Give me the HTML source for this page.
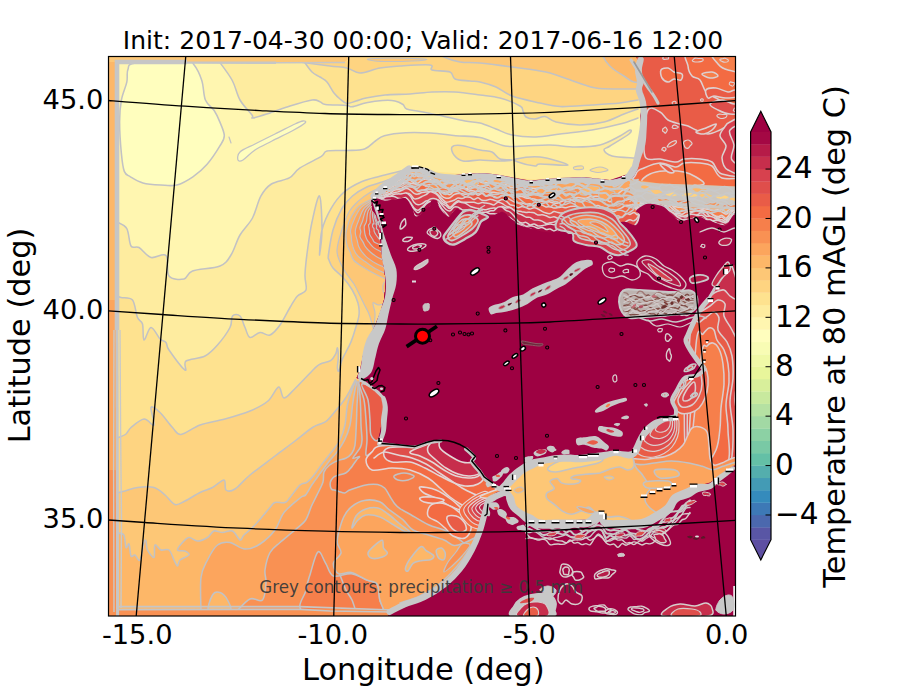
<!DOCTYPE html>
<html><head><meta charset="utf-8"><title>Temperature at 80 mAGL</title>
<style>
html,body{margin:0;padding:0;background:#fff;}
body{width:900px;height:700px;overflow:hidden;}
svg{display:block;}
text{font-family:"DejaVu Sans","Liberation Sans",sans-serif;fill:#000;}
</style></head><body>
<svg width="900" height="700" viewBox="0 0 900 700">
<rect width="900" height="700" fill="#fff"/>
<defs><clipPath id="ax"><rect x="108.5" y="56.5" width="627.0" height="559.5"/></clipPath><clipPath id="inner"><path d="M116.5 62.3 L345 62.3 L352 56 L760 56 L760 609 L116.5 609Z"/></clipPath></defs>
<g clip-path="url(#ax)">
<rect x="100" y="50" width="640" height="570" fill="#fdb768"/>
<rect x="100" y="300" width="20" height="170" fill="#fca55d"/>
<rect x="100" y="470" width="20" height="160" fill="#f99153"/>
<rect x="100" y="605" width="640" height="20" fill="#f99153"/>
<rect x="100" y="50" width="640" height="12" fill="#fdc776"/>
<rect x="116.5" y="62.3" width="640" height="546.7" fill="#fff6b0"/>
<g clip-path="url(#inner)">
<path d="M185.7 60.7C195.3 60.9 190.9 61 193.6 64.3C196.3 67.6 199.8 74.5 201.8 80.4C203.8 86.4 203.3 95 205.4 100C207.5 105 211.9 107.1 214.3 110.7C216.7 114.3 217.9 117.2 219.6 121.4C221.3 125.6 224.3 131.5 224.3 135.7C224.3 139.9 222.5 141.6 219.6 146.4C216.7 151.2 211.5 159.2 207.1 164.3C202.7 169.4 197.9 173.4 192.9 176.8C187.9 180.2 182.2 183.6 176.8 185C171.4 186.4 166.3 185.3 160.7 185C155 184.7 147.9 184.3 142.9 182.9C137.9 181.5 133.5 178.7 130.4 176.8C127.3 174.9 125.8 175.3 124.3 171.4C122.8 167.5 122.2 161.9 121.4 153.6C120.6 145.3 119.6 130.3 119.6 121.4C119.6 112.5 120.2 106.5 121.4 100C122.6 93.5 125.7 87.2 126.8 82.1C127.9 77 126.4 72.8 127.9 69.6C129.4 66.4 126.1 64.4 135.7 62.9C145.3 61.4 176 60.5 185.7 60.7Z" fill="#fffebe" stroke="#c2c2c4" stroke-width="1.55" stroke-linejoin="round" stroke-linecap="round"/>
<path d="M238 160C237.5 158.7 237.2 154.7 240 152C242.8 149.3 249.2 147 255 144C260.8 141 268.3 137.3 275 134C281.7 130.7 290.3 126.2 295 124C299.7 121.8 301.3 121.2 303 121C304.7 120.8 306.8 121.3 305 123C303.2 124.7 297.5 128 292 131C286.5 134 278.2 137.8 272 141C265.8 144.2 259.8 146.8 255 150C250.2 153.2 245.8 158.3 243 160C240.2 161.7 238.5 161.3 238 160Z" fill="#fffebe" stroke="#c2c2c4" stroke-width="1.3" stroke-linejoin="round" stroke-linecap="round"/>
<path d="M229 137 L231 143" fill="none" stroke="#c2c2c4" stroke-width="1.2" stroke-linejoin="round" stroke-linecap="round"/>
<path d="M218 60C220.3 63.3 228.3 73.3 232 80C235.7 86.7 236.7 94.2 240 100C243.3 105.8 249.8 112 252 115C254.2 118 250 118.3 253 118C256 117.7 263.8 115 270 113C276.2 111 283 108.2 290 106C297 103.8 307 100.7 312 100C317 99.3 317.8 101 320 101.8C322.2 102.5 320.9 103.9 325.4 104.5C329.9 105.1 342.4 105 346.8 105.4C351.2 105.8 348.7 107.2 352 106.8C355.3 106.3 361.3 103.8 366.4 102.7C371.5 101.7 377.7 100.8 382.5 100.5C387.3 100.2 391.6 100.2 395 100.9C398.4 101.6 401.1 103.2 403 104.5C404.9 105.8 403.8 107.8 406.6 109C409.4 110.2 414 110.4 420 111.6C426 112.8 435 114.4 442.5 116C450 117.6 458.8 119.8 465 121C471.2 122.2 474.8 121.7 480 123C485.2 124.3 490.7 127 496 129C501.3 131 505.3 133.7 512 135C518.7 136.3 528 137.2 536 137C544 136.8 550.7 135.2 560 134C569.3 132.8 582 131.7 592 130C602 128.3 612.3 126 620 124C627.7 122 635 119 638 118 L660 118 L660 40 L218 40Z" fill="#feec9f"/>
<path d="M218 60C220.3 63.3 228.3 73.3 232 80C235.7 86.7 236.7 94.2 240 100C243.3 105.8 249.8 112 252 115C254.2 118 250 118.3 253 118C256 117.7 263.8 115 270 113C276.2 111 283 108.2 290 106C297 103.8 307 100.7 312 100C317 99.3 317.8 101 320 101.8C322.2 102.5 320.9 103.9 325.4 104.5C329.9 105.1 342.4 105 346.8 105.4C351.2 105.8 348.7 107.2 352 106.8C355.3 106.3 361.3 103.8 366.4 102.7C371.5 101.7 377.7 100.8 382.5 100.5C387.3 100.2 391.6 100.2 395 100.9C398.4 101.6 401.1 103.2 403 104.5C404.9 105.8 403.8 107.8 406.6 109C409.4 110.2 414 110.4 420 111.6C426 112.8 435 114.4 442.5 116C450 117.6 458.8 119.8 465 121C471.2 122.2 474.8 121.7 480 123C485.2 124.3 490.7 127 496 129C501.3 131 505.3 133.7 512 135C518.7 136.3 528 137.2 536 137C544 136.8 550.7 135.2 560 134C569.3 132.8 582 131.7 592 130C602 128.3 612.3 126 620 124C627.7 122 635 119 638 118" fill="none" stroke="#c2c2c4" stroke-width="1.55" stroke-linejoin="round" stroke-linecap="round"/>
<path d="M303 60C304.5 62 309.2 69.2 312 72C314.8 74.8 317.5 75.3 320 77C322.5 78.7 324.7 79.3 327 82C329.3 84.7 331.8 90.2 334 93C336.2 95.8 337.8 97.2 340 99C342.2 100.8 344.3 103.2 347 103.5C349.7 103.8 352.8 101.9 356 101C359.2 100.1 361.2 99 366 98C370.8 97 377.7 95.7 385 95C392.3 94.3 402.2 94.5 410 94C417.8 93.5 424.5 92.3 432 92C439.5 91.7 447 91.5 455 92C463 92.5 472.5 94 480 95C487.5 96 493.3 96.2 500 98C506.7 99.8 516.2 103.8 520 106C523.8 108.2 522 109.2 523 111C524 112.8 524 115.7 526 117C528 118.3 531.8 119.1 535 119C538.2 118.9 541.5 116 545 116.5C548.5 117 550.2 120.6 556 122C561.8 123.4 572 125 580 125C588 125 596.7 123.8 604 122C611.3 120.2 618.3 116.2 624 114C629.7 111.8 635.7 109.8 638 109 L660 109 L660 40 L266 40Z" fill="#fee28f"/>
<path d="M303 60C304.5 62 309.2 69.2 312 72C314.8 74.8 317.5 75.3 320 77C322.5 78.7 324.7 79.3 327 82C329.3 84.7 331.8 90.2 334 93C336.2 95.8 337.8 97.2 340 99C342.2 100.8 344.3 103.2 347 103.5C349.7 103.8 352.8 101.9 356 101C359.2 100.1 361.2 99 366 98C370.8 97 377.7 95.7 385 95C392.3 94.3 402.2 94.5 410 94C417.8 93.5 424.5 92.3 432 92C439.5 91.7 447 91.5 455 92C463 92.5 472.5 94 480 95C487.5 96 493.3 96.2 500 98C506.7 99.8 516.2 103.8 520 106C523.8 108.2 522 109.2 523 111C524 112.8 524 115.7 526 117C528 118.3 531.8 119.1 535 119C538.2 118.9 541.5 116 545 116.5C548.5 117 550.2 120.6 556 122C561.8 123.4 572 125 580 125C588 125 596.7 123.8 604 122C611.3 120.2 618.3 116.2 624 114C629.7 111.8 635.7 109.8 638 109" fill="none" stroke="#c2c2c4" stroke-width="1.55" stroke-linejoin="round" stroke-linecap="round"/>
<path d="M300 62C305 62.7 322.2 65 330 66C337.8 67 342 66.8 347 68C352 69.2 354.5 73 360 73C365.5 73 373.3 69.2 380 68C386.7 66.8 391.7 66.5 400 66C408.3 65.5 424.7 64.3 430 65C435.3 65.7 428.7 68.8 432 70C435.3 71.2 446.2 70.5 450 72C453.8 73.5 451.7 77.5 455 79C458.3 80.5 465.8 80.5 470 81C474.2 81.5 475.7 81 480 82C484.3 83 490.7 84.7 496 87C501.3 89.3 504.7 93.3 512 96C519.3 98.7 532 101.2 540 103C548 104.8 551.3 106.3 560 106.6C568.7 106.9 582 105.6 592 105C602 104.4 612.3 103.8 620 103C627.7 102.2 635 100.5 638 100 L660 100 L660 40 L300 40Z" fill="#fed481"/>
<path d="M300 62C305 62.7 322.2 65 330 66C337.8 67 342 66.8 347 68C352 69.2 354.5 73 360 73C365.5 73 373.3 69.2 380 68C386.7 66.8 391.7 66.5 400 66C408.3 65.5 424.7 64.3 430 65C435.3 65.7 428.7 68.8 432 70C435.3 71.2 446.2 70.5 450 72C453.8 73.5 451.7 77.5 455 79C458.3 80.5 465.8 80.5 470 81C474.2 81.5 475.7 81 480 82C484.3 83 490.7 84.7 496 87C501.3 89.3 504.7 93.3 512 96C519.3 98.7 532 101.2 540 103C548 104.8 551.3 106.3 560 106.6C568.7 106.9 582 105.6 592 105C602 104.4 612.3 103.8 620 103C627.7 102.2 635 100.5 638 100" fill="none" stroke="#c2c2c4" stroke-width="1.55" stroke-linejoin="round" stroke-linecap="round"/>
<path d="M434 50C435.7 51.2 439.7 55 444 57C448.3 59 454 61 460 62C466 63 471.3 62.2 480 63C488.7 63.8 501 65.5 512 67C523 68.5 535.3 69.5 546 72C556.7 74.5 567.7 79.3 576 82C584.3 84.7 588.7 86.8 596 88C603.3 89.2 613.3 88.8 620 89C626.7 89.2 633.3 89 636 89 L660 89 L660 40 L434 40Z" fill="#fdc776"/>
<path d="M434 50C435.7 51.2 439.7 55 444 57C448.3 59 454 61 460 62C466 63 471.3 62.2 480 63C488.7 63.8 501 65.5 512 67C523 68.5 535.3 69.5 546 72C556.7 74.5 567.7 79.3 576 82C584.3 84.7 588.7 86.8 596 88C603.3 89.2 613.3 88.8 620 89C626.7 89.2 633.3 89 636 89" fill="none" stroke="#c2c2c4" stroke-width="1.55" stroke-linejoin="round" stroke-linecap="round"/>
<path d="M604 58C605.3 61 608.7 65 612 68C615.3 71 620.3 73.7 624 76C627.7 78.3 629.7 81.3 634 82C638.3 82.7 647.3 85.3 650 80C652.7 74.7 657.7 55 650 50C642.3 45 611.7 48.7 604 50C596.3 51.3 602.7 55 604 58Z" fill="#fdb768" stroke="#c2c2c4" stroke-width="1.55" stroke-linejoin="round" stroke-linecap="round"/>
<path d="M117 222C118.6 223.1 124.5 224.6 126.8 228.6C129.1 232.6 129 242.8 131 246C133 249.2 135.7 245.6 139 247.5C142.3 249.4 146.5 256.2 151 257.5C155.5 258.8 163 252.4 166 255.5C169 258.6 166 272.1 169 276C172 279.9 180.1 279.8 184 279C187.9 278.2 186.5 273.2 192.5 271C198.5 268.8 213.6 268.7 220 266C226.4 263.3 227.7 260.2 231 255C234.3 249.8 236.4 241.2 240 235C243.6 228.8 249.1 224.4 252.5 218C255.9 211.6 257.6 202.1 260.7 196.4C263.8 190.7 266.6 187.1 271.4 184C276.2 180.9 284.5 180.6 289.3 177.9C294.1 175.2 294.6 171.5 300 167.9C305.4 164.3 316.9 159.2 321.4 156.4C325.9 153.6 322.8 152 327 151C331.2 150 340.5 150.8 346.8 150.5C353.1 150.2 359.8 150.6 364.6 149C369.4 147.4 372.1 143.2 375.4 141C378.7 138.8 379.2 137.1 384.3 135.7C389.4 134.3 398 133.1 405.7 132.7C413.4 132.2 422.4 132.5 430.7 133C439 133.5 447.5 134.9 455.7 135.7C463.9 136.4 471.8 135.8 480 137.5C488.2 139.2 497.5 144.6 505 146C512.5 147.4 517.5 146.2 525 146C532.5 145.8 541.7 144.8 550 145C558.3 145.2 566.7 147 575 147C583.3 147 592.5 146.8 600 145C607.5 143.2 615 138.5 620 136C625 133.5 628.5 130.3 630 130C631.5 129.7 632.3 131.3 629 134C625.7 136.7 614.2 143.3 610 146C605.8 148.7 603.7 148.3 604 150C604.3 151.7 607 154.7 612 156C617 157.3 630.3 157.7 634 158 L660 158 L760 640 L100 640 L100 222Z" fill="#feec9f"/>
<path d="M117 222C118.6 223.1 124.5 224.6 126.8 228.6C129.1 232.6 129 242.8 131 246C133 249.2 135.7 245.6 139 247.5C142.3 249.4 146.5 256.2 151 257.5C155.5 258.8 163 252.4 166 255.5C169 258.6 166 272.1 169 276C172 279.9 180.1 279.8 184 279C187.9 278.2 186.5 273.2 192.5 271C198.5 268.8 213.6 268.7 220 266C226.4 263.3 227.7 260.2 231 255C234.3 249.8 236.4 241.2 240 235C243.6 228.8 249.1 224.4 252.5 218C255.9 211.6 257.6 202.1 260.7 196.4C263.8 190.7 266.6 187.1 271.4 184C276.2 180.9 284.5 180.6 289.3 177.9C294.1 175.2 294.6 171.5 300 167.9C305.4 164.3 316.9 159.2 321.4 156.4C325.9 153.6 322.8 152 327 151C331.2 150 340.5 150.8 346.8 150.5C353.1 150.2 359.8 150.6 364.6 149C369.4 147.4 372.1 143.2 375.4 141C378.7 138.8 379.2 137.1 384.3 135.7C389.4 134.3 398 133.1 405.7 132.7C413.4 132.2 422.4 132.5 430.7 133C439 133.5 447.5 134.9 455.7 135.7C463.9 136.4 471.8 135.8 480 137.5C488.2 139.2 497.5 144.6 505 146C512.5 147.4 517.5 146.2 525 146C532.5 145.8 541.7 144.8 550 145C558.3 145.2 566.7 147 575 147C583.3 147 592.5 146.8 600 145C607.5 143.2 615 138.5 620 136C625 133.5 628.5 130.3 630 130C631.5 129.7 632.3 131.3 629 134C625.7 136.7 614.2 143.3 610 146C605.8 148.7 603.7 148.3 604 150C604.3 151.7 607 154.7 612 156C617 157.3 630.3 157.7 634 158" fill="none" stroke="#c2c2c4" stroke-width="1.55" stroke-linejoin="round" stroke-linecap="round"/>
<path d="M452 147C453.2 145.4 456.3 145 461 145.5C465.7 146 474.8 148.9 480 150C485.2 151.1 488.7 150.5 492 152C495.3 153.5 496.7 157.7 500 159C503.3 160.3 512.7 159.7 512 160C511.3 160.3 501.3 161 496 161C490.7 161 485.5 160 480 160C474.5 160 467.3 161.8 463 161C458.7 160.2 455.8 157.3 454 155C452.2 152.7 450.8 148.6 452 147Z" fill="#fee28f" stroke="#c2c2c4" stroke-width="1.55" stroke-linejoin="round" stroke-linecap="round"/>
<path d="M516 159C519.7 158.2 531.3 156 540 157C548.7 158 568 163.8 568 165C568 166.2 545.5 163.8 540 164C534.5 164.2 538.7 166.3 535 166C531.3 165.7 521.2 163.2 518 162C514.8 160.8 512.3 159.8 516 159Z" fill="#fee28f" stroke="#c2c2c4" stroke-width="1.55" stroke-linejoin="round" stroke-linecap="round"/>
<path d="M574 167C575.2 166.4 580.5 165.7 582 166C583.5 166.3 584.2 168.4 583 169C581.8 169.6 576.5 169.8 575 169.5C573.5 169.2 572.8 167.6 574 167Z" fill="#fee28f" stroke="#c2c2c4" stroke-width="1.1" stroke-linejoin="round" stroke-linecap="round"/>
<path d="M590 170C590.3 169.1 597 167 600 167C603 167 608.3 169.1 608 170C607.7 170.9 601 172.5 598 172.5C595 172.5 589.7 170.9 590 170Z" fill="#fee28f" stroke="#c2c2c4" stroke-width="1.1" stroke-linejoin="round" stroke-linecap="round"/>
<path d="M368 59C370.5 58.5 382.7 58.1 390 58C397.3 57.9 405.8 58.2 412 58.5C418.2 58.8 427 59.1 427 59.5C427 59.9 418.2 60.7 412 61C405.8 61.3 396.2 61.5 390 61.5C383.8 61.5 378.7 61.4 375 61C371.3 60.6 365.5 59.5 368 59Z" fill="#fdc776" stroke="#c2c2c4" stroke-width="1.1" stroke-linejoin="round" stroke-linecap="round"/>
<path d="M117 296C117.7 296.2 118.4 296.8 121 297.5C123.6 298.2 129.8 296.7 132.5 300C135.2 303.3 135.8 313.5 137.5 317.5C139.2 321.5 141.4 320.2 142.5 324C143.6 327.8 142.6 339.4 144 340C145.4 340.6 148.3 327.7 151 327.5C153.7 327.3 157.5 336.5 160 339C162.5 341.5 164.5 340.7 166 342.5C167.5 344.3 165.8 345.4 169 350C172.2 354.6 182.2 368.2 185 370C187.8 371.8 182.7 363.3 186 361C189.3 358.7 199.8 358.7 205 356C210.2 353.3 213.3 349.8 217.5 345C221.7 340.2 227.5 332.3 230 327.5C232.5 322.7 230.8 317.9 232.5 316C234.2 314.1 237.9 314.1 240 316C242.1 317.9 243.3 323.9 245 327.5C246.7 331.1 247.5 336.7 250 337.5C252.5 338.3 256.7 332.9 260 332.5C263.3 332.1 266.7 336.2 270 335C273.3 333.8 276.7 329.6 280 325C283.3 320.4 287.1 312.3 290 307.5C292.9 302.7 294.8 298.9 297.5 296C300.2 293.1 304.8 293.5 306 290C307.2 286.5 304.8 281.7 305 275C305.2 268.3 306.3 258.8 307.5 250C308.7 241.2 310 231 312 222C314 213 317.8 194.7 319.5 196C321.2 197.3 322 220.2 322 230C322 239.8 319.5 255 319.5 255C319.5 255 320.1 237.7 322 230C323.9 222.3 327.4 214.8 331 208.6C334.6 202.3 338.5 197 343.6 192.5C348.7 188 355.5 184.5 361.4 181.8C367.3 179.1 373.1 178 379 176.4C384.9 174.8 392.2 173.1 397 172C401.8 170.9 406.2 170 408 169.6 L700 192 L760 640 L100 640 L100 296Z" fill="#fee28f"/>
<path d="M117 296C117.7 296.2 118.4 296.8 121 297.5C123.6 298.2 129.8 296.7 132.5 300C135.2 303.3 135.8 313.5 137.5 317.5C139.2 321.5 141.4 320.2 142.5 324C143.6 327.8 142.6 339.4 144 340C145.4 340.6 148.3 327.7 151 327.5C153.7 327.3 157.5 336.5 160 339C162.5 341.5 164.5 340.7 166 342.5C167.5 344.3 165.8 345.4 169 350C172.2 354.6 182.2 368.2 185 370C187.8 371.8 182.7 363.3 186 361C189.3 358.7 199.8 358.7 205 356C210.2 353.3 213.3 349.8 217.5 345C221.7 340.2 227.5 332.3 230 327.5C232.5 322.7 230.8 317.9 232.5 316C234.2 314.1 237.9 314.1 240 316C242.1 317.9 243.3 323.9 245 327.5C246.7 331.1 247.5 336.7 250 337.5C252.5 338.3 256.7 332.9 260 332.5C263.3 332.1 266.7 336.2 270 335C273.3 333.8 276.7 329.6 280 325C283.3 320.4 287.1 312.3 290 307.5C292.9 302.7 294.8 298.9 297.5 296C300.2 293.1 304.8 293.5 306 290C307.2 286.5 304.8 281.7 305 275C305.2 268.3 306.3 258.8 307.5 250C308.7 241.2 310 231 312 222C314 213 317.8 194.7 319.5 196C321.2 197.3 322 220.2 322 230C322 239.8 319.5 255 319.5 255C319.5 255 320.1 237.7 322 230C323.9 222.3 327.4 214.8 331 208.6C334.6 202.3 338.5 197 343.6 192.5C348.7 188 355.5 184.5 361.4 181.8C367.3 179.1 373.1 178 379 176.4C384.9 174.8 392.2 173.1 397 172C401.8 170.9 406.2 170 408 169.6" fill="none" stroke="#c2c2c4" stroke-width="1.55" stroke-linejoin="round" stroke-linecap="round"/>
<path d="M117 438C118.5 437.3 123.7 435.8 126 434C128.3 432.2 128 430 131 427.5C134 425 140.2 419.4 144 419C147.8 418.6 152.8 426.9 154 425C155.2 423.1 150 409.6 151 407.5C152 405.4 156.4 409.2 160 412.5C163.6 415.8 169 423.8 172.5 427.5C176 431.2 176.4 434.9 181 434.5C185.6 434.1 192.7 427.6 200 425C207.3 422.4 216.7 421.3 225 419C233.3 416.7 242.8 414 250 411C257.2 408 263.2 405 268 401C272.8 397 275.9 387.5 278.6 387C281.3 386.5 281.3 397.7 284 398C286.7 398.3 289.6 393.8 294.6 389C299.6 384.2 309.7 373.2 314 369C318.3 364.8 317.5 365.4 320.3 364C323.1 362.6 328 362.4 330.6 360.7C333.2 359 334.6 356 335.7 353.9C336.8 351.8 337 347.3 337.4 347.9C337.8 348.5 338.3 354 338.3 357.3C338.3 360.6 337.3 365.3 337.4 367.6C337.5 369.9 338.3 372.1 339 371C339.7 369.9 340.5 363.9 341.7 360.7C342.9 357.5 344.4 355.1 346 352C347.6 348.9 349.5 345.6 351 341.9C352.5 338.2 353.7 334.5 355 330C356.3 325.5 358.5 319.5 359 315C359.5 310.5 359.2 307.2 358 303C356.8 298.8 354.5 293.8 352 289.5C349.5 285.2 346.2 281.1 343 277.5C339.8 273.9 335.3 270.9 333 268C330.7 265.1 329.8 262.2 329 260C328.2 257.8 327.7 260 328.4 255C329.1 250 330.8 237.7 333 230C335.2 222.3 338.6 214.3 341.8 208.6C345.1 202.9 348.3 199.6 352.5 196C356.7 192.4 361.7 189.4 366.8 187C371.9 184.6 378 183.6 383 181.8C388 180 394.7 177.3 397 176.4 L700 196 L760 640 L100 640 L100 438Z" fill="#fed481"/>
<path d="M117 438C118.5 437.3 123.7 435.8 126 434C128.3 432.2 128 430 131 427.5C134 425 140.2 419.4 144 419C147.8 418.6 152.8 426.9 154 425C155.2 423.1 150 409.6 151 407.5C152 405.4 156.4 409.2 160 412.5C163.6 415.8 169 423.8 172.5 427.5C176 431.2 176.4 434.9 181 434.5C185.6 434.1 192.7 427.6 200 425C207.3 422.4 216.7 421.3 225 419C233.3 416.7 242.8 414 250 411C257.2 408 263.2 405 268 401C272.8 397 275.9 387.5 278.6 387C281.3 386.5 281.3 397.7 284 398C286.7 398.3 289.6 393.8 294.6 389C299.6 384.2 309.7 373.2 314 369C318.3 364.8 317.5 365.4 320.3 364C323.1 362.6 328 362.4 330.6 360.7C333.2 359 334.6 356 335.7 353.9C336.8 351.8 337 347.3 337.4 347.9C337.8 348.5 338.3 354 338.3 357.3C338.3 360.6 337.3 365.3 337.4 367.6C337.5 369.9 338.3 372.1 339 371C339.7 369.9 340.5 363.9 341.7 360.7C342.9 357.5 344.4 355.1 346 352C347.6 348.9 349.5 345.6 351 341.9C352.5 338.2 353.7 334.5 355 330C356.3 325.5 358.5 319.5 359 315C359.5 310.5 359.2 307.2 358 303C356.8 298.8 354.5 293.8 352 289.5C349.5 285.2 346.2 281.1 343 277.5C339.8 273.9 335.3 270.9 333 268C330.7 265.1 329.8 262.2 329 260C328.2 257.8 327.7 260 328.4 255C329.1 250 330.8 237.7 333 230C335.2 222.3 338.6 214.3 341.8 208.6C345.1 202.9 348.3 199.6 352.5 196C356.7 192.4 361.7 189.4 366.8 187C371.9 184.6 378 183.6 383 181.8C388 180 394.7 177.3 397 176.4" fill="none" stroke="#c2c2c4" stroke-width="1.55" stroke-linejoin="round" stroke-linecap="round"/>
<path d="M383 187C380.8 187.9 374.2 190.1 370 192.5C365.8 194.9 361.5 198.2 358 201.4C354.5 204.7 351.7 207.2 349 212C346.3 216.8 343.8 223.7 341.8 230C339.8 236.3 337.3 244.7 337 250C336.7 255.3 338.5 258.2 340 262C341.5 265.8 343.7 269.3 346 273C348.3 276.7 351.7 280.2 354 284C356.3 287.8 358.3 292.4 360 295.7C361.7 299 362.6 301.1 364 304C365.4 306.9 367.4 310.1 368.6 313C369.8 315.9 370.6 318.7 371.4 321.4C372.2 324.1 373.1 328.6 373.6 329C374.1 329.4 374.1 326.7 374.3 324C374.5 321.3 375.2 316.5 375 313C374.8 309.5 372.4 304.3 373 303C373.6 301.7 376.1 305 378.6 305C381.1 305 386.4 303.3 388 303 L400 303 L400 187Z" fill="#fdc776"/>
<path d="M383 187C380.8 187.9 374.2 190.1 370 192.5C365.8 194.9 361.5 198.2 358 201.4C354.5 204.7 351.7 207.2 349 212C346.3 216.8 343.8 223.7 341.8 230C339.8 236.3 337.3 244.7 337 250C336.7 255.3 338.5 258.2 340 262C341.5 265.8 343.7 269.3 346 273C348.3 276.7 351.7 280.2 354 284C356.3 287.8 358.3 292.4 360 295.7C361.7 299 362.6 301.1 364 304C365.4 306.9 367.4 310.1 368.6 313C369.8 315.9 370.6 318.7 371.4 321.4C372.2 324.1 373.1 328.6 373.6 329C374.1 329.4 374.1 326.7 374.3 324C374.5 321.3 375.2 316.5 375 313C374.8 309.5 372.4 304.3 373 303C373.6 301.7 376.1 305 378.6 305C381.1 305 386.4 303.3 388 303" fill="none" stroke="#c2c2c4" stroke-width="1.2" stroke-linejoin="round" stroke-linecap="round"/>
<path d="M373 198.5C370.7 199.8 362.9 202.8 359.1 206C355.4 209.2 352.7 213.8 350.6 218C348.4 222.2 347.1 227.6 346.3 231C345.5 234.4 345.9 235.8 346 238.2C346.1 240.6 346.4 243.1 347.1 245.4C347.8 247.7 348.9 249.4 350 251.8C351.1 254.2 351.6 257.6 353.6 260C355.6 262.4 358.3 264 361.8 266.3C365.3 268.6 370.1 271.4 374.8 273.8C379.5 276.2 387.6 279.8 390.1 281 L400 281 L400 198Z" fill="#fdb768"/>
<path d="M373 198.5C370.7 199.8 362.9 202.8 359.1 206C355.4 209.2 352.7 213.8 350.6 218C348.4 222.2 347.1 227.6 346.3 231C345.5 234.4 345.9 235.8 346 238.2C346.1 240.6 346.4 243.1 347.1 245.4C347.8 247.7 348.9 249.4 350 251.8C351.1 254.2 351.6 257.6 353.6 260C355.6 262.4 358.3 264 361.8 266.3C365.3 268.6 370.1 271.4 374.8 273.8C379.5 276.2 387.6 279.8 390.1 281" fill="none" stroke="#c2c2c4" stroke-width="1.2" stroke-linejoin="round" stroke-linecap="round"/>
<path d="M373.4 199.5C371.4 200.8 364.5 204.1 361.3 207.3C358.1 210.5 356.2 215.2 354.4 218.9C352.6 222.7 351.1 226.9 350.6 229.8C350.1 232.7 351.1 234.1 351.3 236.2C351.5 238.3 351.4 239.9 351.8 242.2C352.2 244.4 352.9 247.4 353.9 249.7C354.9 252 356 254 357.9 256C359.8 258 362.2 259.4 365.1 261.5C368.1 263.6 371.5 266.4 375.6 268.7C379.7 270.9 387.2 273.9 389.5 275 L400 275 L400 198Z" fill="#fca55d"/>
<path d="M373.4 199.5C371.4 200.8 364.5 204.1 361.3 207.3C358.1 210.5 356.2 215.2 354.4 218.9C352.6 222.7 351.1 226.9 350.6 229.8C350.1 232.7 351.1 234.1 351.3 236.2C351.5 238.3 351.4 239.9 351.8 242.2C352.2 244.4 352.9 247.4 353.9 249.7C354.9 252 356 254 357.9 256C359.8 258 362.2 259.4 365.1 261.5C368.1 263.6 371.5 266.4 375.6 268.7C379.7 270.9 387.2 273.9 389.5 275" fill="none" stroke="#c2c2c4" stroke-width="1.2" stroke-linejoin="round" stroke-linecap="round"/>
<path d="M373.8 200.5C372.1 201.8 366.3 205.4 363.9 208.6C361.4 211.8 360.2 216.5 358.9 219.8C357.5 223.1 356.3 226.3 355.7 228.6C355.1 230.9 355.2 231.8 355.4 233.7C355.6 235.6 356.6 238 357.1 240.1C357.7 242.2 357.8 244.4 358.7 246.4C359.6 248.4 360.8 250.4 362.3 252.3C363.8 254.2 365.2 256 367.6 257.9C370 259.8 372.9 261.9 376.5 263.8C380.1 265.7 386.8 268.1 388.9 269 L400 269 L400 198Z" fill="#f99153"/>
<path d="M373.8 200.5C372.1 201.8 366.3 205.4 363.9 208.6C361.4 211.8 360.2 216.5 358.9 219.8C357.5 223.1 356.3 226.3 355.7 228.6C355.1 230.9 355.2 231.8 355.4 233.7C355.6 235.6 356.6 238 357.1 240.1C357.7 242.2 357.8 244.4 358.7 246.4C359.6 248.4 360.8 250.4 362.3 252.3C363.8 254.2 365.2 256 367.6 257.9C370 259.8 372.9 261.9 376.5 263.8C380.1 265.7 386.8 268.1 388.9 269" fill="none" stroke="#c2c2c4" stroke-width="1.2" stroke-linejoin="round" stroke-linecap="round"/>
<path d="M374.2 201.5C372.8 202.9 367.9 206.7 366 209.9C364.1 213.1 363.6 217.8 362.6 220.7C361.6 223.6 360.3 225.6 360 227.4C359.7 229.2 360.8 230.2 360.8 231.8C360.8 233.4 359.6 235.2 360 236.9C360.4 238.6 362.2 240.4 363.1 242.1C364 243.8 364.3 245.2 365.5 246.9C366.7 248.6 368.3 250.3 370.3 252C372.3 253.7 374.5 255.5 377.5 257.2C380.5 258.9 386.4 261.2 388.2 262 L400 262 L400 198Z" fill="#f67f4b"/>
<path d="M374.2 201.5C372.8 202.9 367.9 206.7 366 209.9C364.1 213.1 363.6 217.8 362.6 220.7C361.6 223.6 360.3 225.6 360 227.4C359.7 229.2 360.8 230.2 360.8 231.8C360.8 233.4 359.6 235.2 360 236.9C360.4 238.6 362.2 240.4 363.1 242.1C364 243.8 364.3 245.2 365.5 246.9C366.7 248.6 368.3 250.3 370.3 252C372.3 253.7 374.5 255.5 377.5 257.2C380.5 258.9 386.4 261.2 388.2 262" fill="none" stroke="#c2c2c4" stroke-width="1.2" stroke-linejoin="round" stroke-linecap="round"/>
<path d="M374.6 202.5C373.5 203.9 369.5 208 368.1 211.2C366.8 214.4 367.1 219.1 366.4 221.6C365.8 224.1 364.6 224.6 364.3 226.2C364 227.8 364.4 229.4 364.5 230.9C364.6 232.4 364.8 233.6 365.2 235C365.6 236.4 366.2 238 366.8 239.2C367.4 240.4 367.8 240.8 368.9 242.2C370 243.6 371.6 245.9 373.4 247.4C375.2 248.9 377.2 249.7 379.6 251C382 252.3 386.2 254.3 387.5 255 L400 255 L400 198Z" fill="#f36b43"/>
<path d="M374.6 202.5C373.5 203.9 369.5 208 368.1 211.2C366.8 214.4 367.1 219.1 366.4 221.6C365.8 224.1 364.6 224.6 364.3 226.2C364 227.8 364.4 229.4 364.5 230.9C364.6 232.4 364.8 233.6 365.2 235C365.6 236.4 366.2 238 366.8 239.2C367.4 240.4 367.8 240.8 368.9 242.2C370 243.6 371.6 245.9 373.4 247.4C375.2 248.9 377.2 249.7 379.6 251C382 252.3 386.2 254.3 387.5 255" fill="none" stroke="#c2c2c4" stroke-width="1.2" stroke-linejoin="round" stroke-linecap="round"/>
<path d="M375 203.5C374.2 205 371.1 209.3 370.3 212.5C369.5 215.7 370.5 220.4 370.2 222.5C369.9 224.6 368.8 224.1 368.6 225C368.4 225.9 368.8 226.9 369 228C369.2 229.1 369.5 230.7 369.6 231.8C369.7 232.9 369.2 233.3 369.7 234.5C370.2 235.7 371.8 237.9 372.6 239.2C373.4 240.5 373.3 241.4 374.5 242.3C375.7 243.2 377.8 243.6 379.9 244.7C382 245.8 385.7 247.9 386.9 248.6 L400 248.6 L400 198Z" fill="#e95c47"/>
<path d="M375 203.5C374.2 205 371.1 209.3 370.3 212.5C369.5 215.7 370.5 220.4 370.2 222.5C369.9 224.6 368.8 224.1 368.6 225C368.4 225.9 368.8 226.9 369 228C369.2 229.1 369.5 230.7 369.6 231.8C369.7 232.9 369.2 233.3 369.7 234.5C370.2 235.7 371.8 237.9 372.6 239.2C373.4 240.5 373.3 241.4 374.5 242.3C375.7 243.2 377.8 243.6 379.9 244.7C382 245.8 385.7 247.9 386.9 248.6" fill="none" stroke="#c2c2c4" stroke-width="1.2" stroke-linejoin="round" stroke-linecap="round"/>
<path d="M375.4 204.5C374.9 206.1 372.7 210.7 372.4 213.8C372.2 217 373.9 221.7 374 223.4C374.1 225.1 373.1 223.2 372.9 223.8C372.7 224.4 372.4 226.1 372.6 226.9C372.8 227.7 373.6 227.8 373.9 228.6C374.2 229.3 373.9 230.4 374.2 231.4C374.5 232.4 375.1 233.4 375.8 234.5C376.5 235.6 377.6 237.1 378.5 238.2C379.4 239.3 380 240.2 381.3 241C382.6 241.8 385.5 242.7 386.3 243 L400 243 L400 198Z" fill="#df4e4b"/>
<path d="M375.4 204.5C374.9 206.1 372.7 210.7 372.4 213.8C372.2 217 373.9 221.7 374 223.4C374.1 225.1 373.1 223.2 372.9 223.8C372.7 224.4 372.4 226.1 372.6 226.9C372.8 227.7 373.6 227.8 373.9 228.6C374.2 229.3 373.9 230.4 374.2 231.4C374.5 232.4 375.1 233.4 375.8 234.5C376.5 235.6 377.6 237.1 378.5 238.2C379.4 239.3 380 240.2 381.3 241C382.6 241.8 385.5 242.7 386.3 243" fill="none" stroke="#c2c2c4" stroke-width="1.2" stroke-linejoin="round" stroke-linecap="round"/>
<path d="M375.8 205.5C375.5 207.1 374 212 374.1 215.1C374.3 218.2 376.6 223.1 377 224.3C377.3 225.6 376.5 222.6 376.3 222.6C376.1 222.6 375.9 223.5 376 224.1C376.1 224.7 376.6 225.3 376.7 226.1C376.8 226.8 376.2 227.9 376.5 228.6C376.8 229.3 377.9 229.5 378.3 230.3C378.7 231.1 378.3 232.5 378.9 233.4C379.5 234.3 380.8 235 381.9 235.6C383 236.2 385.1 236.8 385.7 237 L400 237 L400 198Z" fill="#d7414e"/>
<path d="M375.8 205.5C375.5 207.1 374 212 374.1 215.1C374.3 218.2 376.6 223.1 377 224.3C377.3 225.6 376.5 222.6 376.3 222.6C376.1 222.6 375.9 223.5 376 224.1C376.1 224.7 376.6 225.3 376.7 226.1C376.8 226.8 376.2 227.9 376.5 228.6C376.8 229.3 377.9 229.5 378.3 230.3C378.7 231.1 378.3 232.5 378.9 233.4C379.5 234.3 380.8 235 381.9 235.6C383 236.2 385.1 236.8 385.7 237" fill="none" stroke="#c2c2c4" stroke-width="1.2" stroke-linejoin="round" stroke-linecap="round"/>
<path d="M376.2 206.5C376.1 208.2 374.8 213.3 375.3 216.4C375.8 219.5 378.5 224.4 379 225.2C379.6 226 378.6 221.8 378.6 221.4C378.6 221 379.3 222.1 379.3 222.6C379.3 223.1 378.7 223.7 378.7 224.2C378.7 224.7 379.2 225.1 379.4 225.6C379.6 226.1 379.5 226.6 379.9 227.1C380.3 227.6 381.4 227.8 381.8 228.3C382.2 228.8 382.1 229.5 382.6 229.9C383.2 230.3 384.7 230.8 385.1 231 L400 231 L400 198Z" fill="#c72e4c"/>
<path d="M376.2 206.5C376.1 208.2 374.8 213.3 375.3 216.4C375.8 219.5 378.5 224.4 379 225.2C379.6 226 378.6 221.8 378.6 221.4C378.6 221 379.3 222.1 379.3 222.6C379.3 223.1 378.7 223.7 378.7 224.2C378.7 224.7 379.2 225.1 379.4 225.6C379.6 226.1 379.5 226.6 379.9 227.1C380.3 227.6 381.4 227.8 381.8 228.3C382.2 228.8 382.1 229.5 382.6 229.9C383.2 230.3 384.7 230.8 385.1 231" fill="none" stroke="#c2c2c4" stroke-width="1.2" stroke-linejoin="round" stroke-linecap="round"/>
<path d="M383.5 283.5C384.1 282.2 385.8 281 386.5 282C387.2 283 388.2 287.5 388 289.5C387.8 291.5 385.9 294 385 294C384.1 294 383 291.2 382.8 289.5C382.5 287.8 382.9 284.8 383.5 283.5Z" fill="#fdb768" stroke="#c2c2c4" stroke-width="1.1" stroke-linejoin="round" stroke-linecap="round"/>
<path d="M117 493C118.3 492.7 121.6 491.9 125 491C128.4 490.1 132.7 488.1 137.5 487.5C142.3 486.9 149.4 486.2 154 487.5C158.6 488.8 161.5 492.2 165 495C168.5 497.8 171.7 503.5 175 504.5C178.3 505.5 180.8 503 185 501C189.2 499 195.4 494.8 200 492.5C204.6 490.2 208.5 489.6 212.5 487.5C216.5 485.4 221.8 479.6 224 480C226.2 480.4 224.2 488.5 226 490C227.8 491.5 231 491.5 235 489C239 486.5 243.3 480.5 250 475C256.7 469.5 267.5 461.7 275 456C282.5 450.3 288.8 445.8 295 441C301.2 436.2 308.3 430.3 312.5 427.5C316.7 424.7 317.9 425.1 320.3 424C322.7 422.9 324.1 423.2 327 420.7C329.9 418.1 334.5 412.1 337.4 408.7C340.3 405.2 342.3 402.9 344.3 400C346.3 397.1 348 394.2 349.4 391.6C350.8 389.1 351.9 386.7 352.9 384.7C353.9 382.7 355 380.5 355.4 379.6 L420 379 L760 640 L100 640 L100 493Z" fill="#fdc776"/>
<path d="M117 493C118.3 492.7 121.6 491.9 125 491C128.4 490.1 132.7 488.1 137.5 487.5C142.3 486.9 149.4 486.2 154 487.5C158.6 488.8 161.5 492.2 165 495C168.5 497.8 171.7 503.5 175 504.5C178.3 505.5 180.8 503 185 501C189.2 499 195.4 494.8 200 492.5C204.6 490.2 208.5 489.6 212.5 487.5C216.5 485.4 221.8 479.6 224 480C226.2 480.4 224.2 488.5 226 490C227.8 491.5 231 491.5 235 489C239 486.5 243.3 480.5 250 475C256.7 469.5 267.5 461.7 275 456C282.5 450.3 288.8 445.8 295 441C301.2 436.2 308.3 430.3 312.5 427.5C316.7 424.7 317.9 425.1 320.3 424C322.7 422.9 324.1 423.2 327 420.7C329.9 418.1 334.5 412.1 337.4 408.7C340.3 405.2 342.3 402.9 344.3 400C346.3 397.1 348 394.2 349.4 391.6C350.8 389.1 351.9 386.7 352.9 384.7C353.9 382.7 355 380.5 355.4 379.6" fill="none" stroke="#c2c2c4" stroke-width="1.55" stroke-linejoin="round" stroke-linecap="round"/>
<path d="M117 533C118.1 533.3 122.2 532.6 123.8 535C125.2 537.4 125.1 546 126 547.5C126.9 549 128.2 542.6 129 544C129.8 545.4 130 554.2 131 556C132 557.8 133.5 554.3 135 555C136.5 555.7 138.5 562.1 140 560C141.5 557.9 143 545.7 144 542.5C145 539.3 145.4 539.8 146 541C146.6 542.2 146.2 547.2 147.5 550C148.8 552.8 152.8 558.3 154 557.5C155.2 556.7 153.8 546.2 155 545C156.2 543.8 158.7 549.2 161 550C163.3 550.8 166.8 548.3 169 550C171.2 551.7 172.6 557.3 174 560C175.4 562.7 176.5 566 177.5 566C178.5 566 178.1 561.8 180 560C181.9 558.2 188.2 556.5 189 555C189.8 553.5 186.9 551.8 185 551C183.1 550.2 177.9 551.4 177.5 550C177.1 548.6 180.6 544.6 182.5 542.5C184.4 540.4 186.5 537.8 189 537.5C191.5 537.2 194.4 541 197.5 541C200.6 541 204.8 539.2 207.5 537.5C210.2 535.8 211.5 531.8 214 531C216.5 530.2 219.4 532.5 222.5 532.5C225.6 532.5 229.6 529.8 232.5 531C235.4 532.2 238.1 539.3 240 540C241.9 540.7 241.5 537.5 244 535C246.5 532.5 250.7 529.6 255 525C259.3 520.4 266.7 511.2 270 507.5C273.3 503.8 272.5 503.3 275 502.5C277.5 501.7 282.5 503.3 285 502.5C287.5 501.7 287.5 500.4 290 497.5C292.5 494.6 297.2 487.5 300 485C302.8 482.5 304.6 483.9 306.9 482.3C309.2 480.7 311 478.6 313.7 475.4C316.4 472.2 319.8 466.9 322.9 462.9C325.9 458.9 329.1 455.2 332 451.4C334.9 447.6 337.8 444.4 340 440C342.2 435.6 343.8 430.8 345 425C346.2 419.2 346.3 410.8 347.5 405C348.7 399.2 350.6 394.1 352 390C353.4 385.9 355.3 382.1 356 380.5 L420 380 L760 640 L100 640 L100 533Z" fill="#fdb768"/>
<path d="M117 533C118.1 533.3 122.2 532.6 123.8 535C125.2 537.4 125.1 546 126 547.5C126.9 549 128.2 542.6 129 544C129.8 545.4 130 554.2 131 556C132 557.8 133.5 554.3 135 555C136.5 555.7 138.5 562.1 140 560C141.5 557.9 143 545.7 144 542.5C145 539.3 145.4 539.8 146 541C146.6 542.2 146.2 547.2 147.5 550C148.8 552.8 152.8 558.3 154 557.5C155.2 556.7 153.8 546.2 155 545C156.2 543.8 158.7 549.2 161 550C163.3 550.8 166.8 548.3 169 550C171.2 551.7 172.6 557.3 174 560C175.4 562.7 176.5 566 177.5 566C178.5 566 178.1 561.8 180 560C181.9 558.2 188.2 556.5 189 555C189.8 553.5 186.9 551.8 185 551C183.1 550.2 177.9 551.4 177.5 550C177.1 548.6 180.6 544.6 182.5 542.5C184.4 540.4 186.5 537.8 189 537.5C191.5 537.2 194.4 541 197.5 541C200.6 541 204.8 539.2 207.5 537.5C210.2 535.8 211.5 531.8 214 531C216.5 530.2 219.4 532.5 222.5 532.5C225.6 532.5 229.6 529.8 232.5 531C235.4 532.2 238.1 539.3 240 540C241.9 540.7 241.5 537.5 244 535C246.5 532.5 250.7 529.6 255 525C259.3 520.4 266.7 511.2 270 507.5C273.3 503.8 272.5 503.3 275 502.5C277.5 501.7 282.5 503.3 285 502.5C287.5 501.7 287.5 500.4 290 497.5C292.5 494.6 297.2 487.5 300 485C302.8 482.5 304.6 483.9 306.9 482.3C309.2 480.7 311 478.6 313.7 475.4C316.4 472.2 319.8 466.9 322.9 462.9C325.9 458.9 329.1 455.2 332 451.4C334.9 447.6 337.8 444.4 340 440C342.2 435.6 343.8 430.8 345 425C346.2 419.2 346.3 410.8 347.5 405C348.7 399.2 350.6 394.1 352 390C353.4 385.9 355.3 382.1 356 380.5" fill="none" stroke="#c2c2c4" stroke-width="1.55" stroke-linejoin="round" stroke-linecap="round"/>
<path d="M201 612C201 606.2 199.9 586.2 201 577.5C202.1 568.8 204.8 565.4 207.5 560C210.2 554.6 213.8 547.9 217.5 545C221.2 542.1 225.4 541.8 230 542.5C234.6 543.2 240 548.8 245 549C250 549.2 255 547.2 260 544C265 540.8 271 535.2 275 530C279 524.8 279.8 517.8 284 512.5C288.2 507.2 296.4 500.9 300 498C303.6 495.1 303.8 496.9 305.7 494.9C307.6 492.8 309.5 488.6 311.4 485.7C313.3 482.8 315.1 480.4 317 477.7C318.9 475 320.8 472.5 322.9 469.7C325 466.9 327.4 463.5 329.7 460.6C332 457.8 334.1 456 336.6 452.6C339.1 449.2 342.4 444.6 344.6 440C346.8 435.4 348.7 430.8 350 425C351.3 419.2 351.7 410.8 352.5 405C353.3 399.2 354.2 393.9 355 390C355.8 386.1 356.7 382.9 357 381.5 L420 381 L760 640 L201 640Z" fill="#fca55d"/>
<path d="M201 612C201 606.2 199.9 586.2 201 577.5C202.1 568.8 204.8 565.4 207.5 560C210.2 554.6 213.8 547.9 217.5 545C221.2 542.1 225.4 541.8 230 542.5C234.6 543.2 240 548.8 245 549C250 549.2 255 547.2 260 544C265 540.8 271 535.2 275 530C279 524.8 279.8 517.8 284 512.5C288.2 507.2 296.4 500.9 300 498C303.6 495.1 303.8 496.9 305.7 494.9C307.6 492.8 309.5 488.6 311.4 485.7C313.3 482.8 315.1 480.4 317 477.7C318.9 475 320.8 472.5 322.9 469.7C325 466.9 327.4 463.5 329.7 460.6C332 457.8 334.1 456 336.6 452.6C339.1 449.2 342.4 444.6 344.6 440C346.8 435.4 348.7 430.8 350 425C351.3 419.2 351.7 410.8 352.5 405C353.3 399.2 354.2 393.9 355 390C355.8 386.1 356.7 382.9 357 381.5" fill="none" stroke="#c2c2c4" stroke-width="1.55" stroke-linejoin="round" stroke-linecap="round"/>
<path d="M209 612C206.1 609.2 210.7 598.2 212.5 595C214.3 591.8 217.5 591.7 220 592.5C222.5 593.3 225.8 596.8 227.5 600C229.2 603.2 233.1 610 230 612C226.9 614 211.9 614.8 209 612Z" fill="#fdb768" stroke="#c2c2c4" stroke-width="1.55" stroke-linejoin="round" stroke-linecap="round"/>
<path d="M236 612C238.3 609.8 245.6 601 250 599C254.4 597 259.8 602.8 262.5 600C265.2 597.2 265.6 587.5 266 582.5C266.4 577.5 264.3 575 265 570C265.7 565 267.5 557.1 270 552.5C272.5 547.9 275.8 546.2 280 542.5C284.2 538.8 290.7 533.8 295 530C299.3 526.2 303 524 305.7 520C308.4 516 309.5 510.5 311.4 506.3C313.3 502.1 315.1 498.9 317 494.9C318.9 490.9 321.7 486.1 322.9 482.3C324.1 478.5 322.9 474.9 324 472C325.1 469.1 327.4 466.9 329.7 465C332 463.1 335 461.7 337.7 460.6C340.4 459.5 343.4 459.5 345.7 458.3C348 457.1 349.9 455.8 351.4 453.7C352.9 451.6 354.1 450.5 354.9 445.7C355.7 440.9 355.9 431.8 356.3 425C356.7 418.2 356.7 410.8 357 405C357.3 399.2 357.8 393.8 358 390C358.2 386.2 358 383.3 358 382 L420 382 L760 640 L236 640Z" fill="#f99153"/>
<path d="M236 612C238.3 609.8 245.6 601 250 599C254.4 597 259.8 602.8 262.5 600C265.2 597.2 265.6 587.5 266 582.5C266.4 577.5 264.3 575 265 570C265.7 565 267.5 557.1 270 552.5C272.5 547.9 275.8 546.2 280 542.5C284.2 538.8 290.7 533.8 295 530C299.3 526.2 303 524 305.7 520C308.4 516 309.5 510.5 311.4 506.3C313.3 502.1 315.1 498.9 317 494.9C318.9 490.9 321.7 486.1 322.9 482.3C324.1 478.5 322.9 474.9 324 472C325.1 469.1 327.4 466.9 329.7 465C332 463.1 335 461.7 337.7 460.6C340.4 459.5 343.4 459.5 345.7 458.3C348 457.1 349.9 455.8 351.4 453.7C352.9 451.6 354.1 450.5 354.9 445.7C355.7 440.9 355.9 431.8 356.3 425C356.7 418.2 356.7 410.8 357 405C357.3 399.2 357.8 393.8 358 390C358.2 386.2 358 383.3 358 382" fill="none" stroke="#c2c2c4" stroke-width="1.55" stroke-linejoin="round" stroke-linecap="round"/>
<path d="M305 612C293.2 608.3 305.1 596.4 306 590C306.9 583.6 308.3 580.1 310.3 573.7C312.3 567.3 315.4 553.5 318 551.8C320.6 550.1 323.1 559.4 325.7 563.4C328.3 567.4 329.1 574.3 333.4 576C337.7 577.7 345.8 573 351.4 573.7C357 574.4 362.5 578.3 366.8 580C371.1 581.7 374.9 580.8 377 584C379.1 587.2 379.7 594.7 379.7 599.4C379.7 604.1 389.4 609.9 377 612C364.6 614.1 316.8 615.7 305 612Z" fill="#f67f4b" stroke="#c2c2c4" stroke-width="1.55" stroke-linejoin="round" stroke-linecap="round"/>
<path d="M359 383C359.2 386.7 360.2 398 360.5 405C360.8 412 360.8 419.2 361 425C361.2 430.8 362.1 436.4 362 440C361.9 443.6 361.6 444.6 360.6 446.9C359.6 449.2 357.3 451.8 356 453.7C354.7 455.6 352.4 457.8 353 458.3C353.6 458.8 358.7 456.4 359.4 456.6C360.1 456.8 357.9 458.2 357 459.4C356.1 460.6 354.8 462.5 353.7 464C352.6 465.5 351.6 467.1 350.3 468.6C349 470.1 347.8 471.9 345.7 473C343.6 474.1 339.8 474.6 337.7 475.4C335.6 476.2 334.2 476.5 333 477.7C331.8 478.9 330.6 480.4 330.3 482.3C330 484.2 330.5 487.7 331.4 489C332.2 490.3 334.1 489.9 335.4 490.3C336.6 490.7 337.4 490.9 338.9 491.4C340.4 491.8 342.9 493.2 344.6 493C346.3 492.8 346.9 491.2 349 490.3C351.1 489.4 353.7 488.3 357 487.4C360.3 486.4 365.2 485.1 368.6 484.6C372.1 484.1 375 484 377.7 484.6C380.4 485.2 382.7 486.3 384.6 488C386.5 489.7 387.3 492.2 389 494.9C390.7 497.6 393.1 501.7 394.9 504C396.7 506.3 397.4 506.9 400 508.6C402.6 510.4 405.8 511.8 410.5 514.5C415.2 517.2 422.9 522.2 428.5 524.8C434.1 527.4 439.3 527.9 444 530C448.7 532.1 452.5 534.7 456.8 537.7C461.1 540.7 467.8 546.3 470 548 L520 548 L520 383Z" fill="#f67f4b"/>
<path d="M359 383C359.2 386.7 360.2 398 360.5 405C360.8 412 360.8 419.2 361 425C361.2 430.8 362.1 436.4 362 440C361.9 443.6 361.6 444.6 360.6 446.9C359.6 449.2 357.3 451.8 356 453.7C354.7 455.6 352.4 457.8 353 458.3C353.6 458.8 358.7 456.4 359.4 456.6C360.1 456.8 357.9 458.2 357 459.4C356.1 460.6 354.8 462.5 353.7 464C352.6 465.5 351.6 467.1 350.3 468.6C349 470.1 347.8 471.9 345.7 473C343.6 474.1 339.8 474.6 337.7 475.4C335.6 476.2 334.2 476.5 333 477.7C331.8 478.9 330.6 480.4 330.3 482.3C330 484.2 330.5 487.7 331.4 489C332.2 490.3 334.1 489.9 335.4 490.3C336.6 490.7 337.4 490.9 338.9 491.4C340.4 491.8 342.9 493.2 344.6 493C346.3 492.8 346.9 491.2 349 490.3C351.1 489.4 353.7 488.3 357 487.4C360.3 486.4 365.2 485.1 368.6 484.6C372.1 484.1 375 484 377.7 484.6C380.4 485.2 382.7 486.3 384.6 488C386.5 489.7 387.3 492.2 389 494.9C390.7 497.6 393.1 501.7 394.9 504C396.7 506.3 397.4 506.9 400 508.6C402.6 510.4 405.8 511.8 410.5 514.5C415.2 517.2 422.9 522.2 428.5 524.8C434.1 527.4 439.3 527.9 444 530C448.7 532.1 452.5 534.7 456.8 537.7C461.1 540.7 467.8 546.3 470 548" fill="none" stroke="#c2c2c4" stroke-width="1.55" stroke-linejoin="round" stroke-linecap="round"/>
<path d="M338.6 532.5C339.7 528.2 341.6 521.3 343.7 517C345.8 512.7 348 509.6 351.4 506.8C354.8 504 359.6 501.2 364.3 500.4C369 499.5 375.6 500.2 379.7 501.7C383.8 503.2 384.8 506.4 388.7 509.4C392.6 512.4 398.8 516.3 402.8 519.7C406.9 523.1 408.7 527.5 413 530C417.3 532.5 423.3 533.3 428.5 535C433.7 536.7 439.8 538.3 444 540C448.2 541.7 450.6 544.9 454 545.4C457.4 545.9 461 544.1 464.5 542.8C468 541.5 471.6 539.4 474.8 537.7C478.1 536 479.8 528.8 484 532.5C488.2 536.2 502.3 548.8 500 560C497.7 571.2 486.7 586.7 470 600C453.3 613.3 414.2 638 400 640C385.8 642 388.2 618.8 384.8 612C381.4 605.2 381 604.1 379.7 599.4C378.4 594.7 379.1 587.2 377 584C374.9 580.8 371.1 581.9 366.8 580C362.5 578.1 356.1 573.4 351.4 572.4C346.7 571.4 341.6 575.2 338.6 573.7C335.6 572.2 333 566.9 333.4 563.4C333.8 559.9 340.4 556.4 341 553C341.6 549.6 337.7 546.2 337.3 542.8C336.9 539.4 337.5 536.8 338.6 532.5Z" fill="#fca55d" stroke="#c2c2c4" stroke-width="1.55" stroke-linejoin="round" stroke-linecap="round"/>
<path d="M352 528C351.7 527.3 353.7 519.2 356 516C358.3 512.8 362.3 510.3 366 509C369.7 507.7 374.3 507.2 378 508C381.7 508.8 384.3 511.3 388 514C391.7 516.7 396.3 521 400 524C403.7 527 409.3 530.8 410 532C410.7 533.2 407 532.3 404 531C401 529.7 396 526.3 392 524C388 521.7 384.3 518.5 380 517C375.7 515.5 369.7 514.5 366 515C362.3 515.5 360.3 517.8 358 520C355.7 522.2 352.3 528.7 352 528Z" fill="#fdb768" stroke="#c2c2c4" stroke-width="1.55" stroke-linejoin="round" stroke-linecap="round"/>
<path d="M368 553C368.4 550.9 372.2 547.5 374.6 545.4C377 543.3 380.8 539.9 382.3 540.3C383.8 540.7 382.6 545.9 383.5 548C384.4 550.1 387.6 551.5 387.4 553C387.2 554.5 384.9 556.1 382.3 557C379.7 557.9 374.4 559 372 558.3C369.6 557.6 367.6 555.1 368 553Z" fill="#fdb768" stroke="#c2c2c4" stroke-width="1.55" stroke-linejoin="round" stroke-linecap="round"/>
<path d="M405.4 568.5C405.8 566.4 407.9 561.9 410.5 558.3C413.1 554.7 418.2 548 420.8 546.7C423.4 545.4 423.9 549 426 550.5C428.1 552 432.9 554.2 433.7 555.7C434.5 557.2 433.1 558.6 431 559.5C428.9 560.4 423.8 560.1 420.8 560.8C417.8 561.4 415.1 561.7 413 563.4C410.9 565.1 409.3 570.1 408 571C406.7 571.9 405 570.6 405.4 568.5Z" fill="#fdb768" stroke="#c2c2c4" stroke-width="1.55" stroke-linejoin="round" stroke-linecap="round"/>
<path d="M436.2 550.5C436.6 548.8 439.9 547.6 441.4 548C442.9 548.4 444.8 551.1 445.2 553C445.6 554.9 445.1 558.6 444 559.5C442.9 560.4 440.1 559.8 438.8 558.3C437.5 556.8 435.8 552.2 436.2 550.5Z" fill="#fdb768" stroke="#c2c2c4" stroke-width="1.55" stroke-linejoin="round" stroke-linecap="round"/>
<path d="M340 575C341 577.5 344 585.8 346 590C348 594.2 350.3 596.3 352 600C353.7 603.7 355.3 610 356 612" fill="none" stroke="#c2c2c4" stroke-width="1.55" stroke-linejoin="round" stroke-linecap="round"/>
<path d="M470 548C468.7 550 465 556 462 560C459 564 456 567.8 452 572C448 576.2 443.3 581 438 585C432.7 589 426.3 593 420 596C413.7 599 403.3 601.8 400 603" fill="none" stroke="#c2c2c4" stroke-width="1.55" stroke-linejoin="round" stroke-linecap="round"/>
<path d="M359 382C358 384.5 362.8 393.7 364 400C365.2 406.3 365.5 413.3 366 420C366.5 426.7 367 434.2 367 440C367 445.8 365.2 453 366 455C366.8 457 369.7 453.5 372 452C374.3 450.5 378 448 380 446C382 444 383 444.3 384 440C385 435.7 385.3 425.8 386 420C386.7 414.2 388.7 409.7 388 405C387.3 400.3 385 395.3 382 392C379 388.7 373.8 386.7 370 385C366.2 383.3 360 379.5 359 382Z" fill="#f36b43" stroke="#c2c2c4" stroke-width="1.55" stroke-linejoin="round" stroke-linecap="round"/>
<path d="M362 384C360 385.3 366.7 394 368 400C369.3 406 369.5 414.2 370 420C370.5 425.8 369.7 431.7 371 435C372.3 438.3 375.8 442.5 378 440C380.2 437.5 382.7 425.8 384 420C385.3 414.2 386.7 409.7 386 405C385.3 400.3 384 395.5 380 392C376 388.5 364 382.7 362 384Z" fill="#e95c47" stroke="#c2c2c4" stroke-width="1.55" stroke-linejoin="round" stroke-linecap="round"/>
<path d="M380 446C373 447.3 374.3 449.7 372 452C369.7 454.3 366 457 366 460C366 463 367.7 468.7 372 470C376.3 471.3 385.7 468 392 468C398.3 468 404 468.3 410 470C416 471.7 423 475 428 478C433 481 436.3 484.8 440 488C443.7 491.2 446.3 494.2 450 497C453.7 499.8 458 502.5 462 505C466 507.5 470.3 510 474 512C477.7 514 481 519 484 517C487 515 490 505.2 492 500C494 494.8 497.3 491 496 486C494.7 481 487.7 476 484 470C480.3 464 481.3 455.3 474 450C466.7 444.7 450 439 440 438C430 437 424 442.7 414 444C404 445.3 387 444.7 380 446Z" fill="#f36b43" stroke="#e4d6d6" stroke-width="1.55" stroke-linejoin="round" stroke-linecap="round"/>
<path d="M388 448C383 449.7 383.3 453.7 384 456C384.7 458.3 387.7 461 392 462C396.3 463 404.5 461 410 462C415.5 463 420 465.7 425 468C430 470.3 435.5 473.7 440 476C444.5 478.3 447.8 480.3 452 482C456.2 483.7 460.7 485.7 465 486C469.3 486.3 474.8 485.7 478 484C481.2 482.3 484.3 480.3 484 476C483.7 471.7 480.3 464 476 458C471.7 452 466.2 443 458 440C449.8 437 434.3 439 427 440C419.7 441 420.5 444.7 414 446C407.5 447.3 393 446.3 388 448Z" fill="#df4e4b" stroke="#e4d6d6" stroke-width="1.55" stroke-linejoin="round" stroke-linecap="round"/>
<path d="M410 452C408.7 454 416.3 454.3 420 456C423.7 457.7 428 459.7 432 462C436 464.3 440 467.7 444 470C448 472.3 451.7 474.7 456 476C460.3 477.3 466 478.3 470 478C474 477.7 479.3 477.7 480 474C480.7 470.3 477.7 461.7 474 456C470.3 450.3 463.5 443 458 440C452.5 437 446 437.3 441 438C436 438.7 433.2 441.7 428 444C422.8 446.3 411.3 450 410 452Z" fill="#d7414e" stroke="#e4d6d6" stroke-width="1.55" stroke-linejoin="round" stroke-linecap="round"/>
<path d="M430 444C427.8 446.3 427 449.3 428 452C429 454.7 433 457.3 436 460C439 462.7 442.3 465.7 446 468C449.7 470.3 454 472.7 458 474C462 475.3 466.3 476.3 470 476C473.7 475.7 479.7 475.3 480 472C480.3 468.7 475.7 461.3 472 456C468.3 450.7 463.2 443 458 440C452.8 437 445.7 437.3 441 438C436.3 438.7 432.2 441.7 430 444Z" fill="#c72e4c" stroke="#e4d6d6" stroke-width="1.55" stroke-linejoin="round" stroke-linecap="round"/>
<path d="M441 440C438.7 441.5 438.5 445.3 440 448C441.5 450.7 446.3 453.7 450 456C453.7 458.3 458.3 461 462 462C465.7 463 469.7 463 472 462C474.3 461 476.7 458.7 476 456C475.3 453.3 471.7 448.8 468 446C464.3 443.2 458.5 440 454 439C449.5 438 443.3 438.5 441 440Z" fill="#a40844" stroke="#e4d6d6" stroke-width="1.55" stroke-linejoin="round" stroke-linecap="round"/>
<path d="M374 458C375.7 457 380 452.5 384 452C388 451.5 393.3 454 398 455C402.7 456 407.3 456.5 412 458C416.7 459.5 421.7 461.7 426 464C430.3 466.3 434 469.3 438 472C442 474.7 446 477.3 450 480C454 482.7 458 485.7 462 488C466 490.3 470.3 492.3 474 494C477.7 495.7 482.3 497.3 484 498" fill="none" stroke="#e4d6d6" stroke-width="1.55" stroke-linejoin="round" stroke-linecap="round"/>
<path d="M394 476C395 474.8 400.7 473 404 473C407.3 473 413.3 474.8 414 476C414.7 477.2 410.7 479.3 408 480C405.3 480.7 400.3 480.7 398 480C395.7 479.3 393 477.2 394 476Z" fill="#f67f4b" stroke="#c2c2c4" stroke-width="1.55" stroke-linejoin="round" stroke-linecap="round"/>
<path d="M420 487C422 486.5 430.7 487.8 436 490C441.3 492.2 447.7 496.7 452 500C456.3 503.3 462.3 509 462 510C461.7 511 454.3 508 450 506C445.7 504 440.3 500.2 436 498C431.7 495.8 426.7 494.8 424 493C421.3 491.2 418 487.5 420 487Z" fill="#f36b43" stroke="#e4d6d6" stroke-width="1.55" stroke-linejoin="round" stroke-linecap="round"/>
<path d="M430 506C432 503.8 436.3 502.8 440 503C443.7 503.2 448.7 505.3 452 507C455.3 508.7 457.3 511 460 513C462.7 515 466.2 516.3 468 519C469.8 521.7 471.5 525.8 471 529C470.5 532.2 468 536.8 465 538C462 539.2 456.2 537.5 453 536C449.8 534.5 448.5 531.3 446 529C443.5 526.7 441 524.2 438 522C435 519.8 429.3 518.7 428 516C426.7 513.3 428 508.2 430 506Z" fill="#f36b43" stroke="#e4d6d6" stroke-width="1.55" stroke-linejoin="round" stroke-linecap="round"/>
<path d="M447 517C448 515.3 453.2 515.2 456 516C458.8 516.8 462.3 519.7 464 522C465.7 524.3 467 528.3 466 530C465 531.7 460.7 532.7 458 532C455.3 531.3 451.8 528.5 450 526C448.2 523.5 446 518.7 447 517Z" fill="#e95c47" stroke="#e4d6d6" stroke-width="1.55" stroke-linejoin="round" stroke-linecap="round"/>
<path d="M420 498C421.3 497.2 428 496.7 432 497C436 497.3 443.3 499 444 500C444.7 501 439.3 502.7 436 503C432.7 503.3 426.7 502.8 424 502C421.3 501.2 418.7 498.8 420 498Z" fill="#f36b43" stroke="#e4d6d6" stroke-width="1.55" stroke-linejoin="round" stroke-linecap="round"/>
<path d="M470 545C470 547 465 552.5 462 556C459 559.5 455 563.3 452 566C449 568.7 444.7 572.7 444 572C443.3 571.3 446 565.3 448 562C450 558.7 453.7 555 456 552C458.3 549 459.7 545.2 462 544C464.3 542.8 470 543 470 545Z" fill="#f99153" stroke="#c2c2c4" stroke-width="1.2" stroke-linejoin="round" stroke-linecap="round"/>
<path d="M489 493.9C486.5 488.8 480.9 492.4 476 495C471.1 497.6 461 504.5 459.5 509.3C458 514.1 463.9 520.3 467.2 523.6C470.5 526.9 475.3 528.7 479.3 529.1C483.3 529.5 489.4 531.7 491 525.8C492.6 519.9 491.5 499 489 493.9Z" fill="#f36b43" stroke="#e4d6d6" stroke-width="1.1" stroke-linejoin="round" stroke-linecap="round"/>
<path d="M489 495.8C486.8 491.5 481.9 494.6 477.8 496.8C473.6 498.9 465.1 504.8 463.9 508.8C462.6 512.8 467.6 518 470.4 520.8C473.1 523.6 477.1 525.1 480.5 525.4C484 525.7 489.6 527.6 491 522.6C492.4 517.7 491.2 500.1 489 495.8Z" fill="#e95c47" stroke="#e4d6d6" stroke-width="1.1" stroke-linejoin="round" stroke-linecap="round"/>
<path d="M489 497.8C487.1 494.2 483 496.8 479.5 498.5C476 500.2 469.2 505 468.2 508.2C467.2 511.5 471.2 515.8 473.5 518C475.8 520.2 478.8 521.5 481.8 521.8C484.7 522 489.8 523.5 491 519.5C492.2 515.5 490.9 501.2 489 497.8Z" fill="#df4e4b" stroke="#e4d6d6" stroke-width="1.1" stroke-linejoin="round" stroke-linecap="round"/>
<path d="M489 499.4C487.3 496.6 483.8 498.6 481 500C478.2 501.4 472.8 505.2 472 507.8C471.2 510.4 474.4 513.8 476.2 515.6C478 517.4 480.3 518.4 482.8 518.6C485.3 518.8 490 520 491 516.8C492 513.6 490.7 502.2 489 499.4Z" fill="#d7414e" stroke="#e4d6d6" stroke-width="1.1" stroke-linejoin="round" stroke-linecap="round"/>
<path d="M489 501.1C487.6 498.9 484.7 500.4 482.5 501.5C480.3 502.6 476.4 505.4 475.8 507.4C475.1 509.3 477.5 511.9 478.9 513.2C480.2 514.6 481.8 515.3 483.9 515.5C485.9 515.6 490.1 516.5 491 514.1C491.9 511.7 490.4 503.2 489 501.1Z" fill="#c72e4c" stroke="#e4d6d6" stroke-width="1.1" stroke-linejoin="round" stroke-linecap="round"/>
<path d="M489 502.7C487.8 501.3 485.6 502.3 484 503C482.4 503.7 479.9 505.6 479.5 506.9C479.1 508.2 480.7 509.9 481.6 510.8C482.5 511.7 483.3 512.2 484.9 512.3C486.5 512.4 490.3 513 491 511.4C491.7 509.8 490.2 504.1 489 502.7Z" fill="#b61b48" stroke="#e4d6d6" stroke-width="1.1" stroke-linejoin="round" stroke-linecap="round"/>
<path d="M480 497C479.7 496 486.7 493.3 490 492C493.3 490.7 496.7 489.7 500 489C503.3 488.3 507.5 487.8 510 488C512.5 488.2 515.8 489 515 490C514.2 491 508.8 492.7 505 494C501.2 495.3 496.2 497.5 492 498C487.8 498.5 480.3 498 480 497Z" fill="#f99153" stroke="#e4d6d6" stroke-width="1.55" stroke-linejoin="round" stroke-linecap="round"/>
</g>
<path d="M117 330 L117 62 L187 62" fill="none" stroke="#c6c6c6" stroke-width="4.6"/>
<path d="M117 328 L117.6 620" fill="none" stroke="#c6c6c6" stroke-width="3"/>
<path d="M114 330 L113.6 470 L114 612 M120 330 L120.6 430 L121.5 520 L121 608" fill="none" stroke="#c9c9c9" stroke-width="1.4"/>
<path d="M186 62.6 L276 62.8" fill="none" stroke="#c6c6c6" stroke-width="2.4"/>
<path d="M275 62.8 L345 62.4" fill="none" stroke="#c6c6c6" stroke-width="1.5"/>
<path d="M117 606.6 L300 606.6 L392 610 M117 609.6 L300 609.4 L330 611 L392 612" fill="none" stroke="#c6c6c6" stroke-width="1.7"/>
<rect x="506" y="255" width="250" height="290" fill="#fdb768"/>
<path d="M625 255 L750 255 L750 545 L625 545Z" fill="#f36b43"/>
<path d="M690 255 L750 255 L750 480 L690 480Z" fill="#c72e4c"/>
<path d="M731 262C731.7 265.3 733.5 270.3 735 275C736.5 279.7 737.5 287.2 740 290C742.5 292.8 748.3 297.8 750 292C751.7 286.2 753.2 261.2 750 255C746.8 248.8 734.2 253.8 731 255C727.8 256.2 730.3 258.7 731 262Z" fill="#b61b48" stroke="#dccccc" stroke-width="1.55" stroke-linejoin="round" stroke-linecap="round"/>
<path d="M690 300C692.7 269.7 701.7 299.3 706 298C710.3 296.7 713 293.3 716 292C719 290.7 721.7 289.3 724 290C726.3 290.7 727.7 294.3 730 296C732.3 297.7 734.7 299.7 738 300C741.3 300.3 748 268 750 298C752 328 760 449.7 750 480C740 510.3 700 510 690 480C680 450 687.3 330.3 690 300Z" fill="#d7414e" stroke="#dccccc" stroke-width="1.55" stroke-linejoin="round" stroke-linecap="round"/>
<path d="M688 318C689.7 290 696.3 314 700 312C703.7 310 707 308 710 306C713 304 715.5 300.3 718 300C720.5 299.7 724 301.3 725 304C726 306.7 722.8 311.7 724 316C725.2 320.3 729.7 325.2 732 330C734.3 334.8 737 337.5 738 345C739 352.5 738.5 365.8 738 375C737.5 384.2 734.7 390.8 735 400C735.3 409.2 739.5 419.7 740 430C740.5 440.3 736.3 453.7 738 462C739.7 470.3 758 477 750 480C742 483 700.3 507 690 480C679.7 453 686.3 346 688 318Z" fill="#df4e4b" stroke="#dccccc" stroke-width="1.55" stroke-linejoin="round" stroke-linecap="round"/>
<path d="M690 335C691.7 308.7 697 325.2 700 322C703 318.8 705.7 317.7 708 316C710.3 314.3 712.2 311.7 714 312C715.8 312.3 718.3 315 719 318C719.7 321 716.7 326 718 330C719.3 334 724.7 337.7 727 342C729.3 346.3 731 350 732 356C733 362 733.3 370.3 733 378C732.7 385.7 730 393.3 730 402C730 410.7 732.8 420 733 430C733.2 440 732.8 453.7 731 462C729.2 470.3 728.8 477 722 480C715.2 483 695.3 504.2 690 480C684.7 455.8 688.3 361.3 690 335Z" fill="#e95c47" stroke="#dccccc" stroke-width="1.55" stroke-linejoin="round" stroke-linecap="round"/>
<path d="M696 345C698.2 320.7 700.8 336.8 703 334C705.2 331.2 707.2 328.7 709 328C710.8 327.3 712.7 328 714 330C715.3 332 715.3 336.7 717 340C718.7 343.3 722.2 346 724 350C725.8 354 727.2 358.7 728 364C728.8 369.3 729.3 375.2 729 382C728.7 388.8 726.2 397 726 405C725.8 413 728 419.8 728 430C728 440.2 732.3 457.7 726 466C719.7 474.3 695 500.2 690 480C685 459.8 693.8 369.3 696 345Z" fill="#f36b43" stroke="#dccccc" stroke-width="1.55" stroke-linejoin="round" stroke-linecap="round"/>
<path d="M701 358C703.8 337.3 705 348.5 707 346C709 343.5 711 342.5 713 343C715 343.5 717.3 345.5 719 349C720.7 352.5 722.2 358.2 723 364C723.8 369.8 724.3 376.7 724 384C723.7 391.3 721.7 400.7 721 408C720.3 415.3 720.8 421 720 428C719.2 435 719 443 716 450C713 457 706.3 466.7 702 470C697.7 473.3 690.2 488.7 690 470C689.8 451.3 698.2 378.7 701 358Z" fill="#f67f4b" stroke="#dccccc" stroke-width="1.55" stroke-linejoin="round" stroke-linecap="round"/>
<path d="M702 364C703.9 363.4 706 368.5 707 372C708 375.5 708.3 380.7 708 385C707.7 389.3 706.5 394.2 705 398C703.5 401.8 701.5 405.5 699 408C696.5 410.5 693.2 412.2 690 413C686.8 413.8 682.8 414.3 680 413C677.2 411.7 673.3 408.2 673 405C672.7 401.8 676.3 397.5 678 394C679.7 390.5 681.2 386.5 683 384C684.8 381.5 686.5 380.4 688.6 379C690.7 377.6 693.2 377.9 695.4 375.4C697.6 372.9 700.1 364.6 702 364Z" fill="#e95c47" stroke="#dccccc" stroke-width="1.55" stroke-linejoin="round" stroke-linecap="round"/>
<path d="M699 372C701 372.3 702 380 702 384C702 388 700.7 392.5 699 396C697.3 399.5 694.8 403.2 692 405C689.2 406.8 684.3 407.8 682 407C679.7 406.2 677.8 402.8 678 400C678.2 397.2 681 393 683 390C685 387 687.3 385 690 382C692.7 379 697 371.7 699 372Z" fill="#df4e4b" stroke="#dccccc" stroke-width="1.55" stroke-linejoin="round" stroke-linecap="round"/>
<path d="M694 382C695.5 382.2 695.8 389 695 392C694.2 395 691 398.7 689 400C687 401.3 683.5 401.5 683 400C682.5 398.5 684.2 394 686 391C687.8 388 692.5 381.8 694 382Z" fill="#d7414e" stroke="#dccccc" stroke-width="1.55" stroke-linejoin="round" stroke-linecap="round"/>
<path d="M596 457C598.3 456.8 606 456 610 456C614 456 616.3 456.6 620 457C623.7 457.4 627.8 458.1 632 458.5C636.2 458.9 641.2 459.6 645 459.5C648.8 459.4 651.7 458.5 655 458C658.3 457.5 661.7 457.5 665 456.5C668.3 455.5 672 453.9 675 452C678 450.1 680.8 447.8 683 445C685.2 442.2 686.5 437.8 688 435C689.5 432.2 690 429.3 692 428C694 426.7 697.5 426.3 700 427C702.5 427.7 705.5 429 707 432C708.5 435 708.5 440.7 709 445C709.5 449.3 709.2 454.7 710 458C710.8 461.3 712 464.2 714 465C716 465.8 718.8 464.2 722 463C725.2 461.8 728.3 459.3 733 458C737.7 456.7 747.2 455.5 750 455 L750 545 L596 545Z" fill="#f99153"/>
<path d="M596 457C598.3 456.8 606 456 610 456C614 456 616.3 456.6 620 457C623.7 457.4 627.8 458.1 632 458.5C636.2 458.9 641.2 459.6 645 459.5C648.8 459.4 651.7 458.5 655 458C658.3 457.5 661.7 457.5 665 456.5C668.3 455.5 672 453.9 675 452C678 450.1 680.8 447.8 683 445C685.2 442.2 686.5 437.8 688 435C689.5 432.2 690 429.3 692 428C694 426.7 697.5 426.3 700 427C702.5 427.7 705.5 429 707 432C708.5 435 708.5 440.7 709 445C709.5 449.3 709.2 454.7 710 458C710.8 461.3 712 464.2 714 465C716 465.8 718.8 464.2 722 463C725.2 461.8 728.3 459.3 733 458C737.7 456.7 747.2 455.5 750 455" fill="none" stroke="#dccccc" stroke-width="1.55" stroke-linejoin="round" stroke-linecap="round"/>
<path d="M590 460C591.7 459.8 595 458.8 600 459C605 459.2 615 460.3 620 461C625 461.7 626.6 462.4 630 463C633.4 463.6 636.6 464.6 640.6 464.6C644.6 464.6 649.2 463.6 654.3 463C659.4 462.4 665.7 461 671.4 461C677.1 461 683.5 462.1 688.6 463C693.8 463.9 698.3 465.2 702.3 466.3C706.3 467.4 709.2 469.7 712.6 469.7C716 469.7 719.5 467.4 722.9 466.3C726.3 465.2 728.5 464.1 733 463C737.5 461.9 747.2 460.5 750 460 L750 545 L590 545Z" fill="#fca55d"/>
<path d="M590 460C591.7 459.8 595 458.8 600 459C605 459.2 615 460.3 620 461C625 461.7 626.6 462.4 630 463C633.4 463.6 636.6 464.6 640.6 464.6C644.6 464.6 649.2 463.6 654.3 463C659.4 462.4 665.7 461 671.4 461C677.1 461 683.5 462.1 688.6 463C693.8 463.9 698.3 465.2 702.3 466.3C706.3 467.4 709.2 469.7 712.6 469.7C716 469.7 719.5 467.4 722.9 466.3C726.3 465.2 728.5 464.1 733 463C737.5 461.9 747.2 460.5 750 460" fill="none" stroke="#c2c2c4" stroke-width="1.55" stroke-linejoin="round" stroke-linecap="round"/>
<path d="M631 452C631.3 453.3 632.2 457.4 633 460C633.8 462.6 634.4 465 636 467.5C637.6 470 640.2 471.7 642.5 475C644.8 478.3 649.2 484.6 650 487.5C650.8 490.4 648.3 490.4 647.5 492.5C646.7 494.6 644.6 497.4 645 500C645.4 502.6 647.5 505.5 650 508C652.5 510.5 658.3 513.8 660 515 L660 545 L506 545 L506 440 L631 440Z" fill="#fdb768"/>
<path d="M631 452C631.3 453.3 632.2 457.4 633 460C633.8 462.6 634.4 465 636 467.5C637.6 470 640.2 471.7 642.5 475C644.8 478.3 649.2 484.6 650 487.5C650.8 490.4 648.3 490.4 647.5 492.5C646.7 494.6 644.6 497.4 645 500C645.4 502.6 647.5 505.5 650 508C652.5 510.5 658.3 513.8 660 515" fill="none" stroke="#c2c2c4" stroke-width="1.55" stroke-linejoin="round" stroke-linecap="round"/>
<path d="M655 470C657.5 468.7 671.2 469 675 470C678.8 471 680.5 474.7 678 476C675.5 477.3 663.8 479 660 478C656.2 477 652.5 471.3 655 470Z" fill="#fdb768" stroke="#c2c2c4" stroke-width="1.55" stroke-linejoin="round" stroke-linecap="round"/>
<path d="M645 482C648.3 480.8 663.8 480.2 668 481C672.2 481.8 673.3 485.8 670 487C666.7 488.2 652.2 488.8 648 488C643.8 487.2 641.7 483.2 645 482Z" fill="#fdb768" stroke="#c2c2c4" stroke-width="1.55" stroke-linejoin="round" stroke-linecap="round"/>
<path d="M506 470C508.3 462.8 514.3 464 520 462C525.7 460 533.3 459 540 458C546.7 457 550 456.7 560 456C570 455.3 589.2 454.7 600 454C610.8 453.3 619.7 451.7 625 452C630.3 452.3 630.5 453.7 632 456C633.5 458.3 634.7 463.7 634 466C633.3 468.3 630.3 469.8 628 470C625.7 470.2 622.8 467.2 620 467C617.2 466.8 614.7 467.6 611.4 468.6C608.1 469.6 604.3 471.9 600 472.9C595.7 473.8 590 473.8 585.7 474.3C581.4 474.8 576.7 475 574.3 475.7C571.9 476.4 570.4 477.9 571.4 478.6C572.4 479.3 578.8 479.3 580 480C581.2 480.7 580.5 482.2 578.6 482.9C576.7 483.6 571.5 484.3 568.6 484.3C565.7 484.3 563.3 483.8 561.4 482.9C559.5 481.9 558.9 478.9 557 478.6C555.1 478.4 550.5 479.7 550 481.4C549.5 483.1 554.8 486.7 554.3 488.6C553.8 490.5 548.2 491.2 547 492.9C545.8 494.6 545.8 496.7 547 498.6C548.2 500.5 551.6 502.2 554.3 504.3C556.9 506.4 560 509.7 562.9 511.4C565.8 513.1 568.5 514.3 571.4 514.3C574.2 514.3 577.1 512.6 580 511.4C582.9 510.2 586.2 507 588.6 507C591 507 592.4 510.2 594.3 511.4C596.2 512.6 597.6 513.4 600 514.3C602.4 515.2 605.3 516.6 608.6 517C611.9 517.4 616.4 515.6 620 516.4C623.6 517.2 633.3 519.7 630 522C626.7 524.3 611.7 528.7 600 530C588.3 531.3 573.3 531 560 530C546.7 529 529 528.2 520 524C511 519.8 508.3 514 506 505C503.7 496 503.7 477.2 506 470Z" fill="#fdc776" stroke="#c2c2c4" stroke-width="1.55" stroke-linejoin="round" stroke-linecap="round"/>
<path d="M550 466C552 464.5 555.8 462.2 560 461C564.2 459.8 569.2 459.1 575 458.5C580.8 457.9 590.3 457.3 595 457.5C599.7 457.7 602.5 458.6 603 459.5C603.5 460.4 601 461.9 598 463C595 464.1 589.7 465 585 466C580.3 467 574.8 468 570 469C565.2 470 559.7 471.8 556 472C552.3 472.2 549 471 548 470C547 469 548 467.5 550 466Z" fill="#fed481" stroke="#c2c2c4" stroke-width="1.55" stroke-linejoin="round" stroke-linecap="round"/>
<path d="M514 490C514.3 489 518.3 487 520 487C521.7 487 524.3 489 524 490C523.7 491 519.7 493 518 493C516.3 493 513.7 491 514 490Z" fill="#fdb768" stroke="#c2c2c4" stroke-width="1.1" stroke-linejoin="round" stroke-linecap="round"/>
<path d="M577 507C577.7 506.5 583 507.2 586 508C589 508.8 594.3 511.1 595 512C595.7 512.9 592.2 513.7 590 513.5C587.8 513.3 584.2 512.1 582 511C579.8 509.9 576.3 507.5 577 507Z" fill="#fca55d" stroke="#c2c2c4" stroke-width="1.2" stroke-linejoin="round" stroke-linecap="round"/>
<path d="M604 477C604.2 476.3 608.3 475.8 610 476C611.7 476.2 614.2 477.3 614 478C613.8 478.7 610.7 480.2 609 480C607.3 479.8 603.8 477.7 604 477Z" fill="#fdc776" stroke="#c2c2c4" stroke-width="1.1" stroke-linejoin="round" stroke-linecap="round"/>
<path d="M676.6 417C679.8 418.3 678.9 422.7 679 426C679.1 429.3 678.7 433.5 677.5 437C676.3 440.5 674.2 444.2 672 447C669.8 449.8 667 451.8 664 453.5C661 455.2 657.3 456.5 654 457C650.7 457.5 646.8 457.2 644 456.5C641.2 455.8 638.7 454.2 637 453C635.3 451.8 633.8 451.2 634 449C634.2 446.8 636.3 443.3 638 440C639.7 436.7 641.5 432.2 644 429C646.5 425.8 650.3 422.8 653 421C655.7 419.2 656.1 418.7 660 418C663.9 417.3 673.4 415.7 676.6 417Z" fill="#e95c47" stroke="#dccccc" stroke-width="1.2" stroke-linejoin="round" stroke-linecap="round"/>
<path d="M674.9 417.5C677.5 418.6 676.8 422.2 676.9 425C677 427.8 676.7 431.4 675.7 434.3C674.7 437.2 672.9 440.4 671 442.7C669.1 445 666.8 446.7 664.3 448.1C661.8 449.5 658.7 450.7 655.9 451.1C653.1 451.5 649.9 451.3 647.5 450.7C645.1 450.1 643 448.8 641.6 447.7C640.2 446.6 639 446.2 639.1 444.4C639.2 442.6 641.1 439.6 642.5 436.8C643.9 434 645.4 430.3 647.5 427.6C649.6 424.9 652.9 422.4 655.1 420.8C657.4 419.2 657.7 418.9 661 418.3C664.3 417.8 672.2 416.4 674.9 417.5Z" fill="#df4e4b" stroke="#dccccc" stroke-width="1.2" stroke-linejoin="round" stroke-linecap="round"/>
<path d="M673.2 418C675.4 418.9 674.7 421.8 674.8 424.1C674.9 426.4 674.6 429.2 673.8 431.6C673 434 671.6 436.5 670.1 438.4C668.6 440.3 666.7 441.7 664.6 442.8C662.5 443.9 660.1 444.9 657.8 445.2C655.5 445.5 652.9 445.3 651 444.8C649.1 444.3 647.4 443.2 646.3 442.4C645.2 441.5 644.1 441.2 644.2 439.7C644.3 438.2 645.9 435.9 647 433.6C648.1 431.3 649.3 428.2 651 426.1C652.7 424 655.4 421.9 657.2 420.7C659 419.4 659.2 419.1 661.9 418.6C664.6 418.2 671.1 417.1 673.2 418Z" fill="#d7414e" stroke="#dccccc" stroke-width="1.2" stroke-linejoin="round" stroke-linecap="round"/>
<path d="M671.3 418.5C672.9 419.2 672.4 421.3 672.5 423C672.6 424.7 672.4 426.8 671.8 428.5C671.2 430.2 670.1 432.1 669 433.5C667.9 434.9 666.5 436 665 436.8C663.5 437.6 661.7 438.3 660 438.5C658.3 438.7 656.4 438.5 655 438.2C653.6 437.9 652.3 437.1 651.5 436.5C650.7 435.9 649.9 435.6 650 434.5C650.1 433.4 651.2 431.7 652 430C652.8 428.3 653.8 426.1 655 424.5C656.2 422.9 658.2 421.4 659.5 420.5C660.8 419.6 661 419.3 663 419C665 418.7 669.7 417.8 671.3 418.5Z" fill="#df4e4b" stroke="#dccccc" stroke-width="1.2" stroke-linejoin="round" stroke-linecap="round"/>
<path d="M669.5 419C670.5 419.4 670.2 420.9 670.3 422C670.3 423.1 670.2 424.5 669.8 425.6C669.4 426.8 668.8 428 668 428.9C667.2 429.8 666.3 430.6 665.3 431.1C664.3 431.7 663.1 432.1 662 432.2C660.9 432.3 659.6 432.2 658.7 432C657.8 431.8 657 431.3 656.4 430.9C655.8 430.5 655.3 430.3 655.4 429.6C655.5 428.9 656.2 427.7 656.8 426.6C657.3 425.5 657.9 424.1 658.7 423C659.5 421.9 660.8 420.9 661.7 420.3C662.6 419.7 662.7 419.5 664 419.3C665.3 419.1 668.5 418.6 669.5 419Z" fill="#d7414e" stroke="#dccccc" stroke-width="1.2" stroke-linejoin="round" stroke-linecap="round"/>
<path d="M400 172.5 L411 167 L425 168 L435 172.5 L440 175 L455 175 L465 173.8 L485 173 L500 175 L515 178 L530 180.5 L550 178.8 L560 178 L584 177 L610 180 L628 174 L636 166 L638 154 L642 134 L640 116 L644 100 L640 86 L642 70 L634 52 L745 50 L745 262 L733.8 265 L731.4 265.3 L722.9 277.3 L716 287.6 L709 299.6 L700.6 309.9 L693.7 323.6 L688.6 335.6 L686.9 340.7 L692 351 L698.9 361.3 L705.7 368 L697.5 375 L685 377.5 L677.5 390 L672.5 400 L677 410 L675 417.5 L665 418.8 L655 422.5 L645 430 L640 440 L635 450 L630 453.8 L615 452.5 L600 456 L580 458 L555 458.8 L540 461 L525 468 L515 475 L510 482.5 L500 487 L493 483 L484.3 476.8 L480.7 471.4 L471.8 460.7 L475.4 456 L466.4 448 L454 442 L441.4 440 L427 442 L414.6 446.4 L380.7 442.9 L378 440 L380.5 430 L382 420 L383.5 407 L382 397 L377 391 L369 385 L360 379.5 L356.5 378 L360 370 L362.9 355.7 L367 341.4 L374.3 327 L380 313 L384.3 298.6 L385.7 284 L384.5 270 L382 255 L380.5 240 L380 225 L378 217.5 L372.5 210 L371 200 L377.5 188.8 L387.5 182.5Z" fill="#9e0142"/>
<defs><clipPath id="ibclip"><path d="M400 172.5 L411 167 L425 168 L435 172.5 L440 175 L455 175 L465 173.8 L485 173 L500 175 L515 178 L530 180.5 L550 178.8 L560 178 L584 177 L610 180 L628 174 L636 166 L638 154 L642 134 L640 116 L644 100 L640 86 L642 70 L634 52 L745 50 L745 262 L733.8 265 L731.4 265.3 L722.9 277.3 L716 287.6 L709 299.6 L700.6 309.9 L693.7 323.6 L688.6 335.6 L686.9 340.7 L692 351 L698.9 361.3 L705.7 368 L697.5 375 L685 377.5 L677.5 390 L672.5 400 L677 410 L675 417.5 L665 418.8 L655 422.5 L645 430 L640 440 L635 450 L630 453.8 L615 452.5 L600 456 L580 458 L555 458.8 L540 461 L525 468 L515 475 L510 482.5 L500 487 L493 483 L484.3 476.8 L480.7 471.4 L471.8 460.7 L475.4 456 L466.4 448 L454 442 L441.4 440 L427 442 L414.6 446.4 L380.7 442.9 L378 440 L380.5 430 L382 420 L383.5 407 L382 397 L377 391 L369 385 L360 379.5 L356.5 378 L360 370 L362.9 355.7 L367 341.4 L374.3 327 L380 313 L384.3 298.6 L385.7 284 L384.5 270 L382 255 L380.5 240 L380 225 L378 217.5 L372.5 210 L371 200 L377.5 188.8 L387.5 182.5Z"/></clipPath></defs>
<path d="M634 52 L745 50 L745 200 L640 185 L636.5 166 L638.5 154 L642.5 134 L640.5 116 L644.5 100 L640.5 86 L642 70Z" fill="#e95c47"/>
<path d="M690 50C700.3 47.3 740 41.7 750 50C760 58.3 753.3 91 750 100C746.7 109 735.7 104.3 730 104C724.3 103.7 720 100 716 98C712 96 708.7 95 706 92C703.3 89 702.3 82.7 700 80C697.7 77.3 694 78.3 692 76C690 73.7 688.3 70.3 688 66C687.7 61.7 679.7 52.7 690 50Z" fill="#f36b43" stroke="#ddd0d0" stroke-width="1.55" stroke-linejoin="round" stroke-linecap="round"/>
<path d="M712 50C717.3 47.7 743.7 46.3 750 50C756.3 53.7 753.7 68.7 750 72C746.3 75.3 733.3 71.3 728 70C722.7 68.7 720.7 67.3 718 64C715.3 60.7 706.7 52.3 712 50Z" fill="#f67f4b" stroke="#ddd0d0" stroke-width="1.55" stroke-linejoin="round" stroke-linecap="round"/>
<path d="M661 70C662 68.3 665.8 67.7 668 68C670.2 68.3 671.7 71 674 72C676.3 73 680.8 72.7 682 74C683.2 75.3 682.3 79.2 681 80C679.7 80.8 676.2 78.7 674 79C671.8 79.3 670 82.2 668 82C666 81.8 663.2 80 662 78C660.8 76 660 71.7 661 70Z" fill="#f36b43" stroke="#ddd0d0" stroke-width="1.55" stroke-linejoin="round" stroke-linecap="round"/>
<path d="M702 74C702.3 73 709.3 71.7 712 72C714.7 72.3 718.3 75 718 76C717.7 77 712.7 78.3 710 78C707.3 77.7 701.7 75 702 74Z" fill="#f67f4b" stroke="#ddd0d0" stroke-width="1.55" stroke-linejoin="round" stroke-linecap="round"/>
<path d="M706 90C707.3 88.3 712.3 87.7 716 88C719.7 88.3 724.8 91.7 728 92C731.2 92.3 733.3 89.3 735 90C736.7 90.7 739.5 94.7 738 96C736.5 97.3 730 98 726 98C722 98 717 96 714 96C711 96 709.3 99 708 98C706.7 97 704.7 91.7 706 90Z" fill="#e95c47" stroke="#ddd0d0" stroke-width="1.55" stroke-linejoin="round" stroke-linecap="round"/>
<path d="M710 104C710.7 102.3 718 100 722 100C726 100 730.2 103.7 734 104C737.8 104.3 743.2 100.7 745 102C746.8 103.3 747.5 110 745 112C742.5 114 734.5 114.3 730 114C725.5 113.7 721.3 111.7 718 110C714.7 108.3 709.3 105.7 710 104Z" fill="#df4e4b" stroke="#ddd0d0" stroke-width="1.55" stroke-linejoin="round" stroke-linecap="round"/>
<path d="M648 110C650.7 105.3 656.7 110.3 660 112C663.3 113.7 664.7 118 668 120C671.3 122 676.7 123 680 124C683.3 125 685.3 125 688 126C690.7 127 692.7 128.7 696 130C699.3 131.3 704 134 708 134C712 134 716.7 131.3 720 130C723.3 128.7 725.3 126.3 728 126C730.7 125.7 732.3 128 736 128C739.7 128 747.7 118.7 750 126C752.3 133.3 754.7 164 750 172C745.3 180 728.3 175.7 722 174C715.7 172.3 715.7 164.5 712 162C708.3 159.5 704.7 159.5 700 159C695.3 158.5 688 158.5 684 159C680 159.5 680 162 676 162C672 162 665 159.7 660 159C655 158.3 648.7 161.2 646 158C643.3 154.8 643.7 148 644 140C644.3 132 645.3 114.7 648 110Z" fill="#df4e4b" stroke="#ddd0d0" stroke-width="1.55" stroke-linejoin="round" stroke-linecap="round"/>
<path d="M724 128C725.7 125.7 725.7 123.7 730 122C734.3 120.3 746.7 109.7 750 118C753.3 126.3 753.7 163.3 750 172C746.3 180.7 732.7 172.3 728 170C723.3 167.7 722.3 162 722 158C721.7 154 726.3 149.7 726 146C725.7 142.3 720.3 139 720 136C719.7 133 722.3 130.3 724 128Z" fill="#d7414e" stroke="#ddd0d0" stroke-width="1.55" stroke-linejoin="round" stroke-linecap="round"/>
<path d="M730 130C732.7 126.8 746.7 120 750 126C753.3 132 753 160.3 750 166C747 171.7 734.7 163.5 732 160C729.3 156.5 734.3 150 734 145C733.7 140 727.3 133.2 730 130Z" fill="#c72e4c" stroke="#ddd0d0" stroke-width="1.55" stroke-linejoin="round" stroke-linecap="round"/>
<path d="M667.3 130C667.3 130.5 666.9 131.1 666.6 131.6C666.3 132.1 665.9 133.1 665.5 133.2C665 133.3 664.5 132.4 664 132C663.5 131.7 662.8 131.5 662.6 131C662.4 130.5 662.6 129.6 662.8 129C663 128.5 663.6 128.3 664 128C664.5 127.6 665 126.9 665.4 127C665.8 127.1 666.2 128 666.5 128.5C666.8 129 667.3 129.5 667.3 130Z" fill="#e95c47" stroke="#ddd0d0" stroke-width="1.2" stroke-linejoin="round" stroke-linecap="round"/>
<path d="M676.5 142.1C676.4 142.6 675.7 143.2 675.2 143.8C674.6 144.3 674 144.7 673.2 145.2C672.5 145.6 671.4 146.2 670.4 146.5C669.4 146.8 667.6 147.1 667.3 146.9C666.9 146.6 667.9 145.5 668.3 145C668.6 144.4 668.8 144 669.4 143.5C670.1 142.9 671 142.2 672 141.7C673.1 141.3 675 140.7 675.7 140.7C676.4 140.8 676.5 141.6 676.5 142.1Z" fill="#e95c47" stroke="#ddd0d0" stroke-width="1.2" stroke-linejoin="round" stroke-linecap="round"/>
<path d="M666.1 149C666.1 149.4 665.7 149.8 665.5 150.2C665.2 150.6 664.8 151.4 664.4 151.4C664.1 151.5 663.7 150.6 663.2 150.3C662.8 150.1 661.9 150.1 661.8 149.8C661.6 149.5 662.1 148.8 662.3 148.4C662.6 148 662.9 147.7 663.2 147.6C663.5 147.4 663.9 147.4 664.3 147.4C664.6 147.5 665.1 147.6 665.4 147.8C665.7 148.1 666.1 148.6 666.1 149Z" fill="#e95c47" stroke="#ddd0d0" stroke-width="1.2" stroke-linejoin="round" stroke-linecap="round"/>
<path d="M692.1 143.5C692.1 144.3 690.7 145.2 690.1 145.9C689.4 146.7 689 147.8 688.2 148.1C687.4 148.4 686.1 148.2 685.4 147.7C684.7 147.1 684.3 145.9 684 144.9C683.7 144 683.3 142.7 683.7 141.9C684 141.2 685.2 140.8 685.9 140.5C686.7 140.1 687.3 139.9 688 140C688.7 140.1 689.4 140.5 690.1 141C690.8 141.6 692.1 142.7 692.1 143.5Z" fill="#e95c47" stroke="#ddd0d0" stroke-width="1.2" stroke-linejoin="round" stroke-linecap="round"/>
<path d="M678.3 127C678.3 127.3 677.7 127.8 677.2 128C676.7 128.2 676.1 128.4 675.5 128.4C674.8 128.5 674 128.6 673.4 128.4C672.9 128.3 672.4 127.9 672.2 127.5C672.1 127.2 672.3 126.9 672.5 126.5C672.6 126.2 672.8 125.6 673.3 125.4C673.8 125.2 675 125.2 675.6 125.3C676.2 125.4 676.6 125.8 677 126.1C677.5 126.4 678.2 126.7 678.3 127Z" fill="none" stroke="#ddd0d0" stroke-width="1.2" stroke-linejoin="round" stroke-linecap="round"/>
<path d="M696 132C696.3 131 702.7 129.3 706 128C709.3 126.7 715 123.7 716 124C717 124.3 714 128.3 712 130C710 131.7 706.7 133.7 704 134C701.3 134.3 695.7 133 696 132Z" fill="#e95c47" stroke="#ddd0d0" stroke-width="1.55" stroke-linejoin="round" stroke-linecap="round"/>
<path d="M636 174C637.3 169.3 640 169.8 644 168C648 166.2 654.7 163.2 660 163C665.3 162.8 672 167 676 167C680 167 680 163.7 684 163C688 162.3 695.3 162.5 700 163C704.7 163.5 708.3 163.5 712 166C715.7 168.5 715.7 175.7 722 178C728.3 180.3 745.3 176.3 750 180C754.7 183.7 769 197.3 750 200C731 202.7 655 200.3 636 196C617 191.7 634.7 178.7 636 174Z" fill="#f36b43" stroke="#ddd0d0" stroke-width="1.55" stroke-linejoin="round" stroke-linecap="round"/>
<path d="M642 182C640.3 180 646.3 175.8 650 174C653.7 172.2 658.3 171.3 664 171C669.7 170.7 678.7 171 684 172C689.3 173 692.7 175 696 177C699.3 179 705 182.5 704 184C703 185.5 697.3 185.7 690 186C682.7 186.3 668 186.7 660 186C652 185.3 643.7 184 642 182Z" fill="#f67f4b" stroke="#ddd0d0" stroke-width="1.55" stroke-linejoin="round" stroke-linecap="round"/>
<path d="M660 164C660 163 665.7 164.7 668 166C670.3 167.3 674 171 674 172C674 173 670.3 173.3 668 172C665.7 170.7 660 165 660 164Z" fill="#e95c47" stroke="#ddd0d0" stroke-width="1.55" stroke-linejoin="round" stroke-linecap="round"/>
<path d="M689.1 54C689.1 54.3 688.7 54.7 688.3 55C687.9 55.3 687.3 55.7 686.6 55.8C686 55.8 684.9 55.7 684.3 55.4C683.8 55.2 683.8 54.8 683.5 54.5C683.2 54.1 682.3 53.6 682.5 53.4C682.7 53.1 684.1 53.1 684.8 52.9C685.5 52.8 685.9 52.6 686.5 52.6C687.1 52.6 688.2 52.7 688.6 52.9C689 53.1 689.2 53.7 689.1 54Z" fill="none" stroke="#ddd0d0" stroke-width="1.1" stroke-linejoin="round" stroke-linecap="round"/>
<path d="M668.5 58C668.4 58.3 668.6 58.8 668.3 59C667.9 59.1 667.1 59.1 666.4 59.1C665.7 59.2 665 59.5 664.4 59.4C663.8 59.3 663 58.9 662.8 58.6C662.6 58.3 662.8 57.8 663.1 57.5C663.3 57.1 663.7 56.6 664.2 56.5C664.8 56.3 665.8 56.6 666.5 56.7C667.2 56.7 668.2 56.7 668.5 56.9C668.9 57.2 668.5 57.7 668.5 58Z" fill="none" stroke="#ddd0d0" stroke-width="1.1" stroke-linejoin="round" stroke-linecap="round"/>
<path d="M703.2 60C703.2 60.5 702.7 61 702 61.3C701.3 61.7 700 61.8 698.8 61.9C697.7 62 696.2 62.2 695.1 62C694 61.8 692.5 61.3 692.3 60.8C692 60.4 692.9 59.8 693.4 59.3C693.9 58.9 694.4 58.3 695.3 58.1C696.2 58 697.5 58.4 698.7 58.5C699.8 58.5 701.5 58.3 702.2 58.6C703 58.8 703.3 59.5 703.2 60Z" fill="none" stroke="#ddd0d0" stroke-width="1.1" stroke-linejoin="round" stroke-linecap="round"/>
<path d="M728.3 60C728.5 60.4 728.4 61.2 727.8 61.6C727.2 62 725.7 62.3 724.8 62.3C723.9 62.3 722.9 61.8 722.2 61.5C721.5 61.3 720.8 61 720.5 60.6C720.1 60.3 719.6 59.6 719.9 59.3C720.3 58.9 721.7 58.9 722.5 58.7C723.3 58.5 724 58 724.7 58.1C725.4 58.1 726 58.6 726.6 58.9C727.2 59.2 728.1 59.6 728.3 60Z" fill="none" stroke="#ddd0d0" stroke-width="1.1" stroke-linejoin="round" stroke-linecap="round"/>
<path d="M734.4 84C734.4 84.4 734.1 84.6 733.8 85C733.5 85.4 733.1 86.2 732.6 86.2C732.1 86.3 731.3 85.7 730.8 85.4C730.3 85.1 729.8 84.9 729.5 84.6C729.3 84.3 729.2 83.8 729.3 83.4C729.4 82.9 729.7 82.1 730.2 81.9C730.7 81.8 731.7 82.3 732.4 82.4C733.1 82.6 733.9 82.5 734.2 82.7C734.6 83 734.5 83.6 734.4 84Z" fill="none" stroke="#ddd0d0" stroke-width="1.1" stroke-linejoin="round" stroke-linecap="round"/>
<path d="M676 103C676 103.4 676.1 103.9 675.8 104.1C675.6 104.4 674.9 104.6 674.4 104.7C673.9 104.8 673.2 104.7 672.8 104.5C672.5 104.3 672.4 103.8 672.3 103.5C672.2 103.1 672.1 102.8 672.2 102.5C672.3 102.2 672.7 102 673.1 101.8C673.4 101.6 673.9 101.2 674.4 101.2C674.9 101.2 675.6 101.5 675.9 101.8C676.2 102.1 676.1 102.6 676 103Z" fill="none" stroke="#ddd0d0" stroke-width="1.1" stroke-linejoin="round" stroke-linecap="round"/>
<path d="M703.2 100C703.2 100.3 703.1 100.6 703 100.8C702.8 101 702.5 101.2 702.2 101.3C702 101.3 701.6 101.3 701.3 101.1C701.1 101 700.7 100.8 700.6 100.5C700.5 100.2 700.4 99.7 700.5 99.5C700.7 99.2 701.1 99 701.3 98.9C701.6 98.8 701.9 98.9 702.2 98.9C702.5 98.9 702.9 98.9 703.1 99.1C703.3 99.3 703.3 99.7 703.2 100Z" fill="none" stroke="#ddd0d0" stroke-width="1.1" stroke-linejoin="round" stroke-linecap="round"/>
<path d="M726.7 116C726.6 116.5 726.6 116.9 726 117.3C725.4 117.7 724.2 118.3 723.1 118.4C721.9 118.5 720.2 118.2 719.3 117.9C718.3 117.6 717.6 117.1 717.3 116.7C716.9 116.3 716.7 115.7 717 115.3C717.4 114.8 718.3 114.2 719.3 114.1C720.2 114 721.5 114.4 722.7 114.5C723.9 114.5 725.9 114.2 726.6 114.5C727.3 114.7 726.8 115.5 726.7 116Z" fill="none" stroke="#ddd0d0" stroke-width="1.1" stroke-linejoin="round" stroke-linecap="round"/>
<path d="M739.4 110C739.6 110.4 739.2 111.1 738.7 111.5C738.3 111.9 737.3 112.2 736.6 112.3C735.9 112.3 735.1 111.9 734.6 111.6C734 111.4 733.5 111 733.3 110.6C733.2 110.3 733.6 109.9 733.7 109.5C733.9 109 734 108.3 734.4 108.2C734.8 108 735.8 108.3 736.4 108.5C737 108.6 737.3 108.7 737.8 109C738.3 109.2 739.3 109.6 739.4 110Z" fill="none" stroke="#ddd0d0" stroke-width="1.1" stroke-linejoin="round" stroke-linecap="round"/>
<g clip-path="url(#ibclip)">
<path d="M370 201 L377.5 190 L387.5 184 L400 175 L411 169 L425 170 L435 174.5 L440 177 L455 177 L465 175.8 L485 175 L500 177 L515 180 L530 182.5 L550 180.8 L560 180 L584 179 L610 182 L628 177 L636 180 L660 183.5 L700 185 L745 187 L745 270 L365 270Z" fill="#fca55d"/>
<path d="M370 201.4C370.7 200.8 372.7 199.4 374 198C375.3 196.6 376.7 193.8 378 192.7C379.3 191.5 380.7 191.7 382 191.1C383.3 190.5 384.7 190.2 386 189.3C387.3 188.4 388.7 186.6 390 185.7C391.3 184.8 392.7 184.4 394 183.6C395.3 182.8 396.7 181.7 398 180.8C399.3 180 400.7 179.6 402 178.5C403.3 177.4 404.7 175.2 406 174.3C407.3 173.5 408.7 173.5 410 173.4C411.3 173.3 412.7 173.1 414 173.6C415.3 174.1 416.7 176.1 418 176.5C419.3 176.9 420.7 176.5 422 176.3C423.3 176.1 424.7 174.8 426 175.3C427.3 175.8 428.7 178.3 430 179.3C431.3 180.3 432.7 180.6 434 181.1C435.3 181.6 436.7 182 438 182.6C439.3 183.2 440.7 184.2 442 184.4C443.3 184.6 444.7 183.9 446 183.7C447.3 183.5 448.7 183.3 450 183.2C451.3 183.1 452.7 183.6 454 183.2C455.3 182.8 456.7 181.1 458 180.6C459.3 180.1 460.7 180.3 462 180.2C463.3 180.1 464.7 180 466 179.8C467.3 179.7 468.7 179.2 470 179.3C471.3 179.5 472.7 180.4 474 180.7C475.3 181 476.7 180.7 478 181C479.3 181.3 480.7 182.3 482 182.6C483.3 182.8 484.7 182.3 486 182.5C487.3 182.7 488.7 183.5 490 183.8C491.3 184.1 492.7 184 494 184.2C495.3 184.4 496.7 184.9 498 185C499.3 185.1 500.7 184.7 502 184.6C503.3 184.5 504.7 184.3 506 184.7C507.3 185.1 508.7 186.6 510 187.1C511.3 187.6 512.7 187.6 514 187.7C515.3 187.8 516.7 187.7 518 187.7C519.3 187.7 520.7 187.8 522 187.7C523.3 187.6 524.7 187.2 526 187.3C527.3 187.4 528.7 187.8 530 188C531.3 188.2 532.7 188.4 534 188.5C535.3 188.6 536.7 188 538 188.4C539.3 188.8 540.7 190.5 542 190.8C543.3 191.1 544.7 190.2 546 190.3C547.3 190.4 548.7 191.6 550 191.6C551.3 191.6 552.7 190.4 554 190.3C555.3 190.2 556.7 191.3 558 191.3C559.3 191.3 560.7 191 562 190.4C563.3 189.8 564.7 188 566 187.5C567.3 187 568.7 187.1 570 187.3C571.3 187.5 572.7 188.7 574 188.7C575.3 188.7 576.7 187.4 578 187.5C579.3 187.6 580.7 189 582 189.1C583.3 189.2 584.7 188.4 586 188.3C587.3 188.2 588.7 188 590 188.4C591.3 188.8 592.7 190.2 594 190.9C595.3 191.6 596.7 192.2 598 192.5C599.3 192.8 600.7 192.4 602 192.5C603.3 192.6 604.7 192.8 606 193.2C607.3 193.6 608.7 194.4 610 194.8C611.3 195.2 612.7 195.8 614 195.6C615.3 195.4 616.7 194.7 618 193.8C619.3 193 620.7 191.3 622 190.5C623.3 189.7 624.7 189.4 626 188.9C627.3 188.4 628.7 187.8 630 187.7C631.3 187.6 632.7 184.6 634 188.1C635.3 191.6 636.7 206.9 638 208.5C639.3 210.1 640.7 200 642 197.9C643.3 195.8 644.7 196.4 646 196.2C647.3 195.9 648.7 196.3 650 196.4C651.3 196.5 652.7 196.2 654 196.8C655.3 197.4 656.7 199.4 658 199.8C659.3 200.2 660.7 199 662 199.5C663.3 200 664.7 202 666 202.7C667.3 203.4 668.7 203.2 670 203.8C671.3 204.4 672.7 205.8 674 206.4C675.3 207 676.7 207 678 207.2C679.3 207.4 680.7 207.2 682 207.4C683.3 207.6 684.7 208.2 686 208.1C687.3 208 688.7 207.3 690 206.7C691.3 206.1 692.7 204.8 694 204.7C695.3 204.5 696.7 205.8 698 205.8C699.3 205.8 700.7 204.7 702 204.9C703.3 205.1 704.7 206.3 706 207.2C707.3 208.1 708.7 209.5 710 210.1C711.3 210.7 712.7 210.8 714 210.9C715.3 211 716.7 210.2 718 210.7C719.3 211.2 720.7 213.5 722 213.8C723.3 214.1 724.7 213.2 726 212.4C727.3 211.6 728.7 210 730 209.1C731.3 208.2 732.7 207.6 734 206.8C735.3 206 736.7 205 738 204.4C739.3 203.8 740.7 203.5 742 203C743.3 202.5 745.3 201.7 746 201.4 L750 300 L360 300Z" fill="#f99153"/>
<path d="M370 201.4C370.7 200.8 372.7 199.4 374 198C375.3 196.6 376.7 193.8 378 192.7C379.3 191.5 380.7 191.7 382 191.1C383.3 190.5 384.7 190.2 386 189.3C387.3 188.4 388.7 186.6 390 185.7C391.3 184.8 392.7 184.4 394 183.6C395.3 182.8 396.7 181.7 398 180.8C399.3 180 400.7 179.6 402 178.5C403.3 177.4 404.7 175.2 406 174.3C407.3 173.5 408.7 173.5 410 173.4C411.3 173.3 412.7 173.1 414 173.6C415.3 174.1 416.7 176.1 418 176.5C419.3 176.9 420.7 176.5 422 176.3C423.3 176.1 424.7 174.8 426 175.3C427.3 175.8 428.7 178.3 430 179.3C431.3 180.3 432.7 180.6 434 181.1C435.3 181.6 436.7 182 438 182.6C439.3 183.2 440.7 184.2 442 184.4C443.3 184.6 444.7 183.9 446 183.7C447.3 183.5 448.7 183.3 450 183.2C451.3 183.1 452.7 183.6 454 183.2C455.3 182.8 456.7 181.1 458 180.6C459.3 180.1 460.7 180.3 462 180.2C463.3 180.1 464.7 180 466 179.8C467.3 179.7 468.7 179.2 470 179.3C471.3 179.5 472.7 180.4 474 180.7C475.3 181 476.7 180.7 478 181C479.3 181.3 480.7 182.3 482 182.6C483.3 182.8 484.7 182.3 486 182.5C487.3 182.7 488.7 183.5 490 183.8C491.3 184.1 492.7 184 494 184.2C495.3 184.4 496.7 184.9 498 185C499.3 185.1 500.7 184.7 502 184.6C503.3 184.5 504.7 184.3 506 184.7C507.3 185.1 508.7 186.6 510 187.1C511.3 187.6 512.7 187.6 514 187.7C515.3 187.8 516.7 187.7 518 187.7C519.3 187.7 520.7 187.8 522 187.7C523.3 187.6 524.7 187.2 526 187.3C527.3 187.4 528.7 187.8 530 188C531.3 188.2 532.7 188.4 534 188.5C535.3 188.6 536.7 188 538 188.4C539.3 188.8 540.7 190.5 542 190.8C543.3 191.1 544.7 190.2 546 190.3C547.3 190.4 548.7 191.6 550 191.6C551.3 191.6 552.7 190.4 554 190.3C555.3 190.2 556.7 191.3 558 191.3C559.3 191.3 560.7 191 562 190.4C563.3 189.8 564.7 188 566 187.5C567.3 187 568.7 187.1 570 187.3C571.3 187.5 572.7 188.7 574 188.7C575.3 188.7 576.7 187.4 578 187.5C579.3 187.6 580.7 189 582 189.1C583.3 189.2 584.7 188.4 586 188.3C587.3 188.2 588.7 188 590 188.4C591.3 188.8 592.7 190.2 594 190.9C595.3 191.6 596.7 192.2 598 192.5C599.3 192.8 600.7 192.4 602 192.5C603.3 192.6 604.7 192.8 606 193.2C607.3 193.6 608.7 194.4 610 194.8C611.3 195.2 612.7 195.8 614 195.6C615.3 195.4 616.7 194.7 618 193.8C619.3 193 620.7 191.3 622 190.5C623.3 189.7 624.7 189.4 626 188.9C627.3 188.4 628.7 187.8 630 187.7C631.3 187.6 632.7 184.6 634 188.1C635.3 191.6 636.7 206.9 638 208.5C639.3 210.1 640.7 200 642 197.9C643.3 195.8 644.7 196.4 646 196.2C647.3 195.9 648.7 196.3 650 196.4C651.3 196.5 652.7 196.2 654 196.8C655.3 197.4 656.7 199.4 658 199.8C659.3 200.2 660.7 199 662 199.5C663.3 200 664.7 202 666 202.7C667.3 203.4 668.7 203.2 670 203.8C671.3 204.4 672.7 205.8 674 206.4C675.3 207 676.7 207 678 207.2C679.3 207.4 680.7 207.2 682 207.4C683.3 207.6 684.7 208.2 686 208.1C687.3 208 688.7 207.3 690 206.7C691.3 206.1 692.7 204.8 694 204.7C695.3 204.5 696.7 205.8 698 205.8C699.3 205.8 700.7 204.7 702 204.9C703.3 205.1 704.7 206.3 706 207.2C707.3 208.1 708.7 209.5 710 210.1C711.3 210.7 712.7 210.8 714 210.9C715.3 211 716.7 210.2 718 210.7C719.3 211.2 720.7 213.5 722 213.8C723.3 214.1 724.7 213.2 726 212.4C727.3 211.6 728.7 210 730 209.1C731.3 208.2 732.7 207.6 734 206.8C735.3 206 736.7 205 738 204.4C739.3 203.8 740.7 203.5 742 203C743.3 202.5 745.3 201.7 746 201.4" fill="none" stroke="#dcd2d2" stroke-width="1.5" stroke-linejoin="round" stroke-linecap="round"/>
<path d="M370 200.6C370.7 199.6 372.7 196.3 374 194.8C375.3 193.3 376.7 192.5 378 191.6C379.3 190.7 380.7 190 382 189.5C383.3 189 384.7 188.6 386 188.4C387.3 188.2 388.7 188.9 390 188.4C391.3 187.9 392.7 186.3 394 185.7C395.3 185 396.7 184.8 398 184.5C399.3 184.2 400.7 184.6 402 183.9C403.3 183.2 404.7 181.2 406 180.6C407.3 179.9 408.7 179.6 410 180C411.3 180.4 412.7 182.5 414 183C415.3 183.5 416.7 183.6 418 183.1C419.3 182.6 420.7 180.9 422 180.2C423.3 179.5 424.7 178.9 426 178.9C427.3 178.9 428.7 179.8 430 180.2C431.3 180.6 432.7 181.3 434 181.6C435.3 181.8 436.7 180.9 438 181.7C439.3 182.5 440.7 185.5 442 186.6C443.3 187.7 444.7 187.9 446 188.3C447.3 188.7 448.7 188.9 450 188.8C451.3 188.7 452.7 188.3 454 187.9C455.3 187.5 456.7 186.7 458 186.5C459.3 186.3 460.7 186.2 462 186.6C463.3 187 464.7 188.9 466 188.9C467.3 188.9 468.7 187 470 186.8C471.3 186.6 472.7 187.8 474 187.6C475.3 187.4 476.7 185.9 478 185.7C479.3 185.5 480.7 186.5 482 186.5C483.3 186.5 484.7 185.8 486 185.5C487.3 185.2 488.7 185 490 184.9C491.3 184.8 492.7 184.7 494 185C495.3 185.3 496.7 186.7 498 186.8C499.3 186.9 500.7 185.6 502 185.8C503.3 186 504.7 187.3 506 188.2C507.3 189.1 508.7 190.2 510 191.2C511.3 192.2 512.7 193.4 514 194C515.3 194.6 516.7 194.7 518 194.8C519.3 194.9 520.7 194.3 522 194.6C523.3 194.9 524.7 196.6 526 196.7C527.3 196.8 528.7 195.5 530 195C531.3 194.5 532.7 194 534 193.8C535.3 193.6 536.7 193.8 538 193.8C539.3 193.8 540.7 194 542 193.8C543.3 193.6 544.7 192.9 546 192.7C547.3 192.5 548.7 192.7 550 192.8C551.3 192.9 552.7 193.2 554 193.4C555.3 193.6 556.7 194.1 558 194.2C559.3 194.2 560.7 193.6 562 193.7C563.3 193.8 564.7 194.5 566 195C567.3 195.5 568.7 196.5 570 196.9C571.3 197.3 572.7 197.6 574 197.7C575.3 197.8 576.7 197.5 578 197.6C579.3 197.7 580.7 198 582 198.1C583.3 198.2 584.7 198.4 586 198.2C587.3 198 588.7 197.1 590 196.8C591.3 196.5 592.7 196.5 594 196.4C595.3 196.3 596.7 195.9 598 196.4C599.3 196.9 600.7 198.6 602 199.2C603.3 199.8 604.7 199.3 606 199.7C607.3 200.1 608.7 201.9 610 201.8C611.3 201.8 612.7 199.5 614 199.4C615.3 199.3 616.7 200.9 618 201.1C619.3 201.3 620.7 200.6 622 200.4C623.3 200.2 624.7 200.3 626 200.1C627.3 199.8 628.7 198.7 630 198.9C631.3 199.1 632.7 199.1 634 201.2C635.3 203.3 636.7 211.5 638 211.7C639.3 211.9 640.7 204.6 642 202.5C643.3 200.4 644.7 199.6 646 198.9C647.3 198.2 648.7 198.7 650 198.5C651.3 198.3 652.7 197.9 654 197.9C655.3 197.9 656.7 198.2 658 198.5C659.3 198.8 660.7 198.9 662 199.5C663.3 200.1 664.7 201.2 666 201.9C667.3 202.6 668.7 202.8 670 203.8C671.3 204.8 672.7 206.5 674 207.7C675.3 208.9 676.7 210.2 678 211C679.3 211.8 680.7 212.3 682 212.3C683.3 212.3 684.7 211.1 686 210.9C687.3 210.8 688.7 211.4 690 211.4C691.3 211.4 692.7 211.1 694 210.7C695.3 210.3 696.7 209.2 698 208.9C699.3 208.6 700.7 208.8 702 208.8C703.3 208.8 704.7 208.7 706 208.9C707.3 209.1 708.7 209.7 710 209.9C711.3 210.2 712.7 210.4 714 210.4C715.3 210.4 716.7 209.4 718 209.7C719.3 210 720.7 211.3 722 212.1C723.3 212.8 724.7 214.3 726 214.2C727.3 214.1 728.7 212.3 730 211.3C731.3 210.3 732.7 209 734 208.3C735.3 207.6 736.7 207.4 738 207.3C739.3 207.2 740.7 207.9 742 207.8C743.3 207.7 745.3 207.1 746 206.9 L750 300 L360 300Z" fill="#f67f4b"/>
<path d="M370 200.6C370.7 199.6 372.7 196.3 374 194.8C375.3 193.3 376.7 192.5 378 191.6C379.3 190.7 380.7 190 382 189.5C383.3 189 384.7 188.6 386 188.4C387.3 188.2 388.7 188.9 390 188.4C391.3 187.9 392.7 186.3 394 185.7C395.3 185 396.7 184.8 398 184.5C399.3 184.2 400.7 184.6 402 183.9C403.3 183.2 404.7 181.2 406 180.6C407.3 179.9 408.7 179.6 410 180C411.3 180.4 412.7 182.5 414 183C415.3 183.5 416.7 183.6 418 183.1C419.3 182.6 420.7 180.9 422 180.2C423.3 179.5 424.7 178.9 426 178.9C427.3 178.9 428.7 179.8 430 180.2C431.3 180.6 432.7 181.3 434 181.6C435.3 181.8 436.7 180.9 438 181.7C439.3 182.5 440.7 185.5 442 186.6C443.3 187.7 444.7 187.9 446 188.3C447.3 188.7 448.7 188.9 450 188.8C451.3 188.7 452.7 188.3 454 187.9C455.3 187.5 456.7 186.7 458 186.5C459.3 186.3 460.7 186.2 462 186.6C463.3 187 464.7 188.9 466 188.9C467.3 188.9 468.7 187 470 186.8C471.3 186.6 472.7 187.8 474 187.6C475.3 187.4 476.7 185.9 478 185.7C479.3 185.5 480.7 186.5 482 186.5C483.3 186.5 484.7 185.8 486 185.5C487.3 185.2 488.7 185 490 184.9C491.3 184.8 492.7 184.7 494 185C495.3 185.3 496.7 186.7 498 186.8C499.3 186.9 500.7 185.6 502 185.8C503.3 186 504.7 187.3 506 188.2C507.3 189.1 508.7 190.2 510 191.2C511.3 192.2 512.7 193.4 514 194C515.3 194.6 516.7 194.7 518 194.8C519.3 194.9 520.7 194.3 522 194.6C523.3 194.9 524.7 196.6 526 196.7C527.3 196.8 528.7 195.5 530 195C531.3 194.5 532.7 194 534 193.8C535.3 193.6 536.7 193.8 538 193.8C539.3 193.8 540.7 194 542 193.8C543.3 193.6 544.7 192.9 546 192.7C547.3 192.5 548.7 192.7 550 192.8C551.3 192.9 552.7 193.2 554 193.4C555.3 193.6 556.7 194.1 558 194.2C559.3 194.2 560.7 193.6 562 193.7C563.3 193.8 564.7 194.5 566 195C567.3 195.5 568.7 196.5 570 196.9C571.3 197.3 572.7 197.6 574 197.7C575.3 197.8 576.7 197.5 578 197.6C579.3 197.7 580.7 198 582 198.1C583.3 198.2 584.7 198.4 586 198.2C587.3 198 588.7 197.1 590 196.8C591.3 196.5 592.7 196.5 594 196.4C595.3 196.3 596.7 195.9 598 196.4C599.3 196.9 600.7 198.6 602 199.2C603.3 199.8 604.7 199.3 606 199.7C607.3 200.1 608.7 201.9 610 201.8C611.3 201.8 612.7 199.5 614 199.4C615.3 199.3 616.7 200.9 618 201.1C619.3 201.3 620.7 200.6 622 200.4C623.3 200.2 624.7 200.3 626 200.1C627.3 199.8 628.7 198.7 630 198.9C631.3 199.1 632.7 199.1 634 201.2C635.3 203.3 636.7 211.5 638 211.7C639.3 211.9 640.7 204.6 642 202.5C643.3 200.4 644.7 199.6 646 198.9C647.3 198.2 648.7 198.7 650 198.5C651.3 198.3 652.7 197.9 654 197.9C655.3 197.9 656.7 198.2 658 198.5C659.3 198.8 660.7 198.9 662 199.5C663.3 200.1 664.7 201.2 666 201.9C667.3 202.6 668.7 202.8 670 203.8C671.3 204.8 672.7 206.5 674 207.7C675.3 208.9 676.7 210.2 678 211C679.3 211.8 680.7 212.3 682 212.3C683.3 212.3 684.7 211.1 686 210.9C687.3 210.8 688.7 211.4 690 211.4C691.3 211.4 692.7 211.1 694 210.7C695.3 210.3 696.7 209.2 698 208.9C699.3 208.6 700.7 208.8 702 208.8C703.3 208.8 704.7 208.7 706 208.9C707.3 209.1 708.7 209.7 710 209.9C711.3 210.2 712.7 210.4 714 210.4C715.3 210.4 716.7 209.4 718 209.7C719.3 210 720.7 211.3 722 212.1C723.3 212.8 724.7 214.3 726 214.2C727.3 214.1 728.7 212.3 730 211.3C731.3 210.3 732.7 209 734 208.3C735.3 207.6 736.7 207.4 738 207.3C739.3 207.2 740.7 207.9 742 207.8C743.3 207.7 745.3 207.1 746 206.9" fill="none" stroke="#dcd2d2" stroke-width="1.5" stroke-linejoin="round" stroke-linecap="round"/>
<path d="M370 202.5C370.7 201.6 372.7 198.3 374 197.2C375.3 196.1 376.7 196.8 378 196.1C379.3 195.4 380.7 193.5 382 193C383.3 192.5 384.7 193.4 386 193C387.3 192.6 388.7 191.6 390 190.7C391.3 189.8 392.7 188.4 394 187.7C395.3 187 396.7 187.2 398 186.6C399.3 186 400.7 184.6 402 183.9C403.3 183.2 404.7 182.5 406 182.4C407.3 182.3 408.7 183 410 183.2C411.3 183.4 412.7 183.5 414 183.7C415.3 183.9 416.7 184.4 418 184.6C419.3 184.8 420.7 184.5 422 184.6C423.3 184.7 424.7 185.3 426 185.3C427.3 185.3 428.7 184.4 430 184.4C431.3 184.4 432.7 184.7 434 185.5C435.3 186.3 436.7 188.4 438 189.5C439.3 190.6 440.7 191.6 442 192.2C443.3 192.8 444.7 192.7 446 193.1C447.3 193.5 448.7 195 450 194.6C451.3 194.2 452.7 191.7 454 190.9C455.3 190.1 456.7 190.3 458 189.9C459.3 189.5 460.7 188.7 462 188.5C463.3 188.3 464.7 188.7 466 189C467.3 189.3 468.7 190 470 190.3C471.3 190.7 472.7 190.9 474 191.1C475.3 191.3 476.7 191.6 478 191.5C479.3 191.4 480.7 190.6 482 190.7C483.3 190.8 484.7 191.8 486 192C487.3 192.2 488.7 192 490 192.1C491.3 192.2 492.7 192.1 494 192.3C495.3 192.5 496.7 192.9 498 193.1C499.3 193.3 500.7 193.3 502 193.6C503.3 193.9 504.7 194.4 506 194.7C507.3 195 508.7 195.1 510 195.5C511.3 195.9 512.7 197.1 514 197.3C515.3 197.5 516.7 196.6 518 196.5C519.3 196.4 520.7 196.3 522 196.6C523.3 196.8 524.7 197.7 526 198C527.3 198.3 528.7 198.3 530 198.5C531.3 198.7 532.7 198.6 534 198.9C535.3 199.2 536.7 199.8 538 200.2C539.3 200.6 540.7 201.3 542 201.6C543.3 201.9 544.7 202 546 202.1C547.3 202.2 548.7 201.7 550 201.9C551.3 202.1 552.7 202.9 554 203.1C555.3 203.3 556.7 203.4 558 203.1C559.3 202.8 560.7 201.8 562 201.2C563.3 200.6 564.7 200.2 566 199.8C567.3 199.5 568.7 198.8 570 199.1C571.3 199.3 572.7 201.2 574 201.3C575.3 201.4 576.7 199.6 578 199.8C579.3 200 580.7 201.8 582 202.5C583.3 203.2 584.7 203.5 586 203.7C587.3 203.9 588.7 203.4 590 203.8C591.3 204.2 592.7 205.9 594 206.2C595.3 206.5 596.7 205.2 598 205.4C599.3 205.6 600.7 206.5 602 207.2C603.3 207.9 604.7 209.3 606 209.8C607.3 210.3 608.7 209.8 610 210.1C611.3 210.4 612.7 211.8 614 211.7C615.3 211.6 616.7 210.2 618 209.5C619.3 208.8 620.7 208.4 622 207.7C623.3 207 624.7 205.7 626 205.3C627.3 204.9 628.7 205.6 630 205.5C631.3 205.4 632.7 203.5 634 204.7C635.3 205.9 636.7 213.1 638 212.7C639.3 212.3 640.7 204.4 642 202.2C643.3 200 644.7 199.7 646 199.3C647.3 199 648.7 199.9 650 200.1C651.3 200.3 652.7 200.3 654 200.4C655.3 200.5 656.7 200.3 658 200.7C659.3 201.1 660.7 202.2 662 202.8C663.3 203.4 664.7 203.5 666 204.1C667.3 204.7 668.7 205.6 670 206.6C671.3 207.6 672.7 209.1 674 210C675.3 210.9 676.7 212.1 678 212.3C679.3 212.5 680.7 211.5 682 211.1C683.3 210.7 684.7 210.4 686 210.1C687.3 209.8 688.7 209.3 690 209.2C691.3 209.1 692.7 209.5 694 209.3C695.3 209.2 696.7 208.3 698 208.3C699.3 208.3 700.7 208.7 702 209.3C703.3 209.9 704.7 211.1 706 211.7C707.3 212.2 708.7 212 710 212.6C711.3 213.2 712.7 214.4 714 215.1C715.3 215.8 716.7 216.5 718 216.6C719.3 216.7 720.7 215.1 722 215.4C723.3 215.7 724.7 218.6 726 218.3C727.3 218.1 728.7 215.6 730 213.9C731.3 212.2 732.7 209.3 734 208.3C735.3 207.3 736.7 208 738 207.7C739.3 207.4 740.7 206.9 742 206.7C743.3 206.5 745.3 206.4 746 206.3 L750 300 L360 300Z" fill="#f36b43"/>
<path d="M370 202.5C370.7 201.6 372.7 198.3 374 197.2C375.3 196.1 376.7 196.8 378 196.1C379.3 195.4 380.7 193.5 382 193C383.3 192.5 384.7 193.4 386 193C387.3 192.6 388.7 191.6 390 190.7C391.3 189.8 392.7 188.4 394 187.7C395.3 187 396.7 187.2 398 186.6C399.3 186 400.7 184.6 402 183.9C403.3 183.2 404.7 182.5 406 182.4C407.3 182.3 408.7 183 410 183.2C411.3 183.4 412.7 183.5 414 183.7C415.3 183.9 416.7 184.4 418 184.6C419.3 184.8 420.7 184.5 422 184.6C423.3 184.7 424.7 185.3 426 185.3C427.3 185.3 428.7 184.4 430 184.4C431.3 184.4 432.7 184.7 434 185.5C435.3 186.3 436.7 188.4 438 189.5C439.3 190.6 440.7 191.6 442 192.2C443.3 192.8 444.7 192.7 446 193.1C447.3 193.5 448.7 195 450 194.6C451.3 194.2 452.7 191.7 454 190.9C455.3 190.1 456.7 190.3 458 189.9C459.3 189.5 460.7 188.7 462 188.5C463.3 188.3 464.7 188.7 466 189C467.3 189.3 468.7 190 470 190.3C471.3 190.7 472.7 190.9 474 191.1C475.3 191.3 476.7 191.6 478 191.5C479.3 191.4 480.7 190.6 482 190.7C483.3 190.8 484.7 191.8 486 192C487.3 192.2 488.7 192 490 192.1C491.3 192.2 492.7 192.1 494 192.3C495.3 192.5 496.7 192.9 498 193.1C499.3 193.3 500.7 193.3 502 193.6C503.3 193.9 504.7 194.4 506 194.7C507.3 195 508.7 195.1 510 195.5C511.3 195.9 512.7 197.1 514 197.3C515.3 197.5 516.7 196.6 518 196.5C519.3 196.4 520.7 196.3 522 196.6C523.3 196.8 524.7 197.7 526 198C527.3 198.3 528.7 198.3 530 198.5C531.3 198.7 532.7 198.6 534 198.9C535.3 199.2 536.7 199.8 538 200.2C539.3 200.6 540.7 201.3 542 201.6C543.3 201.9 544.7 202 546 202.1C547.3 202.2 548.7 201.7 550 201.9C551.3 202.1 552.7 202.9 554 203.1C555.3 203.3 556.7 203.4 558 203.1C559.3 202.8 560.7 201.8 562 201.2C563.3 200.6 564.7 200.2 566 199.8C567.3 199.5 568.7 198.8 570 199.1C571.3 199.3 572.7 201.2 574 201.3C575.3 201.4 576.7 199.6 578 199.8C579.3 200 580.7 201.8 582 202.5C583.3 203.2 584.7 203.5 586 203.7C587.3 203.9 588.7 203.4 590 203.8C591.3 204.2 592.7 205.9 594 206.2C595.3 206.5 596.7 205.2 598 205.4C599.3 205.6 600.7 206.5 602 207.2C603.3 207.9 604.7 209.3 606 209.8C607.3 210.3 608.7 209.8 610 210.1C611.3 210.4 612.7 211.8 614 211.7C615.3 211.6 616.7 210.2 618 209.5C619.3 208.8 620.7 208.4 622 207.7C623.3 207 624.7 205.7 626 205.3C627.3 204.9 628.7 205.6 630 205.5C631.3 205.4 632.7 203.5 634 204.7C635.3 205.9 636.7 213.1 638 212.7C639.3 212.3 640.7 204.4 642 202.2C643.3 200 644.7 199.7 646 199.3C647.3 199 648.7 199.9 650 200.1C651.3 200.3 652.7 200.3 654 200.4C655.3 200.5 656.7 200.3 658 200.7C659.3 201.1 660.7 202.2 662 202.8C663.3 203.4 664.7 203.5 666 204.1C667.3 204.7 668.7 205.6 670 206.6C671.3 207.6 672.7 209.1 674 210C675.3 210.9 676.7 212.1 678 212.3C679.3 212.5 680.7 211.5 682 211.1C683.3 210.7 684.7 210.4 686 210.1C687.3 209.8 688.7 209.3 690 209.2C691.3 209.1 692.7 209.5 694 209.3C695.3 209.2 696.7 208.3 698 208.3C699.3 208.3 700.7 208.7 702 209.3C703.3 209.9 704.7 211.1 706 211.7C707.3 212.2 708.7 212 710 212.6C711.3 213.2 712.7 214.4 714 215.1C715.3 215.8 716.7 216.5 718 216.6C719.3 216.7 720.7 215.1 722 215.4C723.3 215.7 724.7 218.6 726 218.3C727.3 218.1 728.7 215.6 730 213.9C731.3 212.2 732.7 209.3 734 208.3C735.3 207.3 736.7 208 738 207.7C739.3 207.4 740.7 206.9 742 206.7C743.3 206.5 745.3 206.4 746 206.3" fill="none" stroke="#dcd2d2" stroke-width="1.5" stroke-linejoin="round" stroke-linecap="round"/>
<path d="M370 201.4C370.7 201.1 372.7 200.1 374 199.3C375.3 198.5 376.7 197.3 378 196.8C379.3 196.3 380.7 196.9 382 196.5C383.3 196.1 384.7 194.8 386 194.3C387.3 193.8 388.7 194 390 193.3C391.3 192.6 392.7 190.9 394 190.3C395.3 189.7 396.7 190 398 189.7C399.3 189.3 400.7 188.8 402 188.2C403.3 187.6 404.7 186.2 406 186C407.3 185.8 408.7 186.3 410 186.7C411.3 187 412.7 187.3 414 188.1C415.3 188.9 416.7 191 418 191.4C419.3 191.8 420.7 190.7 422 190.3C423.3 190 424.7 189.7 426 189.3C427.3 188.9 428.7 187.9 430 187.9C431.3 187.9 432.7 189.1 434 189.5C435.3 189.9 436.7 189.5 438 190.6C439.3 191.7 440.7 194.9 442 196.2C443.3 197.5 444.7 197.9 446 198.2C447.3 198.4 448.7 198.3 450 197.7C451.3 197.1 452.7 195.3 454 194.6C455.3 193.9 456.7 193.7 458 193.5C459.3 193.3 460.7 193.6 462 193.7C463.3 193.8 464.7 194.2 466 194.2C467.3 194.2 468.7 193.8 470 193.6C471.3 193.4 472.7 192.6 474 192.9C475.3 193.2 476.7 195.1 478 195.2C479.3 195.3 480.7 193.4 482 193.6C483.3 193.8 484.7 195.9 486 196.2C487.3 196.5 488.7 195.3 490 195.4C491.3 195.5 492.7 196.1 494 196.5C495.3 196.9 496.7 197.8 498 197.6C499.3 197.4 500.7 195.7 502 195.6C503.3 195.5 504.7 196.5 506 197.2C507.3 197.9 508.7 198.8 510 199.6C511.3 200.3 512.7 201.1 514 201.7C515.3 202.3 516.7 202.9 518 203.1C519.3 203.3 520.7 202.8 522 203C523.3 203.2 524.7 204.1 526 204.2C527.3 204.3 528.7 203.6 530 203.8C531.3 204 532.7 205.4 534 205.4C535.3 205.4 536.7 204 538 203.9C539.3 203.8 540.7 204.6 542 205.1C543.3 205.6 544.7 206.6 546 206.9C547.3 207.2 548.7 206.5 550 206.7C551.3 206.9 552.7 207.8 554 208C555.3 208.2 556.7 207.8 558 207.6C559.3 207.4 560.7 207.1 562 207.1C563.3 207.1 564.7 207.8 566 207.7C567.3 207.6 568.7 206.8 570 206.6C571.3 206.3 572.7 206.1 574 206.2C575.3 206.3 576.7 206.6 578 207.2C579.3 207.8 580.7 208.8 582 209.5C583.3 210.2 584.7 211.1 586 211.2C587.3 211.3 588.7 209.8 590 210C591.3 210.2 592.7 211.9 594 212.6C595.3 213.3 596.7 213.7 598 214C599.3 214.3 600.7 214.1 602 214.5C603.3 214.9 604.7 216.2 606 216.7C607.3 217.2 608.7 217.3 610 217.6C611.3 217.9 612.7 218.4 614 218.5C615.3 218.6 616.7 218.4 618 218.2C619.3 218 620.7 218 622 217.2C623.3 216.4 624.7 214 626 213.5C627.3 213 628.7 214.6 630 214.4C631.3 214.2 632.7 212.4 634 212.4C635.3 212.4 636.7 215.9 638 214.5C639.3 213.1 640.7 206.4 642 203.9C643.3 201.4 644.7 200.2 646 199.5C647.3 198.8 648.7 199.2 650 199.4C651.3 199.6 652.7 200.6 654 200.8C655.3 201 656.7 200.3 658 200.8C659.3 201.3 660.7 202.8 662 203.6C663.3 204.4 664.7 204.5 666 205.7C667.3 206.8 668.7 209.3 670 210.5C671.3 211.7 672.7 212.6 674 213.1C675.3 213.6 676.7 213.2 678 213.4C679.3 213.6 680.7 214.4 682 214.2C683.3 214 684.7 212.4 686 212C687.3 211.6 688.7 211.7 690 211.6C691.3 211.5 692.7 211.5 694 211.4C695.3 211.3 696.7 211 698 210.8C699.3 210.6 700.7 210 702 210.2C703.3 210.3 704.7 211.2 706 211.7C707.3 212.2 708.7 212.4 710 213.1C711.3 213.8 712.7 214.9 714 215.7C715.3 216.5 716.7 217.8 718 218C719.3 218.2 720.7 216.8 722 217.1C723.3 217.4 724.7 220.2 726 219.7C727.3 219.2 728.7 215.6 730 214C731.3 212.4 732.7 211.1 734 210.3C735.3 209.5 736.7 209.3 738 209.1C739.3 208.8 740.7 209.2 742 208.8C743.3 208.4 745.3 206.9 746 206.5 L750 300 L360 300Z" fill="#e95c47"/>
<path d="M370 201.4C370.7 201.1 372.7 200.1 374 199.3C375.3 198.5 376.7 197.3 378 196.8C379.3 196.3 380.7 196.9 382 196.5C383.3 196.1 384.7 194.8 386 194.3C387.3 193.8 388.7 194 390 193.3C391.3 192.6 392.7 190.9 394 190.3C395.3 189.7 396.7 190 398 189.7C399.3 189.3 400.7 188.8 402 188.2C403.3 187.6 404.7 186.2 406 186C407.3 185.8 408.7 186.3 410 186.7C411.3 187 412.7 187.3 414 188.1C415.3 188.9 416.7 191 418 191.4C419.3 191.8 420.7 190.7 422 190.3C423.3 190 424.7 189.7 426 189.3C427.3 188.9 428.7 187.9 430 187.9C431.3 187.9 432.7 189.1 434 189.5C435.3 189.9 436.7 189.5 438 190.6C439.3 191.7 440.7 194.9 442 196.2C443.3 197.5 444.7 197.9 446 198.2C447.3 198.4 448.7 198.3 450 197.7C451.3 197.1 452.7 195.3 454 194.6C455.3 193.9 456.7 193.7 458 193.5C459.3 193.3 460.7 193.6 462 193.7C463.3 193.8 464.7 194.2 466 194.2C467.3 194.2 468.7 193.8 470 193.6C471.3 193.4 472.7 192.6 474 192.9C475.3 193.2 476.7 195.1 478 195.2C479.3 195.3 480.7 193.4 482 193.6C483.3 193.8 484.7 195.9 486 196.2C487.3 196.5 488.7 195.3 490 195.4C491.3 195.5 492.7 196.1 494 196.5C495.3 196.9 496.7 197.8 498 197.6C499.3 197.4 500.7 195.7 502 195.6C503.3 195.5 504.7 196.5 506 197.2C507.3 197.9 508.7 198.8 510 199.6C511.3 200.3 512.7 201.1 514 201.7C515.3 202.3 516.7 202.9 518 203.1C519.3 203.3 520.7 202.8 522 203C523.3 203.2 524.7 204.1 526 204.2C527.3 204.3 528.7 203.6 530 203.8C531.3 204 532.7 205.4 534 205.4C535.3 205.4 536.7 204 538 203.9C539.3 203.8 540.7 204.6 542 205.1C543.3 205.6 544.7 206.6 546 206.9C547.3 207.2 548.7 206.5 550 206.7C551.3 206.9 552.7 207.8 554 208C555.3 208.2 556.7 207.8 558 207.6C559.3 207.4 560.7 207.1 562 207.1C563.3 207.1 564.7 207.8 566 207.7C567.3 207.6 568.7 206.8 570 206.6C571.3 206.3 572.7 206.1 574 206.2C575.3 206.3 576.7 206.6 578 207.2C579.3 207.8 580.7 208.8 582 209.5C583.3 210.2 584.7 211.1 586 211.2C587.3 211.3 588.7 209.8 590 210C591.3 210.2 592.7 211.9 594 212.6C595.3 213.3 596.7 213.7 598 214C599.3 214.3 600.7 214.1 602 214.5C603.3 214.9 604.7 216.2 606 216.7C607.3 217.2 608.7 217.3 610 217.6C611.3 217.9 612.7 218.4 614 218.5C615.3 218.6 616.7 218.4 618 218.2C619.3 218 620.7 218 622 217.2C623.3 216.4 624.7 214 626 213.5C627.3 213 628.7 214.6 630 214.4C631.3 214.2 632.7 212.4 634 212.4C635.3 212.4 636.7 215.9 638 214.5C639.3 213.1 640.7 206.4 642 203.9C643.3 201.4 644.7 200.2 646 199.5C647.3 198.8 648.7 199.2 650 199.4C651.3 199.6 652.7 200.6 654 200.8C655.3 201 656.7 200.3 658 200.8C659.3 201.3 660.7 202.8 662 203.6C663.3 204.4 664.7 204.5 666 205.7C667.3 206.8 668.7 209.3 670 210.5C671.3 211.7 672.7 212.6 674 213.1C675.3 213.6 676.7 213.2 678 213.4C679.3 213.6 680.7 214.4 682 214.2C683.3 214 684.7 212.4 686 212C687.3 211.6 688.7 211.7 690 211.6C691.3 211.5 692.7 211.5 694 211.4C695.3 211.3 696.7 211 698 210.8C699.3 210.6 700.7 210 702 210.2C703.3 210.3 704.7 211.2 706 211.7C707.3 212.2 708.7 212.4 710 213.1C711.3 213.8 712.7 214.9 714 215.7C715.3 216.5 716.7 217.8 718 218C719.3 218.2 720.7 216.8 722 217.1C723.3 217.4 724.7 220.2 726 219.7C727.3 219.2 728.7 215.6 730 214C731.3 212.4 732.7 211.1 734 210.3C735.3 209.5 736.7 209.3 738 209.1C739.3 208.8 740.7 209.2 742 208.8C743.3 208.4 745.3 206.9 746 206.5" fill="none" stroke="#dcd2d2" stroke-width="1.5" stroke-linejoin="round" stroke-linecap="round"/>
<path d="M370 201.5C370.7 200.9 372.7 198.3 374 197.7C375.3 197.1 376.7 198 378 197.7C379.3 197.3 380.7 195.9 382 195.6C383.3 195.3 384.7 196.1 386 195.9C387.3 195.7 388.7 194.8 390 194.2C391.3 193.6 392.7 193 394 192.6C395.3 192.2 396.7 192.3 398 191.9C399.3 191.5 400.7 190.8 402 190.2C403.3 189.6 404.7 188.7 406 188.6C407.3 188.5 408.7 189 410 189.8C411.3 190.6 412.7 192.7 414 193.4C415.3 194.1 416.7 194.3 418 194.1C419.3 193.9 420.7 192.7 422 192.4C423.3 192.1 424.7 192.3 426 192.1C427.3 191.9 428.7 191.3 430 191.2C431.3 191.1 432.7 191 434 191.6C435.3 192.2 436.7 193.5 438 194.7C439.3 195.9 440.7 197.6 442 198.8C443.3 200 444.7 201.6 446 202.1C447.3 202.6 448.7 201.9 450 201.6C451.3 201.3 452.7 200.8 454 200.2C455.3 199.6 456.7 198.4 458 198.1C459.3 197.8 460.7 198.8 462 198.6C463.3 198.4 464.7 197.3 466 197.1C467.3 196.9 468.7 196.9 470 197.3C471.3 197.7 472.7 199.3 474 199.4C475.3 199.5 476.7 197.7 478 197.8C479.3 197.9 480.7 199.8 482 200.2C483.3 200.6 484.7 200.7 486 200.5C487.3 200.3 488.7 199.4 490 199.3C491.3 199.2 492.7 199.9 494 200.2C495.3 200.5 496.7 201.3 498 201.2C499.3 201.1 500.7 199.6 502 199.6C503.3 199.6 504.7 200.2 506 201C507.3 201.8 508.7 203.9 510 204.7C511.3 205.4 512.7 205 514 205.5C515.3 206 516.7 207.7 518 207.8C519.3 208 520.7 206.4 522 206.4C523.3 206.4 524.7 207.2 526 207.6C527.3 208 528.7 209 530 209C531.3 209 532.7 207.8 534 207.8C535.3 207.8 536.7 208.4 538 209C539.3 209.6 540.7 210.6 542 211.3C543.3 212 544.7 212.6 546 213C547.3 213.4 548.7 213.8 550 213.6C551.3 213.4 552.7 211.8 554 211.6C555.3 211.4 556.7 212.2 558 212.5C559.3 212.8 560.7 213.1 562 213.1C563.3 213.1 564.7 212.5 566 212.4C567.3 212.3 568.7 212.8 570 212.7C571.3 212.6 572.7 211.8 574 211.8C575.3 211.8 576.7 212.3 578 212.7C579.3 213.1 580.7 213.7 582 214.2C583.3 214.7 584.7 215.2 586 215.8C587.3 216.4 588.7 217.2 590 217.6C591.3 218 592.7 218.1 594 218.4C595.3 218.7 596.7 219.3 598 219.6C599.3 219.9 600.7 219.8 602 220.3C603.3 220.8 604.7 221.8 606 222.6C607.3 223.3 608.7 224.1 610 224.8C611.3 225.5 612.7 226.4 614 226.8C615.3 227.2 616.7 227.3 618 227.2C619.3 227 620.7 226.8 622 225.9C623.3 225 624.7 222.6 626 221.6C627.3 220.6 628.7 219.8 630 219.7C631.3 219.6 632.7 221.3 634 220.8C635.3 220.3 636.7 219.5 638 216.9C639.3 214.3 640.7 208.1 642 205.3C643.3 202.5 644.7 200.7 646 199.9C647.3 199.1 648.7 200.1 650 200.3C651.3 200.5 652.7 200.9 654 201.3C655.3 201.7 656.7 202 658 202.6C659.3 203.2 660.7 204.2 662 204.7C663.3 205.2 664.7 204.7 666 205.8C667.3 206.9 668.7 209.8 670 211.2C671.3 212.6 672.7 213.9 674 214.5C675.3 215.1 676.7 214.6 678 214.9C679.3 215.2 680.7 216 682 216.1C683.3 216.2 684.7 216 686 215.5C687.3 215 688.7 214 690 213.3C691.3 212.7 692.7 212.1 694 211.6C695.3 211.1 696.7 210.5 698 210.5C699.3 210.5 700.7 211.5 702 211.8C703.3 212.1 704.7 211.6 706 212.4C707.3 213.2 708.7 215.6 710 216.5C711.3 217.4 712.7 217.4 714 217.8C715.3 218.2 716.7 218.5 718 219C719.3 219.5 720.7 220.3 722 220.7C723.3 221 724.7 221.8 726 221.1C727.3 220.4 728.7 218 730 216.6C731.3 215.2 732.7 213.8 734 212.9C735.3 212 736.7 211.6 738 211.3C739.3 211 740.7 211.3 742 211C743.3 210.7 745.3 209.5 746 209.2 L750 300 L360 300Z" fill="#df4e4b"/>
<path d="M370 201.5C370.7 200.9 372.7 198.3 374 197.7C375.3 197.1 376.7 198 378 197.7C379.3 197.3 380.7 195.9 382 195.6C383.3 195.3 384.7 196.1 386 195.9C387.3 195.7 388.7 194.8 390 194.2C391.3 193.6 392.7 193 394 192.6C395.3 192.2 396.7 192.3 398 191.9C399.3 191.5 400.7 190.8 402 190.2C403.3 189.6 404.7 188.7 406 188.6C407.3 188.5 408.7 189 410 189.8C411.3 190.6 412.7 192.7 414 193.4C415.3 194.1 416.7 194.3 418 194.1C419.3 193.9 420.7 192.7 422 192.4C423.3 192.1 424.7 192.3 426 192.1C427.3 191.9 428.7 191.3 430 191.2C431.3 191.1 432.7 191 434 191.6C435.3 192.2 436.7 193.5 438 194.7C439.3 195.9 440.7 197.6 442 198.8C443.3 200 444.7 201.6 446 202.1C447.3 202.6 448.7 201.9 450 201.6C451.3 201.3 452.7 200.8 454 200.2C455.3 199.6 456.7 198.4 458 198.1C459.3 197.8 460.7 198.8 462 198.6C463.3 198.4 464.7 197.3 466 197.1C467.3 196.9 468.7 196.9 470 197.3C471.3 197.7 472.7 199.3 474 199.4C475.3 199.5 476.7 197.7 478 197.8C479.3 197.9 480.7 199.8 482 200.2C483.3 200.6 484.7 200.7 486 200.5C487.3 200.3 488.7 199.4 490 199.3C491.3 199.2 492.7 199.9 494 200.2C495.3 200.5 496.7 201.3 498 201.2C499.3 201.1 500.7 199.6 502 199.6C503.3 199.6 504.7 200.2 506 201C507.3 201.8 508.7 203.9 510 204.7C511.3 205.4 512.7 205 514 205.5C515.3 206 516.7 207.7 518 207.8C519.3 208 520.7 206.4 522 206.4C523.3 206.4 524.7 207.2 526 207.6C527.3 208 528.7 209 530 209C531.3 209 532.7 207.8 534 207.8C535.3 207.8 536.7 208.4 538 209C539.3 209.6 540.7 210.6 542 211.3C543.3 212 544.7 212.6 546 213C547.3 213.4 548.7 213.8 550 213.6C551.3 213.4 552.7 211.8 554 211.6C555.3 211.4 556.7 212.2 558 212.5C559.3 212.8 560.7 213.1 562 213.1C563.3 213.1 564.7 212.5 566 212.4C567.3 212.3 568.7 212.8 570 212.7C571.3 212.6 572.7 211.8 574 211.8C575.3 211.8 576.7 212.3 578 212.7C579.3 213.1 580.7 213.7 582 214.2C583.3 214.7 584.7 215.2 586 215.8C587.3 216.4 588.7 217.2 590 217.6C591.3 218 592.7 218.1 594 218.4C595.3 218.7 596.7 219.3 598 219.6C599.3 219.9 600.7 219.8 602 220.3C603.3 220.8 604.7 221.8 606 222.6C607.3 223.3 608.7 224.1 610 224.8C611.3 225.5 612.7 226.4 614 226.8C615.3 227.2 616.7 227.3 618 227.2C619.3 227 620.7 226.8 622 225.9C623.3 225 624.7 222.6 626 221.6C627.3 220.6 628.7 219.8 630 219.7C631.3 219.6 632.7 221.3 634 220.8C635.3 220.3 636.7 219.5 638 216.9C639.3 214.3 640.7 208.1 642 205.3C643.3 202.5 644.7 200.7 646 199.9C647.3 199.1 648.7 200.1 650 200.3C651.3 200.5 652.7 200.9 654 201.3C655.3 201.7 656.7 202 658 202.6C659.3 203.2 660.7 204.2 662 204.7C663.3 205.2 664.7 204.7 666 205.8C667.3 206.9 668.7 209.8 670 211.2C671.3 212.6 672.7 213.9 674 214.5C675.3 215.1 676.7 214.6 678 214.9C679.3 215.2 680.7 216 682 216.1C683.3 216.2 684.7 216 686 215.5C687.3 215 688.7 214 690 213.3C691.3 212.7 692.7 212.1 694 211.6C695.3 211.1 696.7 210.5 698 210.5C699.3 210.5 700.7 211.5 702 211.8C703.3 212.1 704.7 211.6 706 212.4C707.3 213.2 708.7 215.6 710 216.5C711.3 217.4 712.7 217.4 714 217.8C715.3 218.2 716.7 218.5 718 219C719.3 219.5 720.7 220.3 722 220.7C723.3 221 724.7 221.8 726 221.1C727.3 220.4 728.7 218 730 216.6C731.3 215.2 732.7 213.8 734 212.9C735.3 212 736.7 211.6 738 211.3C739.3 211 740.7 211.3 742 211C743.3 210.7 745.3 209.5 746 209.2" fill="none" stroke="#dcd2d2" stroke-width="1.5" stroke-linejoin="round" stroke-linecap="round"/>
<path d="M370 201.9C370.7 201.4 372.7 199.9 374 199.2C375.3 198.5 376.7 198.1 378 197.9C379.3 197.7 380.7 198 382 197.8C383.3 197.6 384.7 196.6 386 196.5C387.3 196.4 388.7 197.3 390 197.3C391.3 197.3 392.7 196.8 394 196.4C395.3 196 396.7 195.4 398 195.1C399.3 194.8 400.7 194.6 402 194.3C403.3 194 404.7 193.4 406 193.3C407.3 193.2 408.7 193.1 410 194C411.3 194.9 412.7 197.9 414 198.6C415.3 199.3 416.7 198.8 418 198.4C419.3 198.1 420.7 197.1 422 196.5C423.3 195.9 424.7 195.5 426 194.7C427.3 193.9 428.7 192 430 191.7C431.3 191.4 432.7 192.2 434 192.9C435.3 193.6 436.7 194.4 438 195.8C439.3 197.2 440.7 200 442 201.3C443.3 202.6 444.7 202.7 446 203.7C447.3 204.7 448.7 207.2 450 207.2C451.3 207.2 452.7 204.9 454 203.8C455.3 202.7 456.7 201.1 458 200.8C459.3 200.6 460.7 202.1 462 202.3C463.3 202.5 464.7 202.2 466 202.2C467.3 202.2 468.7 202.3 470 202.3C471.3 202.3 472.7 202 474 202.2C475.3 202.4 476.7 203.5 478 203.6C479.3 203.7 480.7 202.7 482 202.6C483.3 202.5 484.7 202.9 486 203.1C487.3 203.3 488.7 203.4 490 203.7C491.3 204 492.7 205.2 494 204.9C495.3 204.7 496.7 202.4 498 202.2C499.3 201.9 500.7 202.8 502 203.4C503.3 204.1 504.7 205.4 506 206.1C507.3 206.8 508.7 206.6 510 207.3C511.3 208 512.7 209.5 514 210.1C515.3 210.7 516.7 210.7 518 211C519.3 211.3 520.7 211.4 522 211.7C523.3 211.9 524.7 212.4 526 212.5C527.3 212.6 528.7 212.1 530 212.2C531.3 212.2 532.7 212.3 534 212.8C535.3 213.3 536.7 214.7 538 215C539.3 215.3 540.7 214.7 542 214.8C543.3 214.9 544.7 215.4 546 215.8C547.3 216.2 548.7 217.3 550 217.5C551.3 217.7 552.7 216.7 554 216.8C555.3 216.9 556.7 218 558 218.1C559.3 218.2 560.7 217.5 562 217.6C563.3 217.7 564.7 218.7 566 218.5C567.3 218.3 568.7 216.6 570 216.7C571.3 216.8 572.7 218.2 574 218.9C575.3 219.6 576.7 220.6 578 220.9C579.3 221.2 580.7 220 582 220.6C583.3 221.2 584.7 224.3 586 224.7C587.3 225.1 588.7 222.9 590 222.8C591.3 222.7 592.7 223.8 594 224C595.3 224.2 596.7 223.6 598 224C599.3 224.4 600.7 225.6 602 226.5C603.3 227.4 604.7 228.6 606 229.2C607.3 229.8 608.7 229.5 610 230.2C611.3 230.9 612.7 232.9 614 233.3C615.3 233.7 616.7 232.7 618 232.5C619.3 232.3 620.7 232.4 622 232.1C623.3 231.8 624.7 231.1 626 230.4C627.3 229.7 628.7 228.8 630 228.1C631.3 227.4 632.7 227.7 634 226.4C635.3 225.1 636.7 223.4 638 220.1C639.3 216.8 640.7 209.7 642 206.5C643.3 203.3 644.7 201.8 646 201C647.3 200.2 648.7 201.6 650 201.6C651.3 201.6 652.7 201 654 201C655.3 201 656.7 201.1 658 201.6C659.3 202.1 660.7 203.1 662 203.8C663.3 204.6 664.7 205 666 206.1C667.3 207.2 668.7 208.9 670 210.5C671.3 212.1 672.7 214.4 674 215.5C675.3 216.6 676.7 216.7 678 217.3C679.3 218 680.7 219.3 682 219.4C683.3 219.5 684.7 218.7 686 217.9C687.3 217.1 688.7 215.1 690 214.8C691.3 214.5 692.7 216 694 215.9C695.3 215.8 696.7 215.1 698 214.5C699.3 213.9 700.7 212.1 702 212.3C703.3 212.6 704.7 215.3 706 216C707.3 216.7 708.7 215.9 710 216.2C711.3 216.5 712.7 216.9 714 217.6C715.3 218.3 716.7 219.9 718 220.3C719.3 220.7 720.7 219.5 722 219.8C723.3 220.1 724.7 222 726 221.9C727.3 221.8 728.7 220.4 730 219.2C731.3 218 732.7 215.6 734 214.6C735.3 213.6 736.7 213.3 738 213C739.3 212.7 740.7 213.3 742 213C743.3 212.7 745.3 211.6 746 211.3 L750 300 L360 300Z" fill="#d7414e"/>
<path d="M370 201.9C370.7 201.4 372.7 199.9 374 199.2C375.3 198.5 376.7 198.1 378 197.9C379.3 197.7 380.7 198 382 197.8C383.3 197.6 384.7 196.6 386 196.5C387.3 196.4 388.7 197.3 390 197.3C391.3 197.3 392.7 196.8 394 196.4C395.3 196 396.7 195.4 398 195.1C399.3 194.8 400.7 194.6 402 194.3C403.3 194 404.7 193.4 406 193.3C407.3 193.2 408.7 193.1 410 194C411.3 194.9 412.7 197.9 414 198.6C415.3 199.3 416.7 198.8 418 198.4C419.3 198.1 420.7 197.1 422 196.5C423.3 195.9 424.7 195.5 426 194.7C427.3 193.9 428.7 192 430 191.7C431.3 191.4 432.7 192.2 434 192.9C435.3 193.6 436.7 194.4 438 195.8C439.3 197.2 440.7 200 442 201.3C443.3 202.6 444.7 202.7 446 203.7C447.3 204.7 448.7 207.2 450 207.2C451.3 207.2 452.7 204.9 454 203.8C455.3 202.7 456.7 201.1 458 200.8C459.3 200.6 460.7 202.1 462 202.3C463.3 202.5 464.7 202.2 466 202.2C467.3 202.2 468.7 202.3 470 202.3C471.3 202.3 472.7 202 474 202.2C475.3 202.4 476.7 203.5 478 203.6C479.3 203.7 480.7 202.7 482 202.6C483.3 202.5 484.7 202.9 486 203.1C487.3 203.3 488.7 203.4 490 203.7C491.3 204 492.7 205.2 494 204.9C495.3 204.7 496.7 202.4 498 202.2C499.3 201.9 500.7 202.8 502 203.4C503.3 204.1 504.7 205.4 506 206.1C507.3 206.8 508.7 206.6 510 207.3C511.3 208 512.7 209.5 514 210.1C515.3 210.7 516.7 210.7 518 211C519.3 211.3 520.7 211.4 522 211.7C523.3 211.9 524.7 212.4 526 212.5C527.3 212.6 528.7 212.1 530 212.2C531.3 212.2 532.7 212.3 534 212.8C535.3 213.3 536.7 214.7 538 215C539.3 215.3 540.7 214.7 542 214.8C543.3 214.9 544.7 215.4 546 215.8C547.3 216.2 548.7 217.3 550 217.5C551.3 217.7 552.7 216.7 554 216.8C555.3 216.9 556.7 218 558 218.1C559.3 218.2 560.7 217.5 562 217.6C563.3 217.7 564.7 218.7 566 218.5C567.3 218.3 568.7 216.6 570 216.7C571.3 216.8 572.7 218.2 574 218.9C575.3 219.6 576.7 220.6 578 220.9C579.3 221.2 580.7 220 582 220.6C583.3 221.2 584.7 224.3 586 224.7C587.3 225.1 588.7 222.9 590 222.8C591.3 222.7 592.7 223.8 594 224C595.3 224.2 596.7 223.6 598 224C599.3 224.4 600.7 225.6 602 226.5C603.3 227.4 604.7 228.6 606 229.2C607.3 229.8 608.7 229.5 610 230.2C611.3 230.9 612.7 232.9 614 233.3C615.3 233.7 616.7 232.7 618 232.5C619.3 232.3 620.7 232.4 622 232.1C623.3 231.8 624.7 231.1 626 230.4C627.3 229.7 628.7 228.8 630 228.1C631.3 227.4 632.7 227.7 634 226.4C635.3 225.1 636.7 223.4 638 220.1C639.3 216.8 640.7 209.7 642 206.5C643.3 203.3 644.7 201.8 646 201C647.3 200.2 648.7 201.6 650 201.6C651.3 201.6 652.7 201 654 201C655.3 201 656.7 201.1 658 201.6C659.3 202.1 660.7 203.1 662 203.8C663.3 204.6 664.7 205 666 206.1C667.3 207.2 668.7 208.9 670 210.5C671.3 212.1 672.7 214.4 674 215.5C675.3 216.6 676.7 216.7 678 217.3C679.3 218 680.7 219.3 682 219.4C683.3 219.5 684.7 218.7 686 217.9C687.3 217.1 688.7 215.1 690 214.8C691.3 214.5 692.7 216 694 215.9C695.3 215.8 696.7 215.1 698 214.5C699.3 213.9 700.7 212.1 702 212.3C703.3 212.6 704.7 215.3 706 216C707.3 216.7 708.7 215.9 710 216.2C711.3 216.5 712.7 216.9 714 217.6C715.3 218.3 716.7 219.9 718 220.3C719.3 220.7 720.7 219.5 722 219.8C723.3 220.1 724.7 222 726 221.9C727.3 221.8 728.7 220.4 730 219.2C731.3 218 732.7 215.6 734 214.6C735.3 213.6 736.7 213.3 738 213C739.3 212.7 740.7 213.3 742 213C743.3 212.7 745.3 211.6 746 211.3" fill="none" stroke="#dcd2d2" stroke-width="1.5" stroke-linejoin="round" stroke-linecap="round"/>
<path d="M370 202.8C370.7 202.7 372.7 202.6 374 202.2C375.3 201.8 376.7 200.9 378 200.3C379.3 199.7 380.7 199.2 382 198.6C383.3 198 384.7 197.3 386 197C387.3 196.7 388.7 197.2 390 196.7C391.3 196.2 392.7 194.7 394 194.2C395.3 193.7 396.7 194 398 193.9C399.3 193.8 400.7 194 402 193.8C403.3 193.7 404.7 192.7 406 193C407.3 193.3 408.7 194.2 410 195.7C411.3 197.2 412.7 200.7 414 202.2C415.3 203.7 416.7 204.6 418 204.8C419.3 205.1 420.7 204.3 422 203.7C423.3 203.1 424.7 201.6 426 201C427.3 200.4 428.7 200.3 430 200C431.3 199.7 432.7 199.3 434 199.3C435.3 199.3 436.7 199.3 438 200C439.3 200.7 440.7 202.5 442 203.4C443.3 204.3 444.7 204.8 446 205.7C447.3 206.6 448.7 208.8 450 208.6C451.3 208.4 452.7 205.8 454 204.7C455.3 203.6 456.7 202.2 458 201.9C459.3 201.6 460.7 202.3 462 202.6C463.3 202.9 464.7 203 466 203.6C467.3 204.2 468.7 205.5 470 206.2C471.3 206.8 472.7 207.1 474 207.5C475.3 207.9 476.7 208.2 478 208.5C479.3 208.8 480.7 209 482 209.2C483.3 209.4 484.7 209.9 486 209.8C487.3 209.7 488.7 208.7 490 208.4C491.3 208.1 492.7 208.1 494 208.1C495.3 208.1 496.7 208.7 498 208.4C499.3 208.1 500.7 206.6 502 206.5C503.3 206.4 504.7 207.7 506 207.9C507.3 208.1 508.7 207.4 510 207.8C511.3 208.2 512.7 209.4 514 210.3C515.3 211.2 516.7 212.5 518 213.3C519.3 214.1 520.7 214.4 522 215C523.3 215.6 524.7 216.7 526 217.1C527.3 217.5 528.7 216.9 530 217.4C531.3 217.9 532.7 219.5 534 219.9C535.3 220.3 536.7 219.8 538 220C539.3 220.2 540.7 220.5 542 221.1C543.3 221.7 544.7 223.1 546 223.4C547.3 223.7 548.7 223 550 222.8C551.3 222.6 552.7 222.5 554 222.1C555.3 221.7 556.7 220.8 558 220.4C559.3 220.1 560.7 220.2 562 220C563.3 219.8 564.7 219.3 566 219.2C567.3 219.1 568.7 219.1 570 219.6C571.3 220.1 572.7 221.1 574 222C575.3 222.9 576.7 224.3 578 225C579.3 225.7 580.7 225.3 582 226C583.3 226.7 584.7 228.3 586 229.4C587.3 230.5 588.7 231.9 590 232.5C591.3 233.1 592.7 232.8 594 233.1C595.3 233.4 596.7 234.3 598 234.5C599.3 234.7 600.7 234.1 602 234.5C603.3 234.9 604.7 236.2 606 236.8C607.3 237.4 608.7 237.5 610 237.9C611.3 238.3 612.7 239.1 614 239C615.3 238.9 616.7 237.8 618 237.5C619.3 237.2 620.7 237.2 622 236.9C623.3 236.6 624.7 236.3 626 235.5C627.3 234.7 628.7 232.7 630 232.1C631.3 231.5 632.7 233.5 634 231.7C635.3 229.9 636.7 225.2 638 221.5C639.3 217.8 640.7 212.2 642 209.3C643.3 206.4 644.7 204.9 646 204.1C647.3 203.2 648.7 204.2 650 204.2C651.3 204.2 652.7 203.8 654 204.3C655.3 204.8 656.7 207.1 658 207.4C659.3 207.7 660.7 206.1 662 206.2C663.3 206.3 664.7 207.1 666 208.1C667.3 209.1 668.7 211.2 670 212.3C671.3 213.4 672.7 213.7 674 214.5C675.3 215.3 676.7 216.8 678 217.1C679.3 217.4 680.7 216.6 682 216.6C683.3 216.6 684.7 217.2 686 216.9C687.3 216.6 688.7 214.9 690 214.5C691.3 214.1 692.7 214.3 694 214.5C695.3 214.7 696.7 215.5 698 215.6C699.3 215.7 700.7 214.8 702 215.3C703.3 215.8 704.7 217.4 706 218.4C707.3 219.4 708.7 220.6 710 221.3C711.3 222 712.7 222.3 714 222.4C715.3 222.5 716.7 222.2 718 222.1C719.3 222 720.7 222 722 222.1C723.3 222.2 724.7 223.4 726 222.8C727.3 222.2 728.7 220.3 730 218.6C731.3 216.9 732.7 214 734 212.6C735.3 211.2 736.7 210.7 738 210.4C739.3 210.1 740.7 210.9 742 210.8C743.3 210.7 745.3 209.9 746 209.7 L750 300 L360 300Z" fill="#c72e4c"/>
<path d="M370 202.8C370.7 202.7 372.7 202.6 374 202.2C375.3 201.8 376.7 200.9 378 200.3C379.3 199.7 380.7 199.2 382 198.6C383.3 198 384.7 197.3 386 197C387.3 196.7 388.7 197.2 390 196.7C391.3 196.2 392.7 194.7 394 194.2C395.3 193.7 396.7 194 398 193.9C399.3 193.8 400.7 194 402 193.8C403.3 193.7 404.7 192.7 406 193C407.3 193.3 408.7 194.2 410 195.7C411.3 197.2 412.7 200.7 414 202.2C415.3 203.7 416.7 204.6 418 204.8C419.3 205.1 420.7 204.3 422 203.7C423.3 203.1 424.7 201.6 426 201C427.3 200.4 428.7 200.3 430 200C431.3 199.7 432.7 199.3 434 199.3C435.3 199.3 436.7 199.3 438 200C439.3 200.7 440.7 202.5 442 203.4C443.3 204.3 444.7 204.8 446 205.7C447.3 206.6 448.7 208.8 450 208.6C451.3 208.4 452.7 205.8 454 204.7C455.3 203.6 456.7 202.2 458 201.9C459.3 201.6 460.7 202.3 462 202.6C463.3 202.9 464.7 203 466 203.6C467.3 204.2 468.7 205.5 470 206.2C471.3 206.8 472.7 207.1 474 207.5C475.3 207.9 476.7 208.2 478 208.5C479.3 208.8 480.7 209 482 209.2C483.3 209.4 484.7 209.9 486 209.8C487.3 209.7 488.7 208.7 490 208.4C491.3 208.1 492.7 208.1 494 208.1C495.3 208.1 496.7 208.7 498 208.4C499.3 208.1 500.7 206.6 502 206.5C503.3 206.4 504.7 207.7 506 207.9C507.3 208.1 508.7 207.4 510 207.8C511.3 208.2 512.7 209.4 514 210.3C515.3 211.2 516.7 212.5 518 213.3C519.3 214.1 520.7 214.4 522 215C523.3 215.6 524.7 216.7 526 217.1C527.3 217.5 528.7 216.9 530 217.4C531.3 217.9 532.7 219.5 534 219.9C535.3 220.3 536.7 219.8 538 220C539.3 220.2 540.7 220.5 542 221.1C543.3 221.7 544.7 223.1 546 223.4C547.3 223.7 548.7 223 550 222.8C551.3 222.6 552.7 222.5 554 222.1C555.3 221.7 556.7 220.8 558 220.4C559.3 220.1 560.7 220.2 562 220C563.3 219.8 564.7 219.3 566 219.2C567.3 219.1 568.7 219.1 570 219.6C571.3 220.1 572.7 221.1 574 222C575.3 222.9 576.7 224.3 578 225C579.3 225.7 580.7 225.3 582 226C583.3 226.7 584.7 228.3 586 229.4C587.3 230.5 588.7 231.9 590 232.5C591.3 233.1 592.7 232.8 594 233.1C595.3 233.4 596.7 234.3 598 234.5C599.3 234.7 600.7 234.1 602 234.5C603.3 234.9 604.7 236.2 606 236.8C607.3 237.4 608.7 237.5 610 237.9C611.3 238.3 612.7 239.1 614 239C615.3 238.9 616.7 237.8 618 237.5C619.3 237.2 620.7 237.2 622 236.9C623.3 236.6 624.7 236.3 626 235.5C627.3 234.7 628.7 232.7 630 232.1C631.3 231.5 632.7 233.5 634 231.7C635.3 229.9 636.7 225.2 638 221.5C639.3 217.8 640.7 212.2 642 209.3C643.3 206.4 644.7 204.9 646 204.1C647.3 203.2 648.7 204.2 650 204.2C651.3 204.2 652.7 203.8 654 204.3C655.3 204.8 656.7 207.1 658 207.4C659.3 207.7 660.7 206.1 662 206.2C663.3 206.3 664.7 207.1 666 208.1C667.3 209.1 668.7 211.2 670 212.3C671.3 213.4 672.7 213.7 674 214.5C675.3 215.3 676.7 216.8 678 217.1C679.3 217.4 680.7 216.6 682 216.6C683.3 216.6 684.7 217.2 686 216.9C687.3 216.6 688.7 214.9 690 214.5C691.3 214.1 692.7 214.3 694 214.5C695.3 214.7 696.7 215.5 698 215.6C699.3 215.7 700.7 214.8 702 215.3C703.3 215.8 704.7 217.4 706 218.4C707.3 219.4 708.7 220.6 710 221.3C711.3 222 712.7 222.3 714 222.4C715.3 222.5 716.7 222.2 718 222.1C719.3 222 720.7 222 722 222.1C723.3 222.2 724.7 223.4 726 222.8C727.3 222.2 728.7 220.3 730 218.6C731.3 216.9 732.7 214 734 212.6C735.3 211.2 736.7 210.7 738 210.4C739.3 210.1 740.7 210.9 742 210.8C743.3 210.7 745.3 209.9 746 209.7" fill="none" stroke="#dcd2d2" stroke-width="1.5" stroke-linejoin="round" stroke-linecap="round"/>
<path d="M370 204.2C370.7 203.8 372.7 202.6 374 201.7C375.3 200.8 376.7 199.3 378 198.8C379.3 198.3 380.7 199.1 382 198.8C383.3 198.5 384.7 197.2 386 196.8C387.3 196.4 388.7 196.5 390 196.4C391.3 196.3 392.7 196.2 394 196.5C395.3 196.8 396.7 197.8 398 198.2C399.3 198.6 400.7 198.8 402 198.7C403.3 198.6 404.7 197.1 406 197.7C407.3 198.2 408.7 200.3 410 202C411.3 203.7 412.7 206.6 414 208C415.3 209.4 416.7 210.5 418 210.3C419.3 210.2 420.7 208.2 422 207.1C423.3 205.9 424.7 204.7 426 203.4C427.3 202.1 428.7 199.9 430 199.1C431.3 198.3 432.7 198.3 434 198.5C435.3 198.7 436.7 199 438 200.1C439.3 201.2 440.7 203.4 442 205C443.3 206.6 444.7 208.5 446 209.5C447.3 210.5 448.7 211.3 450 210.9C451.3 210.5 452.7 207.7 454 207.1C455.3 206.5 456.7 206.7 458 207.1C459.3 207.5 460.7 209.2 462 209.7C463.3 210.2 464.7 209.8 466 209.9C467.3 210.1 468.7 210.1 470 210.6C471.3 211.1 472.7 212.5 474 212.9C475.3 213.3 476.7 213 478 212.9C479.3 212.8 480.7 212.4 482 212.3C483.3 212.2 484.7 212.8 486 212.6C487.3 212.4 488.7 211.2 490 210.9C491.3 210.6 492.7 211.2 494 210.6C495.3 210 496.7 207.7 498 207.1C499.3 206.5 500.7 206.5 502 207.1C503.3 207.7 504.7 209.6 506 210.4C507.3 211.2 508.7 211.1 510 212C511.3 212.9 512.7 214.4 514 215.9C515.3 217.4 516.7 219.9 518 221.1C519.3 222.3 520.7 222.9 522 223.1C523.3 223.3 524.7 222.1 526 222.4C527.3 222.7 528.7 224.6 530 224.9C531.3 225.2 532.7 223.9 534 224.1C535.3 224.3 536.7 225.6 538 225.9C539.3 226.2 540.7 225.9 542 225.7C543.3 225.5 544.7 225 546 224.7C547.3 224.4 548.7 224 550 224C551.3 224 552.7 224.9 554 224.8C555.3 224.8 556.7 223.7 558 223.7C559.3 223.7 560.7 224.6 562 224.8C563.3 225 564.7 224.7 566 224.9C567.3 225.1 568.7 225.2 570 226C571.3 226.8 572.7 228.9 574 230C575.3 231.1 576.7 231.8 578 232.7C579.3 233.6 580.7 234.4 582 235.4C583.3 236.4 584.7 237.9 586 238.5C587.3 239.1 588.7 239.1 590 239.2C591.3 239.3 592.7 239.1 594 239.2C595.3 239.3 596.7 239.6 598 239.6C599.3 239.6 600.7 238.7 602 239C603.3 239.3 604.7 240.9 606 241.6C607.3 242.2 608.7 242.5 610 242.9C611.3 243.3 612.7 243.6 614 243.9C615.3 244.2 616.7 244.5 618 244.6C619.3 244.7 620.7 244.7 622 244.5C623.3 244.3 624.7 243.7 626 243.4C627.3 243.1 628.7 243 630 242.6C631.3 242.2 632.7 243.8 634 240.9C635.3 238 636.7 230.2 638 225.4C639.3 220.6 640.7 215 642 212C643.3 209 644.7 208.3 646 207.2C647.3 206.1 648.7 205.6 650 205.2C651.3 204.8 652.7 204.9 654 204.8C655.3 204.7 656.7 204.2 658 204.4C659.3 204.7 660.7 205.6 662 206.3C663.3 207.1 664.7 208.1 666 208.9C667.3 209.7 668.7 210.2 670 211C671.3 211.8 672.7 212.8 674 213.9C675.3 215 676.7 216.4 678 217.3C679.3 218.2 680.7 219.3 682 219.6C683.3 219.9 684.7 219 686 219.2C687.3 219.4 688.7 221.1 690 220.9C691.3 220.7 692.7 218.6 694 218.2C695.3 217.8 696.7 218.2 698 218.2C699.3 218.2 700.7 217.6 702 218C703.3 218.4 704.7 220.2 706 220.8C707.3 221.5 708.7 221.9 710 221.9C711.3 221.9 712.7 220.8 714 220.6C715.3 220.4 716.7 220.3 718 220.5C719.3 220.7 720.7 221.5 722 221.9C723.3 222.3 724.7 223.4 726 222.9C727.3 222.4 728.7 220.9 730 219.2C731.3 217.5 732.7 213.9 734 212.8C735.3 211.7 736.7 212.7 738 212.6C739.3 212.5 740.7 212.5 742 212.5C743.3 212.5 745.3 212.5 746 212.5 L750 300 L360 300Z" fill="#b61b48"/>
<path d="M370 204.2C370.7 203.8 372.7 202.6 374 201.7C375.3 200.8 376.7 199.3 378 198.8C379.3 198.3 380.7 199.1 382 198.8C383.3 198.5 384.7 197.2 386 196.8C387.3 196.4 388.7 196.5 390 196.4C391.3 196.3 392.7 196.2 394 196.5C395.3 196.8 396.7 197.8 398 198.2C399.3 198.6 400.7 198.8 402 198.7C403.3 198.6 404.7 197.1 406 197.7C407.3 198.2 408.7 200.3 410 202C411.3 203.7 412.7 206.6 414 208C415.3 209.4 416.7 210.5 418 210.3C419.3 210.2 420.7 208.2 422 207.1C423.3 205.9 424.7 204.7 426 203.4C427.3 202.1 428.7 199.9 430 199.1C431.3 198.3 432.7 198.3 434 198.5C435.3 198.7 436.7 199 438 200.1C439.3 201.2 440.7 203.4 442 205C443.3 206.6 444.7 208.5 446 209.5C447.3 210.5 448.7 211.3 450 210.9C451.3 210.5 452.7 207.7 454 207.1C455.3 206.5 456.7 206.7 458 207.1C459.3 207.5 460.7 209.2 462 209.7C463.3 210.2 464.7 209.8 466 209.9C467.3 210.1 468.7 210.1 470 210.6C471.3 211.1 472.7 212.5 474 212.9C475.3 213.3 476.7 213 478 212.9C479.3 212.8 480.7 212.4 482 212.3C483.3 212.2 484.7 212.8 486 212.6C487.3 212.4 488.7 211.2 490 210.9C491.3 210.6 492.7 211.2 494 210.6C495.3 210 496.7 207.7 498 207.1C499.3 206.5 500.7 206.5 502 207.1C503.3 207.7 504.7 209.6 506 210.4C507.3 211.2 508.7 211.1 510 212C511.3 212.9 512.7 214.4 514 215.9C515.3 217.4 516.7 219.9 518 221.1C519.3 222.3 520.7 222.9 522 223.1C523.3 223.3 524.7 222.1 526 222.4C527.3 222.7 528.7 224.6 530 224.9C531.3 225.2 532.7 223.9 534 224.1C535.3 224.3 536.7 225.6 538 225.9C539.3 226.2 540.7 225.9 542 225.7C543.3 225.5 544.7 225 546 224.7C547.3 224.4 548.7 224 550 224C551.3 224 552.7 224.9 554 224.8C555.3 224.8 556.7 223.7 558 223.7C559.3 223.7 560.7 224.6 562 224.8C563.3 225 564.7 224.7 566 224.9C567.3 225.1 568.7 225.2 570 226C571.3 226.8 572.7 228.9 574 230C575.3 231.1 576.7 231.8 578 232.7C579.3 233.6 580.7 234.4 582 235.4C583.3 236.4 584.7 237.9 586 238.5C587.3 239.1 588.7 239.1 590 239.2C591.3 239.3 592.7 239.1 594 239.2C595.3 239.3 596.7 239.6 598 239.6C599.3 239.6 600.7 238.7 602 239C603.3 239.3 604.7 240.9 606 241.6C607.3 242.2 608.7 242.5 610 242.9C611.3 243.3 612.7 243.6 614 243.9C615.3 244.2 616.7 244.5 618 244.6C619.3 244.7 620.7 244.7 622 244.5C623.3 244.3 624.7 243.7 626 243.4C627.3 243.1 628.7 243 630 242.6C631.3 242.2 632.7 243.8 634 240.9C635.3 238 636.7 230.2 638 225.4C639.3 220.6 640.7 215 642 212C643.3 209 644.7 208.3 646 207.2C647.3 206.1 648.7 205.6 650 205.2C651.3 204.8 652.7 204.9 654 204.8C655.3 204.7 656.7 204.2 658 204.4C659.3 204.7 660.7 205.6 662 206.3C663.3 207.1 664.7 208.1 666 208.9C667.3 209.7 668.7 210.2 670 211C671.3 211.8 672.7 212.8 674 213.9C675.3 215 676.7 216.4 678 217.3C679.3 218.2 680.7 219.3 682 219.6C683.3 219.9 684.7 219 686 219.2C687.3 219.4 688.7 221.1 690 220.9C691.3 220.7 692.7 218.6 694 218.2C695.3 217.8 696.7 218.2 698 218.2C699.3 218.2 700.7 217.6 702 218C703.3 218.4 704.7 220.2 706 220.8C707.3 221.5 708.7 221.9 710 221.9C711.3 221.9 712.7 220.8 714 220.6C715.3 220.4 716.7 220.3 718 220.5C719.3 220.7 720.7 221.5 722 221.9C723.3 222.3 724.7 223.4 726 222.9C727.3 222.4 728.7 220.9 730 219.2C731.3 217.5 732.7 213.9 734 212.8C735.3 211.7 736.7 212.7 738 212.6C739.3 212.5 740.7 212.5 742 212.5C743.3 212.5 745.3 212.5 746 212.5" fill="none" stroke="#dcd2d2" stroke-width="1.5" stroke-linejoin="round" stroke-linecap="round"/>
<path d="M370 201.9C370.7 201.7 372.7 200.8 374 200.4C375.3 200 376.7 199.5 378 199.4C379.3 199.3 380.7 199.5 382 199.7C383.3 199.8 384.7 200.2 386 200.3C387.3 200.4 388.7 200 390 200.2C391.3 200.4 392.7 201.6 394 201.7C395.3 201.8 396.7 200.7 398 200.6C399.3 200.5 400.7 201 402 201.1C403.3 201.2 404.7 200.9 406 201.4C407.3 201.9 408.7 202.7 410 204C411.3 205.3 412.7 207.6 414 209.1C415.3 210.6 416.7 212.8 418 212.8C419.3 212.8 420.7 210.6 422 209.2C423.3 207.8 424.7 205.6 426 204.3C427.3 203 428.7 201.9 430 201.5C431.3 201.1 432.7 201.7 434 201.9C435.3 202.1 436.7 201.5 438 202.7C439.3 203.9 440.7 207.2 442 209C443.3 210.8 444.7 211.7 446 213.2C447.3 214.7 448.7 217.7 450 217.8C451.3 217.9 452.7 215.1 454 213.8C455.3 212.5 456.7 210.4 458 210.1C459.3 209.8 460.7 211.5 462 211.9C463.3 212.3 464.7 212.4 466 212.5C467.3 212.6 468.7 212 470 212.4C471.3 212.8 472.7 214.7 474 214.9C475.3 215.2 476.7 214.3 478 213.9C479.3 213.5 480.7 213 482 212.7C483.3 212.4 484.7 212.1 486 212.3C487.3 212.5 488.7 213.5 490 213.7C491.3 213.9 492.7 213.6 494 213.7C495.3 213.8 496.7 214.2 498 214.1C499.3 214 500.7 212.7 502 213C503.3 213.3 504.7 214.9 506 215.7C507.3 216.5 508.7 216.8 510 217.7C511.3 218.6 512.7 219.9 514 220.9C515.3 221.9 516.7 223.4 518 223.9C519.3 224.4 520.7 223.8 522 224.2C523.3 224.6 524.7 226 526 226.3C527.3 226.6 528.7 225.8 530 225.8C531.3 225.9 532.7 226.2 534 226.6C535.3 227 536.7 228.2 538 228.3C539.3 228.4 540.7 227.2 542 227.4C543.3 227.6 544.7 229.1 546 229.4C547.3 229.7 548.7 228.8 550 229C551.3 229.2 552.7 230.9 554 230.9C555.3 230.9 556.7 229 558 229.2C559.3 229.3 560.7 231.2 562 231.8C563.3 232.4 564.7 232.5 566 232.7C567.3 232.9 568.7 233.1 570 233.1C571.3 233.1 572.7 232.3 574 232.7C575.3 233.1 576.7 234.6 578 235.7C579.3 236.8 580.7 238.5 582 239.3C583.3 240.1 584.7 240 586 240.3C587.3 240.7 588.7 241.2 590 241.4C591.3 241.6 592.7 241.3 594 241.7C595.3 242.1 596.7 243.1 598 243.6C599.3 244.1 600.7 243.8 602 244.5C603.3 245.2 604.7 247.2 606 248.1C607.3 248.9 608.7 248.9 610 249.6C611.3 250.3 612.7 251.7 614 252.2C615.3 252.7 616.7 252.2 618 252.4C619.3 252.6 620.7 253.9 622 253.3C623.3 252.8 624.7 249.8 626 249.1C627.3 248.3 628.7 249.5 630 248.8C631.3 248.1 632.7 248.7 634 244.8C635.3 240.9 636.7 231.3 638 225.5C639.3 219.7 640.7 213.8 642 210.2C643.3 206.6 644.7 204.6 646 203.7C647.3 202.8 648.7 204.8 650 204.8C651.3 204.8 652.7 203.6 654 203.7C655.3 203.8 656.7 204.7 658 205.1C659.3 205.5 660.7 205.2 662 206C663.3 206.8 664.7 208.4 666 209.8C667.3 211.2 668.7 213.1 670 214.7C671.3 216.3 672.7 218.2 674 219.3C675.3 220.4 676.7 220.8 678 221.5C679.3 222.2 680.7 223.5 682 223.4C683.3 223.3 684.7 221.3 686 220.8C687.3 220.3 688.7 220.5 690 220.2C691.3 219.9 692.7 219.1 694 218.9C695.3 218.7 696.7 218.9 698 218.8C699.3 218.7 700.7 218.3 702 218.5C703.3 218.7 704.7 219.5 706 219.7C707.3 219.9 708.7 219.2 710 219.5C711.3 219.8 712.7 220.9 714 221.7C715.3 222.4 716.7 223.6 718 224C719.3 224.4 720.7 223.9 722 224.3C723.3 224.7 724.7 227 726 226.6C727.3 226.2 728.7 223.7 730 222C731.3 220.3 732.7 217 734 216.3C735.3 215.6 736.7 217.9 738 217.8C739.3 217.8 740.7 216.8 742 216C743.3 215.2 745.3 213.6 746 213.1 L750 300 L360 300Z" fill="#a40844"/>
<path d="M370 201.9C370.7 201.7 372.7 200.8 374 200.4C375.3 200 376.7 199.5 378 199.4C379.3 199.3 380.7 199.5 382 199.7C383.3 199.8 384.7 200.2 386 200.3C387.3 200.4 388.7 200 390 200.2C391.3 200.4 392.7 201.6 394 201.7C395.3 201.8 396.7 200.7 398 200.6C399.3 200.5 400.7 201 402 201.1C403.3 201.2 404.7 200.9 406 201.4C407.3 201.9 408.7 202.7 410 204C411.3 205.3 412.7 207.6 414 209.1C415.3 210.6 416.7 212.8 418 212.8C419.3 212.8 420.7 210.6 422 209.2C423.3 207.8 424.7 205.6 426 204.3C427.3 203 428.7 201.9 430 201.5C431.3 201.1 432.7 201.7 434 201.9C435.3 202.1 436.7 201.5 438 202.7C439.3 203.9 440.7 207.2 442 209C443.3 210.8 444.7 211.7 446 213.2C447.3 214.7 448.7 217.7 450 217.8C451.3 217.9 452.7 215.1 454 213.8C455.3 212.5 456.7 210.4 458 210.1C459.3 209.8 460.7 211.5 462 211.9C463.3 212.3 464.7 212.4 466 212.5C467.3 212.6 468.7 212 470 212.4C471.3 212.8 472.7 214.7 474 214.9C475.3 215.2 476.7 214.3 478 213.9C479.3 213.5 480.7 213 482 212.7C483.3 212.4 484.7 212.1 486 212.3C487.3 212.5 488.7 213.5 490 213.7C491.3 213.9 492.7 213.6 494 213.7C495.3 213.8 496.7 214.2 498 214.1C499.3 214 500.7 212.7 502 213C503.3 213.3 504.7 214.9 506 215.7C507.3 216.5 508.7 216.8 510 217.7C511.3 218.6 512.7 219.9 514 220.9C515.3 221.9 516.7 223.4 518 223.9C519.3 224.4 520.7 223.8 522 224.2C523.3 224.6 524.7 226 526 226.3C527.3 226.6 528.7 225.8 530 225.8C531.3 225.9 532.7 226.2 534 226.6C535.3 227 536.7 228.2 538 228.3C539.3 228.4 540.7 227.2 542 227.4C543.3 227.6 544.7 229.1 546 229.4C547.3 229.7 548.7 228.8 550 229C551.3 229.2 552.7 230.9 554 230.9C555.3 230.9 556.7 229 558 229.2C559.3 229.3 560.7 231.2 562 231.8C563.3 232.4 564.7 232.5 566 232.7C567.3 232.9 568.7 233.1 570 233.1C571.3 233.1 572.7 232.3 574 232.7C575.3 233.1 576.7 234.6 578 235.7C579.3 236.8 580.7 238.5 582 239.3C583.3 240.1 584.7 240 586 240.3C587.3 240.7 588.7 241.2 590 241.4C591.3 241.6 592.7 241.3 594 241.7C595.3 242.1 596.7 243.1 598 243.6C599.3 244.1 600.7 243.8 602 244.5C603.3 245.2 604.7 247.2 606 248.1C607.3 248.9 608.7 248.9 610 249.6C611.3 250.3 612.7 251.7 614 252.2C615.3 252.7 616.7 252.2 618 252.4C619.3 252.6 620.7 253.9 622 253.3C623.3 252.8 624.7 249.8 626 249.1C627.3 248.3 628.7 249.5 630 248.8C631.3 248.1 632.7 248.7 634 244.8C635.3 240.9 636.7 231.3 638 225.5C639.3 219.7 640.7 213.8 642 210.2C643.3 206.6 644.7 204.6 646 203.7C647.3 202.8 648.7 204.8 650 204.8C651.3 204.8 652.7 203.6 654 203.7C655.3 203.8 656.7 204.7 658 205.1C659.3 205.5 660.7 205.2 662 206C663.3 206.8 664.7 208.4 666 209.8C667.3 211.2 668.7 213.1 670 214.7C671.3 216.3 672.7 218.2 674 219.3C675.3 220.4 676.7 220.8 678 221.5C679.3 222.2 680.7 223.5 682 223.4C683.3 223.3 684.7 221.3 686 220.8C687.3 220.3 688.7 220.5 690 220.2C691.3 219.9 692.7 219.1 694 218.9C695.3 218.7 696.7 218.9 698 218.8C699.3 218.7 700.7 218.3 702 218.5C703.3 218.7 704.7 219.5 706 219.7C707.3 219.9 708.7 219.2 710 219.5C711.3 219.8 712.7 220.9 714 221.7C715.3 222.4 716.7 223.6 718 224C719.3 224.4 720.7 223.9 722 224.3C723.3 224.7 724.7 227 726 226.6C727.3 226.2 728.7 223.7 730 222C731.3 220.3 732.7 217 734 216.3C735.3 215.6 736.7 217.9 738 217.8C739.3 217.8 740.7 216.8 742 216C743.3 215.2 745.3 213.6 746 213.1" fill="none" stroke="#dcd2d2" stroke-width="1.5" stroke-linejoin="round" stroke-linecap="round"/>
<path d="M370 203.8C370.7 203.7 372.7 203.3 374 203.2C375.3 203.1 376.7 203.6 378 203.4C379.3 203.2 380.7 202.5 382 202.2C383.3 201.9 384.7 201.7 386 201.5C387.3 201.3 388.7 200.9 390 200.8C391.3 200.7 392.7 200.9 394 200.7C395.3 200.4 396.7 199.6 398 199.3C399.3 199.1 400.7 198.9 402 199.2C403.3 199.5 404.7 200.1 406 201C407.3 201.9 408.7 202.8 410 204.9C411.3 207.1 412.7 212 414 213.9C415.3 215.8 416.7 216.5 418 216.5C419.3 216.5 420.7 215.1 422 214C423.3 212.9 424.7 211 426 209.9C427.3 208.8 428.7 208.4 430 207.4C431.3 206.4 432.7 204.5 434 204.2C435.3 203.8 436.7 204.1 438 205.3C439.3 206.5 440.7 209.5 442 211.3C443.3 213.2 444.7 215.3 446 216.4C447.3 217.5 448.7 218.6 450 217.8C451.3 217.1 452.7 213.2 454 211.9C455.3 210.6 456.7 209.5 458 209.7C459.3 209.8 460.7 212.1 462 212.8C463.3 213.5 464.7 213.7 466 214C467.3 214.3 468.7 214.1 470 214.6C471.3 215.1 472.7 216.4 474 216.9C475.3 217.4 476.7 217.6 478 217.8C479.3 218 480.7 218.1 482 218.3C483.3 218.5 484.7 219.2 486 219.2C487.3 219.2 488.7 218 490 218.1C491.3 218.2 492.7 219.9 494 219.6C495.3 219.3 496.7 217.1 498 216.2C499.3 215.3 500.7 214.1 502 214.1C503.3 214.1 504.7 215.5 506 216.4C507.3 217.3 508.7 218.3 510 219.4C511.3 220.5 512.7 221.9 514 222.8C515.3 223.7 516.7 224.2 518 224.7C519.3 225.2 520.7 225.4 522 226C523.3 226.6 524.7 227.5 526 228C527.3 228.5 528.7 228.2 530 228.8C531.3 229.4 532.7 230.6 534 231.4C535.3 232.2 536.7 233.1 538 233.8C539.3 234.6 540.7 235.5 542 235.9C543.3 236.3 544.7 236.4 546 236.4C547.3 236.4 548.7 236.1 550 235.8C551.3 235.5 552.7 235.3 554 234.7C555.3 234.1 556.7 232.5 558 232.1C559.3 231.7 560.7 232.3 562 232.4C563.3 232.5 564.7 232.3 566 232.5C567.3 232.7 568.7 233.3 570 233.6C571.3 233.9 572.7 233.3 574 234.1C575.3 234.9 576.7 237.1 578 238.5C579.3 239.9 580.7 241.2 582 242.7C583.3 244.2 584.7 246.5 586 247.5C587.3 248.5 588.7 248.6 590 248.9C591.3 249.2 592.7 249.4 594 249.5C595.3 249.6 596.7 248.8 598 249.3C599.3 249.8 600.7 251.6 602 252.5C603.3 253.4 604.7 254.4 606 255C607.3 255.6 608.7 255.9 610 256C611.3 256.1 612.7 255.7 614 255.7C615.3 255.7 616.7 256.5 618 256.2C619.3 255.9 620.7 254.5 622 254C623.3 253.5 624.7 253.5 626 253.1C627.3 252.7 628.7 252.4 630 251.7C631.3 250.9 632.7 252.8 634 248.6C635.3 244.4 636.7 232.6 638 226.6C639.3 220.6 640.7 216 642 212.6C643.3 209.2 644.7 207.1 646 206.4C647.3 205.7 648.7 208.1 650 208.4C651.3 208.7 652.7 208.3 654 208.3C655.3 208.3 656.7 208.2 658 208.3C659.3 208.4 660.7 208.4 662 208.9C663.3 209.4 664.7 210.2 666 211.3C667.3 212.4 668.7 214.4 670 215.6C671.3 216.8 672.7 217.9 674 218.7C675.3 219.4 676.7 219.5 678 220.1C679.3 220.7 680.7 222.4 682 222.3C683.3 222.2 684.7 220.3 686 219.8C687.3 219.3 688.7 219.7 690 219.4C691.3 219.1 692.7 218.1 694 218.2C695.3 218.3 696.7 220 698 220.2C699.3 220.4 700.7 218.8 702 219.4C703.3 220 704.7 223.1 706 224C707.3 224.9 708.7 224.6 710 225C711.3 225.4 712.7 226 714 226.3C715.3 226.6 716.7 226.9 718 227C719.3 227.1 720.7 226.4 722 226.7C723.3 226.9 724.7 229.1 726 228.5C727.3 227.9 728.7 224.9 730 223C731.3 221.1 732.7 218.3 734 216.9C735.3 215.5 736.7 215.6 738 214.8C739.3 214 740.7 212.4 742 212.2C743.3 211.9 745.3 213.1 746 213.3 L750 300 L360 300Z" fill="#9e0142"/>
<path d="M370 203.8C370.7 203.7 372.7 203.3 374 203.2C375.3 203.1 376.7 203.6 378 203.4C379.3 203.2 380.7 202.5 382 202.2C383.3 201.9 384.7 201.7 386 201.5C387.3 201.3 388.7 200.9 390 200.8C391.3 200.7 392.7 200.9 394 200.7C395.3 200.4 396.7 199.6 398 199.3C399.3 199.1 400.7 198.9 402 199.2C403.3 199.5 404.7 200.1 406 201C407.3 201.9 408.7 202.8 410 204.9C411.3 207.1 412.7 212 414 213.9C415.3 215.8 416.7 216.5 418 216.5C419.3 216.5 420.7 215.1 422 214C423.3 212.9 424.7 211 426 209.9C427.3 208.8 428.7 208.4 430 207.4C431.3 206.4 432.7 204.5 434 204.2C435.3 203.8 436.7 204.1 438 205.3C439.3 206.5 440.7 209.5 442 211.3C443.3 213.2 444.7 215.3 446 216.4C447.3 217.5 448.7 218.6 450 217.8C451.3 217.1 452.7 213.2 454 211.9C455.3 210.6 456.7 209.5 458 209.7C459.3 209.8 460.7 212.1 462 212.8C463.3 213.5 464.7 213.7 466 214C467.3 214.3 468.7 214.1 470 214.6C471.3 215.1 472.7 216.4 474 216.9C475.3 217.4 476.7 217.6 478 217.8C479.3 218 480.7 218.1 482 218.3C483.3 218.5 484.7 219.2 486 219.2C487.3 219.2 488.7 218 490 218.1C491.3 218.2 492.7 219.9 494 219.6C495.3 219.3 496.7 217.1 498 216.2C499.3 215.3 500.7 214.1 502 214.1C503.3 214.1 504.7 215.5 506 216.4C507.3 217.3 508.7 218.3 510 219.4C511.3 220.5 512.7 221.9 514 222.8C515.3 223.7 516.7 224.2 518 224.7C519.3 225.2 520.7 225.4 522 226C523.3 226.6 524.7 227.5 526 228C527.3 228.5 528.7 228.2 530 228.8C531.3 229.4 532.7 230.6 534 231.4C535.3 232.2 536.7 233.1 538 233.8C539.3 234.6 540.7 235.5 542 235.9C543.3 236.3 544.7 236.4 546 236.4C547.3 236.4 548.7 236.1 550 235.8C551.3 235.5 552.7 235.3 554 234.7C555.3 234.1 556.7 232.5 558 232.1C559.3 231.7 560.7 232.3 562 232.4C563.3 232.5 564.7 232.3 566 232.5C567.3 232.7 568.7 233.3 570 233.6C571.3 233.9 572.7 233.3 574 234.1C575.3 234.9 576.7 237.1 578 238.5C579.3 239.9 580.7 241.2 582 242.7C583.3 244.2 584.7 246.5 586 247.5C587.3 248.5 588.7 248.6 590 248.9C591.3 249.2 592.7 249.4 594 249.5C595.3 249.6 596.7 248.8 598 249.3C599.3 249.8 600.7 251.6 602 252.5C603.3 253.4 604.7 254.4 606 255C607.3 255.6 608.7 255.9 610 256C611.3 256.1 612.7 255.7 614 255.7C615.3 255.7 616.7 256.5 618 256.2C619.3 255.9 620.7 254.5 622 254C623.3 253.5 624.7 253.5 626 253.1C627.3 252.7 628.7 252.4 630 251.7C631.3 250.9 632.7 252.8 634 248.6C635.3 244.4 636.7 232.6 638 226.6C639.3 220.6 640.7 216 642 212.6C643.3 209.2 644.7 207.1 646 206.4C647.3 205.7 648.7 208.1 650 208.4C651.3 208.7 652.7 208.3 654 208.3C655.3 208.3 656.7 208.2 658 208.3C659.3 208.4 660.7 208.4 662 208.9C663.3 209.4 664.7 210.2 666 211.3C667.3 212.4 668.7 214.4 670 215.6C671.3 216.8 672.7 217.9 674 218.7C675.3 219.4 676.7 219.5 678 220.1C679.3 220.7 680.7 222.4 682 222.3C683.3 222.2 684.7 220.3 686 219.8C687.3 219.3 688.7 219.7 690 219.4C691.3 219.1 692.7 218.1 694 218.2C695.3 218.3 696.7 220 698 220.2C699.3 220.4 700.7 218.8 702 219.4C703.3 220 704.7 223.1 706 224C707.3 224.9 708.7 224.6 710 225C711.3 225.4 712.7 226 714 226.3C715.3 226.6 716.7 226.9 718 227C719.3 227.1 720.7 226.4 722 226.7C723.3 226.9 724.7 229.1 726 228.5C727.3 227.9 728.7 224.9 730 223C731.3 221.1 732.7 218.3 734 216.9C735.3 215.5 736.7 215.6 738 214.8C739.3 214 740.7 212.4 742 212.2C743.3 211.9 745.3 213.1 746 213.3" fill="none" stroke="#dcd2d2" stroke-width="1.5" stroke-linejoin="round" stroke-linecap="round"/>
<path d="M433.1 175.4C433.2 175.9 432.6 176.6 432 177.1C431.4 177.6 430.3 178.4 429.3 178.6C428.3 178.8 426.8 178.5 425.9 178.3C425 178.1 424.3 177.7 423.9 177.3C423.5 176.9 423 176.3 423.3 175.7C423.5 175.2 424.5 174.7 425.4 174.2C426.2 173.8 427.6 173.2 428.6 173.1C429.6 173.1 430.5 173.7 431.3 174.1C432 174.5 433 174.8 433.1 175.4Z" fill="#fdc776" stroke="#c2c2c4" stroke-width="1.2" stroke-linejoin="round" stroke-linecap="round"/>
<path d="M452.8 182.4C452.5 183 451.5 183.5 450.5 183.6C449.6 183.7 448.2 183.4 447.2 183.1C446.2 182.9 445.2 182.7 444.4 182.3C443.7 181.9 442.8 181.3 442.6 180.7C442.3 180.2 442.5 179.5 442.9 179.2C443.4 178.9 444.5 178.9 445.4 178.8C446.4 178.7 447.6 178.2 448.7 178.4C449.8 178.7 451.4 179.5 452.1 180.2C452.8 180.8 453 181.8 452.8 182.4Z" fill="#fdb768" stroke="#c2c2c4" stroke-width="1.2" stroke-linejoin="round" stroke-linecap="round"/>
<path d="M444.7 185.6C445.1 186.1 444.2 187.2 443.1 187.8C441.9 188.4 439.3 188.8 437.6 189.1C435.9 189.4 434.3 189.6 432.8 189.6C431.2 189.6 429.2 189.5 428.4 189.1C427.7 188.7 428.2 188 428.5 187.3C428.8 186.5 429 185.3 430.4 184.8C431.8 184.3 435.1 184.4 436.9 184.4C438.7 184.4 439.7 184.5 441 184.7C442.3 184.9 444.4 185.1 444.7 185.6Z" fill="#f99153" stroke="#c2c2c4" stroke-width="1.2" stroke-linejoin="round" stroke-linecap="round"/>
<path d="M478.6 183.4C478.5 184.1 476.6 184.8 475.3 185.2C474.1 185.5 472.4 185.4 470.9 185.5C469.4 185.5 467.3 185.8 466.3 185.5C465.3 185.2 465.4 184.2 464.9 183.6C464.5 182.9 463.2 182.3 463.4 181.7C463.5 181 464.4 179.9 465.8 179.6C467.2 179.2 469.9 179.3 471.6 179.6C473.3 179.8 474.8 180.5 476 181.1C477.1 181.8 478.7 182.7 478.6 183.4Z" fill="#fdb768" stroke="#c2c2c4" stroke-width="1.2" stroke-linejoin="round" stroke-linecap="round"/>
<path d="M503.9 187.4C503.5 188.1 503.2 188.9 502.2 189.2C501.1 189.5 499.3 189.2 497.6 189C495.8 188.9 493.2 189 491.9 188.5C490.5 187.9 489.8 186.6 489.3 185.7C488.8 184.8 488.1 183.5 488.9 183C489.7 182.5 492.3 182.5 494 182.6C495.6 182.6 497 182.9 498.8 183.3C500.5 183.7 503.6 184.2 504.5 184.8C505.3 185.5 504.3 186.7 503.9 187.4Z" fill="#f99153" stroke="#c2c2c4" stroke-width="1.2" stroke-linejoin="round" stroke-linecap="round"/>
<path d="M531 187.9C531.6 188.6 529.9 190.4 528.5 191.4C527.1 192.5 524.8 193.5 522.6 194.1C520.5 194.7 517.6 195.1 515.6 194.9C513.7 194.8 511.5 194.1 511 193.3C510.5 192.5 512 191.2 512.6 190.2C513.3 189.2 513.5 188.1 514.9 187.4C516.2 186.7 519.1 186.2 520.7 186.1C522.4 186.1 523.1 186.8 524.8 187.1C526.5 187.4 530.4 187.2 531 187.9Z" fill="#f67f4b" stroke="#c2c2c4" stroke-width="1.2" stroke-linejoin="round" stroke-linecap="round"/>
<path d="M555.6 190.2C555.2 191.1 555.8 191.9 554.7 192.5C553.7 193 551.5 193.3 549.4 193.5C547.4 193.7 544.6 194 542.4 193.6C540.2 193.3 537 192.2 536.4 191.3C535.8 190.5 538 189.4 538.9 188.4C539.8 187.4 540.1 186.1 542 185.6C543.9 185.1 547.7 184.9 550.3 185.2C552.9 185.4 556.6 186.3 557.5 187.1C558.4 188 556.1 189.3 555.6 190.2Z" fill="#fca55d" stroke="#c2c2c4" stroke-width="1.2" stroke-linejoin="round" stroke-linecap="round"/>
<path d="M576.8 193.2C576.8 194 575.6 195.2 574.2 196.2C572.8 197.1 570.7 198.2 568.6 198.8C566.5 199.5 563.7 200 561.8 200.1C559.9 200.2 558.3 200 557 199.5C555.7 199.1 553.9 198.6 554 197.6C554.2 196.6 555.8 194.9 558 193.8C560.2 192.7 564.5 191.3 567.2 190.9C569.9 190.5 572.6 190.9 574.2 191.2C575.8 191.6 576.8 192.4 576.8 193.2Z" fill="#f99153" stroke="#c2c2c4" stroke-width="1.2" stroke-linejoin="round" stroke-linecap="round"/>
<path d="M599.3 187.3C599.9 188 599.6 189.8 598.4 190.6C597.2 191.5 594.1 191.9 592.1 192.7C590 193.4 588.3 194.7 586.4 194.9C584.5 195.2 581.7 195 580.7 194.4C579.7 193.8 579.7 192.3 580.3 191.2C580.9 190 582.4 188.5 584.1 187.7C585.7 186.8 588.6 186.1 590.4 185.8C592.2 185.6 593.5 186.1 595 186.3C596.4 186.6 598.7 186.6 599.3 187.3Z" fill="#fdb768" stroke="#c2c2c4" stroke-width="1.2" stroke-linejoin="round" stroke-linecap="round"/>
<path d="M615 192.3C615.2 193.2 613.1 194.7 612.1 195.8C611 197 610.3 198.5 608.6 199.3C607 200 603.7 200.6 602.2 200.2C600.6 199.8 599.9 198 599.3 197C598.7 195.9 598.5 195 598.7 193.8C598.8 192.6 598.9 190.6 600.2 189.7C601.5 188.8 604.8 188.2 606.5 188.3C608.2 188.4 609.1 189.7 610.5 190.4C611.9 191 614.7 191.3 615 192.3Z" fill="#fca55d" stroke="#c2c2c4" stroke-width="1.2" stroke-linejoin="round" stroke-linecap="round"/>
<path d="M624.2 201.9C623.9 202.7 623.1 203.3 622.1 204C621 204.7 619.6 206.2 617.9 206.2C616.2 206.1 613.2 204.6 612.1 203.5C611.1 202.4 612 200.9 611.7 199.6C611.3 198.3 609.7 196.6 610.2 195.6C610.7 194.6 613 193.5 614.8 193.4C616.6 193.4 619.4 194.5 621 195.3C622.5 196.2 623.7 197.7 624.3 198.8C624.8 199.9 624.6 201 624.2 201.9Z" fill="#f67f4b" stroke="#c2c2c4" stroke-width="1.2" stroke-linejoin="round" stroke-linecap="round"/>
<path d="M594.9 207.7C594.2 208.4 592.1 208.6 590.5 208.7C588.9 208.7 587.6 208.4 585.5 208.2C583.4 208 579.7 208.3 577.9 207.5C576.1 206.8 575.2 204.8 574.9 203.8C574.6 202.7 575.3 201.9 576.2 201.2C577.1 200.4 578.3 199.2 580.2 199.3C582.1 199.4 585.2 200.9 587.6 201.8C590 202.6 593.4 203.4 594.6 204.4C595.8 205.4 595.6 207 594.9 207.7Z" fill="#f67f4b" stroke="#c2c2c4" stroke-width="1.2" stroke-linejoin="round" stroke-linecap="round"/>
<path d="M613.6 237.1C613.5 238 610 238.8 608.3 239.4C606.5 239.9 605 240.4 603.1 240.4C601.3 240.5 598.7 240.1 597.2 239.4C595.6 238.8 594.5 237.7 593.7 236.7C592.9 235.7 591.7 234.1 592.4 233.3C593.1 232.5 596 232.1 598 231.8C599.9 231.5 602.4 231.1 604.1 231.5C605.9 231.8 606.9 233 608.5 234C610 234.9 613.6 236.2 613.6 237.1Z" fill="#f67f4b" stroke="#c2c2c4" stroke-width="1.2" stroke-linejoin="round" stroke-linecap="round"/>
<path d="M624.6 241.9C624.6 242.7 622.2 243.9 620.9 244.7C619.6 245.5 618.4 246.3 616.8 246.7C615.2 247.1 613 247.2 611.3 247.1C609.5 246.9 606.8 246.4 606.2 245.7C605.6 244.9 607.1 243.6 607.7 242.5C608.3 241.5 608.3 240 609.7 239.4C611.1 238.8 614.1 238.9 615.9 238.9C617.8 239 619.4 239.2 620.9 239.7C622.3 240.2 624.6 241.1 624.6 241.9Z" fill="#f99153" stroke="#c2c2c4" stroke-width="1.2" stroke-linejoin="round" stroke-linecap="round"/>
<path d="M370 202.7C370.7 201.2 372.7 196.2 374 193.8C375.3 191.4 376.7 189.3 378 188.2C379.3 187 380.7 187.8 382 186.9C383.3 186 384.7 183.4 386 182.7C387.3 182 388.7 182.7 390 182.5C391.3 182.3 392.7 182.7 394 181.8C395.3 181 396.7 178.6 398 177.4C399.3 176.2 400.7 175.5 402 174.5C403.3 173.5 404.7 172.7 406 171.4C407.3 170.1 408.7 167.3 410 166.8C411.3 166.3 412.7 168 414 168.4C415.3 168.8 416.7 168.6 418 169.2C419.3 169.8 420.7 171.6 422 172.2C423.3 172.8 424.7 172.2 426 172.7C427.3 173.2 428.7 175.1 430 175.2C431.3 175.2 432.7 172.9 434 173C435.3 173.1 436.7 175.6 438 175.8C439.3 176 440.7 173.7 442 174.1C443.3 174.5 444.7 177.3 446 178C447.3 178.7 448.7 177.9 450 178.1C451.3 178.3 452.7 178.9 454 179.1C455.3 179.3 456.7 179.2 458 179.2C459.3 179.2 460.7 179.2 462 178.9C463.3 178.6 464.7 177.7 466 177.2C467.3 176.7 468.7 176.2 470 175.8C471.3 175.5 472.7 175.3 474 175.1C475.3 174.9 476.7 174.1 478 174.6C479.3 175.1 480.7 177.4 482 178.1C483.3 178.8 484.7 178.7 486 179C487.3 179.3 488.7 180.3 490 180.1C491.3 179.9 492.7 178.5 494 178C495.3 177.5 496.7 177.1 498 176.9C499.3 176.7 500.7 176.3 502 176.6C503.3 176.8 504.7 178.1 506 178.4C507.3 178.8 508.7 178.2 510 178.7C511.3 179.2 512.7 180.5 514 181.2C515.3 181.9 516.7 182.2 518 183C519.3 183.8 520.7 185.9 522 185.9C523.3 185.9 524.7 184 526 183.2C527.3 182.4 528.7 181.3 530 181.1C531.3 180.9 532.7 181.9 534 182.1C535.3 182.3 536.7 182.2 538 182.3C539.3 182.4 540.7 182.2 542 182.4C543.3 182.6 544.7 182.8 546 183.2C547.3 183.6 548.7 184.9 550 184.8C551.3 184.7 552.7 183.2 554 182.8C555.3 182.4 556.7 183.2 558 182.5C559.3 181.8 560.7 179.4 562 178.5C563.3 177.6 564.7 177.3 566 177.3C567.3 177.3 568.7 178.1 570 178.5C571.3 178.9 572.7 179.4 574 179.8C575.3 180.2 576.7 180.8 578 181C579.3 181.2 580.7 180.3 582 180.7C583.3 181.1 584.7 183.1 586 183.3C587.3 183.5 588.7 182.5 590 181.8C591.3 181.2 592.7 179.9 594 179.4C595.3 178.9 596.7 179 598 179.1C599.3 179.2 600.7 179.7 602 180.1C603.3 180.5 604.7 180.9 606 181.4C607.3 181.9 608.7 182.1 610 182.9C611.3 183.7 612.7 185.8 614 186.2C615.3 186.5 616.7 185.8 618 185C619.3 184.2 620.7 182.2 622 181.3C623.3 180.4 624.7 180.1 626 179.3C627.3 178.5 628.7 176.6 630 176.7C631.3 176.8 632.7 179.6 634 180.1C635.3 180.6 637.3 179.9 638 179.8" fill="none" stroke="#c9c9c9" stroke-width="2.0" stroke-linejoin="round" stroke-linecap="round"/>
<path d="M370 201.1C370.7 200.2 372.7 197.9 374 195.5C375.3 193.1 376.7 188 378 186.8C379.3 185.6 380.7 188.6 382 188.3C383.3 188 384.7 185.6 386 185.1C387.3 184.6 388.7 185.6 390 185.6C391.3 185.6 392.7 186.3 394 184.9C395.3 183.5 396.7 179.2 398 177.4C399.3 175.7 400.7 175.4 402 174.4C403.3 173.4 404.7 172.1 406 171.3C407.3 170.5 408.7 169.8 410 169.5C411.3 169.2 412.7 168.8 414 169.8C415.3 170.8 416.7 174.2 418 175.3C419.3 176.4 420.7 176.2 422 176.2C423.3 176.1 424.7 175.2 426 175C427.3 174.8 428.7 174.9 430 175C431.3 175.1 432.7 175.9 434 175.8C435.3 175.7 436.7 174.3 438 174.3C439.3 174.3 440.7 174.6 442 175.7C443.3 176.8 444.7 179.9 446 180.7C447.3 181.4 448.7 180 450 180.2C451.3 180.4 452.7 181.4 454 181.9C455.3 182.4 456.7 183 458 182.9C459.3 182.8 460.7 182.4 462 181.5C463.3 180.6 464.7 178.5 466 177.5C467.3 176.5 468.7 175.6 470 175.3C471.3 175 472.7 175.2 474 175.9C475.3 176.6 476.7 178.7 478 179.6C479.3 180.5 480.7 181.1 482 181.1C483.3 181.1 484.7 179.2 486 179.3C487.3 179.5 488.7 182 490 182C491.3 182 492.7 179.7 494 179.1C495.3 178.5 496.7 178.7 498 178.3C499.3 177.9 500.7 176.3 502 176.7C503.3 177.1 504.7 179.6 506 180.8C507.3 182 508.7 183.4 510 183.8C511.3 184.2 512.7 182.8 514 183.3C515.3 183.8 516.7 186.4 518 186.7C519.3 187 520.7 185 522 185.1C523.3 185.2 524.7 187.4 526 187C527.3 186.6 528.7 183.6 530 182.8C531.3 182 532.7 181.7 534 182C535.3 182.3 536.7 184.5 538 184.9C539.3 185.3 540.7 184.1 542 184.6C543.3 185.1 544.7 187.6 546 188.2C547.3 188.8 548.7 188.6 550 188.4C551.3 188.2 552.7 187.8 554 186.8C555.3 185.8 556.7 183.2 558 182.6C559.3 182 560.7 183 562 183.1C563.3 183.2 564.7 183.6 566 183.4C567.3 183.2 568.7 182.3 570 182.1C571.3 181.9 572.7 181.9 574 182.3C575.3 182.7 576.7 183.9 578 184.4C579.3 184.9 580.7 185 582 185.3C583.3 185.7 584.7 186.8 586 186.5C587.3 186.2 588.7 183.9 590 183.2C591.3 182.5 592.7 182.3 594 182.2C595.3 182.1 596.7 181.9 598 182.5C599.3 183.1 600.7 184.7 602 185.7C603.3 186.7 604.7 188 606 188.5C607.3 189 608.7 188.7 610 188.8C611.3 188.9 612.7 189.4 614 189.3C615.3 189.2 616.7 189 618 188.2C619.3 187.3 620.7 185.5 622 184.2C623.3 182.9 624.7 180.9 626 180.3C627.3 179.7 628.7 179.6 630 180.4C631.3 181.2 632.7 184.5 634 185.3C635.3 186.1 637.3 185.2 638 185.2" fill="none" stroke="#c9c9c9" stroke-width="2.0" stroke-linejoin="round" stroke-linecap="round"/>
<path d="M370 202.6C370.7 201.6 372.7 197.6 374 196.4C375.3 195.2 376.7 196.3 378 195.2C379.3 194.1 380.7 191.3 382 189.8C383.3 188.3 384.7 187.5 386 186.3C387.3 185.1 388.7 184 390 182.7C391.3 181.4 392.7 178.9 394 178.3C395.3 177.7 396.7 179.4 398 179.3C399.3 179.2 400.7 178 402 177.6C403.3 177.2 404.7 176.7 406 176.7C407.3 176.7 408.7 178 410 177.5C411.3 177 412.7 174.6 414 173.9C415.3 173.2 416.7 173.5 418 173.6C419.3 173.7 420.7 174.5 422 174.3C423.3 174.1 424.7 172.5 426 172.6C427.3 172.7 428.7 174 430 175.1C431.3 176.2 432.7 178.4 434 179.3C435.3 180.2 436.7 179.8 438 180.7C439.3 181.6 440.7 184.3 442 184.9C443.3 185.5 444.7 185.4 446 184.4C447.3 183.4 448.7 180 450 179.2C451.3 178.4 452.7 179.3 454 179.5C455.3 179.7 456.7 180.3 458 180.4C459.3 180.5 460.7 179.7 462 180.3C463.3 180.9 464.7 183.4 466 183.9C467.3 184.4 468.7 183.5 470 183.1C471.3 182.7 472.7 181.6 474 181.3C475.3 181 476.7 181.4 478 181.2C479.3 180.9 480.7 180.4 482 179.8C483.3 179.2 484.7 177.8 486 177.9C487.3 178 488.7 179.4 490 180.2C491.3 181 492.7 182.2 494 182.7C495.3 183.2 496.7 183.1 498 183.4C499.3 183.7 500.7 184 502 184.4C503.3 184.8 504.7 186 506 186.1C507.3 186.2 508.7 185.3 510 184.9C511.3 184.5 512.7 183.7 514 183.9C515.3 184.1 516.7 186 518 186.1C519.3 186.2 520.7 183.9 522 184.5C523.3 185.1 524.7 188.6 526 189.4C527.3 190.2 528.7 188.8 530 189.1C531.3 189.4 532.7 191.2 534 191.1C535.3 191 536.7 189.2 538 188.6C539.3 188 540.7 187.7 542 187.5C543.3 187.3 544.7 187.3 546 187.2C547.3 187.1 548.7 186.7 550 186.7C551.3 186.7 552.7 187.4 554 187.4C555.3 187.4 556.7 186.3 558 186.5C559.3 186.7 560.7 188.5 562 188.7C563.3 188.9 564.7 187.9 566 187.8C567.3 187.7 568.7 188.4 570 188.1C571.3 187.8 572.7 187 574 186.2C575.3 185.4 576.7 183.4 578 183.3C579.3 183.2 580.7 185 582 185.8C583.3 186.6 584.7 187.4 586 188C587.3 188.6 588.7 188.8 590 189.6C591.3 190.3 592.7 192.4 594 192.5C595.3 192.6 596.7 190.7 598 190.2C599.3 189.7 600.7 189.9 602 189.5C603.3 189.1 604.7 188 606 188C607.3 188 608.7 189.3 610 189.4C611.3 189.5 612.7 188.5 614 188.4C615.3 188.3 616.7 188.7 618 188.8C619.3 188.9 620.7 188.5 622 188.8C623.3 189.1 624.7 191 626 190.8C627.3 190.6 628.7 187.6 630 187.6C631.3 187.6 632.7 191 634 190.7C635.3 190.3 637.3 186.4 638 185.5" fill="none" stroke="#c9c9c9" stroke-width="2.0" stroke-linejoin="round" stroke-linecap="round"/>
<path d="M370 204.5C370.7 203.1 372.7 198.5 374 196C375.3 193.5 376.7 191 378 189.5C379.3 188 380.7 188 382 187.1C383.3 186.2 384.7 184.6 386 184.2C387.3 183.8 388.7 184.3 390 184.4C391.3 184.5 392.7 185.1 394 184.9C395.3 184.7 396.7 184.1 398 183.3C399.3 182.5 400.7 180.9 402 180C403.3 179.1 404.7 179.2 406 178.1C407.3 177 408.7 173.8 410 173.5C411.3 173.2 412.7 176.2 414 176.5C415.3 176.8 416.7 175 418 175C419.3 175 420.7 176 422 176.4C423.3 176.8 424.7 176.7 426 177.5C427.3 178.3 428.7 180.5 430 181.3C431.3 182.2 432.7 182.4 434 182.6C435.3 182.8 436.7 183.1 438 182.7C439.3 182.3 440.7 180.4 442 180.2C443.3 180 444.7 181.3 446 181.7C447.3 182.1 448.7 182.2 450 182.4C451.3 182.6 452.7 181.9 454 182.6C455.3 183.3 456.7 186.4 458 186.5C459.3 186.6 460.7 183.7 462 183.4C463.3 183.1 464.7 184.4 466 184.5C467.3 184.6 468.7 184.2 470 184.1C471.3 183.9 472.7 184.3 474 183.6C475.3 182.8 476.7 180 478 179.6C479.3 179.2 480.7 180.6 482 181.4C483.3 182.2 484.7 183.9 486 184.2C487.3 184.5 488.7 183.2 490 183.3C491.3 183.4 492.7 184.3 494 184.9C495.3 185.5 496.7 187.2 498 186.8C499.3 186.4 500.7 183 502 182.4C503.3 181.8 504.7 182.9 506 183.1C507.3 183.3 508.7 183.1 510 183.6C511.3 184.1 512.7 185.6 514 186.3C515.3 187 516.7 187.2 518 187.8C519.3 188.4 520.7 188.7 522 189.8C523.3 191 524.7 194.1 526 194.7C527.3 195.3 528.7 194 530 193.5C531.3 193 532.7 192.5 534 191.6C535.3 190.7 536.7 188.7 538 188.1C539.3 187.5 540.7 187.6 542 187.9C543.3 188.2 544.7 189.7 546 190.1C547.3 190.5 548.7 189.9 550 190.2C551.3 190.5 552.7 191.5 554 192.1C555.3 192.7 556.7 194.1 558 193.8C559.3 193.5 560.7 191.1 562 190.2C563.3 189.3 564.7 188.4 566 188.3C567.3 188.2 568.7 189.7 570 189.7C571.3 189.7 572.7 188.7 574 188.4C575.3 188.1 576.7 187.4 578 187.9C579.3 188.4 580.7 190.4 582 191.5C583.3 192.6 584.7 194.2 586 194.4C587.3 194.6 588.7 192.8 590 192.5C591.3 192.2 592.7 192.7 594 192.8C595.3 192.9 596.7 192.9 598 193C599.3 193.1 600.7 193.2 602 193.2C603.3 193.2 604.7 192.5 606 193.1C607.3 193.7 608.7 196.1 610 196.5C611.3 196.9 612.7 195.8 614 195.7C615.3 195.6 616.7 195.6 618 195.7C619.3 195.8 620.7 196.9 622 196.2C623.3 195.5 624.7 192.4 626 191.6C627.3 190.8 628.7 191.8 630 191.4C631.3 191 632.7 189.8 634 189C635.3 188.2 637.3 187 638 186.6" fill="none" stroke="#c9c9c9" stroke-width="2.0" stroke-linejoin="round" stroke-linecap="round"/>
<path d="M370 201.1C370.7 200.3 372.7 197.8 374 196.6C375.3 195.3 376.7 194.5 378 193.6C379.3 192.7 380.7 192.2 382 191.4C383.3 190.7 384.7 190.2 386 189.1C387.3 188 388.7 185.9 390 184.7C391.3 183.5 392.7 182.4 394 182.1C395.3 181.8 396.7 182.8 398 182.6C399.3 182.4 400.7 181.1 402 181C403.3 180.9 404.7 182.1 406 181.8C407.3 181.5 408.7 179.5 410 179.4C411.3 179.3 412.7 181 414 181C415.3 181 416.7 179.5 418 179.2C419.3 178.9 420.7 179.8 422 179.4C423.3 179 424.7 177.3 426 177C427.3 176.7 428.7 177.2 430 177.6C431.3 178 432.7 178.3 434 179.2C435.3 180.1 436.7 182 438 183.2C439.3 184.4 440.7 185.9 442 186.6C443.3 187.3 444.7 187.1 446 187.4C447.3 187.7 448.7 188.8 450 188.4C451.3 188 452.7 186.2 454 185.1C455.3 184 456.7 182.2 458 181.9C459.3 181.6 460.7 182.8 462 183.1C463.3 183.4 464.7 183.1 466 184C467.3 184.9 468.7 188.3 470 188.8C471.3 189.3 472.7 187.3 474 187.2C475.3 187 476.7 188.1 478 187.9C479.3 187.7 480.7 186.4 482 185.9C483.3 185.4 484.7 185.9 486 185.2C487.3 184.5 488.7 181.9 490 181.7C491.3 181.5 492.7 183.4 494 184.1C495.3 184.8 496.7 185.7 498 186.1C499.3 186.5 500.7 185.6 502 186.4C503.3 187.2 504.7 190.6 506 191.1C507.3 191.6 508.7 189.2 510 189.2C511.3 189.1 512.7 190.7 514 190.8C515.3 190.9 516.7 190.1 518 189.7C519.3 189.3 520.7 188.2 522 188.5C523.3 188.8 524.7 191 526 191.8C527.3 192.7 528.7 193.2 530 193.6C531.3 194 532.7 193.9 534 194.1C535.3 194.2 536.7 194.3 538 194.5C539.3 194.7 540.7 195.7 542 195.1C543.3 194.5 544.7 191.8 546 191.1C547.3 190.4 548.7 190.7 550 190.7C551.3 190.7 552.7 190.6 554 190.9C555.3 191.2 556.7 192.1 558 192.3C559.3 192.5 560.7 191.6 562 192.2C563.3 192.8 564.7 195.4 566 195.7C567.3 196 568.7 194 570 193.8C571.3 193.6 572.7 194.8 574 194.7C575.3 194.6 576.7 194 578 193.4C579.3 192.8 580.7 191.2 582 191C583.3 190.8 584.7 191.8 586 192.4C587.3 193 588.7 193.6 590 194.6C591.3 195.6 592.7 197.8 594 198.5C595.3 199.2 596.7 198.6 598 198.7C599.3 198.8 600.7 198.7 602 199C603.3 199.3 604.7 200.7 606 200.4C607.3 200.1 608.7 197.8 610 197.1C611.3 196.3 612.7 196.1 614 195.9C615.3 195.7 616.7 195.9 618 195.9C619.3 195.9 620.7 195.9 622 195.8C623.3 195.7 624.7 195.5 626 195.5C627.3 195.5 628.7 195.4 630 195.9C631.3 196.4 632.7 199.1 634 198.4C635.3 197.7 637.3 193 638 191.9" fill="none" stroke="#c9c9c9" stroke-width="2.0" stroke-linejoin="round" stroke-linecap="round"/>
<path d="M370 202.4C370.7 201 372.7 195.9 374 194.2C375.3 192.5 376.7 192.3 378 192.1C379.3 191.8 380.7 193.1 382 192.7C383.3 192.3 384.7 190.2 386 189.9C387.3 189.6 388.7 191 390 190.7C391.3 190.4 392.7 189 394 188.2C395.3 187.4 396.7 186.9 398 185.9C399.3 184.9 400.7 183.6 402 182.2C403.3 180.8 404.7 177.9 406 177.4C407.3 176.9 408.7 178.8 410 179.3C411.3 179.8 412.7 179.6 414 180.4C415.3 181.2 416.7 183.8 418 184.4C419.3 185 420.7 184.6 422 184.2C423.3 183.8 424.7 182.1 426 181.7C427.3 181.2 428.7 181.7 430 181.5C431.3 181.3 432.7 180.5 434 180.6C435.3 180.7 436.7 181.6 438 182.3C439.3 183 440.7 184 442 184.8C443.3 185.6 444.7 186.3 446 187.2C447.3 188.1 448.7 189.8 450 190.3C451.3 190.8 452.7 190.6 454 190C455.3 189.4 456.7 187.4 458 187C459.3 186.6 460.7 188 462 187.6C463.3 187.2 464.7 185.2 466 184.6C467.3 184 468.7 183.6 470 183.8C471.3 184 472.7 185.2 474 185.9C475.3 186.6 476.7 187.5 478 187.9C479.3 188.3 480.7 187.8 482 188.2C483.3 188.6 484.7 190 486 190.3C487.3 190.6 488.7 190.5 490 190.1C491.3 189.7 492.7 188.6 494 188.1C495.3 187.6 496.7 187.8 498 187.1C499.3 186.4 500.7 184 502 184.2C503.3 184.3 504.7 186.8 506 188C507.3 189.2 508.7 190.3 510 191.1C511.3 191.9 512.7 192.1 514 192.9C515.3 193.7 516.7 195.6 518 195.8C519.3 196 520.7 194.3 522 194.2C523.3 194.1 524.7 194.9 526 195C527.3 195.1 528.7 195 530 194.9C531.3 194.8 532.7 194.4 534 194.4C535.3 194.4 536.7 194.7 538 195C539.3 195.3 540.7 196.2 542 196.5C543.3 196.8 544.7 196.7 546 196.9C547.3 197.1 548.7 197.6 550 197.9C551.3 198.2 552.7 199 554 198.5C555.3 198 556.7 196.1 558 195.1C559.3 194.1 560.7 192.7 562 192.6C563.3 192.5 564.7 194.3 566 194.5C567.3 194.7 568.7 193.5 570 193.9C571.3 194.3 572.7 196.2 574 197.2C575.3 198.2 576.7 199 578 199.8C579.3 200.6 580.7 201.9 582 201.8C583.3 201.7 584.7 199.7 586 199.2C587.3 198.7 588.7 198.8 590 198.9C591.3 199 592.7 199.6 594 199.8C595.3 200 596.7 199.7 598 200C599.3 200.3 600.7 200.9 602 201.6C603.3 202.3 604.7 203.7 606 204.3C607.3 204.9 608.7 205.4 610 205.4C611.3 205.4 612.7 205 614 204.4C615.3 203.8 616.7 202.3 618 201.8C619.3 201.3 620.7 201.8 622 201.4C623.3 201 624.7 200.1 626 199.4C627.3 198.8 628.7 197.1 630 197.5C631.3 197.9 632.7 202.2 634 201.6C635.3 201 637.3 195 638 193.7" fill="none" stroke="#c9c9c9" stroke-width="2.0" stroke-linejoin="round" stroke-linecap="round"/>
<path d="M370 200.6C370.7 200.1 372.7 198.2 374 197.3C375.3 196.4 376.7 195.5 378 195.3C379.3 195.1 380.7 197.1 382 196.3C383.3 195.5 384.7 191.9 386 190.3C387.3 188.7 388.7 188 390 186.9C391.3 185.8 392.7 184.4 394 183.9C395.3 183.4 396.7 184.2 398 183.8C399.3 183.4 400.7 182.1 402 181.6C403.3 181.1 404.7 180.6 406 181.1C407.3 181.6 408.7 183.8 410 184.7C411.3 185.6 412.7 186.2 414 186.3C415.3 186.5 416.7 186 418 185.6C419.3 185.2 420.7 184.4 422 183.9C423.3 183.4 424.7 182.8 426 182.5C427.3 182.2 428.7 181.6 430 181.9C431.3 182.2 432.7 183.3 434 184.2C435.3 185.1 436.7 186 438 187.4C439.3 188.8 440.7 191.4 442 192.6C443.3 193.8 444.7 194.6 446 194.4C447.3 194.2 448.7 192.2 450 191.2C451.3 190.2 452.7 188.7 454 188.2C455.3 187.7 456.7 188.5 458 188.2C459.3 187.9 460.7 186.3 462 186.6C463.3 186.9 464.7 189 466 189.9C467.3 190.8 468.7 191.4 470 191.9C471.3 192.4 472.7 192.8 474 193.1C475.3 193.4 476.7 194 478 193.8C479.3 193.6 480.7 192.8 482 191.7C483.3 190.6 484.7 187.9 486 187.4C487.3 186.9 488.7 188.5 490 188.7C491.3 188.9 492.7 188.5 494 188.8C495.3 189.1 496.7 190 498 190.4C499.3 190.8 500.7 190.7 502 191.1C503.3 191.5 504.7 192.2 506 193C507.3 193.8 508.7 195.5 510 195.9C511.3 196.3 512.7 195.6 514 195.3C515.3 195 516.7 194.2 518 194C519.3 193.8 520.7 194 522 194.3C523.3 194.7 524.7 195.5 526 196.1C527.3 196.7 528.7 197.2 530 198C531.3 198.8 532.7 200.7 534 201C535.3 201.3 536.7 200.4 538 200.1C539.3 199.8 540.7 199.6 542 199.2C543.3 198.8 544.7 198.2 546 197.7C547.3 197.2 548.7 196.1 550 196.1C551.3 196.1 552.7 197.8 554 197.7C555.3 197.6 556.7 195.6 558 195.8C559.3 196 560.7 197.8 562 198.8C563.3 199.8 564.7 201.2 566 201.6C567.3 201.9 568.7 201.3 570 200.9C571.3 200.5 572.7 199.2 574 199.3C575.3 199.4 576.7 201.3 578 201.6C579.3 201.9 580.7 201.7 582 201.3C583.3 200.9 584.7 199 586 199C587.3 199 588.7 200.5 590 201.4C591.3 202.3 592.7 203.6 594 204.6C595.3 205.6 596.7 207.2 598 207.6C599.3 208 600.7 206.8 602 206.9C603.3 207 604.7 208.5 606 208.3C607.3 208.1 608.7 206.2 610 205.8C611.3 205.4 612.7 206.3 614 206C615.3 205.7 616.7 204.2 618 203.9C619.3 203.6 620.7 203.8 622 204.2C623.3 204.6 624.7 205.7 626 206.2C627.3 206.7 628.7 207 630 207.2C631.3 207.4 632.7 208.9 634 207.3C635.3 205.7 637.3 199.3 638 197.7" fill="none" stroke="#c9c9c9" stroke-width="1.5" stroke-linejoin="round" stroke-linecap="round"/>
<path d="M370 204.7C370.7 204 372.7 201.7 374 200.3C375.3 198.9 376.7 197.7 378 196.5C379.3 195.3 380.7 194.6 382 193.2C383.3 191.8 384.7 188.9 386 188C387.3 187.1 388.7 187.4 390 187.5C391.3 187.6 392.7 188.5 394 188.3C395.3 188.2 396.7 187 398 186.6C399.3 186.2 400.7 186.5 402 186C403.3 185.5 404.7 183.9 406 183.8C407.3 183.7 408.7 184.7 410 185.3C411.3 185.9 412.7 187.1 414 187.6C415.3 188.1 416.7 188.7 418 188.1C419.3 187.5 420.7 184.2 422 183.9C423.3 183.6 424.7 186.1 426 186.5C427.3 186.9 428.7 186.2 430 186.6C431.3 187 432.7 188.4 434 188.8C435.3 189.2 436.7 188.3 438 189C439.3 189.7 440.7 192.2 442 192.9C443.3 193.6 444.7 193.9 446 193.3C447.3 192.8 448.7 189.9 450 189.6C451.3 189.3 452.7 191.4 454 191.3C455.3 191.2 456.7 189.2 458 189.2C459.3 189.1 460.7 190.4 462 191C463.3 191.6 464.7 192.4 466 193C467.3 193.6 468.7 194.3 470 194.5C471.3 194.7 472.7 195.2 474 194.4C475.3 193.6 476.7 190.2 478 189.4C479.3 188.6 480.7 189.6 482 189.6C483.3 189.6 484.7 188.6 486 189.2C487.3 189.8 488.7 192.2 490 193.1C491.3 194 492.7 194.3 494 194.5C495.3 194.7 496.7 194.5 498 194.2C499.3 193.9 500.7 192.7 502 192.8C503.3 192.9 504.7 194.2 506 194.6C507.3 195 508.7 195.1 510 195.1C511.3 195.1 512.7 194.1 514 194.5C515.3 194.9 516.7 196.4 518 197.5C519.3 198.6 520.7 199.9 522 201C523.3 202.1 524.7 203.1 526 203.9C527.3 204.7 528.7 206 530 205.8C531.3 205.6 532.7 203.2 534 202.6C535.3 202 536.7 202.6 538 202.3C539.3 202 540.7 200.7 542 200.6C543.3 200.5 544.7 201.8 546 201.7C547.3 201.6 548.7 199.9 550 199.9C551.3 199.9 552.7 201 554 201.4C555.3 201.8 556.7 201.4 558 202.1C559.3 202.8 560.7 205.4 562 205.3C563.3 205.2 564.7 202.3 566 201.6C567.3 200.9 568.7 201.4 570 201C571.3 200.6 572.7 199.1 574 199.1C575.3 199.1 576.7 200.6 578 201.2C579.3 201.8 580.7 201.4 582 202.5C583.3 203.6 584.7 207 586 207.9C587.3 208.8 588.7 207.5 590 207.9C591.3 208.3 592.7 210.1 594 210.1C595.3 210.1 596.7 208.4 598 207.9C599.3 207.4 600.7 206.9 602 206.9C603.3 206.9 604.7 207.7 606 208.1C607.3 208.5 608.7 208.9 610 209.2C611.3 209.5 612.7 209.6 614 209.8C615.3 210 616.7 210.2 618 210.3C619.3 210.4 620.7 210.1 622 210.4C623.3 210.7 624.7 212.4 626 211.9C627.3 211.4 628.7 208.6 630 207.4C631.3 206.2 632.7 206.8 634 204.9C635.3 203 637.3 197.3 638 195.8" fill="none" stroke="#c9c9c9" stroke-width="1.5" stroke-linejoin="round" stroke-linecap="round"/>
<path d="M370 206.1C370.7 204.8 372.7 200.1 374 198.5C375.3 196.9 376.7 197.6 378 196.5C379.3 195.4 380.7 193.2 382 192.1C383.3 191 384.7 190.2 386 190C387.3 189.8 388.7 191 390 190.9C391.3 190.8 392.7 189.7 394 189.2C395.3 188.7 396.7 187.9 398 187.9C399.3 187.9 400.7 189.1 402 189C403.3 188.9 404.7 187.9 406 187.5C407.3 187.1 408.7 186.7 410 186.6C411.3 186.5 412.7 186.1 414 186.8C415.3 187.5 416.7 190.1 418 190.6C419.3 191.1 420.7 189.9 422 189.9C423.3 189.9 424.7 190.8 426 190.7C427.3 190.5 428.7 188.9 430 189C431.3 189.1 432.7 190.7 434 191.1C435.3 191.5 436.7 191.2 438 191.2C439.3 191.2 440.7 190.9 442 190.9C443.3 190.9 444.7 190.8 446 191.1C447.3 191.4 448.7 192.4 450 192.5C451.3 192.6 452.7 191.7 454 191.6C455.3 191.5 456.7 191.3 458 191.8C459.3 192.3 460.7 194 462 194.8C463.3 195.6 464.7 196.9 466 196.8C467.3 196.7 468.7 194.8 470 194.3C471.3 193.8 472.7 194.6 474 194C475.3 193.4 476.7 191.3 478 190.9C479.3 190.5 480.7 190.8 482 191.7C483.3 192.5 484.7 195.6 486 196C487.3 196.4 488.7 193.9 490 194.1C491.3 194.3 492.7 196.7 494 197.3C495.3 197.9 496.7 198 498 197.8C499.3 197.6 500.7 196.3 502 195.9C503.3 195.5 504.7 195.7 506 195.6C507.3 195.5 508.7 194.6 510 195.2C511.3 195.8 512.7 198.1 514 199.3C515.3 200.5 516.7 201.7 518 202.6C519.3 203.5 520.7 204.2 522 205C523.3 205.8 524.7 207.7 526 207.6C527.3 207.5 528.7 204.8 530 204.6C531.3 204.4 532.7 206.9 534 206.7C535.3 206.5 536.7 203.7 538 203.2C539.3 202.7 540.7 203.9 542 203.8C543.3 203.7 544.7 202.3 546 202.8C547.3 203.3 548.7 206.4 550 206.7C551.3 207 552.7 204.4 554 204.5C555.3 204.6 556.7 207 558 207.1C559.3 207.2 560.7 205.5 562 205C563.3 204.5 564.7 204.7 566 204.3C567.3 203.9 568.7 202.8 570 202.8C571.3 202.8 572.7 203.5 574 204.2C575.3 204.9 576.7 206.3 578 207C579.3 207.7 580.7 207.4 582 208.3C583.3 209.2 584.7 211.9 586 212.6C587.3 213.3 588.7 212.6 590 212.5C591.3 212.4 592.7 211.8 594 211.9C595.3 212 596.7 213.6 598 213.3C599.3 213.1 600.7 210.9 602 210.4C603.3 209.9 604.7 209.9 606 210.4C607.3 210.9 608.7 212.6 610 213.6C611.3 214.6 612.7 216.3 614 216.7C615.3 217.1 616.7 215.7 618 215.8C619.3 215.9 620.7 217.7 622 217.4C623.3 217.1 624.7 215 626 214.1C627.3 213.2 628.7 213 630 212.1C631.3 211.2 632.7 210.9 634 208.6C635.3 206.3 637.3 199.8 638 198.1" fill="none" stroke="#c9c9c9" stroke-width="1.5" stroke-linejoin="round" stroke-linecap="round"/>
<path d="M630 180 L640 181.5 L660 183.5 L700 185 L745 187 L745 210 L700 208 L664 205 L640 202 L630 192Z" fill="#cbc6c0"/>
<path d="M662.1 192.4C661.7 192.8 660 193 659 193.3C658 193.6 657.2 194.1 656.1 194.2C654.9 194.2 653 193.8 652 193.5C651 193.1 650.8 192.8 650 192.3C649.3 191.9 647.1 191.1 647.5 190.8C647.8 190.4 650.7 190.4 652.2 190.3C653.6 190.1 654.8 189.8 656.3 189.9C657.8 190 660.1 190.3 661 190.7C662 191.1 662.4 191.9 662.1 192.4Z" fill="#fdc776" stroke="none" stroke-width="0" stroke-linejoin="round" stroke-linecap="round"/>
<path d="M678.2 194.3C678.2 194.7 677 195.2 676.1 195.5C675.3 195.8 674.2 196.2 672.9 196.2C671.7 196.3 670.1 196.1 668.8 195.8C667.6 195.5 665.7 195 665.5 194.5C665.3 194.1 666.9 193.6 667.5 193.2C668.1 192.7 668.1 192.1 669 191.9C669.9 191.7 671.8 192 673 192.2C674.2 192.3 675.3 192.6 676.1 192.9C677 193.3 678.2 193.9 678.2 194.3Z" fill="#fed481" stroke="none" stroke-width="0" stroke-linejoin="round" stroke-linecap="round"/>
<path d="M697.9 195.4C697.9 195.8 696.4 196.3 695.3 196.6C694.2 196.8 692.7 197.1 691.2 197.1C689.6 197.1 687.5 197 686 196.8C684.4 196.5 682.4 195.9 682 195.4C681.7 195 682.9 194.4 683.7 194C684.4 193.6 685.1 193.1 686.4 193C687.7 192.8 689.8 192.9 691.3 193.1C692.8 193.3 694.3 193.6 695.5 194C696.6 194.4 698 195 697.9 195.4Z" fill="#fed481" stroke="none" stroke-width="0" stroke-linejoin="round" stroke-linecap="round"/>
<path d="M712.6 196.3C712.6 196.7 711.4 197.2 710.4 197.5C709.5 197.8 708.2 198 707 198.1C705.7 198.1 704.3 197.8 703 197.6C701.6 197.3 699.6 196.9 699.1 196.5C698.6 196.1 699.3 195.4 699.8 194.9C700.4 194.5 701.3 194 702.5 193.8C703.8 193.6 706.1 193.4 707.4 193.7C708.6 193.9 709.2 194.6 710.1 195.1C711 195.5 712.5 195.9 712.6 196.3Z" fill="#fdc776" stroke="none" stroke-width="0" stroke-linejoin="round" stroke-linecap="round"/>
<path d="M729.2 197.4C729.6 197.9 729.4 198.9 728.4 199.3C727.5 199.7 724.8 200.1 723.3 199.9C721.7 199.8 720.2 199 719.1 198.6C717.9 198.2 717.2 197.9 716.6 197.4C716.1 197 715.2 196.2 715.7 195.9C716.1 195.5 718.1 195.3 719.3 195.2C720.6 195 722 194.8 723.2 194.9C724.3 195 725.3 195.5 726.3 195.9C727.3 196.4 728.8 196.8 729.2 197.4Z" fill="#fed481" stroke="none" stroke-width="0" stroke-linejoin="round" stroke-linecap="round"/>
<path d="M740.4 199.3C740.3 199.8 740 200.3 739.3 200.7C738.5 201 737 201.5 735.9 201.4C734.8 201.4 733.9 200.6 732.9 200.3C731.8 200 730.2 199.9 729.8 199.5C729.3 199.1 729.4 198.3 730 198C730.5 197.7 732 197.7 733 197.5C734.1 197.3 735 196.7 736.2 196.7C737.3 196.7 739.1 197.2 739.8 197.7C740.5 198.1 740.5 198.8 740.4 199.3Z" fill="#fdc776" stroke="none" stroke-width="0" stroke-linejoin="round" stroke-linecap="round"/>
<path d="M649.4 187.2C649.5 187.7 650.2 188.5 649.7 188.8C649.2 189.1 647.5 188.9 646.6 188.9C645.6 188.9 644.8 188.8 643.9 188.6C643 188.4 641.7 188.1 641.3 187.6C640.9 187.2 641.1 186.3 641.7 186C642.2 185.6 643.6 185.6 644.4 185.5C645.3 185.3 646 185.1 646.8 185.1C647.6 185.2 648.7 185.5 649.1 185.9C649.6 186.2 649.3 186.7 649.4 187.2Z" fill="#fdb768" stroke="none" stroke-width="0" stroke-linejoin="round" stroke-linecap="round"/>
<path d="M707.3 190.4C707.3 190.7 706.2 191 705.1 191.2C704.1 191.5 702.8 191.6 701.2 191.7C699.6 191.7 696.6 191.8 695.5 191.5C694.3 191.3 694.8 190.6 694.3 190.2C693.7 189.8 692 189.3 692.3 189C692.6 188.7 694.7 188.3 696.2 188.3C697.7 188.2 699.5 188.6 701.1 188.7C702.7 188.9 704.6 188.9 705.7 189.2C706.7 189.5 707.4 190 707.3 190.4Z" fill="#fdb768" stroke="none" stroke-width="0" stroke-linejoin="round" stroke-linecap="round"/>
<path d="M669.3 200.3C669.4 200.6 668.6 201 667.8 201.2C667 201.3 665.8 201.1 664.6 201.2C663.5 201.2 661.8 201.6 660.8 201.5C659.8 201.3 659 200.7 658.6 200.3C658.2 199.9 657.7 199.3 658.2 199.1C658.8 198.8 660.9 198.9 662 198.9C663.1 198.8 664 198.6 664.8 198.7C665.7 198.8 666.2 199.2 667 199.4C667.7 199.7 669.2 200 669.3 200.3Z" fill="#f99153" stroke="none" stroke-width="0" stroke-linejoin="round" stroke-linecap="round"/>
<path d="M690.8 202.3C690.6 202.7 689 202.9 688 203.1C687 203.2 685.9 203.2 684.8 203.2C683.6 203.3 682.3 203.3 681.1 203.1C679.8 202.9 677.8 202.6 677.2 202.3C676.6 201.9 676.8 201.3 677.5 201.1C678.2 200.8 680.2 200.8 681.4 200.7C682.7 200.7 683.6 200.8 684.9 200.8C686.3 200.9 688.6 200.9 689.6 201.1C690.6 201.4 691.1 202 690.8 202.3Z" fill="#f67f4b" stroke="none" stroke-width="0" stroke-linejoin="round" stroke-linecap="round"/>
<path d="M719.2 204.4C719.3 204.7 718.9 205.2 717.8 205.4C716.8 205.5 714.3 205.3 712.9 205.2C711.5 205.1 710.6 205 709.2 204.9C707.9 204.7 705.4 204.5 704.8 204.2C704.2 203.9 704.9 203.4 705.7 203.2C706.5 203 708 203 709.3 202.8C710.6 202.7 712.2 202.2 713.6 202.3C715 202.3 716.8 202.9 717.8 203.3C718.7 203.6 719.2 204 719.2 204.4Z" fill="#f99153" stroke="none" stroke-width="0" stroke-linejoin="round" stroke-linecap="round"/>
<path d="M736.9 206.3C736.6 206.7 734.6 206.7 733.6 206.9C732.6 207.2 732.1 207.8 731.1 207.8C730.1 207.8 728.9 207.2 727.6 206.9C726.3 206.6 723.8 206.6 723.3 206.3C722.8 206 723.9 205.5 724.5 205.2C725.2 205 726.2 204.8 727.3 204.7C728.4 204.6 729.8 204.5 731.1 204.5C732.5 204.6 734.7 204.8 735.6 205.1C736.6 205.4 737.2 206 736.9 206.3Z" fill="#f67f4b" stroke="none" stroke-width="0" stroke-linejoin="round" stroke-linecap="round"/>
<path d="M630 184.8C630.7 184.6 632.7 184.3 634 183.8C635.3 183.3 636.7 181.6 638 181.6C639.3 181.6 640.7 183 642 183.6C643.3 184.2 644.7 184.4 646 184.9C647.3 185.4 648.7 185.9 650 186.3C651.3 186.8 652.7 187.3 654 187.6C655.3 187.9 656.7 188.8 658 188.3C659.3 187.8 660.7 184.9 662 184.5C663.3 184.1 664.7 185.8 666 185.8C667.3 185.8 668.7 184.2 670 184.4C671.3 184.7 672.7 186.9 674 187.3C675.3 187.7 676.7 186.4 678 186.9C679.3 187.4 680.7 190.3 682 190.5C683.3 190.7 684.7 188.4 686 188.1C687.3 187.8 688.7 189 690 188.5C691.3 188 692.7 185.5 694 185.1C695.3 184.7 696.7 185.4 698 186C699.3 186.6 700.7 188 702 188.4C703.3 188.8 704.7 188.2 706 188.4C707.3 188.6 708.7 189.3 710 189.6C711.3 189.9 712.7 190.3 714 190.4C715.3 190.5 716.7 190.5 718 189.9C719.3 189.3 720.7 187.4 722 186.9C723.3 186.4 724.7 186.4 726 186.7C727.3 187 728.7 187.7 730 188.6C731.3 189.5 732.7 192 734 192.3C735.3 192.6 736.7 190.7 738 190.6C739.3 190.5 740.7 191.9 742 191.7C743.3 191.5 745.3 189.9 746 189.6" fill="none" stroke="#c9c9c9" stroke-width="1.5" stroke-linejoin="round" stroke-linecap="round"/>
<path d="M630 186.1C630.7 186.6 632.7 188.2 634 189.1C635.3 189.9 636.7 190.9 638 191.2C639.3 191.5 640.7 191.3 642 191C643.3 190.7 644.7 189.7 646 189.1C647.3 188.5 648.7 187.8 650 187.5C651.3 187.2 652.7 187.5 654 187.4C655.3 187.3 656.7 186.5 658 187.1C659.3 187.7 660.7 190.3 662 191.1C663.3 191.9 664.7 191.9 666 191.9C667.3 191.9 668.7 191.4 670 191.2C671.3 191 672.7 191.1 674 190.7C675.3 190.3 676.7 189.1 678 188.7C679.3 188.3 680.7 188.2 682 188.2C683.3 188.2 684.7 188.1 686 188.7C687.3 189.3 688.7 190.9 690 191.6C691.3 192.3 692.7 192.7 694 192.9C695.3 193.1 696.7 193.2 698 192.8C699.3 192.4 700.7 190.5 702 190.2C703.3 189.9 704.7 190.9 706 190.8C707.3 190.7 708.7 189.7 710 189.8C711.3 189.9 712.7 190.7 714 191.2C715.3 191.7 716.7 192.2 718 192.9C719.3 193.6 720.7 195.4 722 195.4C723.3 195.4 724.7 193.5 726 193.1C727.3 192.7 728.7 193 730 193.1C731.3 193.2 732.7 193.7 734 193.5C735.3 193.3 736.7 192.5 738 192.2C739.3 191.9 740.7 191.2 742 191.6C743.3 192 745.3 194.2 746 194.7" fill="none" stroke="#c9c9c9" stroke-width="1.5" stroke-linejoin="round" stroke-linecap="round"/>
<path d="M630 192.6C630.7 192.7 632.7 193.9 634 193.4C635.3 192.9 636.7 190 638 189.7C639.3 189.4 640.7 191.5 642 191.6C643.3 191.7 644.7 190.4 646 190.3C647.3 190.2 648.7 190.3 650 191C651.3 191.7 652.7 194 654 194.6C655.3 195.2 656.7 194.7 658 194.8C659.3 194.9 660.7 195.3 662 195.1C663.3 194.9 664.7 193.9 666 193.5C667.3 193.1 668.7 192.7 670 192.4C671.3 192.1 672.7 191.3 674 191.7C675.3 192.1 676.7 194.4 678 194.7C679.3 195 680.7 193.1 682 193.5C683.3 193.9 684.7 196.5 686 196.9C687.3 197.3 688.7 196.5 690 195.9C691.3 195.3 692.7 193.4 694 193.1C695.3 192.8 696.7 193.9 698 193.9C699.3 193.9 700.7 192.8 702 192.9C703.3 193 704.7 193.9 706 194.6C707.3 195.3 708.7 197.1 710 197.3C711.3 197.6 712.7 196.3 714 196.1C715.3 195.9 716.7 196 718 196C719.3 196 720.7 196.4 722 195.9C723.3 195.4 724.7 193.2 726 193C727.3 192.8 728.7 194 730 194.6C731.3 195.2 732.7 196.2 734 196.7C735.3 197.2 736.7 197.2 738 197.4C739.3 197.6 740.7 197.4 742 197.7C743.3 198 745.3 198.9 746 199.1" fill="none" stroke="#c9c9c9" stroke-width="1.5" stroke-linejoin="round" stroke-linecap="round"/>
<path d="M630 196.6C630.7 196.6 632.7 196.4 634 196.5C635.3 196.6 636.7 197.2 638 197C639.3 196.8 640.7 196.1 642 195.3C643.3 194.5 644.7 192.7 646 192.4C647.3 192.1 648.7 193.2 650 193.5C651.3 193.8 652.7 193.8 654 194.2C655.3 194.5 656.7 195.1 658 195.6C659.3 196.1 660.7 196.9 662 197.3C663.3 197.8 664.7 198.4 666 198.3C667.3 198.2 668.7 197.7 670 196.9C671.3 196.1 672.7 194.1 674 193.7C675.3 193.2 676.7 193.8 678 194.2C679.3 194.6 680.7 195.5 682 196.4C683.3 197.3 684.7 199 686 199.5C687.3 200 688.7 199.5 690 199.6C691.3 199.7 692.7 200.5 694 199.9C695.3 199.3 696.7 196.3 698 196C699.3 195.7 700.7 198 702 197.9C703.3 197.8 704.7 195.6 706 195.7C707.3 195.8 708.7 197.5 710 198.4C711.3 199.3 712.7 200.4 714 200.9C715.3 201.4 716.7 201.6 718 201.3C719.3 201 720.7 199.5 722 199.2C723.3 198.9 724.7 199.7 726 199.4C727.3 199.1 728.7 198.1 730 197.6C731.3 197.1 732.7 196.2 734 196.4C735.3 196.6 736.7 198.1 738 198.8C739.3 199.5 740.7 199.8 742 200.4C743.3 201 745.3 202.1 746 202.4" fill="none" stroke="#c9c9c9" stroke-width="1.5" stroke-linejoin="round" stroke-linecap="round"/>
<path d="M630 197.4C630.7 197.3 632.7 197.1 634 196.8C635.3 196.5 636.7 195.6 638 195.6C639.3 195.6 640.7 196.1 642 196.9C643.3 197.7 644.7 199.8 646 200.4C647.3 201 648.7 200.7 650 200.4C651.3 200.1 652.7 199.2 654 198.7C655.3 198.2 656.7 197.2 658 197.3C659.3 197.4 660.7 198.8 662 199C663.3 199.2 664.7 198.3 666 198.3C667.3 198.3 668.7 198.7 670 199C671.3 199.3 672.7 199.3 674 200.1C675.3 200.8 676.7 203.2 678 203.5C679.3 203.8 680.7 202.4 682 202C683.3 201.6 684.7 201.4 686 200.8C687.3 200.2 688.7 198.9 690 198.6C691.3 198.2 692.7 198.4 694 198.7C695.3 199 696.7 200 698 200.4C699.3 200.8 700.7 200.8 702 201.3C703.3 201.9 704.7 203.5 706 203.7C707.3 203.9 708.7 202.8 710 202.6C711.3 202.4 712.7 203 714 202.6C715.3 202.2 716.7 200.5 718 200.2C719.3 199.8 720.7 200.2 722 200.5C723.3 200.8 724.7 201.2 726 202C727.3 202.8 728.7 204.7 730 205.1C731.3 205.5 732.7 204.2 734 204.2C735.3 204.2 736.7 205.3 738 205C739.3 204.7 740.7 202.7 742 202.2C743.3 201.7 745.3 202.2 746 202.2" fill="none" stroke="#c9c9c9" stroke-width="1.5" stroke-linejoin="round" stroke-linecap="round"/>
<path d="M630 201.5C630.7 201.1 632.7 198.9 634 198.8C635.3 198.7 636.7 200.6 638 201.1C639.3 201.6 640.7 201.8 642 202.1C643.3 202.4 644.7 202.5 646 203C647.3 203.5 648.7 205.2 650 205.2C651.3 205.2 652.7 203.2 654 202.8C655.3 202.4 656.7 202.9 658 202.6C659.3 202.3 660.7 201.4 662 201.2C663.3 200.9 664.7 201.1 666 201.1C667.3 201.1 668.7 200.9 670 201.4C671.3 201.9 672.7 203.7 674 204.2C675.3 204.7 676.7 204.5 678 204.5C679.3 204.5 680.7 204.4 682 204.4C683.3 204.4 684.7 205.1 686 204.7C687.3 204.2 688.7 201.9 690 201.7C691.3 201.4 692.7 202.7 694 203.2C695.3 203.7 696.7 204.3 698 204.6C699.3 204.9 700.7 204.7 702 205C703.3 205.3 704.7 206.3 706 206.3C707.3 206.3 708.7 205 710 204.9C711.3 204.8 712.7 206.3 714 206C715.3 205.7 716.7 203.4 718 203C719.3 202.6 720.7 203.4 722 203.7C723.3 204 724.7 204.2 726 204.9C727.3 205.6 728.7 207.4 730 208.1C731.3 208.8 732.7 209.1 734 209.1C735.3 209.1 736.7 208.3 738 207.9C739.3 207.5 740.7 207.1 742 206.4C743.3 205.7 745.3 204.3 746 203.9" fill="none" stroke="#c9c9c9" stroke-width="1.5" stroke-linejoin="round" stroke-linecap="round"/>
<path d="M630 204.6C630.7 204.8 632.7 205.7 634 205.7C635.3 205.7 636.7 204.9 638 204.7C639.3 204.5 640.7 204.7 642 204.5C643.3 204.3 644.7 204 646 203.8C647.3 203.7 648.7 203.1 650 203.6C651.3 204.1 652.7 206.2 654 207.1C655.3 207.9 656.7 208.9 658 208.7C659.3 208.5 660.7 206.3 662 206C663.3 205.7 664.7 207.2 666 207.1C667.3 207 668.7 205.7 670 205.2C671.3 204.7 672.7 204.3 674 204.3C675.3 204.3 676.7 204.9 678 205.3C679.3 205.7 680.7 205.8 682 206.5C683.3 207.2 684.7 208.7 686 209.2C687.3 209.7 688.7 209.3 690 209.4C691.3 209.5 692.7 209.9 694 209.7C695.3 209.5 696.7 208.6 698 208.3C699.3 208 700.7 208 702 207.7C703.3 207.4 704.7 206.1 706 206.4C707.3 206.7 708.7 208.7 710 209.4C711.3 210.1 712.7 210.1 714 210.4C715.3 210.7 716.7 211 718 211.1C719.3 211.2 720.7 211.9 722 211.2C723.3 210.5 724.7 207.5 726 206.9C727.3 206.3 728.7 207.2 730 207.4C731.3 207.6 732.7 207.3 734 207.8C735.3 208.3 736.7 209.8 738 210.2C739.3 210.6 740.7 209.9 742 210.4C743.3 210.9 745.3 212.9 746 213.4" fill="none" stroke="#c9c9c9" stroke-width="1.5" stroke-linejoin="round" stroke-linecap="round"/>
<path d="M630 207.3C630.7 207 632.7 205.5 634 205.3C635.3 205.1 636.7 205.4 638 205.9C639.3 206.4 640.7 207.8 642 208.1C643.3 208.4 644.7 207.5 646 207.7C647.3 207.9 648.7 208.7 650 209.2C651.3 209.7 652.7 210.7 654 210.8C655.3 210.9 656.7 209.9 658 209.6C659.3 209.2 660.7 209.2 662 208.7C663.3 208.2 664.7 206.7 666 206.8C667.3 207 668.7 208.9 670 209.6C671.3 210.3 672.7 210.6 674 211.1C675.3 211.6 676.7 212.7 678 212.6C679.3 212.5 680.7 210.9 682 210.6C683.3 210.3 684.7 211 686 210.6C687.3 210.2 688.7 208 690 207.9C691.3 207.8 692.7 209.6 694 210.2C695.3 210.8 696.7 210.9 698 211.3C699.3 211.8 700.7 212.9 702 212.9C703.3 212.9 704.7 211.5 706 211.5C707.3 211.5 708.7 212.7 710 212.8C711.3 212.9 712.7 212.6 714 212.3C715.3 212 716.7 211.5 718 211C719.3 210.5 720.7 209 722 209.2C723.3 209.4 724.7 211.6 726 212.1C727.3 212.6 728.7 211.9 730 212.3C731.3 212.7 732.7 214.2 734 214.4C735.3 214.6 736.7 213.6 738 213.5C739.3 213.4 740.7 214.3 742 213.9C743.3 213.5 745.3 211.6 746 211.2" fill="none" stroke="#c9c9c9" stroke-width="1.5" stroke-linejoin="round" stroke-linecap="round"/>
</g>
<path d="M371.3 200C375.4 195.1 380.7 200.8 384.7 200.7C388.7 200.6 392.2 199.8 395.3 199.3C398.4 198.9 401.3 197.9 403.3 198C405.3 198.1 405.7 198.2 407.3 200C408.9 201.8 411.4 205.9 412.7 208.7C414 211.5 414 215.8 415.3 216.7C416.6 217.6 419.1 215.3 420.7 214C422.3 212.7 423.1 210 424.7 208.7C426.2 207.4 428.9 207.3 430 206C431.1 204.7 430.2 201.6 431.3 200.7C432.4 199.8 435.4 199.6 436.7 200.7C438 201.8 438.2 205.3 439.3 207.3C440.4 209.3 441.7 211.1 443.3 212.7C444.9 214.3 447.4 216.5 448.7 216.7C450 216.9 450 215.3 451.3 214C452.6 212.7 454.8 208.8 456.7 208.7C458.6 208.6 463.8 210.7 463 213.6C462.2 216.5 455.2 222.1 452 226C448.8 229.9 443.3 233.8 443.6 236.8C443.9 239.8 450.4 243.8 454 244C457.6 244.2 461.4 240.1 465 238C468.6 235.9 473 234.3 475.7 231.4C478.4 228.5 478 223.4 481 220.7C484 218 490 216.9 493.6 215.4C497.2 213.9 499.5 211.2 502.5 211.8C505.5 212.4 509.3 217.4 511.4 219C513.5 220.6 514.1 220.7 515 221.6C515.9 222.5 514.7 223.2 517 224.3C519.3 225.4 524 226.6 529 227.9C534 229.2 541.8 231.8 547 232.3C552.2 232.8 555.8 230.9 560 231C564.2 231.1 569.7 231.3 572 233C574.3 234.7 571.7 239 574 241C576.3 243 581.7 244 586 245C590.3 246 596 245.7 600 247C604 248.3 606.7 251.7 610 253C613.3 254.3 615.7 256 620 255C624.3 254 633.7 249.7 636 247C638.3 244.3 635.7 242 634 239C632.3 236 628.3 231.7 626 229C623.7 226.3 620 224.2 620 223C620 221.8 623.3 221.7 626 222C628.7 222.3 633.7 226.2 636 225C638.3 223.8 640 217.3 640 215C640 212.7 635.3 212.7 636 211C636.7 209.3 641.3 206.2 644 205C646.7 203.8 648.7 203.7 652 204C655.3 204.3 660.7 205.2 664 207C667.3 208.8 669.3 212.7 672 215C674.7 217.3 677 220.3 680 221C683 221.7 686.7 219.7 690 219C693.3 218.3 697 216.7 700 217C703 217.3 705.3 220 708 221C710.7 222 713 222.3 716 223C719 223.7 723 226.3 726 225C729 223.7 730.8 217.2 734 215C737.2 212.8 743.2 197.8 745 212C746.8 226.2 742.5 285.3 745 300C747.5 314.7 757.5 233.3 760 300C762.5 366.7 836.7 633.3 760 700C683.3 766.7 376.7 775 300 700C223.3 625 290 328.3 300 250C310 171.7 348.1 238.3 360 230C371.9 221.7 367.2 204.9 371.3 200Z" fill="#9e0142" clip-path="url(#ibclip)"/>
<path d="M489 497 L497 492 L506 490 L511 495 L515 505 L522.5 512.5 L530 517.5 L540 521 L557.5 521 L575 520 L587.5 519.5 L600 512.5 L605 520 L625 522.5 L642.5 521 L655 515 L667.5 505 L675 495 L687.5 490 L697.5 486 L710 482.5 L717.5 477.5 L725 471 L733.2 466 L745 462 L745 625 L382.5 625 L390 612.5 L405 605 L425 597.5 L445 585 L460 570 L472.5 550 L480 532.5 L485 513.8 L488 503Z" fill="#9e0142"/>
<rect x="733.3" y="586" width="3" height="40" fill="#fff"/>
<path d="M372.2 200.3C372.4 202.1 373.9 206.8 375 210.5C376.2 214.1 378.2 218.6 379.2 222.2C380.1 225.8 380.6 229.2 381 232.2C381.4 235.2 381.2 236.4 381.3 240.4C381.5 244.4 381.2 251 381.7 256.1C382.2 261.2 383.7 266.4 384.4 271C385.1 275.6 385.8 279.2 385.9 283.6C386 288.1 385.8 293 384.8 297.7C383.8 302.4 381.4 307.1 379.8 311.6C378.2 316.2 377.3 320.6 375.1 325.2C373 329.7 368.8 334.1 366.8 338.9C364.7 343.7 363.6 349.1 362.6 353.9C361.6 358.7 361.5 364 360.7 367.8C359.8 371.6 357.5 374.6 357.7 376.6C357.8 378.5 359.2 380.2 361.5 379.5C363.7 378.8 368.9 376.1 371.2 372.4C373.5 368.7 374.1 362.2 375.4 357.4C376.7 352.5 377.3 348.2 379 343.5C380.7 338.7 383.7 333.9 385.3 329C386.9 324.1 387.4 319.2 388.5 314.3C389.6 309.3 390.7 304.4 392 299.4C393.3 294.4 395.5 289.4 396.2 284.3C396.9 279.3 397.2 274.1 396.3 269.1C395.3 264 392.3 259 390.6 254C388.8 249.1 386.9 243.3 385.6 239.6C384.4 235.9 384 234.7 383.2 231.8C382.5 228.8 381.9 225.4 380.9 221.8C380 218.1 378.7 213.3 377.5 209.7C376.3 206 374.5 201.3 373.6 199.8C372.7 198.2 371.9 198.5 372.2 200.3Z" fill="#c8c8c8"/>
<path d="M360 379.5C361.5 380.5 366.2 383.5 369 385.5C371.8 387.5 374.8 389.6 377 391.5C379.2 393.4 381.6 396.1 382.5 397" fill="none" stroke="#c8c8c8" stroke-width="3" stroke-linejoin="round" stroke-linecap="round"/>
<path d="M381.3 397.3C381 399.1 382.7 403.4 382.7 407.1C382.6 410.8 381.3 415.9 381 419.8C380.8 423.7 381.5 427.5 381.1 430.6C380.8 433.7 379.7 436 379.1 438.3C378.4 440.6 376.8 443.1 377.1 444.4C377.3 445.7 379.6 446.6 380.6 445.9C381.6 445.1 382.1 442.1 383 439.7C383.9 437.3 385.2 434.6 385.8 431.4C386.5 428.1 386.5 424.3 386.9 420.2C387.2 416.1 388.2 410.8 387.8 406.9C387.5 402.9 386 398.2 384.9 396.6C383.9 395 381.7 395.6 381.3 397.3Z" fill="#c8c8c8"/>
<path d="M374 196C375.3 194.7 379 190.5 382 188C385 185.5 388.7 183.3 392 181C395.3 178.7 399.2 176 402 174C404.8 172 407.8 169.8 409 169" fill="none" stroke="#c8c8c8" stroke-width="7" stroke-linejoin="round" stroke-linecap="round"/>
<path d="M409 169C411.7 169.2 420.3 169.4 425 170.5C429.7 171.6 432 174.3 437 175.5C442 176.7 450.3 177.3 455 177.5C459.7 177.7 460 176.8 465 176.5C470 176.2 479.2 175.8 485 176C490.8 176.2 495 177.2 500 178C505 178.8 510 180.1 515 181C520 181.9 524.2 183.4 530 183.5C535.8 183.6 545 181.9 550 181.5C555 181.1 554.3 181.2 560 181C565.7 180.8 575.7 179.7 584 180C592.3 180.3 603 183.3 610 183C617 182.7 622.2 180.3 626 178C629.8 175.7 631.8 170.5 633 169" fill="none" stroke="#c8c8c8" stroke-width="5.5" stroke-linejoin="round" stroke-linecap="round"/>
<path d="M610 183C612 182.6 618.5 181.8 622 180.5C625.5 179.2 628.8 177.4 631 175C633.2 172.6 634.8 167.5 635.5 166" fill="none" stroke="#c8c8c8" stroke-width="6" stroke-linejoin="round" stroke-linecap="round"/>
<path d="M636.5 170.8C638 169.1 639.3 163.1 640.7 158.7C642.2 154.4 644.3 149.5 645.3 144.8C646.3 140 646.3 135.2 646.6 130.4C646.9 125.6 647.3 120.8 647.2 116C647 111.2 646.8 105.9 645.9 101.5C645.1 97.1 642.5 92.9 642.1 89.6C641.7 86.3 643.8 85.2 643.8 81.9C643.7 78.7 641.9 74 641.8 70.1C641.8 66.2 644.3 60.5 643.7 58.4C643.1 56.3 639.7 55.6 638.3 57.5C636.8 59.4 635.2 65.7 635 69.8C634.8 73.9 636.8 78.6 636.9 82.1C637.1 85.5 635.4 87.1 635.8 90.6C636.3 94 638.8 98.3 639.6 102.6C640.4 106.8 640.6 111.5 640.6 116C640.5 120.5 640 125.1 639.4 129.6C638.8 134.2 637.9 138.7 637 143.3C636.1 147.8 635 152.6 634.1 156.9C633.2 161.3 631.3 166.9 631.7 169.2C632.1 171.5 635 172.6 636.5 170.8Z" fill="#c8c8c8"/>
<path d="M631 60C631.8 61.3 634.3 65.3 636 68C637.7 70.7 639.2 73 641 76C642.8 79 644.8 82.7 647 86C649.2 89.3 652.2 93.2 654 96C655.8 98.8 657.3 101.8 658 103" fill="none" stroke="#c8c8c8" stroke-width="3.2" stroke-linejoin="round" stroke-linecap="round"/>
<path d="M634 62C635 63.7 638 68.7 640 72C642 75.3 644 78.7 646 82C648 85.3 651 90.3 652 92" fill="none" stroke="#9a9a9a" stroke-width="1.6" stroke-linejoin="round" stroke-linecap="round"/>
<path d="M380 443.5C385.7 444.1 406.2 447.1 414 447C421.8 446.9 422.5 444 427 443C431.5 442 438.7 441.3 441 441" fill="none" stroke="#c8c8c8" stroke-width="3" stroke-linejoin="round" stroke-linecap="round"/>
<path d="M466 449C467.3 450.3 473 454.8 474 457C475 459.2 471 459.5 472 462C473 464.5 478 469.3 480 472C482 474.7 481.8 475.8 484 478C486.2 480.2 490.3 483.2 493 485C495.7 486.8 498.8 488.3 500 489" fill="none" stroke="#c8c8c8" stroke-width="4" stroke-linejoin="round" stroke-linecap="round"/>
<path d="M499.8 491.1C501.6 491 505.9 489.6 508.6 488C511.3 486.3 513.3 483.6 515.9 481.1C518.5 478.6 521.3 475.3 524.2 473.1C527.2 470.9 530.5 469.6 533.6 468.2C536.8 466.7 539.2 465.3 542.9 464.3C546.5 463.3 551.2 462.4 555.4 462C559.6 461.6 563.9 461.6 568 461.7C572.1 461.8 574.8 462.6 580.2 462.3C585.6 462.1 594.7 461.1 600.5 460C606.4 458.9 610.2 456 615.2 455.7C620.2 455.5 626.7 458.9 630.6 458.4C634.6 457.8 637 455.3 639 452.3C641 449.4 641 444 642.7 440.9C644.4 437.8 646.6 435.9 649 433.6C651.3 431.3 654 429 656.8 427.1C659.5 425.1 662.4 422.9 665.5 421.8C668.7 420.7 674 421.6 675.5 420.5C677 419.3 676.2 415.3 674.4 414.8C672.5 414.2 667.7 416.3 664.2 417.3C660.7 418.3 656.6 418.8 653.1 420.8C649.7 422.7 646.1 425.9 643.5 428.8C640.9 431.7 639.4 435.1 637.6 438.2C635.9 441.4 634.5 445.5 633.2 447.8C631.8 450 632.7 451.2 629.7 451.6C626.6 452.1 619.8 450.3 614.8 450.4C609.7 450.6 605.2 451.9 599.4 452.6C593.6 453.4 585.1 454.6 579.8 454.9C574.6 455.2 572.2 454.4 568 454.4C563.8 454.5 559.1 454.6 554.6 455.2C550.1 455.7 545.2 456.9 541.2 457.8C537.1 458.6 533.7 458.7 530 460.2C526.4 461.6 522.8 464 519.4 466.4C516 468.7 512.2 471.7 509.6 474.3C506.9 476.9 505.4 479.6 503.4 482C501.4 484.3 498.3 486.7 497.7 488.2C497.1 489.7 497.9 491.1 499.8 491.1Z" fill="#c8c8c8"/>
<path d="M546.6 450C547.1 450.6 546.6 452.1 545.9 452.9C545.1 453.8 543.5 454.5 542.1 455.1C540.7 455.7 538.9 456.5 537.6 456.5C536.4 456.5 535.2 455.7 534.5 455.1C533.9 454.4 533.3 453.4 533.7 452.6C534.1 451.8 535.7 450.8 536.7 450.3C537.8 449.7 538.9 449.4 540 449.2C541 449.1 541.9 449 543 449.1C544.1 449.3 546.1 449.3 546.6 450Z" fill="#c8c8c8" stroke="none" stroke-width="1.2" stroke-linejoin="round" stroke-linecap="round"/>
<path d="M556.6 449.9C556.5 450.4 555.4 450.7 554.7 451.1C554 451.6 553.3 452.6 552.3 452.6C551.3 452.6 549.9 451.7 548.9 451.1C548 450.5 547.2 449.8 546.9 449.1C546.6 448.4 546.8 447.5 547.3 446.9C547.8 446.4 548.9 445.8 549.9 445.7C550.9 445.6 552.6 445.9 553.4 446.3C554.3 446.7 554.6 447.5 555.1 448.2C555.6 448.8 556.6 449.4 556.6 449.9Z" fill="#c8c8c8" stroke="none" stroke-width="1.2" stroke-linejoin="round" stroke-linecap="round"/>
<path d="M533 456.2C533.5 456.7 533.3 458 532.8 458.8C532.3 459.7 531.1 460.6 530.2 461.2C529.2 461.8 528.1 462.3 527 462.5C526 462.7 524.5 462.8 524.1 462.4C523.6 462 524.4 460.8 524.4 460.1C524.4 459.3 523.6 458.4 524.2 457.8C524.7 457.2 526.5 456.6 527.4 456.4C528.4 456.1 529 456.2 529.9 456.2C530.9 456.2 532.6 455.8 533 456.2Z" fill="#c8c8c8" stroke="none" stroke-width="1.2" stroke-linejoin="round" stroke-linecap="round"/>
<path d="M569.5 452C569.5 452.6 569.9 453.4 569.4 453.8C568.9 454.1 567.5 454 566.6 454.1C565.6 454.2 564.6 454.6 563.8 454.4C562.9 454.3 561.6 453.6 561.3 453.1C561.1 452.5 561.8 451.7 562.3 451.1C562.7 450.6 563.4 450.2 564.1 450C564.9 449.7 565.8 449.5 566.7 449.6C567.6 449.6 568.9 449.8 569.3 450.2C569.8 450.7 569.5 451.4 569.5 452Z" fill="#c8c8c8" stroke="none" stroke-width="1.2" stroke-linejoin="round" stroke-linecap="round"/>
<path d="M536 452C536 451.2 539.3 449.2 541 449C542.7 448.8 546 450.2 546 451C546 451.8 542.7 453.8 541 454C539.3 454.2 536 452.8 536 452Z" fill="#c72e4c" stroke="none" stroke-width="0" stroke-linejoin="round" stroke-linecap="round"/>
<path d="M675 418C675.2 416.7 676.5 413 676 410C675.5 407 671.8 403.3 672 400C672.2 396.7 674.9 393.7 677 390C679.1 386.3 681.2 380.4 684.5 378C687.8 375.6 693.8 376.8 697 375.5C700.2 374.2 702.8 370.9 704 370" fill="none" stroke="#c8c8c8" stroke-width="4" stroke-linejoin="round" stroke-linecap="round"/>
<path d="M704 369C703 367.7 700.2 364 698 361C695.8 358 693 354.3 691 351C689 347.7 686.5 343.7 686 341C685.5 338.3 686.8 337.9 688 335C689.2 332.1 691 327.8 693 323.6C695 319.4 697.5 313.9 700 310C702.5 306.1 706.7 301.7 708 300" fill="none" stroke="#c8c8c8" stroke-width="5" stroke-linejoin="round" stroke-linecap="round"/>
<path d="M708 300C709.2 298 712.7 291.8 715 288C717.3 284.2 719.3 280.7 722 277C724.7 273.3 729.5 267.8 731 266" fill="none" stroke="#c8c8c8" stroke-width="3" stroke-linejoin="round" stroke-linecap="round"/>
<path d="M490.7 502.7C492.5 502.9 496 499.7 498.5 498.6C500.9 497.5 504 495.7 505.3 496C506.7 496.3 505.6 498.1 506.5 500.3C507.3 502.5 508.4 506.6 510.5 509.3C512.6 512 516.1 514.2 518.9 516.6C521.8 519.1 524.4 522 527.8 523.9C531.2 525.9 534.2 527.6 539.2 528.4C544.2 529.2 551.5 528.7 557.6 528.5C563.6 528.4 570.1 527.7 575.3 527.4C580.5 527.1 585 527.9 588.9 526.8C592.8 525.8 596.7 522.8 598.6 521C600.4 519.1 599.6 515.8 599.8 515.7C599.9 515.6 598.6 518.6 599.4 520.4C600.2 522.2 600.5 525.2 604.8 526.7C609 528.1 618.4 529 624.9 529.2C631.4 529.5 638.1 529.4 643.5 528.1C648.9 526.8 652.5 524.1 657.2 521.4C661.9 518.7 668.1 515.3 671.5 512C675 508.8 674.9 504.3 677.9 501.9C680.9 499.5 685.9 499.3 689.4 497.6C692.8 496 694.9 493.6 698.5 492.1C702.2 490.6 708 490.3 711.4 488.7C714.7 487 716.3 484.3 718.8 482.3C721.4 480.2 724.1 478.4 726.7 476.3C729.4 474.1 733.9 471 734.9 469.3C735.9 467.6 734.7 465.8 732.8 466.3C730.9 466.7 726.4 470.1 723.5 472C720.6 473.9 717.8 475.8 715.4 477.7C713 479.6 712.4 482.3 709.1 483.4C705.9 484.5 699.8 483.3 695.9 484.2C692 485.1 689.7 487 685.8 488.8C681.9 490.6 676.1 492 672.6 494.8C669.1 497.6 668.4 502.3 665 505.5C661.6 508.7 656.2 511.5 652.3 513.7C648.3 516 645.8 517.9 641.2 518.9C636.7 520 630.8 519.7 625.2 519.8C619.5 520 610.1 520.5 607.1 519.8C604.1 519 608 516.8 606.9 515.4C605.8 513.9 602.6 511.5 600.4 511.1C598.2 510.8 595.8 511.8 593.5 513.1C591.2 514.4 589.7 517.8 586.6 518.9C583.5 520 579.6 519.4 574.8 519.5C569.9 519.6 563.1 519.6 557.4 519.6C551.7 519.6 544.8 520.4 540.6 519.6C536.4 518.8 535.1 516.5 532.2 515C529.4 513.6 526.1 512.5 523.4 510.9C520.7 509.3 517.9 507.9 516.3 505.5C514.6 503.1 515.1 498.9 513.5 496.3C511.9 493.6 509.6 490.3 506.7 489.7C503.8 489.1 499.3 491.5 496.1 492.8C492.9 494.1 488.4 496 487.5 497.6C486.6 499.3 488.9 502.5 490.7 502.7Z" fill="#c8c8c8"/>
<path d="M488 501C487.4 503.2 485.9 508.8 484.5 514C483.1 519.2 481.6 526.1 479.5 532C477.4 537.9 475.3 543.2 472 549.5C468.7 555.8 464.1 563.7 459.5 569.5C454.9 575.3 450.3 579.9 444.5 584.5C438.7 589.1 431.2 593.7 424.5 597C417.8 600.3 410.3 602 404.5 604.5C398.7 607 392 610.8 389.5 612" fill="none" stroke="#c8c8c8" stroke-width="6" stroke-linejoin="round" stroke-linecap="round"/>
<path d="M463 212C460.7 213.7 458.3 217.2 456 220C453.7 222.8 451.1 226.2 449 229C446.9 231.8 443.9 234.6 443.6 236.8C443.3 239.1 445.3 241.2 447 242.5C448.7 243.8 451 245.1 454 244.5C457 243.9 461.4 241.1 465 239C468.6 236.9 473 234.9 475.7 232C478.4 229.1 478.9 224 481 221.5C483.1 219 488.2 218.4 488 217C487.8 215.6 483 214.2 480 213C477 211.8 472.8 210.2 470 210C467.2 209.8 465.3 210.3 463 212Z" fill="#c72e4c" stroke="#c8c8c8" stroke-width="2.4" stroke-linejoin="round" stroke-linecap="round"/>
<path d="M461 217C458.3 218.8 456.2 222.8 454 226C451.8 229.2 448.3 233.6 448 236C447.7 238.4 449.5 240.7 452 240.5C454.5 240.3 459.5 237.1 463 235C466.5 232.9 470.5 230.5 473 228C475.5 225.5 478.5 222.2 478 220C477.5 217.8 472.8 215.5 470 215C467.2 214.5 463.7 215.2 461 217Z" fill="#e95c47" stroke="#c8c8c8" stroke-width="1.8" stroke-linejoin="round" stroke-linecap="round"/>
<path d="M459 222C456.7 224.2 453.5 229.5 453 232C452.5 234.5 454 237.2 456 237C458 236.8 462.3 233.2 465 231C467.7 228.8 471.7 226 472 224C472.3 222 469.2 219.3 467 219C464.8 218.7 461.3 219.8 459 222Z" fill="#f67f4b" stroke="#c8c8c8" stroke-width="1.6" stroke-linejoin="round" stroke-linecap="round"/>
<path d="M458 227C456.3 228.5 455.2 232.7 456 233C456.8 233.3 461.3 230.5 463 229C464.7 227.5 466.8 224.3 466 224C465.2 223.7 459.7 225.5 458 227Z" fill="#e95c47" stroke="#c8c8c8" stroke-width="1.3" stroke-linejoin="round" stroke-linecap="round"/>
<path d="M446 239.1C446.7 238.8 448.7 238.3 450 237.5C451.3 236.7 452.7 235.5 454 234.4C455.3 233.3 456.7 232.1 458 230.9C459.3 229.7 460.7 228.2 462 227.3C463.3 226.5 464.7 226.6 466 225.8C467.3 225.1 468.7 223.9 470 222.8C471.3 221.7 472.7 220.1 474 219C475.3 217.9 477.3 216.5 478 216" fill="none" stroke="#c8c8c8" stroke-width="1.4" stroke-linejoin="round" stroke-linecap="round"/>
<path d="M448.2 235.8C448.9 235.2 450.9 233.1 452.2 232.2C453.5 231.3 454.9 230.9 456.2 230.2C457.5 229.4 458.9 228.8 460.2 227.7C461.5 226.6 462.9 224.3 464.2 223.4C465.5 222.5 466.9 223.2 468.2 222.3C469.5 221.4 470.9 219.1 472.2 217.8C473.5 216.6 474.9 215.9 476.2 214.8C477.5 213.7 479.5 211.9 480.2 211.3" fill="none" stroke="#c8c8c8" stroke-width="1.4" stroke-linejoin="round" stroke-linecap="round"/>
<path d="M450.4 234.3C451.1 233.7 453.1 231.7 454.4 230.6C455.7 229.5 457.1 229.1 458.4 228C459.7 226.9 461.1 225.7 462.4 224.3C463.7 222.9 465.1 220.9 466.4 219.8C467.7 218.7 469.1 218.4 470.4 217.6C471.7 216.8 473.1 216.1 474.4 215C475.7 213.9 477.1 211.8 478.4 211C479.7 210.2 481.7 210.3 482.4 210.2" fill="none" stroke="#c8c8c8" stroke-width="1.4" stroke-linejoin="round" stroke-linecap="round"/>
<path d="M452.6 229.2C453.3 228.6 455.3 226.4 456.6 225.6C457.9 224.8 459.3 225.3 460.6 224.3C461.9 223.3 463.3 220.4 464.6 219.5C465.9 218.6 467.3 219.4 468.6 218.6C469.9 217.8 471.3 215.6 472.6 214.4C473.9 213.2 475.3 212.7 476.6 211.6C477.9 210.5 479.3 209.1 480.6 208.1C481.9 207.1 483.9 205.9 484.6 205.5" fill="none" stroke="#c8c8c8" stroke-width="1.4" stroke-linejoin="round" stroke-linecap="round"/>
<path d="M556 228C557.7 231.2 569 230.8 572 233C575 235.2 571.7 239 574 241C576.3 243 581.7 244 586 245C590.3 246 596 245.7 600 247C604 248.3 606.7 251.7 610 253C613.3 254.3 615.7 256 620 255C624.3 254 633.7 249.7 636 247C638.3 244.3 635.7 242 634 239C632.3 236 628.3 231.7 626 229C623.7 226.3 622 225.5 620 223C618 220.5 617.3 216.5 614 214C610.7 211.5 605.7 209 600 208C594.3 207 586.3 207 580 208C573.7 209 566 210.7 562 214C558 217.3 554.3 224.8 556 228Z" fill="#d7414e" stroke="#c8c8c8" stroke-width="2" stroke-linejoin="round" stroke-linecap="round"/>
<path d="M562 222C563 224.3 571 227.3 574 230C577 232.7 577 236.2 580 238C583 239.8 588 240.2 592 241C596 241.8 600.3 241.7 604 243C607.7 244.3 611 247.8 614 249C617 250.2 619.3 250.7 622 250C624.7 249.3 629 247 630 245C631 243 629.7 240.8 628 238C626.3 235.2 622.7 231.2 620 228C617.3 224.8 615.7 221.5 612 219C608.3 216.5 603.3 214 598 213C592.7 212 585 212.5 580 213C575 213.5 571 214.5 568 216C565 217.5 561 219.7 562 222Z" fill="#e95c47" stroke="#c8c8c8" stroke-width="1.6" stroke-linejoin="round" stroke-linecap="round"/>
<path d="M570 221C570 223.2 576.7 226.7 580 229C583.3 231.3 586.3 233.5 590 235C593.7 236.5 598 236.5 602 238C606 239.5 610.7 243 614 244C617.3 245 620.3 245 622 244C623.7 243 625 240.7 624 238C623 235.3 619 231 616 228C613 225 609.7 222 606 220C602.3 218 598.3 216.7 594 216C589.7 215.3 584 215.2 580 216C576 216.8 570 218.8 570 221Z" fill="#f67f4b" stroke="#c8c8c8" stroke-width="1.5" stroke-linejoin="round" stroke-linecap="round"/>
<path d="M578 221C577.7 222.5 584.3 226 588 228C591.7 230 596 231.3 600 233C604 234.7 609 237.2 612 238C615 238.8 618 239.5 618 238C618 236.5 614.7 231.7 612 229C609.3 226.3 605.7 223.7 602 222C598.3 220.3 594 219.2 590 219C586 218.8 578.3 219.5 578 221Z" fill="#fca55d" stroke="#c8c8c8" stroke-width="1.4" stroke-linejoin="round" stroke-linecap="round"/>
<path d="M590 223C590.7 224 597 226.5 600 228C603 229.5 607.3 232.3 608 232C608.7 231.7 606 227.7 604 226C602 224.3 598.3 222.5 596 222C593.7 221.5 589.3 222 590 223Z" fill="#f67f4b" stroke="#c8c8c8" stroke-width="1.2" stroke-linejoin="round" stroke-linecap="round"/>
<path d="M560 215.2C560.7 215.5 562.7 217 564 217.3C565.3 217.6 566.7 216.3 568 216.9C569.3 217.5 570.7 219.8 572 220.7C573.3 221.6 574.7 221.4 576 222.3C577.3 223.2 578.7 225.4 580 226.2C581.3 226.9 582.7 226.8 584 226.8C585.3 226.9 586.7 226.4 588 226.5C589.3 226.6 590.7 226.9 592 227.3C593.3 227.7 594.7 228.2 596 229C597.3 229.8 598.7 231.6 600 232.3C601.3 233 602.7 232.8 604 233.3C605.3 233.8 606.7 234.7 608 235.2C609.3 235.7 610.7 236.2 612 236.2C613.3 236.2 614.7 234.7 616 235.1C617.3 235.5 618.7 237.5 620 238.6C621.3 239.7 622.7 240.7 624 241.4C625.3 242.1 627.3 242.7 628 243" fill="none" stroke="#c8c8c8" stroke-width="1.4" stroke-linejoin="round" stroke-linecap="round"/>
<path d="M560 218.7C560.7 218.9 562.7 218.9 564 219.8C565.3 220.7 566.7 223 568 223.9C569.3 224.8 570.7 224.9 572 225.3C573.3 225.7 574.7 226.1 576 226.4C577.3 226.7 578.7 226.8 580 227.2C581.3 227.6 582.7 228.2 584 228.7C585.3 229.2 586.7 229.9 588 230.3C589.3 230.8 590.7 230.7 592 231.4C593.3 232.1 594.7 233.5 596 234.4C597.3 235.3 598.7 236.2 600 236.8C601.3 237.4 602.7 238.1 604 238.2C605.3 238.2 606.7 237 608 237.1C609.3 237.2 610.7 238 612 238.6C613.3 239.2 614.7 239.6 616 240.4C617.3 241.2 618.7 242.6 620 243.4C621.3 244.2 622.7 244.5 624 245C625.3 245.5 627.3 246 628 246.2" fill="none" stroke="#c8c8c8" stroke-width="1.4" stroke-linejoin="round" stroke-linecap="round"/>
<path d="M560 223.9C560.7 223.9 562.7 223.2 564 223.7C565.3 224.2 566.7 225.9 568 226.8C569.3 227.7 570.7 228.4 572 229C573.3 229.6 574.7 230.2 576 230.6C577.3 231 578.7 230.8 580 231.2C581.3 231.6 582.7 232.7 584 233.1C585.3 233.5 586.7 233.5 588 233.8C589.3 234.1 590.7 234.2 592 235C593.3 235.8 594.7 237.7 596 238.7C597.3 239.7 598.7 240.4 600 241.1C601.3 241.8 602.7 242.4 604 242.7C605.3 243 606.7 243.1 608 243C609.3 242.9 610.7 241.7 612 242.1C613.3 242.5 614.7 244.3 616 245.3C617.3 246.3 618.7 247.3 620 248.1C621.3 248.9 622.7 249.2 624 249.9C625.3 250.6 627.3 251.7 628 252" fill="none" stroke="#c8c8c8" stroke-width="1.4" stroke-linejoin="round" stroke-linecap="round"/>
<path d="M560 226.2C560.7 226.5 562.7 227.2 564 228.3C565.3 229.4 566.7 232 568 232.8C569.3 233.6 570.7 233 572 233.2C573.3 233.4 574.7 233.5 576 233.9C577.3 234.3 578.7 235.3 580 235.7C581.3 236.1 582.7 236 584 236.3C585.3 236.6 586.7 236.8 588 237.6C589.3 238.4 590.7 240.7 592 241.4C593.3 242.1 594.7 241.6 596 242C597.3 242.4 598.7 243.5 600 243.8C601.3 244.1 602.7 243.8 604 244C605.3 244.2 606.7 244.4 608 244.7C609.3 245 610.7 245.1 612 245.7C613.3 246.3 614.7 247.3 616 248.3C617.3 249.3 618.7 250.6 620 251.7C621.3 252.8 622.7 254 624 254.6C625.3 255.2 627.3 255.1 628 255.2" fill="none" stroke="#c8c8c8" stroke-width="1.4" stroke-linejoin="round" stroke-linecap="round"/>
<path d="M491 314.4C492.2 315.1 493.5 313.6 496.2 313.1C498.9 312.6 503.5 312.2 507 311.4C510.6 310.7 513.9 309.9 517.3 308.6C520.7 307.3 524.2 305.7 527.6 303.9C530.9 302.1 534 299.3 537.3 297.6C540.6 296 544.1 295.7 547.4 294.2C550.7 292.7 553.9 290.4 557 288.7C560 287 562.7 286.1 565.7 284.2C568.7 282.2 572 279.3 574.8 277.1C577.6 274.9 580.2 272.4 582.5 270.7C584.8 269.1 586.8 268.2 588.5 267.1C590.2 266 592.2 265.5 592.7 264.4C593.2 263.3 592.7 261.1 591.5 260.3C590.3 259.6 588 259.6 585.5 259.9C583 260.1 579.5 260.5 576.6 262C573.8 263.4 570.8 266.1 568.2 268.5C565.5 270.9 563.1 274.4 560.6 276.3C558.1 278.2 555.9 278.9 552.9 280.1C550 281.4 546.3 282.3 543 283.7C539.6 285.1 536 286.5 532.7 288.3C529.3 290.1 526.4 293 523.1 294.4C519.8 295.9 516.1 295.6 512.9 296.9C509.6 298.2 506.9 300.8 503.6 302.2C500.3 303.6 495.6 304.2 493.1 305.3C490.6 306.3 488.9 306.9 488.6 308.5C488.2 310 489.7 313.6 491 314.4Z" fill="#c8c8c8"/>
<path d="M504.6 305.6C504.8 305.8 505.4 306 505.1 306.5C504.9 306.9 504 307.6 503.3 308C502.6 308.5 501.7 308.9 501 309C500.4 309.2 499.8 309.1 499.4 309C499 308.8 498.5 308.6 498.6 308.3C498.6 307.9 499.1 307.2 499.6 306.7C500.2 306.3 501.2 305.9 501.9 305.6C502.6 305.3 503.5 304.9 503.9 304.9C504.4 304.9 504.4 305.3 504.6 305.6Z" fill="#c72e4c" stroke="#b9a9a9" stroke-width="0.8" stroke-linejoin="round" stroke-linecap="round"/>
<path d="M520.2 299.8C520.4 300 521 300.2 520.8 300.5C520.7 300.8 519.7 301.4 519.1 301.8C518.4 302.2 517.6 302.8 517 303C516.4 303.2 515.7 303.1 515.4 303C515.1 302.8 515.3 302.3 515.5 301.9C515.6 301.6 516.1 301.3 516.5 300.8C516.9 300.4 517.4 299.5 517.8 299.3C518.3 299.1 519 299.4 519.4 299.4C519.8 299.5 519.9 299.6 520.2 299.8Z" fill="#c72e4c" stroke="#b9a9a9" stroke-width="0.8" stroke-linejoin="round" stroke-linecap="round"/>
<path d="M535.8 292.5C535.9 292.7 535.6 293.2 535.4 293.6C535.1 294 534.5 294.4 534 294.8C533.4 295.2 532.7 295.7 532 296C531.4 296.2 530.3 296.4 530 296.3C529.7 296.1 530.3 295.3 530.5 294.9C530.6 294.5 530.5 294.1 530.9 293.8C531.3 293.4 532.2 293 532.9 292.7C533.5 292.5 534.3 292.1 534.8 292C535.3 292 535.7 292.2 535.8 292.5Z" fill="#c72e4c" stroke="#b9a9a9" stroke-width="0.8" stroke-linejoin="round" stroke-linecap="round"/>
<path d="M550.7 286.5C550.7 286.9 550.4 287.3 550.1 287.6C549.8 288 549.4 288.4 548.9 288.7C548.4 289 547.9 289.3 547.3 289.5C546.6 289.7 545.4 290.3 545.1 290.2C544.7 290.1 544.9 289.4 545.2 289C545.4 288.7 545.9 288.3 546.3 287.8C546.8 287.4 547.2 286.7 547.8 286.3C548.5 286 549.7 285.6 550.2 285.6C550.7 285.7 550.7 286.2 550.7 286.5Z" fill="#c72e4c" stroke="#b9a9a9" stroke-width="0.8" stroke-linejoin="round" stroke-linecap="round"/>
<path d="M568.7 276.5C568.8 276.8 568.4 277.3 568.1 277.6C567.8 278 567.4 278.4 566.9 278.7C566.5 279 565.8 279.2 565.3 279.4C564.8 279.6 564 279.8 563.8 279.7C563.5 279.6 563.6 279.1 563.7 278.8C563.8 278.5 563.9 278.2 564.3 277.8C564.7 277.5 565.3 277.1 565.9 276.8C566.5 276.5 567.3 276.1 567.8 276C568.3 276 568.7 276.2 568.7 276.5Z" fill="#c72e4c" stroke="#b9a9a9" stroke-width="0.8" stroke-linejoin="round" stroke-linecap="round"/>
<path d="M580.4 268.2C580.6 268.4 580.3 269.1 579.9 269.5C579.5 269.9 578.7 270.5 578.1 270.8C577.4 271.2 576.8 271.5 576.2 271.7C575.6 271.9 574.9 272 574.5 271.9C574.2 271.7 574.2 271.3 574.3 271C574.4 270.6 574.8 270.1 575.2 269.8C575.6 269.5 576.3 269.2 576.9 268.9C577.5 268.7 578 268.4 578.6 268.3C579.1 268.2 580.1 268 580.4 268.2Z" fill="#c72e4c" stroke="#b9a9a9" stroke-width="0.8" stroke-linejoin="round" stroke-linecap="round"/>
<path d="M542.4 289.7C542.4 289.9 541.7 290.4 541.4 290.8C541.2 291.1 541.1 291.3 540.8 291.6C540.4 291.9 539.8 292.1 539.4 292.3C538.9 292.4 538.2 292.6 538 292.5C537.9 292.4 538.2 291.9 538.3 291.6C538.4 291.3 538.5 291.1 538.8 290.9C539.1 290.6 539.5 290.3 539.9 290.2C540.3 290 540.7 289.8 541.1 289.8C541.6 289.7 542.3 289.5 542.4 289.7Z" fill="#5a1020" stroke="none" stroke-width="0" stroke-linejoin="round" stroke-linecap="round"/>
<path d="M572.9 273.5C573 273.6 573.3 273.8 573.2 274.1C573 274.4 572.4 274.9 571.9 275.2C571.4 275.5 570.7 275.9 570.3 275.9C569.9 276 569.9 275.6 569.7 275.5C569.6 275.3 569.5 275.2 569.5 275.1C569.5 274.9 569.3 274.6 569.5 274.3C569.8 274 570.4 273.5 570.9 273.3C571.3 273.2 571.9 273.2 572.2 273.2C572.5 273.2 572.7 273.3 572.9 273.5Z" fill="#5a1020" stroke="none" stroke-width="0" stroke-linejoin="round" stroke-linecap="round"/>
<path d="M512 302.9C512.1 303 511.5 303.5 511.3 303.8C511.1 304.1 511.1 304.3 510.7 304.6C510.4 304.8 509.7 305.3 509.3 305.5C508.8 305.6 508.3 305.6 508.1 305.5C507.8 305.4 507.6 305.1 507.7 304.8C507.7 304.6 508 304.1 508.3 303.8C508.7 303.5 509.5 303.3 509.9 303.2C510.4 303 510.6 303 511 302.9C511.3 302.9 512 302.8 512 302.9Z" fill="#5a1020" stroke="none" stroke-width="0" stroke-linejoin="round" stroke-linecap="round"/>
<path d="M637 262C637.8 259.7 641.8 256.5 645 256C648.2 255.5 652.8 257.3 656 259C659.2 260.7 661.3 264.2 664 266C666.7 267.8 669.3 268.3 672 270C674.7 271.7 677.7 273.7 680 276C682.3 278.3 685.7 281.7 686 284C686.3 286.3 684.3 289.3 682 290C679.7 290.7 675.3 289 672 288C668.7 287 665 285.3 662 284C659 282.7 656.3 281.7 654 280C651.7 278.3 650.3 275.7 648 274C645.7 272.3 641.8 272 640 270C638.2 268 636.2 264.3 637 262Z" fill="#a40844" stroke="#d6cccc" stroke-width="1.3" stroke-linejoin="round" stroke-linecap="round"/>
<path d="M642 262C641.7 260 647.3 259.3 650 260C652.7 260.7 655 264 658 266C661 268 664.7 269.7 668 272C671.3 274.3 676 277.7 678 280C680 282.3 681.3 285.5 680 286C678.7 286.5 673.3 284.3 670 283C666.7 281.7 663 279.8 660 278C657 276.2 655 274.7 652 272C649 269.3 642.3 264 642 262Z" fill="#b61b48" stroke="#d6cccc" stroke-width="1.2" stroke-linejoin="round" stroke-linecap="round"/>
<path d="M648 264C648 263 653.3 266.3 656 268C658.7 269.7 661.3 272 664 274C666.7 276 671.7 279 672 280C672.3 281 668.7 281 666 280C663.3 279 659 276.7 656 274C653 271.3 648 265 648 264Z" fill="#d7414e" stroke="#d6cccc" stroke-width="1.1" stroke-linejoin="round" stroke-linecap="round"/>
<path d="M603 265C604.3 263 609.2 261.8 612 262C614.8 262.2 617.3 265.7 620 266C622.7 266.3 625 263.7 628 264C631 264.3 636 266 638 268C640 270 641 274 640 276C639 278 635 280 632 280C629 280 625.3 276.3 622 276C618.7 275.7 615 278.3 612 278C609 277.7 605.5 276.2 604 274C602.5 271.8 601.7 267 603 265Z" fill="none" stroke="#d6cccc" stroke-width="1.3" stroke-linejoin="round" stroke-linecap="round"/>
<path d="M614.5 270C614.5 270.4 614.6 270.8 614.3 271.2C614 271.5 613.3 271.8 612.6 271.9C611.9 272.1 610.8 272.1 610.2 271.9C609.6 271.7 609.1 271.1 608.9 270.7C608.7 270.3 608.7 269.7 609 269.3C609.2 268.9 609.7 268.4 610.3 268.2C610.9 268.1 611.8 268.2 612.5 268.3C613.2 268.4 614 268.5 614.4 268.8C614.7 269.1 614.5 269.6 614.5 270Z" fill="none" stroke="#d6cccc" stroke-width="1.2" stroke-linejoin="round" stroke-linecap="round"/>
<path d="M628.3 271C628.3 271.4 628.9 272.1 628.6 272.3C628.3 272.6 627.2 272.4 626.5 272.5C625.7 272.6 624.8 273 624.2 272.9C623.6 272.7 623.1 272.1 623 271.7C622.9 271.3 623.2 270.8 623.5 270.4C623.8 270.1 624.3 269.9 624.8 269.7C625.3 269.6 625.8 269.4 626.5 269.4C627.1 269.5 628.1 269.5 628.5 269.8C628.8 270 628.3 270.6 628.3 271Z" fill="none" stroke="#d6cccc" stroke-width="1.2" stroke-linejoin="round" stroke-linecap="round"/>
<path d="M612.4 257.5C612.4 257.9 611.7 258.4 611.4 258.6C611 258.9 610.7 259.1 610.3 259.2C609.9 259.3 609.3 259.6 608.9 259.4C608.5 259.3 608 258.7 607.8 258.3C607.7 257.8 607.8 257.2 608 256.8C608.2 256.4 608.7 256.1 609.1 255.9C609.4 255.6 610 255.1 610.4 255.2C610.8 255.3 610.9 256.1 611.3 256.4C611.6 256.8 612.4 257.1 612.4 257.5Z" fill="none" stroke="#d6cccc" stroke-width="1.2" stroke-linejoin="round" stroke-linecap="round"/>
<path d="M621 293C622.2 290.9 622.8 290 626 289.5C629.2 289 635.2 289.8 640 290C644.8 290.2 649.2 290.7 655 291C660.8 291.3 669.2 292.1 675 292C680.8 291.9 686.3 289.7 690 290.5C693.7 291.3 696 294.1 697 297C698 299.9 697.5 305.3 696 308C694.5 310.7 691.5 311.9 688 313C684.5 314.1 679.7 314 675 314.5C670.3 315 665 315.6 660 316C655 316.4 650 316.7 645 317C640 317.3 633.8 318.8 630 318C626.2 317.2 623.8 314.7 622 312C620.2 309.3 619.2 305.2 619 302C618.8 298.8 619.8 295.1 621 293Z" fill="#bdb3b0" stroke="#c8c8c8" stroke-width="2" stroke-linejoin="round" stroke-linecap="round"/>
<path d="M624 292.6C624.5 292.7 626 292.7 627 293.4C628 294.1 629 296.3 630 296.7C631 297.1 632 295.8 633 295.5C634 295.2 635 295.5 636 294.8C637 294.1 638 291.9 639 291.4C640 290.9 641 291.2 642 291.7C643 292.2 644 293.9 645 294.6C646 295.3 647 295.6 648 295.9C649 296.2 650 296.8 651 296.6C652 296.4 653 295.5 654 294.9C655 294.3 656 293.2 657 292.8C658 292.4 659 292.4 660 292.6C661 292.8 662 293.9 663 294.2C664 294.5 665 293.9 666 294.2C667 294.4 668 295.7 669 295.7C670 295.7 671 294.6 672 294.3C673 294.1 674 294.7 675 294.2C676 293.7 677 291.2 678 291.1C679 291 680 292.6 681 293.4C682 294.1 683 295.5 684 295.6C685 295.7 686 294.2 687 294.2C688 294.2 689 295.6 690 295.6C691 295.6 692.5 294.5 693 294.3" fill="none" stroke="#a07a76" stroke-width="1.3" stroke-linejoin="round" stroke-linecap="round"/>
<path d="M624 298.2C624.5 298.2 626 298.5 627 298.3C628 298.1 629 297.5 630 296.9C631 296.3 632 294.9 633 294.8C634 294.7 635 295.6 636 296C637 296.4 638 297.2 639 297.4C640 297.6 641 297.3 642 297.3C643 297.3 644 297.7 645 297.3C646 296.9 647 295.1 648 295C649 294.9 650 296.3 651 296.7C652 297.1 653 297.1 654 297.2C655 297.3 656 296.9 657 297.2C658 297.5 659 298.9 660 298.9C661 298.9 662 297.8 663 297.4C664 297 665 296.7 666 296.3C667 295.9 668 295 669 294.8C670 294.6 671 295 672 295.4C673 295.8 674 296.5 675 297C676 297.5 677 298.1 678 298.4C679 298.7 680 299.1 681 298.8C682 298.6 683 297.6 684 296.9C685 296.2 686 294.4 687 294.4C688 294.3 689 295.9 690 296.6C691 297.3 692.5 298.2 693 298.5" fill="none" stroke="#7d4a44" stroke-width="1.3" stroke-linejoin="round" stroke-linecap="round"/>
<path d="M624 298C624.5 298.5 626 300.4 627 300.8C628 301.2 629 300.4 630 300.7C631 300.9 632 302.6 633 302.3C634 302.1 635 299.7 636 299.2C637 298.7 638 299.6 639 299.5C640 299.4 641 298.1 642 298.4C643 298.6 644 300.5 645 301C646 301.5 647 301.4 648 301.3C649 301.2 650 300.7 651 300.5C652 300.3 653 300.5 654 300.2C655 299.9 656 298.6 657 298.6C658 298.6 659 299.9 660 300C661 300.1 662 299.2 663 299.5C664 299.8 665 301.1 666 301.5C667 301.9 668 302 669 302.1C670 302.2 671 302.8 672 302.2C673 301.6 674 298.8 675 298.3C676 297.8 677 298.9 678 299.1C679 299.3 680 299.2 681 299.6C682 300.1 683 301.2 684 301.8C685 302.4 686 303.5 687 303.3C688 303.1 689 301.3 690 300.8C691 300.3 692.5 300.5 693 300.4" fill="none" stroke="#8e5a52" stroke-width="1.3" stroke-linejoin="round" stroke-linecap="round"/>
<path d="M624 305.9C624.5 306 626 306.8 627 306.4C628 306 629 304.1 630 303.3C631 302.5 632 301.8 633 301.8C634 301.8 635 303.4 636 303.5C637 303.6 638 302.1 639 302.1C640 302.1 641 303.2 642 303.5C643 303.8 644 303.7 645 304C646 304.3 647 305.2 648 305.1C649 305 650 303.9 651 303.4C652 302.9 653 301.9 654 301.9C655 301.9 656 303 657 303.2C658 303.4 659 302.6 660 303C661 303.4 662 305.4 663 305.6C664 305.8 665 304.8 666 304.4C667 304 668 303.6 669 303.1C670 302.7 671 301.9 672 301.7C673 301.5 674 301.9 675 302.2C676 302.4 677 302.9 678 303.2C679 303.5 680 303.6 681 303.8C682 304.1 683 304.9 684 304.7C685 304.5 686 303.1 687 302.8C688 302.5 689 302.8 690 302.8C691 302.9 692.5 303.1 693 303.1" fill="none" stroke="#a07a76" stroke-width="1.3" stroke-linejoin="round" stroke-linecap="round"/>
<path d="M624 305.5C624.5 305.4 626 304.9 627 304.9C628 304.9 629 305.3 630 305.7C631 306.1 632 306.9 633 307.5C634 308.1 635 309.7 636 309.6C637 309.5 638 307.4 639 306.9C640 306.4 641 306.9 642 306.6C643 306.4 644 305.5 645 305.4C646 305.3 647 305.6 648 306C649 306.4 650 307.3 651 307.8C652 308.3 653 308.8 654 308.9C655 309 656 308.8 657 308.6C658 308.4 659 308.2 660 307.8C661 307.4 662 306.4 663 306.1C664 305.9 665 306.2 666 306.3C667 306.4 668 306.5 669 306.8C670 307.1 671 308.2 672 308.3C673 308.4 674 307.6 675 307.7C676 307.8 677 309 678 308.7C679 308.4 680 306.2 681 305.7C682 305.2 683 305.3 684 305.5C685 305.7 686 306.3 687 306.8C688 307.3 689 308.2 690 308.7C691 309.2 692.5 309.5 693 309.7" fill="none" stroke="#7d4a44" stroke-width="1.3" stroke-linejoin="round" stroke-linecap="round"/>
<path d="M624 310.8C624.5 311 626 312 627 311.8C628 311.6 629 310.6 630 309.8C631 309.1 632 307.6 633 307.3C634 307 635 307.6 636 308.2C637 308.8 638 310.1 639 310.7C640 311.3 641 311.9 642 311.9C643 311.9 644 311 645 310.7C646 310.4 647 310.4 648 310.3C649 310.2 650 309.8 651 309.8C652 309.8 653 310.2 654 310.1C655 310 656 309 657 309.2C658 309.4 659 310.8 660 311.2C661 311.6 662 312.1 663 311.9C664 311.6 665 310.2 666 309.7C667 309.2 668 309.2 669 308.9C670 308.6 671 307.8 672 307.7C673 307.6 674 308.1 675 308.5C676 308.9 677 309.4 678 309.9C679 310.4 680 311.3 681 311.6C682 311.9 683 311.9 684 311.7C685 311.5 686 310.7 687 310.3C688 309.9 689 309.7 690 309.5C691 309.3 692.5 309.3 693 309.3" fill="none" stroke="#8e5a52" stroke-width="1.3" stroke-linejoin="round" stroke-linecap="round"/>
<path d="M624 311C624.5 311.1 626 311 627 311.6C628 312.2 629 314.1 630 314.6C631 315.1 632 314.6 633 314.6C634 314.6 635 314.6 636 314.4C637 314.2 638 314.1 639 313.6C640 313.1 641 311.8 642 311.3C643 310.8 644 310.6 645 310.8C646 311 647 312.1 648 312.6C649 313.1 650 313.6 651 313.8C652 314 653 313.7 654 313.9C655 314.1 656 315.5 657 315C658 314.5 659 311.3 660 310.9C661 310.5 662 312 663 312.5C664 313 665 313.3 666 313.7C667 314.1 668 314.6 669 314.6C670 314.6 671 313.6 672 313.5C673 313.4 674 314.5 675 314.1C676 313.7 677 311.7 678 311.3C679 310.9 680 311.7 681 311.9C682 312.1 683 312.5 684 312.7C685 312.9 686 312.8 687 312.9C688 313 689 313.1 690 313.4C691 313.7 692.5 314.3 693 314.5" fill="none" stroke="#7d4a44" stroke-width="1.3" stroke-linejoin="round" stroke-linecap="round"/>
<path d="M624 295.3C624.5 295.5 626 296.7 627 296.7C628 296.7 629 295.8 630 295.4C631 295 632 294.8 633 294.6C634 294.4 635 294.3 636 294.4C637 294.5 638 295.1 639 295.1C640 295.2 641 294.4 642 294.7C643 295 644 296.9 645 297.2C646 297.5 647 296.6 648 296.5C649 296.4 650 296.4 651 296.4C652 296.4 653 296.9 654 296.4C655 295.9 656 293.8 657 293.4C658 293 659 293.8 660 294.2C661 294.6 662 295.5 663 295.9C664 296.3 665 296.4 666 296.6C667 296.8 668 296.9 669 297C670 297.1 671 297.6 672 297.4C673 297.2 674 296.4 675 295.7C676 294.9 677 293.2 678 292.9C679 292.6 680 293.4 681 293.9C682 294.4 683 295.3 684 296C685 296.7 686 297.6 687 297.9C688 298.1 689 297.9 690 297.5C691 297.1 692.5 295.8 693 295.5" fill="none" stroke="#d0c8c8" stroke-width="1.3" stroke-linejoin="round" stroke-linecap="round"/>
<path d="M624 298.3C624.5 298.2 626 297.7 627 297.6C628 297.6 629 297.6 630 298C631 298.4 632 299.4 633 299.9C634 300.4 635 301.1 636 301C637 300.9 638 300 639 299.6C640 299.2 641 298.9 642 298.5C643 298.1 644 297.6 645 297.5C646 297.4 647 298 648 297.9C649 297.8 650 296.3 651 296.7C652 297.1 653 299.6 654 300.3C655 301 656 301.1 657 301C658 300.9 659 300.1 660 299.6C661 299.1 662 298.3 663 298.2C664 298.1 665 299.1 666 298.9C667 298.7 668 297.3 669 297.1C670 296.9 671 297.5 672 297.8C673 298.1 674 298.2 675 298.7C676 299.2 677 300.6 678 300.8C679 301 680 299.9 681 299.8C682 299.7 683 300.5 684 300.1C685 299.8 686 298.4 687 297.7C688 297 689 296.2 690 296.2C691 296.2 692.5 297.4 693 297.6" fill="none" stroke="#d0c8c8" stroke-width="1.3" stroke-linejoin="round" stroke-linecap="round"/>
<path d="M624 302.5C624.5 302.2 626 301.3 627 300.9C628 300.5 629 299.9 630 300.2C631 300.5 632 302.5 633 302.9C634 303.3 635 302.7 636 302.8C637 302.9 638 303.5 639 303.6C640 303.7 641 303.5 642 303.4C643 303.3 644 303.2 645 303C646 302.8 647 302.6 648 302.3C649 302 650 301.4 651 301.4C652 301.4 653 301.8 654 302.1C655 302.5 656 303.4 657 303.5C658 303.6 659 302.8 660 302.8C661 302.8 662 303.7 663 303.7C664 303.7 665 303.1 666 302.9C667 302.7 668 302.9 669 302.6C670 302.3 671 301.2 672 300.9C673 300.5 674 300.2 675 300.5C676 300.8 677 302.2 678 302.6C679 303 680 302.7 681 303C682 303.3 683 304.5 684 304.5C685 304.5 686 303.6 687 303.2C688 302.8 689 302.1 690 301.8C691 301.5 692.5 301.5 693 301.4" fill="none" stroke="#d0c8c8" stroke-width="1.3" stroke-linejoin="round" stroke-linecap="round"/>
<path d="M624 307.3C624.5 307.2 626 307 627 306.8C628 306.6 629 306.4 630 306.2C631 306 632 305.9 633 305.6C634 305.3 635 304.2 636 304.4C637 304.6 638 306.5 639 306.8C640 307.1 641 306 642 306.1C643 306.2 644 307.2 645 307.2C646 307.2 647 306.4 648 306.2C649 306 650 306 651 305.9C652 305.8 653 306 654 305.7C655 305.4 656 303.7 657 303.9C658 304.1 659 306.6 660 307.1C661 307.6 662 307 663 307.1C664 307.2 665 307.7 666 307.6C667 307.5 668 306.9 669 306.7C670 306.4 671 306.5 672 306.1C673 305.7 674 304.5 675 304.3C676 304.1 677 304.3 678 304.7C679 305.1 680 306 681 306.6C682 307.2 683 308.1 684 308.5C685 308.9 686 309.3 687 309C688 308.7 689 307.1 690 306.6C691 306.1 692.5 306.3 693 306.2" fill="none" stroke="#d0c8c8" stroke-width="1.3" stroke-linejoin="round" stroke-linecap="round"/>
<path d="M624 310.9C624.5 310.8 626 310.5 627 310.1C628 309.7 629 308.5 630 308.5C631 308.5 632 309.7 633 310.2C634 310.7 635 310.9 636 311.3C637 311.7 638 312.5 639 312.6C640 312.7 641 312.2 642 312.1C643 312 644 312.1 645 311.7C646 311.3 647 310.1 648 309.6C649 309.2 650 309.2 651 309C652 308.8 653 307.9 654 308.1C655 308.3 656 309.9 657 310.4C658 310.9 659 310.6 660 311C661 311.4 662 312.9 663 312.7C664 312.5 665 310.4 666 309.6C667 308.8 668 308 669 307.9C670 307.8 671 308.6 672 308.8C673 309 674 309.1 675 309.3C676 309.6 677 310 678 310.3C679 310.6 680 311.4 681 311.4C682 311.4 683 310.8 684 310.4C685 310 686 309.6 687 309.2C688 308.8 689 307.9 690 307.9C691 307.9 692.5 309 693 309.2" fill="none" stroke="#d0c8c8" stroke-width="1.3" stroke-linejoin="round" stroke-linecap="round"/>
<path d="M624 314.9C624.5 314.5 626 312.8 627 312.6C628 312.4 629 313.8 630 313.5C631 313.2 632 311.1 633 311.1C634 311.1 635 312.9 636 313.3C637 313.7 638 313.1 639 313.4C640 313.6 641 314.6 642 314.8C643 315 644 314.7 645 314.3C646 313.9 647 313.1 648 312.7C649 312.2 650 311.9 651 311.6C652 311.3 653 310.9 654 310.9C655 310.9 656 311.3 657 311.6C658 311.9 659 312 660 312.7C661 313.4 662 315.3 663 315.8C664 316.3 665 316.3 666 315.9C667 315.4 668 313.5 669 313.1C670 312.7 671 313.5 672 313.3C673 313.1 674 311.9 675 311.8C676 311.7 677 312.1 678 312.7C679 313.3 680 314.8 681 315.2C682 315.6 683 315.1 684 315.2C685 315.2 686 315.7 687 315.5C688 315.3 689 314.8 690 314C691 313.2 692.5 311.4 693 310.9" fill="none" stroke="#d0c8c8" stroke-width="1.3" stroke-linejoin="round" stroke-linecap="round"/>
<path d="M684.8 298.3C684.7 298.6 684.6 298.9 684.4 299.1C684.1 299.3 683.6 299.7 683.2 299.7C682.8 299.7 682.2 299.4 681.8 299.2C681.4 298.9 680.8 298.6 680.7 298.4C680.6 298.1 680.9 297.7 681.2 297.5C681.5 297.2 681.9 297.1 682.2 297.1C682.6 297 683 297 683.4 297.1C683.9 297.1 684.8 297.1 685 297.3C685.2 297.6 684.9 298 684.8 298.3Z" fill="#c46a74" stroke="none" stroke-width="0" stroke-linejoin="round" stroke-linecap="round"/>
<path d="M666.9 306.3C666.9 306.7 666.4 307.2 666 307.5C665.6 307.8 665.1 307.9 664.6 308.2C664 308.4 663.4 308.7 662.9 308.8C662.4 308.8 661.5 308.6 661.3 308.4C661 308.1 661.1 307.6 661.3 307.2C661.5 306.8 662 306.5 662.4 306.2C662.9 305.9 663.4 305.5 664 305.3C664.6 305.1 665.6 305.1 666.1 305.2C666.6 305.4 666.9 305.9 666.9 306.3Z" fill="#6b2f2c" stroke="none" stroke-width="0" stroke-linejoin="round" stroke-linecap="round"/>
<path d="M673.5 303.6C673.4 303.9 673.1 304.1 672.9 304.4C672.6 304.6 672.3 304.9 672 304.9C671.7 305 671.3 304.8 671 304.6C670.7 304.4 670.3 304 670.2 303.6C670.2 303.3 670.6 303 670.8 302.6C671 302.2 671.1 301.7 671.4 301.5C671.7 301.3 672.4 301.4 672.7 301.5C673.1 301.7 673.4 302.2 673.5 302.5C673.7 302.8 673.6 303.3 673.5 303.6Z" fill="#6b2f2c" stroke="none" stroke-width="0" stroke-linejoin="round" stroke-linecap="round"/>
<path d="M682.7 296.1C683 296.4 683.7 296.6 683.6 296.9C683.6 297.3 682.9 297.7 682.5 298.1C682.2 298.4 681.9 299 681.6 299.1C681.2 299.2 680.8 298.8 680.5 298.6C680.2 298.4 680.1 298.2 679.9 297.9C679.8 297.6 679.5 297.2 679.6 296.8C679.8 296.5 680.4 296.3 680.8 296C681.2 295.7 681.7 295.1 682.1 295.1C682.4 295.2 682.4 295.8 682.7 296.1Z" fill="#6b2f2c" stroke="none" stroke-width="0" stroke-linejoin="round" stroke-linecap="round"/>
<path d="M636.1 304.2C636.3 304.4 636.1 305 636 305.4C635.8 305.8 635.6 306.2 635.3 306.5C635 306.9 634.6 307.3 634.2 307.5C633.7 307.8 633.1 308 632.7 307.9C632.3 307.9 631.7 307.7 631.7 307.3C631.8 307 632.5 306.3 632.8 305.8C633.1 305.4 633.3 304.9 633.7 304.6C634 304.4 634.5 304.3 634.9 304.2C635.3 304.1 635.9 304 636.1 304.2Z" fill="#c46a74" stroke="none" stroke-width="0" stroke-linejoin="round" stroke-linecap="round"/>
<path d="M643.5 306.3C643.4 306.7 642.8 307.1 642.5 307.4C642.2 307.7 642 307.9 641.6 308C641.3 308.2 640.9 308.2 640.6 308.2C640.2 308.2 639.8 308.1 639.5 307.9C639.2 307.7 638.7 307.3 638.7 307C638.7 306.6 639.1 306.1 639.5 305.8C639.9 305.5 640.5 305.3 641 305.3C641.5 305.2 642.2 305.1 642.6 305.3C643 305.5 643.5 306 643.5 306.3Z" fill="#b05060" stroke="none" stroke-width="0" stroke-linejoin="round" stroke-linecap="round"/>
<path d="M680 298.8C680.3 299 680.2 299.7 680.2 300.1C680.1 300.5 680 300.8 679.8 301.2C679.6 301.6 679.5 302.3 679.2 302.5C678.8 302.8 678.1 302.7 677.8 302.5C677.5 302.3 677.5 301.7 677.4 301.3C677.2 301 676.7 300.7 676.7 300.3C676.8 300 677.3 299.6 677.6 299.3C677.9 299.1 678.3 298.9 678.7 298.9C679.1 298.8 679.8 298.6 680 298.8Z" fill="#7a3a34" stroke="none" stroke-width="0" stroke-linejoin="round" stroke-linecap="round"/>
<path d="M690.1 299.9C690.1 300.1 689.7 300.4 689.4 300.6C689 300.7 688.5 300.8 688 300.8C687.6 300.8 687 300.8 686.6 300.7C686.2 300.6 685.8 300.3 685.5 300C685.3 299.7 684.7 299.1 684.9 298.9C685.1 298.7 686.2 298.8 686.8 298.7C687.4 298.5 688 298 688.5 298.1C688.9 298.1 689.2 298.8 689.5 299.1C689.8 299.4 690.1 299.6 690.1 299.9Z" fill="#6b2f2c" stroke="none" stroke-width="0" stroke-linejoin="round" stroke-linecap="round"/>
<path d="M656.6 295.8C656.8 296 657 296.4 656.7 296.6C656.4 296.9 655.4 297.3 654.8 297.5C654.1 297.6 653.2 297.6 652.7 297.5C652.3 297.5 652.2 297.2 651.9 297C651.7 296.9 651.1 296.7 651.2 296.5C651.3 296.3 651.9 296 652.4 295.7C652.9 295.5 653.8 295 654.3 294.9C654.8 294.9 655.3 295.2 655.7 295.4C656.1 295.5 656.5 295.6 656.6 295.8Z" fill="#c46a74" stroke="none" stroke-width="0" stroke-linejoin="round" stroke-linecap="round"/>
<path d="M667.9 304.5C667.9 304.7 667.7 305.3 667.4 305.2C667.1 305.2 666.4 304.5 665.9 304.2C665.5 303.9 665.1 303.8 664.7 303.5C664.4 303.2 663.9 302.7 663.8 302.4C663.8 302 664 301.6 664.4 301.6C664.7 301.6 665.4 302 665.8 302.2C666.3 302.4 666.6 302.5 666.9 302.7C667.2 303 667.4 303.3 667.6 303.6C667.8 303.8 668 304.2 667.9 304.5Z" fill="#7a3a34" stroke="none" stroke-width="0" stroke-linejoin="round" stroke-linecap="round"/>
<path d="M690 278C691 276.7 695.3 275.3 698 275C700.7 274.7 704.3 275.3 706 276C707.7 276.7 709 278 708 279C707 280 702.7 281.3 700 282C697.3 282.7 693.7 283.7 692 283C690.3 282.3 689 279.3 690 278Z" fill="#b61b48" stroke="#c8c8c8" stroke-width="1.8" stroke-linejoin="round" stroke-linecap="round"/>
<path d="M640 318C641.7 318.5 646.3 320.8 650 321C653.7 321.2 657.7 318.8 662 319C666.3 319.2 671.3 322.2 676 322C680.7 321.8 686 319 690 318C694 317 697.3 316 700 316C702.7 316 705 317.7 706 318" fill="none" stroke="#c8c8c8" stroke-width="1.6" stroke-linejoin="round" stroke-linecap="round"/>
<path d="M648 320C649.3 321 652.7 325.3 656 326C659.3 326.7 664 323.8 668 324C672 324.2 676 327.3 680 327C684 326.7 690 322.8 692 322" fill="none" stroke="#d6cccc" stroke-width="1.2" stroke-linejoin="round" stroke-linecap="round"/>
<path d="M671.6 337.5C671.6 338.1 670.5 338.7 670 339.3C669.5 339.9 669.2 340.8 668.6 341C667.9 341.3 666.7 341.2 666.2 340.8C665.7 340.4 665.5 339.2 665.4 338.5C665.3 337.8 665.4 337.3 665.5 336.5C665.6 335.8 665.6 334.5 666.2 334.1C666.7 333.7 667.9 333.9 668.6 334.2C669.2 334.4 669.5 335.1 670 335.7C670.5 336.2 671.6 336.9 671.6 337.5Z" fill="none" stroke="#d6cccc" stroke-width="1.4" stroke-linejoin="round" stroke-linecap="round"/>
<path d="M671.4 356C671.5 357.1 670.9 358.6 670.5 359.5C670.2 360.4 669.7 361.2 669.3 361.2C668.9 361.3 668.6 360.4 668.2 359.9C667.7 359.4 666.9 359.4 666.7 358.3C666.4 357.3 666.3 354.8 666.5 353.5C666.7 352.2 667.3 351.2 667.8 350.5C668.3 349.7 669.1 348.3 669.5 348.8C669.9 349.2 670 351.9 670.3 353.1C670.6 354.3 671.4 354.9 671.4 356Z" fill="none" stroke="#d6cccc" stroke-width="1.4" stroke-linejoin="round" stroke-linecap="round"/>
<path d="M662.2 330C662.1 330.4 662.2 330.6 661.9 331C661.6 331.3 661.1 331.7 660.5 331.8C660 331.9 658.9 331.8 658.5 331.6C658 331.4 657.9 330.8 657.8 330.5C657.7 330.1 657.8 329.8 657.9 329.6C658.1 329.3 658.4 328.9 658.8 328.7C659.2 328.6 659.8 328.5 660.4 328.5C661 328.5 662 328.6 662.3 328.8C662.6 329.1 662.2 329.6 662.2 330Z" fill="none" stroke="#d6cccc" stroke-width="1.2" stroke-linejoin="round" stroke-linecap="round"/>
<path d="M616.7 378C616.7 378.8 617 379.9 616.8 380.6C616.5 381.2 615.9 381.7 615.4 381.9C614.9 382 614.3 381.9 613.8 381.5C613.4 381.1 613 380.2 612.9 379.4C612.7 378.6 612.8 377.4 613 376.7C613.2 376.1 613.7 375.5 614.1 375.2C614.5 374.9 614.9 374.8 615.3 374.9C615.7 375 616.2 375.4 616.4 375.9C616.7 376.4 616.6 377.2 616.7 378Z" fill="none" stroke="#d6cccc" stroke-width="1.2" stroke-linejoin="round" stroke-linecap="round"/>
<path d="M405.7 224.8C405.4 225.8 404.2 226.5 403.6 227.1C403 227.7 402.6 228.2 402 228.5C401.4 228.8 400.3 229.3 400.1 228.7C399.8 228.1 400.3 226.1 400.6 225C400.8 223.9 401.2 222.8 401.7 222.1C402.1 221.3 402.6 220.8 403.2 220.2C403.7 219.7 404.7 218.6 405.1 218.8C405.5 219 405.5 220.4 405.6 221.4C405.7 222.4 406.1 223.9 405.7 224.8Z" fill="none" stroke="#d6cccc" stroke-width="1.5" stroke-linejoin="round" stroke-linecap="round"/>
<path d="M412.3 237.4C412.6 237.7 411.9 238.6 411.3 239.2C410.6 239.9 409.3 240.8 408.3 241.2C407.2 241.6 405.7 241.5 404.9 241.5C404 241.6 403.5 241.4 403.2 241.2C402.8 241 402.7 240.7 402.8 240.3C402.9 239.9 403 239.4 403.6 238.9C404.3 238.4 405.7 237.6 406.7 237.3C407.7 237 408.7 237.2 409.6 237.2C410.5 237.2 412.1 237 412.3 237.4Z" fill="none" stroke="#d6cccc" stroke-width="1.5" stroke-linejoin="round" stroke-linecap="round"/>
<path d="M425.8 244.6C426.2 245.1 425.5 246.3 424.6 247.1C423.7 247.9 421.9 248.9 420.2 249.6C418.5 250.2 416.3 250.8 414.5 251C412.7 251.2 410.6 251.3 409.4 251C408.2 250.7 407.4 250 407.5 249.3C407.6 248.6 408.8 247.6 409.8 246.9C410.8 246.2 412.2 245.5 413.6 245C415 244.5 416.6 244.2 418 244C419.4 243.8 420.9 243.7 422.2 243.8C423.5 243.9 425.4 244.1 425.8 244.6Z" fill="none" stroke="#d6cccc" stroke-width="1.4" stroke-linejoin="round" stroke-linecap="round"/>
<path d="M421.5 245.7C421.6 246 420.7 246.6 420.2 247.1C419.7 247.6 419.5 248.2 418.7 248.5C417.9 248.8 416.4 248.9 415.5 249C414.6 249.1 413.9 249 413.4 248.8C412.9 248.6 412.8 248.3 412.7 248C412.6 247.7 412.6 247.2 413 246.9C413.4 246.6 414.1 246.2 414.9 245.9C415.6 245.6 416.7 245 417.5 244.9C418.3 244.8 418.9 245.1 419.6 245.2C420.3 245.3 421.4 245.4 421.5 245.7Z" fill="#a40844" stroke="#d6cccc" stroke-width="1.4" stroke-linejoin="round" stroke-linecap="round"/>
<path d="M440.5 236.5C440 237.4 438.8 238.3 437.7 238.5C436.6 238.7 434.9 238 433.7 237.5C432.5 237 431.5 236.5 430.4 235.7C429.3 234.9 427.5 233.8 427.2 232.9C426.9 232 427.9 230.7 428.5 230C429.1 229.3 430.1 229 431.1 228.6C432.1 228.2 433.3 227 434.4 227.3C435.5 227.6 436.8 229.2 437.8 230.2C438.8 231.2 440.1 232 440.5 233.1C440.9 234.2 441 235.6 440.5 236.5Z" fill="#a40844" stroke="#d6cccc" stroke-width="1.4" stroke-linejoin="round" stroke-linecap="round"/>
<path d="M437.2 234.7C436.9 235.2 436.6 235.6 436 235.9C435.4 236.2 434.6 236.5 433.8 236.3C433 236.2 431.9 235.6 431.3 235C430.7 234.4 430.3 233.6 430.1 232.9C429.9 232.2 429.8 231.4 430.1 230.9C430.4 230.4 431.4 230.3 432.1 230.1C432.8 229.9 433.6 229.4 434.3 229.6C435.1 229.8 436 230.4 436.6 231C437.2 231.6 437.7 232.5 437.8 233.1C437.9 233.7 437.5 234.2 437.2 234.7Z" fill="#b61b48" stroke="#d6cccc" stroke-width="1.4" stroke-linejoin="round" stroke-linecap="round"/>
<path d="M427.9 260.9C428 261.4 428.2 261.7 427.7 262.5C427.1 263.3 425.7 264.5 424.3 265.5C423 266.5 420.8 267.7 419.3 268.4C417.8 269.1 416.1 269.6 415.2 269.6C414.3 269.6 413.7 269.2 414.1 268.4C414.4 267.7 416 266.1 417.3 265.2C418.7 264.2 420.5 263.5 422.1 262.6C423.8 261.6 426.4 259.7 427.3 259.5C428.3 259.2 427.9 260.4 427.9 260.9Z" fill="#c9c3c3" stroke="#d6cccc" stroke-width="1.2" stroke-linejoin="round" stroke-linecap="round"/>
<path d="M429.1 307C429.1 308 429.2 309 428.8 309.7C428.3 310.3 427.4 310.5 426.6 310.7C425.8 310.9 424.6 311.3 424 310.9C423.5 310.5 423.4 309 423.2 308.2C423.1 307.3 422.9 306.5 423.1 305.8C423.3 305.1 423.9 304.3 424.5 304C425 303.6 425.7 303.8 426.5 303.7C427.3 303.7 428.8 303.4 429.2 303.9C429.6 304.5 429.2 306 429.1 307Z" fill="#c6c0c0" stroke="#c8c8c8" stroke-width="1" stroke-linejoin="round" stroke-linecap="round"/>
<rect x="412" y="280.5" width="4" height="2" fill="#ddd"/>
<circle cx="423.4" cy="209.7" r="1.55" fill="#9e0142" stroke="#000" stroke-width="1.05"/>
<circle cx="434.3" cy="228.7" r="1.55" fill="#9e0142" stroke="#000" stroke-width="1.05"/>
<circle cx="419.4" cy="249.8" r="1.55" fill="#9e0142" stroke="#000" stroke-width="1.05"/>
<circle cx="393.6" cy="300" r="1.55" fill="#9e0142" stroke="#000" stroke-width="1.05"/>
<circle cx="488.5" cy="247.7" r="1.55" fill="#9e0142" stroke="#000" stroke-width="1.05"/>
<circle cx="488.5" cy="251.7" r="1.55" fill="#9e0142" stroke="#000" stroke-width="1.05"/>
<circle cx="477.7" cy="313.6" r="1.55" fill="#9e0142" stroke="#000" stroke-width="1.05"/>
<circle cx="505.4" cy="330.4" r="1.55" fill="#9e0142" stroke="#000" stroke-width="1.05"/>
<circle cx="453" cy="334.5" r="1.55" fill="#9e0142" stroke="#000" stroke-width="1.05"/>
<circle cx="430.3" cy="340.2" r="1.55" fill="#9e0142" stroke="#000" stroke-width="1.05"/>
<circle cx="460" cy="332.5" r="1.55" fill="#9e0142" stroke="#000" stroke-width="1.05"/>
<circle cx="464.5" cy="334" r="1.55" fill="#9e0142" stroke="#000" stroke-width="1.05"/>
<circle cx="468.5" cy="334.5" r="1.55" fill="#9e0142" stroke="#000" stroke-width="1.05"/>
<circle cx="472" cy="333.5" r="1.55" fill="#9e0142" stroke="#000" stroke-width="1.05"/>
<circle cx="547" cy="435.75" r="1.55" fill="#9e0142" stroke="#000" stroke-width="1.05"/>
<circle cx="406" cy="418.5" r="1.55" fill="#9e0142" stroke="#000" stroke-width="1.05"/>
<circle cx="497" cy="456" r="1.55" fill="#9e0142" stroke="#000" stroke-width="1.05"/>
<circle cx="516" cy="458" r="1.55" fill="#9e0142" stroke="#000" stroke-width="1.05"/>
<circle cx="659" cy="278.5" r="1.55" fill="#9e0142" stroke="#000" stroke-width="1.05"/>
<circle cx="705" cy="257.5" r="1.55" fill="#9e0142" stroke="#000" stroke-width="1.05"/>
<circle cx="741" cy="229" r="1.55" fill="#9e0142" stroke="#000" stroke-width="1.05"/>
<circle cx="652.6" cy="207" r="1.55" fill="#9e0142" stroke="#000" stroke-width="1.05"/>
<circle cx="719.6" cy="229.6" r="1.55" fill="#9e0142" stroke="#000" stroke-width="1.05"/>
<circle cx="681" cy="222" r="1.55" fill="#9e0142" stroke="#000" stroke-width="1.05"/>
<circle cx="547.2" cy="347.5" r="1.55" fill="#9e0142" stroke="#000" stroke-width="1.05"/>
<circle cx="635.4" cy="385" r="1.55" fill="#9e0142" stroke="#000" stroke-width="1.05"/>
<circle cx="644" cy="385" r="1.55" fill="#9e0142" stroke="#000" stroke-width="1.05"/>
<circle cx="597.6" cy="387" r="1.55" fill="#9e0142" stroke="#000" stroke-width="1.05"/>
<circle cx="545" cy="328.7" r="1.55" fill="#9e0142" stroke="#000" stroke-width="1.05"/>
<circle cx="621.5" cy="334" r="1.55" fill="#9e0142" stroke="#000" stroke-width="1.05"/>
<circle cx="512" cy="368.2" r="1.55" fill="#9e0142" stroke="#000" stroke-width="1.05"/>
<circle cx="438.4" cy="383" r="1.55" fill="#9e0142" stroke="#000" stroke-width="1.05"/>
<circle cx="505.8" cy="198.4" r="1.55" fill="#9e0142" stroke="#000" stroke-width="1.05"/>
<circle cx="538.8" cy="204.7" r="1.55" fill="#9e0142" stroke="#000" stroke-width="1.05"/>
<circle cx="596" cy="242.6" r="1.55" fill="#9e0142" stroke="#000" stroke-width="1.05"/>
<ellipse cx="696.6" cy="220" rx="1.6" ry="2.6" fill="#fff" stroke="#000" stroke-width="1.5" transform="rotate(-35 696.6 220)"/>
<ellipse cx="552" cy="195.4" rx="3.2" ry="1.6" fill="#fff" stroke="#000" stroke-width="1.5" transform="rotate(-35 552 195.4)"/>
<ellipse cx="475" cy="271.5" rx="5" ry="2.4" fill="#fff" stroke="#000" stroke-width="1.5" transform="rotate(-35 475 271.5)"/>
<ellipse cx="602" cy="301" rx="4.5" ry="2" fill="#fff" stroke="#000" stroke-width="1.5" transform="rotate(-35 602 301)"/>
<ellipse cx="543.75" cy="305" rx="2" ry="2" fill="#fff" stroke="#000" stroke-width="1.5" transform="rotate(-35 543.75 305)"/>
<ellipse cx="434" cy="393" rx="5.5" ry="2.6" fill="#fff" stroke="#000" stroke-width="1.5" transform="rotate(-35 434 393)"/>
<ellipse cx="522.9" cy="348.7" rx="2.8" ry="1.9" fill="#fff" stroke="#000" stroke-width="1.5" transform="rotate(-35 522.9 348.7)"/>
<ellipse cx="514.9" cy="355.9" rx="3.2" ry="1.5" fill="#fff" stroke="#000" stroke-width="1.5" transform="rotate(-35 514.9 355.9)"/>
<ellipse cx="506.4" cy="363.3" rx="3.2" ry="1.5" fill="#fff" stroke="#000" stroke-width="1.5" transform="rotate(-35 506.4 363.3)"/>
<path d="M607.1 313.4C606.8 313.5 606.4 313.5 606.1 313.4C605.7 313.4 605.3 313.2 604.8 313C604.3 312.8 603.5 312.4 603.2 312C602.8 311.7 602.9 311.2 602.9 311C603 310.8 603.3 310.8 603.6 310.7C603.8 310.6 604 310.3 604.4 310.4C604.8 310.5 605.5 311 606 311.4C606.5 311.8 607.2 312.3 607.3 312.6C607.5 313 607.3 313.3 607.1 313.4Z" fill="#6a1230" stroke="none" stroke-width="1.2" stroke-linejoin="round" stroke-linecap="round"/>
<path d="M612.6 315.6C612.5 315.8 612.4 316 612.1 316C611.8 316.1 611.2 316 610.8 315.7C610.3 315.5 609.6 314.9 609.3 314.5C608.9 314.1 608.4 313.5 608.5 313.3C608.6 313.1 609.4 313.3 609.7 313.3C610.1 313.3 610.2 313.1 610.6 313.3C610.9 313.4 611.4 313.8 611.7 314C612.1 314.3 612.4 314.7 612.6 314.9C612.7 315.2 612.7 315.4 612.6 315.6Z" fill="#6a1230" stroke="none" stroke-width="1.2" stroke-linejoin="round" stroke-linecap="round"/>
<path d="M605.4 317.2C605.3 317.3 604.7 317.2 604.2 317.1C603.8 317.1 603.2 317 602.7 316.8C602.3 316.5 602 315.9 601.6 315.5C601.3 315.1 600.6 314.6 600.6 314.3C600.5 314.1 601 314 601.4 314C601.7 314 602.1 314.1 602.6 314.3C603 314.4 603.6 314.5 604 314.8C604.5 315.1 605.1 315.7 605.3 316.1C605.5 316.5 605.6 317 605.4 317.2Z" fill="#6a1230" stroke="none" stroke-width="1.2" stroke-linejoin="round" stroke-linecap="round"/>
<path d="M522 341C522.8 340.7 525.7 341.6 528 342C530.3 342.4 533.5 343.2 536 343.5C538.5 343.8 542.3 343.6 543 344C543.7 344.4 542.2 345.8 540 346C537.8 346.2 532.8 345.3 530 345C527.2 344.7 524.3 344.7 523 344C521.7 343.3 521.2 341.3 522 341Z" fill="#6e2a3c" stroke="#8d5a66" stroke-width="1" stroke-linejoin="round" stroke-linecap="round"/>
<path d="M596.5 412.7C597.9 412.7 601.2 411.8 603.6 410.8C606 409.7 608.6 407.8 611.1 406.6C613.5 405.4 616 404.4 618.5 403.5C621.1 402.5 625.2 402 626.4 401.1C627.6 400.2 627.1 398.1 625.6 397.8C624.1 397.5 620.2 398.8 617.4 399.5C614.7 400.1 611.9 400.7 609.1 401.8C606.3 402.8 603.1 404.3 600.7 405.8C598.4 407.3 595.8 409.5 595.1 410.6C594.4 411.8 595.1 412.7 596.5 412.7Z" fill="#c8c8c8"/>
<path d="M610.2 404.3C610.3 404.5 610 404.9 609.8 405.2C609.6 405.5 609.4 405.9 608.9 406.2C608.5 406.6 607.6 407.2 607.1 407.3C606.6 407.4 606.3 407.1 606.1 406.9C605.8 406.8 605.5 406.7 605.6 406.4C605.6 406.1 606.1 405.7 606.5 405.3C606.8 404.9 607.3 404.3 607.9 404C608.4 403.7 609.3 403.6 609.7 403.7C610.1 403.7 610.2 404 610.2 404.3Z" fill="#f67f4b" stroke="none" stroke-width="1.2" stroke-linejoin="round" stroke-linecap="round"/>
<path d="M629 417.5C628.9 417.8 628.7 418.1 628.3 418.4C627.8 418.7 627.1 419.1 626.2 419.2C625.4 419.3 624.1 419.3 623.2 419.1C622.3 418.9 621.2 418.5 621 418.2C620.8 417.8 621.7 417.3 622.1 417C622.6 416.7 622.9 416.4 623.6 416.2C624.3 416 625.5 415.5 626.4 415.6C627.2 415.6 628.3 416.1 628.8 416.4C629.2 416.7 629.1 417.2 629 417.5Z" fill="#c8c8c8" stroke="none" stroke-width="1.2" stroke-linejoin="round" stroke-linecap="round"/>
<path d="M619.9 424.5C619.7 424.8 619.6 425 619.2 425.3C618.9 425.6 618.3 426.1 617.7 426.2C617.1 426.2 616.2 425.8 615.6 425.6C614.9 425.4 614.1 425.3 613.9 425C613.7 424.7 613.9 424.3 614.2 424.1C614.5 423.8 614.9 423.5 615.5 423.3C616 423.1 616.9 422.9 617.7 422.9C618.4 422.9 619.7 423.1 620.1 423.4C620.4 423.6 620 424.2 619.9 424.5Z" fill="#c8c8c8" stroke="none" stroke-width="1.2" stroke-linejoin="round" stroke-linecap="round"/>
<path d="M647.9 405C647.8 405.3 647.5 405.6 647.3 405.9C647.1 406.2 646.7 406.7 646.4 406.8C646 406.8 645.4 406.4 645.1 406.2C644.8 406 644.8 405.7 644.6 405.4C644.4 405.1 643.7 404.6 643.7 404.3C643.8 404.1 644.6 403.9 645 403.7C645.5 403.5 646 403.1 646.4 403.2C646.8 403.2 647.2 403.7 647.5 404C647.7 404.3 647.9 404.7 647.9 405Z" fill="#c8c8c8" stroke="none" stroke-width="1.2" stroke-linejoin="round" stroke-linecap="round"/>
<path d="M598.3 430.5C599.2 431.7 602.6 432.4 605.1 433.3C607.6 434.3 610.4 435.4 613.1 436C615.8 436.5 619.9 437.3 621.4 436.6C623 435.9 623.4 433.1 622.3 431.7C621.3 430.2 617.5 428.7 614.9 427.9C612.3 427.1 609.4 427.2 606.8 426.9C604.3 426.6 601 425.5 599.5 426.1C598.1 426.7 597.4 429.3 598.3 430.5Z" fill="#c8c8c8"/>
<path d="M614.2 431.8C614.1 432.1 613.3 432.3 612.6 432.5C612 432.6 611.1 432.7 610.4 432.6C609.6 432.5 608.8 432 608.2 431.7C607.5 431.4 606.9 431.1 606.6 430.8C606.3 430.5 606.2 430 606.4 429.7C606.6 429.4 607.2 428.9 607.9 429C608.7 429 609.9 429.7 610.8 429.9C611.7 430.2 612.6 430.3 613.2 430.7C613.7 431 614.3 431.5 614.2 431.8Z" fill="#d7414e" stroke="none" stroke-width="1.2" stroke-linejoin="round" stroke-linecap="round"/>
<path d="M577.4 445.1C578.8 446.1 582.3 444.5 585 444.9C587.7 445.3 591 447.1 593.7 447.7C596.4 448.4 599.2 448.2 601.3 448.6C603.5 449.1 605.3 450.8 606.5 450.4C607.8 450.1 609.3 447.9 608.9 446.5C608.5 445.1 606.4 443.9 604.3 442.2C602.2 440.5 599.5 437 596.3 436.2C593.1 435.4 588.3 436.8 585 437.2C581.7 437.6 577.8 437.3 576.6 438.6C575.3 439.9 576 444 577.4 445.1Z" fill="#c8c8c8"/>
<path d="M598 442.5C597.9 443 596.9 443.5 596.1 443.9C595.2 444.2 594 444.8 593 444.8C592 444.8 591 444.2 589.9 443.9C588.9 443.7 587 443.6 586.6 443.3C586.3 442.9 587.5 442.3 588 441.9C588.5 441.5 588.8 441.1 589.6 440.9C590.5 440.6 591.9 440.2 593 440.2C594.2 440.2 595.6 440.6 596.5 441C597.3 441.4 598.1 442 598 442.5Z" fill="#e95c47" stroke="none" stroke-width="1.2" stroke-linejoin="round" stroke-linecap="round"/>
<path d="M696 364.7C696.1 365.2 695.3 366.2 694.8 367C694.3 367.8 693.7 368.6 692.8 369.2C691.9 369.8 690.6 370.1 689.6 370.5C688.6 370.9 687.5 371.4 686.6 371.5C685.7 371.6 684.5 371.6 684.2 371.2C684 370.8 684.5 369.7 685.1 369C685.7 368.3 686.8 367.7 687.7 367C688.6 366.3 689.5 365.4 690.5 364.9C691.5 364.4 693 364 693.9 364C694.8 364 695.9 364.2 696 364.7Z" fill="#c72e4c" stroke="#c8c8c8" stroke-width="1.5" stroke-linejoin="round" stroke-linecap="round"/>
<path d="M692.7 366.5C692.9 366.7 693 367 692.8 367.4C692.6 367.8 691.9 368.2 691.4 368.6C690.9 369 690.2 369.7 689.7 369.9C689.2 370.1 688.5 369.9 688.1 369.9C687.7 369.8 687.4 369.8 687.2 369.6C687.1 369.4 687 369 687.2 368.6C687.4 368.2 688.1 367.8 688.6 367.4C689.1 367 689.8 366.3 690.3 366.1C690.8 365.9 691.5 366 691.9 366.1C692.3 366.2 692.6 366.3 692.7 366.5Z" fill="#df4e4b" stroke="#c8c8c8" stroke-width="1.5" stroke-linejoin="round" stroke-linecap="round"/>
<path d="M684.7 381.6C685.1 381.9 685.8 382.1 685.8 382.7C685.8 383.3 685.3 384.4 684.8 385.3C684.3 386.2 683.7 387.4 683 388C682.3 388.6 681.5 388.4 680.8 388.6C680.1 388.8 679 389.4 678.6 389.2C678.2 388.9 678.5 387.9 678.6 387.1C678.7 386.4 678.9 385.5 679.3 384.7C679.7 383.9 680.5 383.2 681.2 382.5C681.9 381.8 682.9 380.8 683.5 380.7C684.1 380.6 684.3 381.3 684.7 381.6Z" fill="#c72e4c" stroke="#c8c8c8" stroke-width="1.5" stroke-linejoin="round" stroke-linecap="round"/>
<path d="M684 382.5C684.1 382.7 683.8 383.4 683.7 383.9C683.7 384.3 683.9 384.7 683.7 385.2C683.5 385.7 683 386.3 682.6 386.7C682.2 387.1 681.6 387.3 681.2 387.3C680.9 387.3 680.8 387 680.5 386.9C680.2 386.8 679.6 386.8 679.6 386.5C679.6 386.2 680.3 385.4 680.6 384.9C680.9 384.4 681 383.7 681.4 383.3C681.8 382.9 682.4 382.6 682.8 382.5C683.2 382.4 683.9 382.3 684 382.5Z" fill="#df4e4b" stroke="#c8c8c8" stroke-width="1.5" stroke-linejoin="round" stroke-linecap="round"/>
<path d="M696.8 393.1C697.1 393.4 697.6 393.6 697.5 394.1C697.4 394.6 696.8 395.4 696.2 395.9C695.6 396.4 694.8 396.8 694.1 397.2C693.4 397.6 692.3 398.2 691.8 398.1C691.3 398.1 691.5 397.3 691.3 396.9C691.1 396.5 690.6 396.3 690.7 395.9C690.9 395.4 691.7 394.7 692.2 394.2C692.8 393.7 693.4 393.3 694 393C694.6 392.7 695.3 392.5 695.8 392.5C696.3 392.5 696.5 392.8 696.8 393.1Z" fill="#c72e4c" stroke="#c8c8c8" stroke-width="1.5" stroke-linejoin="round" stroke-linecap="round"/>
<path d="M696.2 393.5C696.3 393.7 695.8 394.3 695.6 394.6C695.5 394.9 695.6 395.2 695.3 395.5C695 395.8 694.4 396.2 694 396.4C693.6 396.6 693 396.8 692.7 396.8C692.4 396.8 692.4 396.4 692.3 396.2C692.2 396 692.1 395.8 692.2 395.5C692.3 395.2 692.4 394.7 692.7 394.4C693 394.1 693.6 394.1 694 393.9C694.4 393.7 694.8 393.4 695.2 393.3C695.6 393.2 696.1 393.3 696.2 393.5Z" fill="#df4e4b" stroke="#c8c8c8" stroke-width="1.5" stroke-linejoin="round" stroke-linecap="round"/>
<path d="M668.4 395C668.3 395.4 667.5 395.7 667.1 396C666.7 396.3 666.4 396.7 665.9 396.8C665.4 396.9 664.7 396.8 664.2 396.7C663.7 396.6 663.1 396.4 662.7 396.1C662.3 395.8 661.7 395.4 661.6 395C661.5 394.6 662 394.1 662.4 393.8C662.8 393.5 663.5 393.4 664.1 393.2C664.7 393 665.4 392.8 666 392.9C666.6 393 667.2 393.3 667.6 393.7C668 394.1 668.5 394.6 668.4 395Z" fill="#c72e4c" stroke="#c8c8c8" stroke-width="1.5" stroke-linejoin="round" stroke-linecap="round"/>
<path d="M666.8 395C666.8 395.2 666.4 395.5 666.2 395.6C666 395.8 665.7 395.8 665.4 395.9C665.1 396 664.7 396.2 664.4 396.2C664.1 396.1 663.9 395.8 663.7 395.6C663.5 395.4 663.3 395.2 663.3 395C663.3 394.8 663.3 394.5 663.5 394.3C663.7 394.1 664 393.9 664.4 393.8C664.8 393.7 665.3 393.7 665.6 393.8C665.9 393.9 665.9 394.2 666.1 394.4C666.3 394.6 666.8 394.8 666.8 395Z" fill="#df4e4b" stroke="#c8c8c8" stroke-width="1.5" stroke-linejoin="round" stroke-linecap="round"/>
<path d="M700 232C702 231.3 708 228 712 228C716 228 720.2 232 724 232C727.8 232 731.5 228 735 228C738.5 228 743.3 231.3 745 232" fill="none" stroke="#d6cccc" stroke-width="1.3" stroke-linejoin="round" stroke-linecap="round"/>
<path d="M730.9 242C730.6 242.8 730.4 243.4 729.6 243.9C728.8 244.5 727.5 245.1 726.2 245.3C724.8 245.5 722.7 245.4 721.5 245.1C720.2 244.7 719.1 243.8 718.8 243.1C718.5 242.5 719.1 241.7 719.7 241C720.2 240.4 720.8 239.8 721.9 239.4C723.1 238.9 724.8 238.2 726.4 238.2C727.9 238.2 730.7 238.7 731.4 239.3C732.2 239.9 731.2 241.2 730.9 242Z" fill="#b61b48" stroke="#d6cccc" stroke-width="1.3" stroke-linejoin="round" stroke-linecap="round"/>
<path d="M704.7 246C704.7 246.3 704.9 246.7 704.7 247C704.5 247.3 703.9 247.7 703.4 247.7C703 247.7 702.6 247.2 702.2 247C701.7 246.8 700.7 246.8 700.6 246.6C700.4 246.4 701.1 245.9 701.3 245.6C701.5 245.3 701.5 244.8 701.8 244.6C702.2 244.5 702.9 244.4 703.4 244.5C703.9 244.5 704.6 244.7 704.8 245C705 245.2 704.7 245.7 704.7 246Z" fill="none" stroke="#d6cccc" stroke-width="1.2" stroke-linejoin="round" stroke-linecap="round"/>
<path d="M728 262C726.7 261.7 724 265.7 722 268C720 270.3 717.7 273.3 716 276C714.3 278.7 712 282.3 712 284C712 285.7 714.3 287 716 286C717.7 285 719.7 280.7 722 278C724.3 275.3 729 272.7 730 270C731 267.3 729.3 262.3 728 262Z" fill="#c72e4c" stroke="#d6cccc" stroke-width="1.3" stroke-linejoin="round" stroke-linecap="round"/>
<path d="M526 527.6C526.7 527.1 528.7 524.8 530 524.5C531.3 524.2 532.7 526 534 526.1C535.3 526.2 536.7 525.3 538 525C539.3 524.7 540.7 524 542 524.1C543.3 524.2 544.7 525.1 546 525.6C547.3 526.1 548.7 526.7 550 527.4C551.3 528.1 552.7 529.1 554 529.6C555.3 530.1 556.7 530.6 558 530.5C559.3 530.4 560.7 529.2 562 528.9C563.3 528.6 564.7 528.9 566 528.7C567.3 528.5 568.7 528.1 570 527.7C571.3 527.3 572.7 526.5 574 526.5C575.3 526.5 576.7 526.7 578 527.5C579.3 528.3 580.7 530.8 582 531.3C583.3 531.8 584.7 530.2 586 530.2C587.3 530.2 588.7 532 590 531.4C591.3 530.8 592.7 528.3 594 526.7C595.3 525.1 596.7 522.7 598 521.7C599.3 520.7 600.7 519.5 602 520.7C603.3 521.9 604.7 527.1 606 528.7C607.3 530.3 608.7 530.2 610 530.4C611.3 530.6 612.7 530.1 614 530.1C615.3 530.1 616.7 530.4 618 530.6C619.3 530.8 620.7 531.6 622 531.3C623.3 531 624.7 529.2 626 528.7C627.3 528.2 628.7 528.4 630 528.2C631.3 528 632.7 527.1 634 527.3C635.3 527.5 636.7 528.9 638 529.4C639.3 529.9 640.7 530.2 642 530.5C643.3 530.8 644.7 531.5 646 531.1C647.3 530.7 648.7 528.9 650 528.3C651.3 527.7 652.7 528.2 654 527.7C655.3 527.2 656.7 526.6 658 525.4C659.3 524.2 660.7 521.9 662 520.3C663.3 518.7 664.7 517 666 515.6C667.3 514.2 668.7 512.8 670 512.1C671.3 511.4 672.7 511.7 674 511.5C675.3 511.3 676.7 511.4 678 510.9C679.3 510.4 680.7 509.8 682 508.5C683.3 507.2 684.7 504.7 686 503.3C687.3 501.9 689.3 500.8 690 500.3" fill="none" stroke="#c8c8c8" stroke-width="2.0" stroke-linejoin="round" stroke-linecap="round"/>
<path d="M526 525.1C526.7 525.1 528.7 524.8 530 525.1C531.3 525.4 532.7 526.3 534 527C535.3 527.7 536.7 528.7 538 529.4C539.3 530.1 540.7 531.1 542 531.4C543.3 531.7 544.7 531.3 546 531.2C547.3 531.1 548.7 531.1 550 530.9C551.3 530.7 552.7 529.8 554 529.9C555.3 530 556.7 531.5 558 531.4C559.3 531.3 560.7 529 562 529.2C563.3 529.4 564.7 532.1 566 532.4C567.3 532.7 568.7 530.5 570 530.8C571.3 531.1 572.7 533.8 574 534.4C575.3 535 576.7 534.6 578 534.3C579.3 534 580.7 533.5 582 532.7C583.3 531.9 584.7 530.3 586 529.5C587.3 528.7 588.7 528.7 590 528.1C591.3 527.5 592.7 526.5 594 526C595.3 525.5 596.7 525.2 598 525.3C599.3 525.4 600.7 525.3 602 526.6C603.3 527.9 604.7 531.7 606 532.9C607.3 534.1 608.7 533.6 610 533.8C611.3 534 612.7 534.4 614 534.1C615.3 533.9 616.7 533 618 532.3C619.3 531.6 620.7 530.4 622 530C623.3 529.6 624.7 529.5 626 530C627.3 530.5 628.7 532.3 630 532.9C631.3 533.5 632.7 533.3 634 533.6C635.3 533.9 636.7 534.2 638 534.5C639.3 534.8 640.7 535.7 642 535.2C643.3 534.7 644.7 532.4 646 531.5C647.3 530.6 648.7 530.8 650 529.9C651.3 529 652.7 526.4 654 525.9C655.3 525.4 656.7 527.2 658 526.6C659.3 526 660.7 523.4 662 522.5C663.3 521.6 664.7 522 666 521.4C667.3 520.8 668.7 519.5 670 518.7C671.3 518 672.7 518 674 516.9C675.3 515.8 676.7 514.2 678 512.4C679.3 510.6 680.7 507.4 682 506.1C683.3 504.8 684.7 505.6 686 504.7C687.3 503.8 689.3 501.6 690 501" fill="none" stroke="#c8c8c8" stroke-width="2.0" stroke-linejoin="round" stroke-linecap="round"/>
<path d="M526 528.4C526.7 528.5 528.7 528.6 530 529.1C531.3 529.6 532.7 530.9 534 531.2C535.3 531.5 536.7 530.4 538 531C539.3 531.6 540.7 534 542 534.6C543.3 535.2 544.7 534.9 546 534.7C547.3 534.5 548.7 533.4 550 533.2C551.3 533 552.7 533.4 554 533.4C555.3 533.4 556.7 532.8 558 533C559.3 533.2 560.7 534.2 562 534.4C563.3 534.6 564.7 533.7 566 534.1C567.3 534.5 568.7 536 570 536.6C571.3 537.2 572.7 537.7 574 537.8C575.3 537.9 576.7 537.6 578 537.4C579.3 537.2 580.7 537.2 582 536.6C583.3 536 584.7 535 586 534C587.3 533 588.7 531.3 590 530.7C591.3 530.1 592.7 530.5 594 530.3C595.3 530.1 596.7 529.2 598 529.3C599.3 529.3 600.7 529.2 602 530.6C603.3 532 604.7 536.9 606 537.7C607.3 538.5 608.7 535.6 610 535.5C611.3 535.4 612.7 537.2 614 537.3C615.3 537.3 616.7 536.1 618 535.8C619.3 535.4 620.7 535.3 622 535.2C623.3 535.1 624.7 535.6 626 535.4C627.3 535.2 628.7 533.7 630 533.9C631.3 534.1 632.7 535.7 634 536.6C635.3 537.5 636.7 539.2 638 539.5C639.3 539.8 640.7 539 642 538.3C643.3 537.6 644.7 536.5 646 535.4C647.3 534.3 648.7 532.6 650 531.5C651.3 530.4 652.7 529 654 528.5C655.3 528 656.7 528.6 658 528.4C659.3 528.2 660.7 527.8 662 527.5C663.3 527.2 664.7 527.6 666 526.6C667.3 525.6 668.7 522.9 670 521.8C671.3 520.7 672.7 521.4 674 519.9C675.3 518.4 676.7 514.5 678 513C679.3 511.5 680.7 512.1 682 511C683.3 509.9 684.7 507.7 686 506.5C687.3 505.3 689.3 504.2 690 503.8" fill="none" stroke="#c8c8c8" stroke-width="2.0" stroke-linejoin="round" stroke-linecap="round"/>
<path d="M526 532.4C526.7 532.4 528.7 532.7 530 532.5C531.3 532.3 532.7 531.3 534 531.4C535.3 531.5 536.7 532.4 538 533.3C539.3 534.2 540.7 536 542 536.7C543.3 537.5 544.7 537.3 546 537.8C547.3 538.3 548.7 539.6 550 539.6C551.3 539.6 552.7 538.4 554 538C555.3 537.6 556.7 537.4 558 537.1C559.3 536.8 560.7 536.6 562 536.2C563.3 535.8 564.7 534.8 566 534.9C567.3 535 568.7 536.3 570 536.7C571.3 537.1 572.7 537 574 537.2C575.3 537.4 576.7 537.8 578 538.1C579.3 538.5 580.7 539.4 582 539.3C583.3 539.2 584.7 537.8 586 537.4C587.3 537 588.7 537.5 590 536.6C591.3 535.8 592.7 533.5 594 532.3C595.3 531.1 596.7 529.4 598 529.2C599.3 529 600.7 529.1 602 530.9C603.3 532.7 604.7 538.2 606 539.9C607.3 541.6 608.7 541.1 610 541C611.3 540.9 612.7 539.5 614 539C615.3 538.5 616.7 538.2 618 538C619.3 537.8 620.7 537.7 622 537.7C623.3 537.7 624.7 538.4 626 538.1C627.3 537.8 628.7 535.5 630 535.7C631.3 535.9 632.7 539 634 539.5C635.3 540 636.7 538.5 638 538.8C639.3 539.1 640.7 541.2 642 541.2C643.3 541.2 644.7 539.3 646 538.5C647.3 537.7 648.7 537.2 650 536.2C651.3 535.2 652.7 533.1 654 532.2C655.3 531.3 656.7 531.5 658 530.7C659.3 529.9 660.7 527.9 662 527.2C663.3 526.5 664.7 526.9 666 526.6C667.3 526.3 668.7 526 670 525.4C671.3 524.8 672.7 524.1 674 523.1C675.3 522.1 676.7 520.9 678 519.4C679.3 517.9 680.7 516.2 682 514.3C683.3 512.4 684.7 509.3 686 508.2C687.3 507.1 689.3 507.6 690 507.5" fill="none" stroke="#c8c8c8" stroke-width="1.4" stroke-linejoin="round" stroke-linecap="round"/>
<path d="M526 533.1C526.7 533.8 528.7 536.5 530 537.4C531.3 538.3 532.7 537.9 534 538.4C535.3 538.9 536.7 540 538 540.1C539.3 540.2 540.7 539.6 542 539.3C543.3 539 544.7 538.5 546 538.3C547.3 538.1 548.7 537.8 550 538C551.3 538.2 552.7 539 554 539.5C555.3 540 556.7 540.5 558 540.7C559.3 541 560.7 540.7 562 541C563.3 541.3 564.7 542.7 566 542.7C567.3 542.7 568.7 541.7 570 541.2C571.3 540.8 572.7 540.2 574 540C575.3 539.8 576.7 540 578 539.9C579.3 539.8 580.7 540 582 539.6C583.3 539.2 584.7 537.7 586 537.8C587.3 537.9 588.7 540.2 590 540.3C591.3 540.4 592.7 539.1 594 538.3C595.3 537.5 596.7 535.4 598 535.3C599.3 535.2 600.7 536.7 602 537.8C603.3 538.9 604.7 541.4 606 541.7C607.3 542 608.7 540 610 539.4C611.3 538.8 612.7 538.2 614 538.3C615.3 538.4 616.7 539.8 618 540.1C619.3 540.4 620.7 539.4 622 539.9C623.3 540.4 624.7 542.5 626 543C627.3 543.5 628.7 542.3 630 542.6C631.3 542.9 632.7 544.7 634 544.6C635.3 544.5 636.7 542.8 638 542C639.3 541.2 640.7 540.6 642 539.8C643.3 538.9 644.7 537.6 646 536.9C647.3 536.2 648.7 535.4 650 535.6C651.3 535.8 652.7 537.5 654 537.9C655.3 538.3 656.7 538.6 658 537.9C659.3 537.2 660.7 534.8 662 533.7C663.3 532.6 664.7 532.5 666 531.5C667.3 530.5 668.7 529.3 670 527.4C671.3 525.5 672.7 521.7 674 520.1C675.3 518.5 676.7 518.7 678 517.8C679.3 516.9 680.7 515.3 682 514.6C683.3 513.9 684.7 514 686 513.8C687.3 513.6 689.3 513.5 690 513.5" fill="none" stroke="#d6cccc" stroke-width="1.4" stroke-linejoin="round" stroke-linecap="round"/>
<path d="M526 538.6C526.7 538.5 528.7 537.7 530 537.7C531.3 537.7 532.7 538.6 534 538.8C535.3 539 536.7 539 538 539.1C539.3 539.2 540.7 539.1 542 539.3C543.3 539.5 544.7 539.2 546 540.1C547.3 541 548.7 544 550 544.7C551.3 545.4 552.7 544.3 554 544.2C555.3 544.1 556.7 544 558 544C559.3 544 560.7 544.5 562 544.4C563.3 544.3 564.7 544.2 566 543.5C567.3 542.8 568.7 540.1 570 540C571.3 539.9 572.7 542.6 574 543C575.3 543.4 576.7 542.3 578 542.6C579.3 542.9 580.7 544.4 582 544.6C583.3 544.8 584.7 543.6 586 543.6C587.3 543.6 588.7 545.5 590 544.8C591.3 544.1 592.7 541 594 539.2C595.3 537.4 596.7 534.5 598 534.1C599.3 533.7 600.7 535.3 602 536.7C603.3 538.1 604.7 541.3 606 542.7C607.3 544.1 608.7 544.7 610 544.9C611.3 545.1 612.7 543.7 614 544.1C615.3 544.5 616.7 547.5 618 547.4C619.3 547.3 620.7 544 622 543.6C623.3 543.2 624.7 545.2 626 545.2C627.3 545.2 628.7 544 630 543.5C631.3 543 632.7 542 634 541.9C635.3 541.8 636.7 542.6 638 543.1C639.3 543.6 640.7 545 642 545C643.3 545 644.7 543.6 646 543.4C647.3 543.2 648.7 544.1 650 543.9C651.3 543.6 652.7 543.2 654 541.9C655.3 540.6 656.7 537.4 658 536.2C659.3 535 660.7 535.5 662 534.8C663.3 534 664.7 532.8 666 531.7C667.3 530.6 668.7 529.3 670 528.2C671.3 527.1 672.7 525.7 674 525C675.3 524.3 676.7 525.1 678 524.2C679.3 523.4 680.7 520.9 682 519.9C683.3 518.9 684.7 519.5 686 518.3C687.3 517.1 689.3 513.5 690 512.5" fill="none" stroke="#d6cccc" stroke-width="1.4" stroke-linejoin="round" stroke-linecap="round"/>
<path d="M556.5 533.3C556.5 533.7 556.4 534.1 555.8 534.5C555.3 534.9 554.2 535.5 553.2 535.7C552.2 535.9 550.9 535.9 549.8 535.9C548.8 535.8 547.5 535.7 547.1 535.4C546.7 535.1 547 534.5 547.4 534.1C547.8 533.7 548.5 533.1 549.4 532.9C550.2 532.6 551.4 532.7 552.4 532.6C553.5 532.4 555.2 532 555.8 532.2C556.5 532.3 556.5 532.9 556.5 533.3Z" fill="#d7414e" stroke="#d6cccc" stroke-width="1.0" stroke-linejoin="round" stroke-linecap="round"/>
<path d="M585.9 535.2C586 535.6 584.8 536.1 584.1 536.6C583.4 537.1 582.7 537.8 581.5 538.1C580.3 538.4 578 538.5 576.9 538.4C575.7 538.3 574.9 537.8 574.6 537.4C574.3 537 574.9 536.5 575.2 536C575.6 535.6 575.9 535 576.8 534.7C577.7 534.4 579.5 534.4 580.6 534.3C581.7 534.3 582.7 534.3 583.6 534.5C584.5 534.6 585.8 534.9 585.9 535.2Z" fill="#df4e4b" stroke="#d6cccc" stroke-width="1.0" stroke-linejoin="round" stroke-linecap="round"/>
<path d="M624.8 534.5C624.6 534.9 623.8 535.2 623.1 535.6C622.5 535.9 621.9 536.4 621 536.6C620.1 536.8 618.4 537 617.7 536.8C616.9 536.7 616.9 536.2 616.5 535.9C616 535.6 614.7 535.2 614.9 534.9C615.2 534.6 616.9 534.3 617.9 534C618.9 533.7 619.7 533.1 620.7 532.9C621.8 532.8 623.5 532.9 624.2 533.2C624.9 533.5 625 534.1 624.8 534.5Z" fill="#c72e4c" stroke="#d6cccc" stroke-width="1.0" stroke-linejoin="round" stroke-linecap="round"/>
<path d="M644.9 532.9C644.8 533.3 643.7 533.8 643.1 534.3C642.5 534.8 642.1 535.4 641.3 535.7C640.5 536 639.2 536.1 638.1 536.1C637 536.2 634.9 536.4 634.6 536.1C634.3 535.8 635.8 534.9 636.1 534.3C636.5 533.8 635.9 533.2 636.7 532.7C637.4 532.2 639.3 531.5 640.5 531.4C641.7 531.2 643.1 531.4 643.8 531.6C644.6 531.9 645 532.4 644.9 532.9Z" fill="#df4e4b" stroke="#d6cccc" stroke-width="1.0" stroke-linejoin="round" stroke-linecap="round"/>
<path d="M665.8 530.8C665.6 531.4 664.1 531.7 663.3 532.3C662.5 532.8 662.1 533.9 661.2 534C660.2 534.2 658.7 533.5 657.6 533.2C656.4 532.9 654.8 532.7 654.3 532.2C653.7 531.7 653.7 530.6 654.3 530.1C654.9 529.6 656.8 529.6 657.9 529.3C659 528.9 659.8 528.2 660.9 528.2C662 528.1 663.8 528.5 664.6 528.9C665.4 529.4 666 530.3 665.8 530.8Z" fill="#c72e4c" stroke="#d6cccc" stroke-width="1.0" stroke-linejoin="round" stroke-linecap="round"/>
<path d="M670.9 518.9C671 519.3 671.3 519.6 671.1 520.1C670.8 520.6 670.2 521.5 669.5 521.8C668.8 522.1 667.9 521.8 667 521.9C666.1 522 664.5 522.6 664.1 522.4C663.7 522.2 664.5 521.2 664.7 520.6C664.8 520.1 664.6 519.3 665.1 519C665.7 518.6 667.1 518.5 668 518.3C668.8 518.1 669.9 517.6 670.4 517.7C670.9 517.8 670.8 518.5 670.9 518.9Z" fill="#d7414e" stroke="#d6cccc" stroke-width="1.0" stroke-linejoin="round" stroke-linecap="round"/>
<path d="M695.9 501.5C695.7 502 694.2 502.7 693.4 503.2C692.7 503.7 692.1 504.1 691.2 504.5C690.3 504.8 688.9 505.3 688 505.3C687.2 505.3 686.3 505 686 504.7C685.7 504.4 686.1 503.8 686.4 503.4C686.6 503 686.9 502.5 687.6 502.1C688.3 501.8 689.2 501.5 690.3 501.2C691.4 500.9 693.2 500.3 694.1 500.3C695.1 500.4 696 501 695.9 501.5Z" fill="#d7414e" stroke="#d6cccc" stroke-width="1.0" stroke-linejoin="round" stroke-linecap="round"/>
<path d="M710.3 494.6C710.3 495.1 710.1 495.8 709.4 495.9C708.8 496.1 707.4 495.6 706.4 495.5C705.4 495.5 704.1 495.7 703.5 495.4C702.9 495.2 703.1 494.5 702.9 494.1C702.7 493.6 702.1 493.2 702.3 492.8C702.5 492.5 703.4 492.1 704.1 492C704.9 492 705.9 492.3 706.9 492.5C707.8 492.7 709.2 492.8 709.8 493.2C710.4 493.5 710.4 494.2 710.3 494.6Z" fill="#c72e4c" stroke="#d6cccc" stroke-width="1.0" stroke-linejoin="round" stroke-linecap="round"/>
<path d="M726.1 484.3C726.2 484.6 725.7 485.1 725.1 485.4C724.5 485.7 723.5 486.2 722.7 486.2C721.9 486.1 721.2 485.4 720.3 485.1C719.4 484.9 717.7 484.8 717.3 484.5C716.9 484.1 717.6 483.4 718 483.1C718.5 482.8 719.4 482.6 720.2 482.4C721 482.2 722.2 481.9 722.9 482C723.7 482.1 724.2 482.8 724.8 483.2C725.3 483.5 726 483.9 726.1 484.3Z" fill="#d7414e" stroke="#d6cccc" stroke-width="1.0" stroke-linejoin="round" stroke-linecap="round"/>
<path d="M503.2 472.8C503.5 473.4 502.7 475 502.1 476C501.4 476.9 500.4 477.8 499.4 478.7C498.3 479.6 496.9 481 495.9 481.3C494.8 481.7 493.6 481.3 493 480.9C492.5 480.5 492.7 479.7 492.6 479C492.5 478.2 491.9 477.2 492.6 476.5C493.2 475.8 495.1 475.4 496.4 474.7C497.6 473.9 499 472.5 500.1 472.1C501.3 471.8 502.8 472.1 503.2 472.8Z" fill="#c8c8c8" stroke="none" stroke-width="1.2" stroke-linejoin="round" stroke-linecap="round"/>
<path d="M508.8 467.9C509.3 468.4 509.8 469 509.6 469.8C509.4 470.6 508.6 472.1 507.7 472.7C506.8 473.3 505.1 473.5 504 473.6C502.9 473.7 501.6 473.8 501.1 473.4C500.5 473 500.6 471.9 500.8 471.2C501 470.5 501.8 469.8 502.4 469.2C503 468.6 503.7 468 504.5 467.7C505.3 467.3 506.3 467.1 507 467.1C507.7 467.1 508.4 467.4 508.8 467.9Z" fill="#c8c8c8" stroke="none" stroke-width="1.2" stroke-linejoin="round" stroke-linecap="round"/>
<path d="M493 482.7C493.3 483.2 492.7 484 492.3 484.6C491.8 485.2 491.2 485.7 490.4 486.2C489.6 486.6 488.2 487.3 487.5 487.2C486.8 487.1 486.6 486.1 486.3 485.6C486 485.1 485.7 484.8 485.7 484.3C485.7 483.7 485.7 482.8 486.3 482.4C486.8 482 488.2 482.1 489 482.1C489.7 482 490.2 482.1 490.8 482.2C491.5 482.3 492.8 482.3 493 482.7Z" fill="#c8c8c8" stroke="none" stroke-width="1.2" stroke-linejoin="round" stroke-linecap="round"/>
<path d="M499.1 508.2C498.7 508.8 497.5 509.1 496.6 509.3C495.7 509.6 494.5 510 493.5 509.7C492.4 509.5 491.4 508.5 490.5 507.7C489.5 507 488.3 505.9 488 505C487.8 504.1 488.3 502.8 489.1 502.4C489.9 501.9 491.5 502.3 492.8 502.3C494 502.3 495.6 502.1 496.6 502.6C497.7 503.1 498.8 504.5 499.2 505.4C499.6 506.4 499.6 507.5 499.1 508.2Z" fill="#c8c8c8" stroke="none" stroke-width="1.2" stroke-linejoin="round" stroke-linecap="round"/>
<path d="M506.3 516.4C506.1 517.2 506.4 519 505.6 519.1C504.8 519.2 502.5 517.8 501.4 517.1C500.2 516.4 499.3 515.7 498.6 515C498 514.3 497.8 513.5 497.6 512.7C497.4 511.8 496.8 510.6 497.3 510C497.8 509.4 499.3 509 500.6 509.1C501.9 509.3 503.9 510.3 504.9 511.1C506 512 506.6 513.3 506.9 514.2C507.1 515.1 506.5 515.5 506.3 516.4Z" fill="#c8c8c8" stroke="none" stroke-width="1.2" stroke-linejoin="round" stroke-linecap="round"/>
<path d="M517.9 522.8C517.4 523.4 516.3 523.5 515.4 523.8C514.4 524.2 513.4 525.1 512.2 524.9C510.9 524.8 508.7 523.7 507.6 522.9C506.6 522.1 506.2 521.1 505.9 520.3C505.5 519.4 505 518.2 505.6 517.7C506.3 517.2 508.1 517.2 509.6 517.2C511.1 517.1 513.2 516.9 514.7 517.4C516.1 518 517.9 519.5 518.5 520.4C519 521.3 518.4 522.2 517.9 522.8Z" fill="#c8c8c8" stroke="none" stroke-width="1.2" stroke-linejoin="round" stroke-linecap="round"/>
<path d="M527.1 529C527.4 529.7 527.8 531.1 527 531.4C526.2 531.6 523.7 530.6 522.3 530.4C520.9 530.2 519.5 530.4 518.5 530C517.5 529.6 516.7 528.5 516.5 527.9C516.4 527.3 516.8 526.5 517.4 526.2C518 525.8 519 525.8 520.1 525.6C521.2 525.3 522.9 524.7 523.8 524.9C524.8 525.2 525.1 526.6 525.7 527.3C526.2 527.9 526.9 528.4 527.1 529Z" fill="#c8c8c8" stroke="none" stroke-width="1.2" stroke-linejoin="round" stroke-linecap="round"/>
<path d="M490.1 512C490.2 513.1 490.2 515.2 489.8 515.9C489.4 516.6 488.1 516.1 487.4 516C486.7 516 486.3 516.1 485.7 515.7C485.2 515.3 484.3 514.7 484 513.8C483.8 512.9 483.9 511.4 484.2 510.3C484.4 509.2 484.8 508 485.4 507.4C486 506.7 487 506 487.6 506.3C488.2 506.6 488.5 508.4 488.9 509.3C489.3 510.3 489.9 510.9 490.1 512Z" fill="#c8c8c8" stroke="none" stroke-width="1.2" stroke-linejoin="round" stroke-linecap="round"/>
<path d="M499.9 476.6C499.8 476.8 499.6 477 499.2 477.1C498.9 477.2 498.5 477 498 477C497.5 476.9 496.8 477 496.4 476.8C496 476.6 495.7 476.1 495.6 475.8C495.5 475.4 495.6 475 495.9 474.9C496.3 474.8 497 475 497.4 475C497.9 475 498.4 474.7 498.8 474.8C499.3 474.9 499.9 475.4 500.1 475.7C500.2 476 500 476.4 499.9 476.6Z" fill="#e95c47" stroke="none" stroke-width="1.2" stroke-linejoin="round" stroke-linecap="round"/>
<path d="M498.1 508.6C498 508.9 497.9 509.3 497.5 509.4C497.2 509.5 496.5 509.3 496 509.2C495.6 509.1 495.1 508.8 494.8 508.6C494.5 508.3 494.4 508.1 494.3 507.8C494.2 507.6 494.2 507.3 494.4 507.1C494.6 507 495.1 507 495.4 507C495.8 507 496.2 506.9 496.7 507.1C497.1 507.2 497.8 507.5 498.1 507.7C498.3 508 498.2 508.4 498.1 508.6Z" fill="#e95c47" stroke="none" stroke-width="1.2" stroke-linejoin="round" stroke-linecap="round"/>
<path d="M510.3 518.7C510.3 519 510 519.3 509.6 519.4C509.2 519.6 508.5 519.5 508 519.4C507.5 519.2 507.2 518.9 506.8 518.6C506.4 518.3 505.9 518 505.8 517.8C505.7 517.5 506 517.2 506.2 517C506.4 516.8 506.7 516.5 507.1 516.5C507.6 516.5 508.3 516.8 508.7 517C509.1 517.2 509.4 517.5 509.6 517.8C509.9 518.1 510.3 518.4 510.3 518.7Z" fill="#e95c47" stroke="none" stroke-width="1.2" stroke-linejoin="round" stroke-linecap="round"/>
<path d="M670.5 543.7C670 544.8 668 545.6 666.3 545.6C664.6 545.6 662.1 544.8 660.2 544C658.3 543.2 656.5 542.3 654.8 541.1C653.1 539.9 651 538.2 650.2 536.8C649.4 535.4 649.4 533.5 650.1 532.6C650.8 531.7 652.9 531.7 654.5 531.3C656.1 530.9 657.8 529.8 659.7 530.3C661.7 530.8 664.6 532.8 666.2 534.3C667.8 535.8 668.6 537.5 669.3 539.1C670 540.7 671 542.6 670.5 543.7Z" fill="none" stroke="#d6cccc" stroke-width="1.4" stroke-linejoin="round" stroke-linecap="round"/>
<path d="M666.2 541.4C666.1 542.1 664.9 542.6 663.9 542.7C662.9 542.9 661.5 542.7 660.2 542.3C659 541.9 657.3 540.9 656.4 540.1C655.5 539.3 655.4 538.3 655 537.4C654.6 536.5 653.6 535.2 653.9 534.7C654.2 534.2 655.8 534.4 656.8 534.2C657.8 534.1 658.7 533.5 659.8 533.8C660.9 534.1 662.6 535.2 663.4 536C664.2 536.8 664 537.6 664.5 538.5C665 539.4 666.3 540.7 666.2 541.4Z" fill="#b61b48" stroke="#d6cccc" stroke-width="1.4" stroke-linejoin="round" stroke-linecap="round"/>
<path d="M624.2 555C624.3 555.4 624.3 556 623.8 556.2C623.3 556.4 621.9 556.2 621 556.3C620.1 556.3 618.9 556.7 618.4 556.5C617.9 556.4 618.1 555.7 618 555.4C617.9 555.1 617.4 554.8 617.6 554.5C617.8 554.3 618.4 554.1 619 553.9C619.6 553.7 620.4 553.4 621.2 553.3C622 553.3 623.3 553.5 623.8 553.8C624.3 554.1 624.2 554.6 624.2 555Z" fill="#c8c8c8" stroke="#d6cccc" stroke-width="1" stroke-linejoin="round" stroke-linecap="round"/>
<path d="M572 569.1C572.6 570.5 573.4 572.8 572.9 573.9C572.4 575 570.3 575.4 569.2 575.9C568.1 576.4 567.3 576.9 566.2 577C565.1 577.1 563.6 577.1 562.6 576.4C561.6 575.7 560.4 574.2 560 572.9C559.6 571.6 560.2 570.1 560.5 568.7C560.8 567.3 560.9 565.2 561.8 564.5C562.7 563.8 564.5 564.1 565.8 564.3C567 564.5 568.3 565 569.3 565.8C570.3 566.6 571.4 567.8 572 569.1Z" fill="#a40844" stroke="#d6cccc" stroke-width="1.5" stroke-linejoin="round" stroke-linecap="round"/>
<path d="M569.3 570C569.4 570.8 568.9 571.4 568.8 572.2C568.6 573 568.8 574.3 568.4 574.7C568 575.1 566.9 574.6 566.1 574.5C565.4 574.4 564.4 574.8 563.9 574.3C563.4 573.8 563.5 572.6 563.3 571.8C563.1 571 562.7 570.4 562.8 569.7C562.9 569 563.5 568.2 564 567.8C564.5 567.3 565.2 567 565.9 567C566.6 567 567.6 567 568.2 567.5C568.8 568 569.2 569.2 569.3 570Z" fill="none" stroke="#d6cccc" stroke-width="1.5" stroke-linejoin="round" stroke-linecap="round"/>
<path d="M583.7 577.1C583.6 577.8 582.5 578.3 581.7 578.8C580.9 579.3 580.2 579.9 579.1 580.1C578 580.3 576 580.3 575.1 579.8C574.2 579.3 574.1 577.9 573.6 577.1C573.1 576.3 572 575.6 571.9 574.8C571.8 574 572.2 572.7 573 572.2C573.8 571.7 575.6 571.6 576.9 571.6C578.2 571.6 580 571.6 581 572.1C582 572.6 582.1 574 582.6 574.8C583.1 575.6 583.9 576.4 583.7 577.1Z" fill="none" stroke="#d6cccc" stroke-width="1.5" stroke-linejoin="round" stroke-linecap="round"/>
<path d="M615.8 571C616 571.8 613.5 573.2 612.4 574.3C611.2 575.4 610.6 577.1 608.9 577.7C607.2 578.3 604.4 577.9 602.2 578.1C600 578.3 596.9 579.3 595.6 579C594.3 578.7 594.5 577.3 594.5 576.4C594.5 575.5 594.4 574.6 595.3 573.7C596.2 572.8 597.9 571.6 599.8 570.8C601.6 570 604.5 568.9 606.4 568.7C608.3 568.5 609.5 569.4 611.1 569.8C612.7 570.2 615.6 570.2 615.8 571Z" fill="none" stroke="#d6cccc" stroke-width="1.5" stroke-linejoin="round" stroke-linecap="round"/>
<path d="M609.2 572.7C609.2 573.2 609.5 573.6 609.1 574.2C608.7 574.8 607.9 575.6 606.8 576.1C605.7 576.6 603.9 577 602.6 577.2C601.3 577.4 599.7 577.4 598.8 577.1C597.9 576.9 597.3 576.2 597.2 575.7C597.1 575.2 597.5 574.3 598.3 573.8C599.1 573.2 600.8 572.9 602 572.4C603.2 571.9 604.2 571.1 605.4 570.9C606.6 570.7 608.5 570.7 609.1 571C609.7 571.3 609.2 572.2 609.2 572.7Z" fill="#b61b48" stroke="#d6cccc" stroke-width="1.5" stroke-linejoin="round" stroke-linecap="round"/>
<path d="M512 616C505.7 614.3 512.7 608.8 514 606C515.3 603.2 517.3 600.8 520 599C522.7 597.2 526.3 595.9 530 595C533.7 594.1 538.3 593.3 542 593.5C545.7 593.7 549.7 594.4 552 596C554.3 597.6 555.5 600.7 556 603C556.5 605.3 555.7 607.8 555 610C554.3 612.2 559.2 615 552 616C544.8 617 518.3 617.7 512 616Z" fill="#c8c8c8" stroke="#c8c8c8" stroke-width="1.5" stroke-linejoin="round" stroke-linecap="round"/>
<path d="M518 616C513.7 614.7 519.3 610.2 521 608C522.7 605.8 525.2 604 528 603C530.8 602 535 601.7 538 602C541 602.3 544.5 602.7 546 605C547.5 607.3 551.7 614.2 547 616C542.3 617.8 522.3 617.3 518 616Z" fill="#c72e4c" stroke="#d6cccc" stroke-width="1.2" stroke-linejoin="round" stroke-linecap="round"/>
<path d="M524 616C522.3 615 525.5 611.5 527 610C528.5 608.5 531.2 607 533 607C534.8 607 537.3 608.5 538 610C538.7 611.5 539.3 615 537 616C534.7 617 525.7 617 524 616Z" fill="#e95c47" stroke="#d6cccc" stroke-width="1.1" stroke-linejoin="round" stroke-linecap="round"/>
<path d="M520 603C519.3 602.5 523.7 599.8 526 599C528.3 598.2 533.3 597.5 534 598C534.7 598.5 532.3 601.2 530 602C527.7 602.8 520.7 603.5 520 603Z" fill="#df4e4b" stroke="none" stroke-width="0" stroke-linejoin="round" stroke-linecap="round"/>
<path d="M540 590C539.3 588.3 545.3 586 548 586C550.7 586 555.3 588.3 556 590C556.7 591.7 554.7 596 552 596C549.3 596 540.7 591.7 540 590Z" fill="#c8c8c8" stroke="#c8c8c8" stroke-width="1" stroke-linejoin="round" stroke-linecap="round"/>
<path d="M558 600C557.7 597.7 558.7 592.7 560 590C561.3 587.3 564 584.7 566 584C568 583.3 570.3 584.7 572 586C573.7 587.3 574.3 590.3 576 592C577.7 593.7 581.3 594.2 582 596C582.7 597.8 581.7 601.7 580 603C578.3 604.3 574.3 604.5 572 604C569.7 603.5 567.7 600 566 600C564.3 600 563.3 604 562 604C560.7 604 558.3 602.3 558 600Z" fill="#a40844" stroke="#d6cccc" stroke-width="1.5" stroke-linejoin="round" stroke-linecap="round"/>
<path d="M611.4 610.1C611.7 610.9 610.2 612 608.7 612.5C607.2 613 604.5 613.1 602.6 613C600.7 612.9 599.2 612.3 597.1 611.9C595 611.5 591.6 611.5 590.3 610.8C589 610.1 588.8 608.7 589.2 607.9C589.6 607.1 591.4 606.5 592.8 606.1C594.2 605.7 595.9 605.8 597.8 605.6C599.6 605.4 602.4 604.6 603.9 605C605.4 605.4 605.6 606.9 606.9 607.7C608.1 608.6 611.1 609.3 611.4 610.1Z" fill="none" stroke="#d6cccc" stroke-width="1.4" stroke-linejoin="round" stroke-linecap="round"/>
<path d="M605.6 609.6C605.6 610.1 605.8 610.8 605.1 611.1C604.4 611.4 602.7 611.2 601.5 611.2C600.3 611.2 598.7 611.5 597.7 611.3C596.7 611.1 596 610.4 595.4 609.9C594.8 609.4 593.8 608.8 593.9 608.4C594 608 595.5 607.8 596.2 607.5C596.9 607.2 597.3 606.5 598.3 606.4C599.3 606.3 601.1 606.5 602.2 606.8C603.3 607.1 604.4 607.6 605 608.1C605.6 608.6 605.6 609.1 605.6 609.6Z" fill="none" stroke="#d6cccc" stroke-width="1.4" stroke-linejoin="round" stroke-linecap="round"/>
<path d="M617.5 612.5C617.5 613 617 613.7 616.3 614.1C615.6 614.5 614.4 614.7 613.4 614.7C612.4 614.7 611.4 614.4 610.2 614.2C609 614 607 614 606.2 613.5C605.4 613 605 611.9 605.2 611.3C605.4 610.7 606.4 610.2 607.2 609.7C608.1 609.2 609.1 608.7 610.3 608.6C611.4 608.5 613.1 608.9 614.1 609.3C615.1 609.7 615.8 610.4 616.4 610.9C617 611.4 617.5 612 617.5 612.5Z" fill="none" stroke="#d6cccc" stroke-width="1.4" stroke-linejoin="round" stroke-linecap="round"/>
<path d="M615.5 612.4C615.4 612.7 614.9 612.9 614.4 613.1C613.9 613.3 613.3 613.4 612.7 613.4C612.1 613.4 611.6 613.4 611 613.3C610.4 613.2 609.6 613 609.2 612.7C608.8 612.4 608.4 611.9 608.5 611.6C608.6 611.3 609.4 611.1 609.8 610.9C610.2 610.7 610.5 610.3 611.1 610.3C611.7 610.2 612.6 610.4 613.2 610.6C613.8 610.8 614.4 611 614.8 611.3C615.2 611.6 615.6 612.1 615.5 612.4Z" fill="none" stroke="#d6cccc" stroke-width="1.4" stroke-linejoin="round" stroke-linecap="round"/>
<path d="M649.4 611.1C649 611.8 646 612.1 644.6 612.7C643.2 613.3 642.9 614.6 641.2 614.8C639.5 615 636 614.4 634.2 613.8C632.4 613.2 631.2 612.2 630.2 611.4C629.2 610.6 627.8 609.7 627.9 609C628 608.3 629.3 607.4 630.6 607C631.9 606.6 633.9 606.7 635.8 606.6C637.7 606.5 639.9 605.9 641.8 606.2C643.6 606.5 645.6 607.6 646.9 608.4C648.2 609.2 649.8 610.4 649.4 611.1Z" fill="none" stroke="#d6cccc" stroke-width="1.4" stroke-linejoin="round" stroke-linecap="round"/>
<path d="M643.9 610.6C643.8 611.1 643 611.4 642.3 611.7C641.6 612 640.6 612.4 639.6 612.4C638.6 612.4 637.3 611.9 636.4 611.6C635.5 611.3 634.9 611.1 634.1 610.7C633.3 610.3 631.6 609.8 631.4 609.3C631.2 608.8 632 608.1 632.9 607.9C633.8 607.7 635.6 607.9 636.7 608C637.8 608.1 638.6 608.1 639.7 608.3C640.8 608.5 642.5 608.6 643.2 609C643.9 609.4 644 610.1 643.9 610.6Z" fill="none" stroke="#d6cccc" stroke-width="1.4" stroke-linejoin="round" stroke-linecap="round"/>
<path d="M706.1 610.6C706.3 611.4 706.9 612.7 706.2 613.3C705.5 613.9 703.2 614.1 701.8 614.1C700.3 614.1 698.8 613.9 697.5 613.5C696.2 613.1 694.7 612.6 693.8 611.9C692.9 611.2 692 610 692.2 609.2C692.4 608.5 694.2 607.9 695.2 607.4C696.2 606.9 697.1 606.4 698.3 606.2C699.5 606.1 701.4 606.1 702.5 606.5C703.6 606.9 704.3 607.8 704.9 608.5C705.5 609.2 705.9 609.8 706.1 610.6Z" fill="none" stroke="#d6cccc" stroke-width="1.4" stroke-linejoin="round" stroke-linecap="round"/>
<path d="M703.4 610.3C703.3 610.8 703.6 611.4 703.2 611.7C702.8 612 701.7 612 700.9 612.1C700.1 612.2 699.2 612.3 698.5 612.1C697.8 611.9 697.3 611.3 696.9 610.9C696.5 610.5 696.3 610 696.3 609.6C696.3 609.2 696.7 608.8 697.1 608.4C697.5 608 698.2 607.5 698.9 607.4C699.6 607.3 700.7 607.6 701.5 607.9C702.3 608.1 703.5 608.5 703.8 608.9C704.1 609.3 703.5 609.8 703.4 610.3Z" fill="none" stroke="#d6cccc" stroke-width="1.4" stroke-linejoin="round" stroke-linecap="round"/>
<path d="M664 616C657.3 614.7 665.3 610 668 608C670.7 606 675.5 604.3 680 604C684.5 603.7 690.7 606.2 695 606C699.3 605.8 703.2 602.7 706 603C708.8 603.3 711.7 605.8 712 608C712.3 610.2 716 614.7 708 616C700 617.3 670.7 617.3 664 616Z" fill="#c72e4c" stroke="#d6cccc" stroke-width="1.5" stroke-linejoin="round" stroke-linecap="round"/>
<path d="M672 616C668.7 614.8 674.7 610.2 678 609C681.3 607.8 688.3 608.5 692 609C695.7 609.5 699 610.8 700 612C701 613.2 702.7 615.3 698 616C693.3 616.7 675.3 617.2 672 616Z" fill="#df4e4b" stroke="#d6cccc" stroke-width="1.2" stroke-linejoin="round" stroke-linecap="round"/>
<path d="M716 610C715.3 607.7 718 602.5 720 600C722 597.5 725.8 595.3 728 595C730.2 594.7 732.2 595.5 733 598C733.8 600.5 734.5 607.3 733 610C731.5 612.7 726.8 614 724 614C721.2 614 716.7 612.3 716 610Z" fill="#c8c8c8" stroke="#c8c8c8" stroke-width="1" stroke-linejoin="round" stroke-linecap="round"/>
<path d="M692.9 537C692.9 537.3 692.2 537.5 691.8 537.7C691.4 537.9 691 538.4 690.5 538.4C690 538.4 689.3 538.1 688.8 538C688.4 537.8 688.2 537.6 687.9 537.4C687.6 537.1 686.9 536.7 687.1 536.5C687.2 536.3 688 536 688.6 535.9C689.2 535.8 689.9 535.7 690.5 535.7C691.1 535.7 691.8 535.9 692.2 536.2C692.6 536.4 693 536.7 692.9 537Z" fill="#5a1828" stroke="none" stroke-width="1.2" stroke-linejoin="round" stroke-linecap="round"/>
<path d="M699.2 538.5C699.2 538.7 698.4 539 698 539.3C697.5 539.5 697.1 539.8 696.5 539.9C696 539.9 695.1 539.8 694.6 539.6C694 539.5 693.3 539.2 693.1 539C693 538.7 693.4 538.4 693.6 538.1C693.9 537.8 694.1 537.5 694.6 537.3C695 537.2 695.9 537.2 696.5 537.3C697 537.4 697.3 537.6 697.8 537.8C698.3 538 699.2 538.3 699.2 538.5Z" fill="#5a1828" stroke="none" stroke-width="1.2" stroke-linejoin="round" stroke-linecap="round"/>
<path d="M705.2 537.5C705.3 537.8 705.4 538.2 705.1 538.3C704.8 538.5 704 538.4 703.4 538.4C702.7 538.5 701.8 538.9 701.4 538.8C701 538.7 701 538.1 701 537.8C700.9 537.6 701 537.4 701.1 537.2C701.3 537 701.6 536.9 702 536.7C702.4 536.5 703.1 536 703.5 536.1C704 536.1 704.6 536.5 704.8 536.8C705.1 537 705.2 537.2 705.2 537.5Z" fill="#5a1828" stroke="none" stroke-width="1.2" stroke-linejoin="round" stroke-linecap="round"/>
<ellipse cx="697" cy="536.5" rx="2" ry="1" fill="#ddd"/>
<rect x="529" y="520.2" width="5" height="2.2" fill="#fff"/>
<path d="M528.5 522.8000000000001 h6" stroke="#000" stroke-width="1.4" fill="none"/>
<rect x="539" y="520.2" width="6" height="2.2" fill="#fff"/>
<path d="M538.5 522.8000000000001 h7" stroke="#000" stroke-width="1.4" fill="none"/>
<rect x="552" y="520.2" width="7" height="2.2" fill="#fff"/>
<path d="M551.5 522.8000000000001 h8" stroke="#000" stroke-width="1.4" fill="none"/>
<rect x="566" y="520.2" width="7" height="2.2" fill="#fff"/>
<path d="M565.5 522.8000000000001 h8" stroke="#000" stroke-width="1.4" fill="none"/>
<rect x="577" y="520.2" width="5" height="2.2" fill="#fff"/>
<path d="M576.5 522.8000000000001 h6" stroke="#000" stroke-width="1.4" fill="none"/>
<rect x="586" y="520.2" width="5" height="2.2" fill="#fff"/>
<path d="M585.5 522.8000000000001 h6" stroke="#000" stroke-width="1.4" fill="none"/>
<rect x="599" y="511.5" width="5" height="3" fill="#fff"/>
<path d="M598.5 511.1 h6" stroke="#000" stroke-width="1.4" fill="none"/>
<rect x="603" y="514" width="2.5" height="5" fill="#fff"/>
<path d="M605.9 513.5 v6" stroke="#000" stroke-width="1.4" fill="none"/>
<rect x="579" y="455.8" width="8" height="2.4" fill="#fff"/>
<path d="M578.5 455.40000000000003 h9" stroke="#000" stroke-width="1.4" fill="none"/>
<rect x="588" y="454.6" width="10.5" height="2.2" fill="#fff"/>
<path d="M587.5 454.20000000000005 h11.5" stroke="#000" stroke-width="1.4" fill="none"/>
<rect x="538.5" y="463.5" width="5" height="3" fill="#fff"/>
<path d="M538.0 463.1 h6" stroke="#000" stroke-width="1.4" fill="none"/>
<rect x="513" y="475" width="3" height="4.5" fill="#fff"/>
<path d="M512.6 474.5 v5.5" stroke="#000" stroke-width="1.4" fill="none"/>
<rect x="504" y="487" width="4.5" height="2.6" fill="#fff"/>
<path d="M503.5 486.6 h5.5" stroke="#000" stroke-width="1.4" fill="none"/>
<rect x="554" y="457.3" width="3" height="2" fill="#fff"/>
<path d="M553.5 456.90000000000003 h4" stroke="#000" stroke-width="1.4" fill="none"/>
<rect x="613.5" y="450.6" width="5" height="2.6" fill="#fff"/>
<path d="M613.0 450.20000000000005 h6" stroke="#000" stroke-width="1.4" fill="none"/>
<rect x="641" y="494.5" width="6" height="2.4" fill="#fff"/>
<path d="M640.5 497.29999999999995 h7" stroke="#000" stroke-width="1.4" fill="none"/>
<rect x="650" y="490.8" width="5" height="2.4" fill="#fff"/>
<path d="M649.5 493.59999999999997 h6" stroke="#000" stroke-width="1.4" fill="none"/>
<rect x="657" y="488" width="5" height="2.4" fill="#fff"/>
<path d="M656.5 490.79999999999995 h6" stroke="#000" stroke-width="1.4" fill="none"/>
<rect x="664" y="486.5" width="6" height="2.4" fill="#fff"/>
<path d="M663.5 489.29999999999995 h7" stroke="#000" stroke-width="1.4" fill="none"/>
<rect x="672" y="483" width="4" height="2.4" fill="#fff"/>
<path d="M671.5 485.79999999999995 h5" stroke="#000" stroke-width="1.4" fill="none"/>
<rect x="690" y="484.5" width="7" height="3" fill="#fff"/>
<path d="M689.5 484.1 h8" stroke="#000" stroke-width="1.4" fill="none"/>
<rect x="714" y="478" width="4" height="6" fill="#fff"/>
<path d="M718.4 477.5 v7" stroke="#000" stroke-width="1.4" fill="none"/>
<rect x="726" y="468.5" width="7" height="2.6" fill="#fff"/>
<path d="M725.5 471.5 h8" stroke="#000" stroke-width="1.4" fill="none"/>
<path d="M657 418 L660 416.8 L676 416.6" stroke="#000" stroke-width="1.5" fill="none"/>
<rect x="663" y="418" width="5" height="2.6" fill="#fff"/>
<path d="M662.5 417.6 h6" stroke="#000" stroke-width="1.4" fill="none"/>
<rect x="673" y="417.6" width="5" height="2.6" fill="#fff"/>
<path d="M672.5 417.20000000000005 h6" stroke="#000" stroke-width="1.4" fill="none"/>
<rect x="641" y="436" width="3" height="4" fill="#fff"/>
<path d="M640.6 435.5 v5" stroke="#000" stroke-width="1.4" fill="none"/>
<rect x="633" y="449.5" width="4" height="3" fill="#fff"/>
<path d="M632.6 449.0 v4" stroke="#000" stroke-width="1.4" fill="none"/>
<rect x="645" y="427" width="2.5" height="2.5" fill="#fff"/>
<path d="M644.6 426.5 v3.5" stroke="#000" stroke-width="1.4" fill="none"/>
<path d="M688 379 L694 376.5 L702 364" stroke="#000" stroke-width="1.3" fill="none"/>
<rect x="689" y="377.6" width="4.5" height="2.4" fill="#fff"/>
<path d="M688.5 377.20000000000005 h5.5" stroke="#000" stroke-width="1.4" fill="none"/>
<rect x="703" y="360.5" width="2.4" height="2.4" fill="#fff"/>
<path d="M702.5 360.1 h3.4" stroke="#000" stroke-width="1.4" fill="none"/>
<rect x="708" y="299" width="5" height="3" fill="#fff"/>
<path d="M707.5 298.6 h6" stroke="#000" stroke-width="1.4" fill="none"/>
<rect x="716" y="287" width="3.5" height="2.6" fill="#fff"/>
<path d="M715.5 286.6 h4.5" stroke="#000" stroke-width="1.4" fill="none"/>
<rect x="724" y="269" width="4" height="5" fill="#fff"/>
<path d="M723.6 268.5 v6" stroke="#000" stroke-width="1.4" fill="none"/>
<path d="M724 266 L733 265" stroke="#000" stroke-width="1.4"/>
<rect x="706" y="341" width="2.2" height="2.2" fill="#fff"/>
<path d="M705.5 340.6 h3.2" stroke="#000" stroke-width="1.4" fill="none"/>
<rect x="703.5" y="350.5" width="2.2" height="2.2" fill="#fff"/>
<path d="M703.0 350.1 h3.2" stroke="#000" stroke-width="1.4" fill="none"/>
<path d="M371.5 200.5 L374.5 203 L377.5 201.5 L376 206 L380 205 L378.5 210 L383 209.5 L381.5 214.5 L384 217.5 L380.5 219 L383.5 222.5 L386 225 L382.5 227.5" stroke="#000" stroke-width="1.6" fill="none" stroke-linejoin="round"/>
<rect x="376.5" y="206.5" width="2.6" height="3.4" fill="#fff"/>
<path d="M379.5 206.0 v4.4" stroke="#000" stroke-width="1.4" fill="none"/>
<rect x="379.5" y="213" width="4" height="2.4" fill="#fff"/>
<path d="M379.0 215.8 h5" stroke="#000" stroke-width="1.4" fill="none"/>
<rect x="381.5" y="221.5" width="4.5" height="3" fill="#fff"/>
<path d="M381.0 224.9 h5.5" stroke="#000" stroke-width="1.4" fill="none"/>
<rect x="379.2" y="233" width="2.2" height="6" fill="#fff"/>
<path d="M381.79999999999995 232.5 v7" stroke="#000" stroke-width="1.4" fill="none"/>
<rect x="379.5" y="243.5" width="2.6" height="2" fill="#fff"/>
<path d="M379.0 245.9 h3.6" stroke="#000" stroke-width="1.4" fill="none"/>
<rect x="373" y="196.8" width="3" height="2.2" fill="#fff"/>
<path d="M372.5 199.4 h4" stroke="#000" stroke-width="1.4" fill="none"/>
<rect x="383.5" y="186.2" width="3.4" height="2" fill="#fff"/>
<path d="M383.0 188.6 h4.4" stroke="#000" stroke-width="1.4" fill="none"/>
<rect x="375.5" y="191.5" width="2.4" height="2" fill="#fff"/>
<path d="M375.0 193.9 h3.4" stroke="#000" stroke-width="1.4" fill="none"/>
<path d="M411.5 168 L418 166.6 L424 168 L428 169.5 L431 173 L436 174.6" stroke="#000" stroke-width="1.4" fill="none" stroke-dasharray="5 2"/>
<rect x="412" y="165.4" width="6.5" height="2.2" fill="#fff"/>
<path d="M411.5 168.0 h7.5" stroke="#000" stroke-width="1.4" fill="none"/>
<rect x="462" y="173.2" width="3" height="1.8" fill="#fff"/>
<path d="M461.5 175.4 h4" stroke="#000" stroke-width="1.4" fill="none"/>
<rect x="468.5" y="172.6" width="3" height="1.8" fill="#fff"/>
<path d="M468.0 174.8 h4" stroke="#000" stroke-width="1.4" fill="none"/>
<rect x="497" y="175.4" width="3.5" height="1.8" fill="#fff"/>
<path d="M496.5 177.60000000000002 h4.5" stroke="#000" stroke-width="1.4" fill="none"/>
<rect x="546" y="178" width="3" height="1.8" fill="#fff"/>
<path d="M545.5 180.20000000000002 h4" stroke="#000" stroke-width="1.4" fill="none"/>
<rect x="530" y="180.5" width="2.5" height="1.8" fill="#fff"/>
<path d="M529.5 182.70000000000002 h3.5" stroke="#000" stroke-width="1.4" fill="none"/>
<rect x="557" y="177.5" width="3.5" height="1.8" fill="#fff"/>
<path d="M556.5 179.70000000000002 h4.5" stroke="#000" stroke-width="1.4" fill="none"/>
<rect x="601" y="179.8" width="3" height="1.8" fill="#fff"/>
<path d="M600.5 182.00000000000003 h4" stroke="#000" stroke-width="1.4" fill="none"/>
<rect x="622" y="176" width="3" height="1.8" fill="#fff"/>
<path d="M621.5 178.20000000000002 h4" stroke="#000" stroke-width="1.4" fill="none"/>
<path d="M361 378.5 L365 380.5 L368 379.5 L369.5 383.5 L372 381.5 L374 376 L376 371 L378.5 367.5 L380 370 L378 375.5 L377 380.5 L373.5 383.5 L370 385" stroke="#000" stroke-width="1.5" fill="none" stroke-linejoin="round"/>
<ellipse cx="371.8" cy="378.6" rx="1.6" ry="1.6" fill="#d9d9d9"/>
<path d="M372 387.5 L375 388.5 L378.5 386 L382 385.5 L385 387.5 L384 391 L380.5 392" stroke="#000" stroke-width="1.5" fill="none" stroke-linejoin="round"/>
<ellipse cx="381.5" cy="388.8" rx="1.6" ry="1.3" fill="#d9d9d9"/>
<rect x="358" y="366.5" width="2.2" height="5.5" fill="#fff"/>
<path d="M357.6 366.0 v6.5" stroke="#000" stroke-width="1.4" fill="none"/>
<rect x="379.5" y="438.5" width="3" height="3" fill="#fff"/>
<path d="M379.1 438.0 v4" stroke="#000" stroke-width="1.4" fill="none"/>
<path d="M380.7 443.4 L396 444.6 L414.6 446.6 L421 444.4 L427 442.2 L434 440.6 L441.4 440.2 L448 440.8 L454 442.2 L460.5 444.8 L466.4 448.2 L471 452 L475.4 456.2 L471.8 460.9 L476 466 L480.7 471.6 L484.3 477 L489 480.4 L493 483.2" stroke="#000" stroke-width="1.5" fill="none" stroke-linejoin="round"/>
<rect x="378.5" y="441.5" width="3" height="2.4" fill="#fff"/>
<path d="M378.0 441.1 h4" stroke="#000" stroke-width="1.4" fill="none"/>
<rect x="492" y="484" width="4" height="2.4" fill="#fff"/>
<path d="M491.5 486.79999999999995 h5" stroke="#000" stroke-width="1.4" fill="none"/>
<rect x="506" y="487.6" width="5" height="2.4" fill="#fff"/>
<path d="M505.5 490.4 h6" stroke="#000" stroke-width="1.4" fill="none"/>
<path d="M488 503.6 L487.4 509 L487 514 L484.5 516" stroke="#000" stroke-width="1.4" fill="none"/>
</g>
<g clip-path="url(#ax)" fill="none" stroke="#000" stroke-width="1.3">
<path d="M185.75 56.5 L136.2 616"/>
<path d="M348.75 56.5 L333.75 616"/>
<path d="M510.5 56.5 L529.5 616"/>
<path d="M674.25 56.5 L726.25 616"/>
<path d="M108.5 100.5C121.2 101.5 159.8 104.6 185 106.2C210.2 107.9 236.7 109.4 260 110.6C283.3 111.8 301.7 112.8 325 113.5C348.3 114.2 381.3 114.4 400 114.6C418.7 114.8 420.3 114.8 437 114.6C453.7 114.4 481.2 114 500 113.6C518.8 113.2 526.7 113.3 550 112.3C573.3 111.2 609.1 109.2 640 107.3C670.9 105.3 719.6 101.7 735.5 100.6"/>
<path d="M108.5 310.8C117.4 311.4 140.1 313.1 162 314.5C183.9 315.9 212.8 317.9 240 319.3C267.2 320.7 298.3 322.2 325 323C351.7 323.8 381.3 323.8 400 324C418.7 324.2 420.3 324.1 437 324C453.7 323.9 481.2 323.6 500 323.3C518.8 323 526.7 323.1 550 322C573.3 320.9 609.1 318.5 640 316.6C670.9 314.7 719.6 311.7 735.5 310.8"/>
<path d="M108.5 520C114.6 520.4 123.1 521.1 145 522.5C166.9 523.9 210 526.8 240 528.2C270 529.7 298.3 530.5 325 531.2C351.7 531.9 381.3 532.3 400 532.5C418.7 532.7 420.3 532.6 437 532.5C453.7 532.4 481.2 532.1 500 531.8C518.8 531.5 526.7 531.5 550 530.5C573.3 529.5 609.1 527.4 640 525.8C670.9 524.1 719.6 521.3 735.5 520.4"/>
</g>
<g><path d="M406.6 346.6 L436.9 326.2" stroke="#000" stroke-width="3.7" fill="none"/><circle cx="422.5" cy="336.2" r="7" fill="#ff0000" stroke="#000" stroke-width="3"/></g>
<text x="259.2" y="593" font-size="16.76" style="fill:#3a3a3a" fill-opacity="0.95">Grey contours: precipitation ≥ 0.5 mm</text>
<rect x="108.5" y="56.5" width="627.0" height="559.5" fill="none" stroke="#000" stroke-width="1.2"/>
<g>
<path d="M750.6 132.3 L760.8 111.3 L771.0 132.3 Z" fill="#9e0142"/>
<path d="M750.6 539.4000000000001 L760.8 559.9 L771.0 539.4000000000001 Z" fill="#5e4fa2"/>
<rect x="750.6" y="527.20" width="20.4" height="12.65" fill="#5956a5"/>
<rect x="750.6" y="514.84" width="20.4" height="12.65" fill="#4b68ae"/>
<rect x="750.6" y="502.49" width="20.4" height="12.65" fill="#3d79b6"/>
<rect x="750.6" y="490.13" width="20.4" height="12.65" fill="#358bbc"/>
<rect x="750.6" y="477.78" width="20.4" height="12.65" fill="#439bb5"/>
<rect x="750.6" y="465.42" width="20.4" height="12.65" fill="#54aead"/>
<rect x="750.6" y="453.07" width="20.4" height="12.65" fill="#64c0a6"/>
<rect x="750.6" y="440.71" width="20.4" height="12.65" fill="#79c9a5"/>
<rect x="750.6" y="428.36" width="20.4" height="12.65" fill="#8cd1a4"/>
<rect x="750.6" y="416.00" width="20.4" height="12.65" fill="#a2d9a4"/>
<rect x="750.6" y="403.65" width="20.4" height="12.65" fill="#b5e1a2"/>
<rect x="750.6" y="391.30" width="20.4" height="12.65" fill="#c8e99e"/>
<rect x="750.6" y="378.94" width="20.4" height="12.65" fill="#d8ef9b"/>
<rect x="750.6" y="366.59" width="20.4" height="12.65" fill="#e8f69b"/>
<rect x="750.6" y="354.23" width="20.4" height="12.65" fill="#f0f9a7"/>
<rect x="750.6" y="341.88" width="20.4" height="12.65" fill="#f8fcb4"/>
<rect x="750.6" y="329.52" width="20.4" height="12.65" fill="#fffebe"/>
<rect x="750.6" y="317.17" width="20.4" height="12.65" fill="#fff6b0"/>
<rect x="750.6" y="304.81" width="20.4" height="12.65" fill="#feec9f"/>
<rect x="750.6" y="292.46" width="20.4" height="12.65" fill="#fee28f"/>
<rect x="750.6" y="280.10" width="20.4" height="12.65" fill="#fed481"/>
<rect x="750.6" y="267.75" width="20.4" height="12.65" fill="#fdc776"/>
<rect x="750.6" y="255.40" width="20.4" height="12.65" fill="#fdb768"/>
<rect x="750.6" y="243.04" width="20.4" height="12.65" fill="#fca55d"/>
<rect x="750.6" y="230.69" width="20.4" height="12.65" fill="#f99153"/>
<rect x="750.6" y="218.33" width="20.4" height="12.65" fill="#f67f4b"/>
<rect x="750.6" y="205.98" width="20.4" height="12.65" fill="#f36b43"/>
<rect x="750.6" y="193.62" width="20.4" height="12.65" fill="#e95c47"/>
<rect x="750.6" y="181.27" width="20.4" height="12.65" fill="#df4e4b"/>
<rect x="750.6" y="168.91" width="20.4" height="12.65" fill="#d7414e"/>
<rect x="750.6" y="156.56" width="20.4" height="12.65" fill="#c72e4c"/>
<rect x="750.6" y="144.20" width="20.4" height="12.65" fill="#b61b48"/>
<rect x="750.6" y="131.85" width="20.4" height="12.65" fill="#a40844"/>
<path d="M750.6 132.0 L760.8 111.3 L771.0 132.0 L771.0 539.7 L760.8 559.9 L750.6 539.7 Z" fill="none" stroke="#000" stroke-width="1.2" stroke-linejoin="miter"/>
<path d="M765.5 514.99 L771.0 514.99" stroke="#000" stroke-width="1"/>
<text x="775.0" y="524.19" font-size="29.5">−4</text>
<path d="M765.5 465.57 L771.0 465.57" stroke="#000" stroke-width="1"/>
<text x="775.0" y="474.77" font-size="29.5">0</text>
<path d="M765.5 416.15 L771.0 416.15" stroke="#000" stroke-width="1"/>
<text x="775.0" y="425.35" font-size="29.5">4</text>
<path d="M765.5 366.74 L771.0 366.74" stroke="#000" stroke-width="1"/>
<text x="775.0" y="375.94" font-size="29.5">8</text>
<path d="M765.5 317.32 L771.0 317.32" stroke="#000" stroke-width="1"/>
<text x="775.0" y="326.52" font-size="29.5">12</text>
<path d="M765.5 267.90 L771.0 267.90" stroke="#000" stroke-width="1"/>
<text x="775.0" y="277.10" font-size="29.5">16</text>
<path d="M765.5 218.48 L771.0 218.48" stroke="#000" stroke-width="1"/>
<text x="775.0" y="227.68" font-size="29.5">20</text>
<path d="M765.5 169.06 L771.0 169.06" stroke="#000" stroke-width="1"/>
<text x="775.0" y="178.26" font-size="29.5">24</text>
</g>
<text x="423" y="49" font-size="25.02" text-anchor="middle">Init: 2017-04-30 00:00; Valid: 2017-06-16 12:00</text>
<text x="137.2" y="643.7" font-size="27.3" text-anchor="middle">-15.0</text>
<text x="332.8" y="643.7" font-size="27.3" text-anchor="middle">-10.0</text>
<text x="529.3" y="643.7" font-size="27.3" text-anchor="middle">-5.0</text>
<text x="726.6" y="643.7" font-size="27.3" text-anchor="middle">0.0</text>
<text x="103.4" y="108.70" font-size="27.3" text-anchor="end">45.0</text>
<text x="103.4" y="318.95" font-size="27.3" text-anchor="end">40.0</text>
<text x="103.4" y="528.20" font-size="27.3" text-anchor="end">35.0</text>
<text x="423.3" y="679.8" font-size="30.5" text-anchor="middle">Longitude (deg)</text>
<text transform="translate(29.9 335.5) rotate(-90)" font-size="30.4" text-anchor="middle">Latitude (deg)</text>
<text transform="translate(845 336.4) rotate(-90)" font-size="30.4" text-anchor="middle">Temperature at 80 mAGL (deg C)</text>
</svg>
</body></html>
